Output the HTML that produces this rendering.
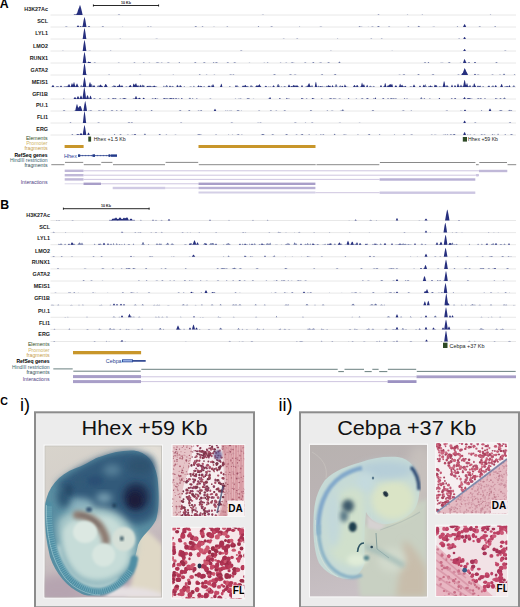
<!DOCTYPE html>
<html><head><meta charset="utf-8"><style>
html,body{margin:0;padding:0;background:#fff;}
body{width:520px;height:607px;overflow:hidden;position:relative;font-family:"Liberation Sans", sans-serif;}
svg{position:absolute;left:0;top:0;}
svg text{font-family:"Liberation Sans", sans-serif;}
</style></head><body>
<svg width="520" height="607" viewBox="0 0 520 607">
<text x="-0.3" y="8.3" font-size="12.3" fill="#000" text-anchor="start" font-weight="bold" >A</text>
<line x1="93" y1="5.5" x2="159" y2="5.5" stroke="#111" stroke-width="0.9" />
<line x1="93.4" y1="4.3" x2="93.4" y2="6.7" stroke="#111" stroke-width="0.7" />
<line x1="158.6" y1="4.3" x2="158.6" y2="6.7" stroke="#111" stroke-width="0.7" />
<text x="126" y="3.8" font-size="3.6" fill="#222" text-anchor="middle" font-weight="bold" >10 Kb</text>
<text x="48" y="10.6" font-size="5.4" fill="#1a1a1a" text-anchor="end" font-weight="bold" >H3K27Ac</text>
<line x1="50.5" y1="15" x2="516" y2="15" stroke="#e2e2e2" stroke-width="0.8" />
<polygon points="50.50,15 117.50,15 117.75,14.95 118,14.83 118.25,14.72 118.50,14.62 118.75,14.54 119,14.47 119.25,14.53 119.50,14.61 119.75,14.71 120,14.81 120.25,14.93 120.50,15 261.25,15 261.50,14.95 261.75,14.88 262,14.82 262.25,14.77 262.50,14.72 262.75,14.68 263,14.69 263.25,14.74 263.50,14.79 263.75,14.84 264,14.90 264.25,14.97 264.50,15 377.25,15 377.50,14.98 377.75,14.78 378,14.60 378.25,14.44 378.50,14.33 378.75,14.44 379,14.59 379.25,14.77 379.50,14.97 379.75,15 406.50,15 406.75,14.97 407,14.81 407.25,14.68 407.50,14.60 407.75,14.70 408,14.84 408.25,15 408.50,15 421.50,15 421.75,14.87 422,14.64 422.25,14.46 422.50,14.54 422.75,14.76 423,15 489.50,15 489.75,14.88 490,14.73 490.25,14.61 490.50,14.54 490.75,14.63 491,14.76 491.25,14.91 491.50,15 516,15" fill="#6a74a4"/>
<polygon points="50.50,15 73.50,15 73.75,14.83 74,14.67 74.25,14.52 74.50,14.39 74.75,14.28 75,14.20 75.25,14.28 75.50,14.39 75.75,14.52 76,14.67 76.25,14.30 76.50,13.98 76.75,13.52 77,13.10 77.25,12.74 77.50,12 77.75,11.03 78,10.21 78.25,9.49 78.50,8.87 78.75,8.33 79,7.89 79.25,6.99 79.50,6.17 79.75,5.48 80,5 80.25,5.48 80.50,6.17 80.75,6.99 81,7.89 81.25,8.86 81.50,9.89 81.75,10.98 82,12.11 82.25,13.29 82.50,14.50 82.75,15 516,15" fill="#262f7e"/>
<text x="48" y="23" font-size="5.4" fill="#1a1a1a" text-anchor="end" font-weight="bold" >SCL</text>
<line x1="50.5" y1="27" x2="516" y2="27" stroke="#e2e2e2" stroke-width="0.8" />
<polygon points="50.50,27 64.75,27 65,26.90 65.25,26.80 65.50,26.70 65.75,26.61 66,26.53 66.25,26.47 66.50,26.49 66.75,26.56 67,26.64 67.25,26.73 67.50,26.84 67.75,26.94 68,27 80.50,27 80.75,26.97 81,26.88 81.25,26.79 81.50,26.70 81.75,26.48 82,26.29 82.25,26.20 82.50,26.15 82.75,26.14 83,26.27 83.25,26.48 83.50,26.56 83.75,26.52 84,26.54 84.25,26.62 84.50,26.77 84.75,26.96 85,27 101.50,27 101.75,26.85 102,26.64 102.25,26.45 102.50,26.29 102.75,26.16 103,26.18 103.25,26.31 103.50,26.48 103.75,26.67 104,26.88 104.25,27 121.75,27 122,26.90 122.25,26.78 122.50,26.69 122.75,26.72 123,26.82 123.25,26.94 123.50,27 147,27 147.25,26.90 147.50,26.70 147.75,26.53 148,26.41 148.25,26.49 148.50,26.65 148.75,26.84 149,27 150,27 150.25,26.87 150.50,26.72 150.75,26.60 151,26.56 151.25,26.66 151.50,26.80 151.75,26.95 152,27 194.25,27 194.50,26.99 194.75,26.77 195,26.57 195.25,26.38 195.50,26.22 195.75,26.10 196,26.18 196.25,26.33 196.50,26.51 196.75,26.71 197,26.93 197.25,27 201.50,27 201.75,26.87 202,26.65 202.25,26.45 202.50,26.30 202.75,26.31 203,26.47 203.25,26.67 203.50,26.89 203.75,27 213,27 213.25,26.89 213.50,26.78 213.75,26.69 214,26.68 214.25,26.76 214.50,26.87 214.75,26.99 215,27 226.25,27 226.50,26.84 226.75,26.67 227,26.53 227.25,26.41 227.50,26.48 227.75,26.62 228,26.78 228.25,26.96 228.50,27 257.50,27 257.75,26.92 258,26.55 258.25,26.24 258.50,26.11 258.75,26.37 259,26.72 259.25,27 270,27 270.25,27 270.50,26.86 270.75,26.73 271,26.61 271.25,26.50 271.50,26.41 271.75,26.35 272,26.42 272.25,26.52 272.50,26.63 272.75,26.76 273,26.89 273.25,27 298.75,27 299,26.88 299.25,26.63 299.50,26.46 299.75,26.61 300,26.85 300.25,27 319.25,27 319.50,26.93 319.75,26.84 320,26.77 320.25,26.69 320.50,26.63 320.75,26.58 321,26.58 321.25,26.63 321.50,26.70 321.75,26.77 322,26.85 322.25,26.94 322.50,27 358.50,27 358.75,26.87 359,26.59 359.25,26.35 359.50,26.15 359.75,26.14 360,26.34 360.25,26.58 360.50,26.85 360.75,26.91 361,26.83 361.25,26.75 361.50,26.70 361.75,26.73 362,26.79 362.25,26.87 362.50,26.96 362.75,27 367.50,27 367.75,26.92 368,26.79 368.25,26.70 368.50,26.76 368.75,26.88 369,27 370.75,27 371,26.95 371.25,26.86 371.50,26.78 371.75,26.70 372,26.64 372.25,26.58 372.50,26.56 372.75,26.61 373,26.67 373.25,26.74 373.50,26.82 373.75,26.91 374,27 374.25,27 376.75,27 377,26.97 377.25,26.85 377.50,26.59 377.75,26.35 378,26.14 378.25,26.02 378.50,25.96 378.75,26.05 379,26.24 379.25,26.46 379.50,26.63 379.75,26.80 380,26.99 380.25,27 387.75,27 388,26.89 388.25,26.76 388.50,26.64 388.75,26.53 389,26.46 389.25,26.50 389.50,26.59 389.75,26.70 390,26.83 390.25,26.97 390.50,27 407.25,27 407.50,26.85 407.75,26.70 408,26.57 408.25,26.47 408.50,26.49 408.75,26.60 409,26.74 409.25,26.89 409.50,27 417.25,27 417.50,26.90 417.75,26.73 418,26.53 418.25,26.23 418.50,25.98 418.75,25.82 419,25.94 419.25,26.18 419.50,26.46 419.75,26.61 420,26.76 420.25,26.93 420.50,27 432,27 432.25,26.96 432.50,26.89 432.75,26.82 433,26.76 433.25,26.70 433.50,26.66 433.75,26.65 434,26.69 434.25,26.74 434.50,26.80 434.75,26.87 435,26.94 435.25,27 456.50,27 456.75,26.88 457,26.51 457.25,26.22 457.50,26.19 457.75,26.47 458,26.83 458.25,27 478.25,27 478.50,27 478.75,26.84 479,26.70 479.25,26.57 479.50,26.45 479.75,26.37 480,26.44 480.25,26.55 480.50,26.68 480.75,26.83 481,26.98 481.25,27 494,27 494.25,26.92 494.50,26.63 494.75,26.36 495,26.15 495.25,26.15 495.50,26.36 495.75,26.62 496,26.92 496.25,27 516,27" fill="#6a74a4"/>
<polygon points="50.50,27 76.75,27 77,26.62 77.25,26.18 77.50,25.78 77.75,25.43 78,25.20 78.25,25.43 78.50,25.78 78.75,26.18 79,26.62 79.25,27 79.50,27 79.75,26.69 80,26.41 80.25,26.16 80.50,26 80.75,26.16 81,26.41 81.25,26.69 81.50,27 82.50,27 82.75,25.41 83,23.88 83.25,22.43 83.50,21.06 83.75,19.79 84,18.65 84.25,17.67 84.50,17 84.75,17.67 85,18.65 85.25,19.79 85.50,21.06 85.75,22.43 86,23.88 86.25,25.41 86.50,27 87.75,27 88,26.79 88.25,26.54 88.50,26.32 88.75,26.13 89,26 89.25,26.13 89.50,26.32 89.75,26.54 90,26.79 90.25,27 463,27 463.25,26.62 463.50,26 463.75,25.43 464,24.91 464.25,24.45 464.50,24.09 464.75,24.15 465,24.54 465.25,25.01 465.50,25.54 465.75,26.12 466,26.74 466.25,27 516,27" fill="#262f7e"/>
<text x="48" y="34.9" font-size="5.4" fill="#1a1a1a" text-anchor="end" font-weight="bold" >LYL1</text>
<line x1="50.5" y1="39" x2="516" y2="39" stroke="#e2e2e2" stroke-width="0.8" />
<polygon points="50.50,39 119.25,39 119.50,38.92 119.75,38.71 120,38.53 120.25,38.48 120.50,38.63 120.75,38.83 121,39 155,39 155.25,38.99 155.50,38.92 155.75,38.84 156,38.77 156.25,38.71 156.50,38.67 156.75,38.66 157,38.71 157.25,38.77 157.50,38.83 157.75,38.91 158,38.98 158.25,39 282.50,39 282.75,38.94 283,38.83 283.25,38.74 283.50,38.66 283.75,38.61 284,38.67 284.25,38.75 284.50,38.85 284.75,38.95 285,39 296,39 296.25,38.90 296.50,38.76 296.75,38.62 297,38.51 297.25,38.46 297.50,38.55 297.75,38.66 298,38.80 298.25,38.95 298.50,39 337,39 337.25,38.81 337.50,38.60 337.75,38.49 338,38.66 338.25,38.89 338.50,39 370,39 370.25,38.95 370.50,38.79 370.75,38.65 371,38.53 371.25,38.46 371.50,38.56 371.75,38.68 372,38.83 372.25,38.99 372.50,39 380.75,39 381,38.84 381.25,38.68 381.50,38.55 381.75,38.46 382,38.55 382.25,38.68 382.50,38.84 382.75,39 458,39 458.25,38.92 458.50,38.74 458.75,38.58 459,38.45 459.25,38.44 459.50,38.57 459.75,38.73 460,38.92 460.25,39 516,39" fill="#6a74a4"/>
<polygon points="50.50,39 82.50,39 82.75,38.60 83,36.68 83.25,34.85 83.50,33.12 83.75,31.52 84,30.08 84.25,28.85 84.50,28 84.75,28.85 85,30.08 85.25,31.52 85.50,33.12 85.75,34.85 86,36.68 86.25,38.60 86.50,39 463.25,39 463.50,38.57 463.75,38.07 464,37.61 464.25,37.20 464.50,36.88 464.75,36.93 465,37.28 465.25,37.69 465.50,38.16 465.75,38.68 466,39 516,39" fill="#262f7e"/>
<text x="48" y="48.2" font-size="5.4" fill="#1a1a1a" text-anchor="end" font-weight="bold" >LMO2</text>
<line x1="50.5" y1="51" x2="516" y2="51" stroke="#e2e2e2" stroke-width="0.8" />
<polygon points="50.50,51 62.25,51 62.50,50.83 62.75,50.69 63,50.62 63.25,50.73 63.50,50.88 63.75,51 88,51 88.25,50.98 88.50,50.89 88.75,50.81 89,50.74 89.25,50.68 89.50,50.63 89.75,50.63 90,50.68 90.25,50.75 90.50,50.82 90.75,50.90 91,50.98 91.25,51 109.75,51 110,50.90 110.25,50.71 110.50,50.56 110.75,50.52 111,50.66 111.25,50.84 111.50,51 239.75,51 240,50.97 240.25,50.83 240.50,50.70 240.75,50.59 241,50.48 241.25,50.41 241.50,50.47 241.75,50.56 242,50.68 242.25,50.80 242.50,50.94 242.75,51 329.75,51 330,50.95 330.25,50.84 330.50,50.75 330.75,50.67 331,50.68 331.25,50.75 331.50,50.85 331.75,50.95 332,51 391.25,51 391.50,50.96 391.75,50.79 392,50.65 392.25,50.66 392.50,50.80 392.75,50.97 393,51 463,51 463.25,50.89 463.50,50.63 463.75,50.42 464,50.42 464.25,50.63 464.50,50.89 464.75,51 503.75,51 504,50.99 504.25,50.87 504.50,50.77 504.75,50.67 505,50.58 505.25,50.52 505.50,50.56 505.75,50.64 506,50.73 506.25,50.84 506.50,50.95 506.75,51 516,51" fill="#6a74a4"/>
<polygon points="50.50,51 82.50,51 82.75,50.60 83,48.68 83.25,46.85 83.50,45.12 83.75,43.52 84,42.08 84.25,40.85 84.50,40 84.75,40.85 85,42.08 85.25,43.52 85.50,45.12 85.75,46.85 86,48.68 86.25,50.60 86.50,51 463.25,51 463.50,50.61 463.75,50.15 464,49.73 464.25,49.36 464.50,49.07 464.75,49.12 465,49.43 465.25,49.81 465.50,50.24 465.75,50.71 466,51 516,51" fill="#262f7e"/>
<text x="48" y="60.4" font-size="5.4" fill="#1a1a1a" text-anchor="end" font-weight="bold" >RUNX1</text>
<line x1="50.5" y1="63" x2="516" y2="63" stroke="#e2e2e2" stroke-width="0.8" />
<polygon points="50.50,63 83.50,63 83.75,62.79 84,62.56 84.25,62.35 84.50,62.18 84.75,62.09 85,62.23 85.25,62.42 85.50,62.64 85.75,62.88 86,63 89.25,63 89.50,62.92 89.75,62.73 90,62.58 90.25,62.48 90.50,62.49 90.75,62.63 91,62.78 91.25,62.98 91.50,63 93.50,63 93.75,62.85 94,62.68 94.25,62.52 94.50,62.38 94.75,62.30 95,62.39 95.25,62.53 95.50,62.69 95.75,62.86 96,63 117.50,63 117.75,62.90 118,62.81 118.25,62.72 118.50,62.64 118.75,62.59 119,62.64 119.25,62.72 119.50,62.81 119.75,62.90 120,63 133,63 133.25,62.93 133.50,62.80 133.75,62.69 134,62.65 134.25,62.55 134.50,62.40 134.75,62.32 135,62.44 135.25,62.70 135.50,63 142.50,63 142.75,62.98 143,62.79 143.25,62.62 143.50,62.47 143.75,62.37 144,62.45 144.25,62.59 144.50,62.75 144.75,62.94 145,63 148.25,63 148.50,62.98 148.75,62.85 149,62.72 149.25,62.63 149.50,62.61 149.75,62.70 150,62.82 150.25,62.95 150.50,63 155.50,63 155.75,62.97 156,62.84 156.25,62.73 156.50,62.62 156.75,62.53 157,62.42 157.25,62.38 157.50,62.37 157.75,62.39 158,62.43 158.25,62.50 158.50,62.56 158.75,62.64 159,62.72 159.25,62.81 159.50,62.92 159.75,63 160.50,63 160.75,62.93 161,62.81 161.25,62.70 161.50,62.61 161.75,62.57 162,62.65 162.25,62.74 162.50,62.86 162.75,62.98 163,63 166.75,63 167,62.95 167.25,62.83 167.50,62.72 167.75,62.62 168,62.52 168.25,62.45 168.50,62.42 168.75,62.49 169,62.57 169.25,62.67 169.50,62.78 169.75,62.90 170,63 178.50,63 178.75,62.71 179,62.36 179.25,62.10 179.50,62.24 179.75,62.56 180,62.95 180.25,63 194,63 194.25,62.79 194.50,62.59 194.75,62.41 195,62.25 195.25,62.13 195.50,62.19 195.75,62.33 196,62.51 196.25,62.70 196.50,62.91 196.75,63 202.75,63 203,62.91 203.25,62.75 203.50,62.60 203.75,62.47 204,62.35 204.25,62.26 204.50,62.30 204.75,62.40 205,62.53 205.25,62.67 205.50,62.82 205.75,62.98 206,63 212.75,63 213,62.80 213.25,62.44 213.50,62.14 213.75,62.05 214,62.31 214.25,62.65 214.50,63 214.75,63 215,62.94 215.25,62.76 215.50,62.60 215.75,62.45 216,62.32 216.25,62.21 216.50,62.17 216.75,62.27 217,62.40 217.25,62.54 217.50,62.70 217.75,62.86 218,63 226.50,63 226.75,62.87 227,62.66 227.25,62.47 227.50,62.30 227.75,62.18 228,62.23 228.25,62.38 228.50,62.56 228.75,62.76 229,62.98 229.25,63 233,63 233.25,62.96 233.50,62.82 233.75,62.69 234,62.57 234.25,62.46 234.50,62.37 234.75,62.32 235,62.39 235.25,62.48 235.50,62.60 235.75,62.72 236,62.85 236.25,62.99 236.50,63 248.25,63 248.50,63 248.75,62.89 249,62.80 249.25,62.72 249.50,62.69 249.75,62.75 250,62.84 250.25,62.94 250.50,63 263,63 263.25,62.97 263.50,62.89 263.75,62.82 264,62.75 264.25,62.70 264.50,62.72 264.75,62.77 265,62.84 265.25,62.92 265.50,63 266.75,63 267,62.80 267.25,62.58 267.50,62.40 267.75,62.36 268,62.53 268.25,62.75 268.50,62.99 268.75,63 279.75,63 280,62.83 280.25,62.64 280.50,62.48 280.75,62.47 281,62.63 281.25,62.83 281.50,63 285,63 285.25,62.88 285.50,62.76 285.75,62.66 286,62.57 286.25,62.56 286.50,62.64 286.75,62.75 287,62.86 287.25,62.99 287.50,63 290.75,63 291,62.87 291.25,62.72 291.50,62.59 291.75,62.47 292,62.37 292.25,62.36 292.50,62.46 292.75,62.58 293,62.62 293.25,62.68 293.50,62.73 293.75,62.67 294,62.72 294.25,62.80 294.50,62.90 294.75,63 303.75,63 304,62.94 304.25,62.78 304.50,62.64 304.75,62.51 305,62.39 305.25,62.33 305.50,62.41 305.75,62.53 306,62.66 306.25,62.81 306.50,62.97 306.75,63 312,63 312.25,62.85 312.50,62.62 312.75,62.40 313,62.21 313.25,62.06 313.50,62.10 313.75,62.26 314,62.46 314.25,62.68 314.50,62.92 314.75,63 318.25,63 318.50,62.97 318.75,62.90 319,62.84 319.25,62.79 319.50,62.74 319.75,62.70 320,62.69 320.25,62.62 320.50,62.48 320.75,62.38 321,62.33 321.25,62.47 321.50,62.66 321.75,62.84 322,63 327,63 327.25,62.91 327.50,62.73 327.75,62.56 328,62.40 328.25,62.26 328.50,62.16 328.75,62.20 329,62.32 329.25,62.47 329.50,62.63 329.75,62.81 330,63 338,63 338.25,62.89 338.50,62.69 338.75,62.30 339,61.93 339.25,61.63 339.50,61.52 339.75,61.75 340,62.09 340.25,62.47 340.50,62.90 340.75,63 423.50,63 423.75,62.92 424,62.75 424.25,62.60 424.50,62.46 424.75,62.29 425,62.18 425.25,62.19 425.50,62.31 425.75,62.55 426,62.84 426.25,63 427.25,63 427.50,62.96 427.75,62.72 428,62.41 428.25,62.04 428.50,61.89 428.75,62.12 429,62.51 429.25,62.97 429.50,63 439.75,63 440,62.97 440.25,62.89 440.50,62.82 440.75,62.75 441,62.70 441.25,62.68 441.50,62.67 441.75,62.66 442,62.66 442.25,62.68 442.50,62.70 442.75,62.71 443,62.76 443.25,62.82 443.50,62.88 443.75,62.96 444,63 447.75,63 448,62.86 448.25,62.67 448.50,62.49 448.75,62.32 449,62.18 449.25,62.08 449.50,62.16 449.75,62.30 450,62.46 450.25,62.64 450.50,62.83 450.75,63 459.50,63 459.75,62.90 460,62.79 460.25,62.69 460.50,62.72 460.75,62.82 461,62.94 461.25,63 465.25,63 465.50,62.91 465.75,62.82 466,62.74 466.25,62.67 466.50,62.62 466.75,62.66 467,62.73 467.25,62.81 467.50,62.89 467.75,62.99 468,63 474.25,63 474.50,62.62 474.75,62.27 475,62.02 475.25,62.19 475.50,62.51 475.75,62.89 476,63 495,63 495.25,62.88 495.50,62.67 495.75,62.48 496,62.31 496.25,62.16 496.50,62.11 496.75,62.23 497,62.38 497.25,62.57 497.50,62.76 497.75,62.98 498,63 516,63" fill="#6a74a4"/>
<polygon points="50.50,63 82.50,63 82.75,62.60 83,60.68 83.25,58.85 83.50,57.12 83.75,55.52 84,54.08 84.25,52.85 84.50,52 84.75,52.85 85,54.08 85.25,55.52 85.50,57.12 85.75,58.85 86,60.68 86.25,62.60 86.50,63 87.25,63 87.50,62.68 87.75,62.31 88,61.98 88.25,61.70 88.50,61.50 88.75,61.70 89,61.98 89.25,61.94 89.50,61.97 89.75,62 90,61.80 90.25,62 90.50,62.29 90.75,62.63 91,63 463,63 463.25,62.21 463.50,61.46 463.75,60.76 464,60.12 464.25,59.55 464.50,59.11 464.75,59.18 465,59.66 465.25,60.24 465.50,60.89 465.75,61.60 466,62.36 466.25,63 468,63 468.25,62.69 468.50,62.41 468.75,62.16 469,62 469.25,62.16 469.50,62.41 469.75,62.69 470,63 474,63 474.25,62.69 474.50,62.41 474.75,62.16 475,62 475.25,62.16 475.50,62.41 475.75,62.69 476,63 516,63" fill="#262f7e"/>
<text x="48" y="72.4" font-size="5.4" fill="#1a1a1a" text-anchor="end" font-weight="bold" >GATA2</text>
<line x1="50.5" y1="75" x2="516" y2="75" stroke="#e2e2e2" stroke-width="0.8" />
<polygon points="50.50,75 85,75 85.25,74.97 85.50,74.73 85.75,74.52 86,74.34 86.25,74.28 86.50,74.44 86.75,74.64 87,74.87 87.25,75 108,75 108.25,74.95 108.50,74.75 108.75,74.57 109,74.43 109.25,74.47 109.50,74.63 109.75,74.82 110,75 138.50,75 138.75,74.98 139,74.91 139.25,74.84 139.50,74.78 139.75,74.73 140,74.68 140.25,74.67 140.50,74.71 140.75,74.76 141,74.82 141.25,74.89 141.50,74.96 141.75,75 172.50,75 172.75,74.84 173,74.70 173.25,74.62 173.50,74.72 173.75,74.87 174,75 198.50,75 198.75,74.96 199,74.72 199.25,74.51 199.50,74.32 199.75,74.19 200,74.31 200.25,74.49 200.50,74.71 200.75,74.94 201,75 205.50,75 205.75,74.96 206,74.83 206.25,74.71 206.50,74.62 206.75,74.61 207,74.71 207.25,74.82 207.50,74.95 207.75,75 213.25,75 213.50,74.89 213.75,74.77 214,74.67 214.25,74.59 214.50,74.63 214.75,74.72 215,74.83 215.25,74.95 215.50,75 229,75 229.25,74.94 229.50,74.81 229.75,74.69 230,74.58 230.25,74.48 230.50,74.40 230.75,74.40 231,74.48 231.25,74.58 231.50,74.69 231.75,74.81 232,74.94 232.25,75 232.50,74.84 232.75,74.67 233,74.51 233.25,74.38 233.50,74.36 233.75,74.48 234,74.63 234.25,74.81 234.50,75 234.75,75 273,75 273.25,74.83 273.50,74.66 273.75,74.50 274,74.35 274.25,74.23 274.50,74.15 274.75,74.24 275,74.37 275.25,74.52 275.50,74.68 275.75,74.85 276,75 288.75,75 289,74.93 289.25,74.78 289.50,74.65 289.75,74.53 290,74.42 290.25,74.33 290.50,74.30 290.75,74.38 291,74.48 291.25,74.59 291.50,74.72 291.75,74.86 292,75 293.50,75 293.75,74.97 294,74.87 294.25,74.78 294.50,74.69 294.75,74.62 295,74.56 295.25,74.53 295.50,74.58 295.75,74.65 296,74.73 296.25,74.82 296.50,74.91 296.75,75 320.75,75 321,74.86 321.25,74.64 321.50,74.45 321.75,74.27 322,74.14 322.25,74.16 322.50,74.31 322.75,74.48 323,74.68 323.25,74.90 323.50,75 333.75,75 334,74.79 334.25,74.58 334.50,74.40 334.75,74.23 335,74.09 335.25,74.05 335.50,74.17 335.75,74.33 336,74.51 336.25,74.71 336.50,74.92 336.75,75 398.25,75 398.50,74.97 398.75,74.87 399,74.78 399.25,74.70 399.50,74.63 399.75,74.60 400,74.66 400.25,74.74 400.50,74.82 400.75,74.92 401,75 402.50,75 402.75,74.85 403,74.70 403.25,74.55 403.50,74.43 403.75,74.32 404,74.27 404.25,74.36 404.50,74.48 404.75,74.61 405,74.76 405.25,74.92 405.50,75 417,75 417.25,74.97 417.50,74.74 417.75,74.53 418,74.34 418.25,74.17 418.50,74.05 418.75,74.15 419,74.31 419.25,74.50 419.50,74.71 419.75,74.94 420,75 431.50,75 431.75,74.86 432,74.69 432.25,74.53 432.50,74.39 432.75,74.26 433,74.17 433.25,74.23 433.50,74.35 433.75,74.49 434,74.64 434.25,74.81 434.50,74.99 434.75,75 457,75 457.25,74.93 457.50,74.81 457.75,74.70 458,74.60 458.25,74.51 458.50,74.46 458.75,74.51 459,74.60 459.25,74.70 459.50,74.81 459.75,74.93 460,75 476.50,75 476.75,74.91 477,74.82 477.25,74.74 477.50,74.67 477.75,74.60 478,74.55 478.25,74.56 478.50,74.62 478.75,74.69 479,74.76 479.25,74.85 479.50,74.93 479.75,75 491,75 491.25,74.97 491.50,74.85 491.75,74.74 492,74.64 492.25,74.56 492.50,74.49 492.75,74.52 493,74.60 493.25,74.69 493.50,74.80 493.75,74.91 494,75 499.25,75 499.50,74.80 499.75,74.48 500,74.30 500.25,74.54 500.50,74.87 500.75,75 502.50,75 502.75,74.94 503,74.71 503.25,74.50 503.50,74.17 503.75,73.84 504,73.59 504.25,73.65 504.50,73.94 504.75,74.28 505,74.67 505.25,74.90 505.50,75 513.75,75 514,74.85 514.25,74.56 514.50,74.32 514.75,74.36 515,74.61 515.25,74.91 515.50,75 516,75" fill="#6a74a4"/>
<polygon points="50.50,75 82.50,75 82.75,74.57 83,72.47 83.25,70.47 83.50,68.59 83.75,66.85 84,65.27 84.25,63.92 84.50,63 84.75,63.92 85,65.27 85.25,66.85 85.50,68.59 85.75,70.47 86,72.47 86.25,74.57 86.50,75 461,75 461.25,74.90 461.50,74.42 461.75,73.98 462,73.58 462.25,73.23 462.50,73 462.75,73.23 463,72.58 463.25,71.79 463.50,71.11 463.75,70.54 464,69.68 464.25,68.83 464.50,68.16 464.75,68.28 465,68.99 465.25,69.23 465.50,69.61 465.75,70.13 466,70.77 466.25,71.54 466.50,72 466.75,72.29 467,72.72 467.25,73.22 467.50,73.77 467.75,74.37 468,75 474,75 474.25,74.63 474.50,74.29 474.75,74 475,73.80 475.25,74 475.50,74.29 475.75,74.63 476,75 516,75" fill="#262f7e"/>
<text x="48" y="84" font-size="5.4" fill="#1a1a1a" text-anchor="end" font-weight="bold" >MEIS1</text>
<line x1="50.5" y1="87" x2="516" y2="87" stroke="#e2e2e2" stroke-width="0.8" />
<polygon points="50.50,87 51.25,87 51.50,86.98 51.75,86.54 52,86.15 52.25,85.80 52.50,85.53 52.75,85.65 53,85.96 53.25,86.33 53.50,86.75 53.75,87 57,87 57.25,86.96 57.50,86.68 57.75,86.43 58,86.21 58.25,86.07 58.50,86.22 58.75,86.43 59,86.68 59.25,86.96 59.50,87 63.50,87 63.75,86.81 64,86.36 64.25,86 64.50,86.08 64.75,86.47 65,86.94 65.25,87 66,87 66.25,86.99 66.50,86.78 66.75,86.58 67,85.96 67.25,85.45 67.50,85.49 67.75,86 68,86.54 68.25,86.77 68.50,86.70 68.75,86.63 69,86.64 69.25,86.71 69.50,86.80 69.75,86.90 70,87 74.50,87 74.75,86.88 75,86.56 75.25,86.27 75.50,85.99 75.75,85.75 76,85.54 76.25,85.42 76.50,85.58 76.75,85.79 77,86.04 77.25,85.84 77.50,85.70 77.75,85.65 78,85.67 78.25,86.01 78.50,86.44 78.75,86.93 79,87 79.75,87 80,86.99 80.25,86.57 80.50,86.12 80.75,85.38 81,84.92 81.25,84.78 81.50,85.03 81.75,85.64 82,85.81 82.25,86.08 82.50,86.12 82.75,86.29 83,86.57 83.25,86.87 83.50,87 84,87 84.25,86.84 84.50,86.65 84.75,86.47 85,86.32 85.25,86.21 85.50,86.29 85.75,86.44 86,86.52 86.25,86.58 86.50,86.66 86.75,86.55 87,86.45 87.25,86.37 87.50,86.37 87.75,86.45 88,86.54 88.25,86.66 88.50,86.78 88.75,86.91 89,87 89.25,86.82 89.50,86.52 89.75,86.24 90,85.74 90.25,85.22 90.50,84.92 90.75,84.89 91,84.74 91.25,84.42 91.50,84 91.75,83.65 92,84.16 92.25,84.95 92.50,85.84 92.75,86.17 93,86.18 93.25,86.24 93.50,86.35 93.75,86.48 94,86.63 94.25,86.79 94.50,86.96 94.75,87 96.50,87 96.75,86.92 97,86.78 97.25,86.22 97.50,85.75 97.75,85.62 98,85.75 98.25,85.82 98.50,85.53 98.75,85.34 99,85.40 99.25,85.53 99.50,85.69 99.75,86.04 100,86.24 100.25,86.44 100.50,86.66 100.75,86.89 101,87 103.75,87 104,86.78 104.25,86.36 104.50,86 104.75,85.76 105,86 105.25,86.36 105.50,86.77 105.75,87 111.50,87 111.75,86.77 112,86.53 112.25,86.36 112.50,86.29 112.75,86.18 113,86.09 113.25,85.76 113.50,85.47 113.75,85.24 114,85.23 114.25,85.46 114.50,85.75 114.75,86.08 115,86.44 115.25,86.83 115.50,87 116.50,87 116.75,86.84 117,86.65 117.25,86.50 117.50,86.47 117.75,86.61 118,86.79 118.25,87 125,87 125.25,86.84 125.50,86.70 125.75,86.56 126,86.44 126.25,86.34 126.50,86.29 126.75,86.37 127,86.48 127.25,86.61 127.50,86.75 127.75,86.90 128,87 133,87 133.25,86.90 133.50,86.51 133.75,86.16 134,85.86 134.25,85.64 134.50,85.83 134.75,86.13 135,86.48 135.25,86.87 135.50,87 137.50,87 137.75,86.97 138,86.88 138.25,86.80 138.50,86.73 138.75,86.67 139,86.62 139.25,86.65 139.50,86.71 139.75,86.78 140,86.72 140.25,86.66 140.50,86.58 140.75,86.45 141,86.34 141.25,86.17 141.50,85.86 141.75,85.50 142,85.08 142.25,84.74 142.50,84.67 142.75,84.84 143,85.02 143.25,85.27 143.50,85.33 143.75,85.22 144,85.13 144.25,85.43 144.50,86.01 144.75,86.67 145,87 145.50,87 145.75,86.98 146,86.90 146.25,86.82 146.50,86.75 146.75,86.49 147,86.30 147.25,86.21 147.50,86.21 147.75,86.11 148,86.04 148.25,85.75 148.50,85.66 148.75,85.92 149,86.24 149.25,86.62 149.50,87 149.75,86.88 150,86.75 150.25,86.64 150.50,86.53 150.75,86.44 151,86.36 151.25,86.35 151.50,86.27 151.75,86.22 152,86.20 152.25,86.24 152.50,86.37 152.75,86.29 153,86.19 153.25,86.11 153.50,85.91 153.75,85.72 154,85.59 154.25,85.71 154.50,85.90 154.75,86.09 155,86.18 155.25,86.30 155.50,86.45 155.75,86.43 156,86.34 156.25,86.36 156.50,86.46 156.75,86.58 157,86.71 157.25,86.86 157.50,87 163,87 163.25,86.59 163.50,86.08 163.75,85.66 164,85.60 164.25,86 164.50,86.49 164.75,87 165,87 165.25,86.76 165.50,86.36 165.75,85.99 166,85.64 166.25,85.33 166.50,85.08 166.75,85.05 167,85.28 167.25,85.58 167.50,85.92 167.75,86.29 168,86.69 168.25,87 171,87 171.25,86.80 171.50,86.57 171.75,86.36 172,86.17 172.25,86 172.50,85.87 172.75,85.94 173,86.10 173.25,86.29 173.50,86.49 173.75,86.72 174,86.96 174.25,87 176.50,87 176.75,86.97 177,86.90 177.25,86.83 177.50,86.77 177.75,86.72 178,86.67 178.25,86.56 178.50,86.18 178.75,85.69 179,85.49 179.25,85.65 179.50,85.91 179.75,85.75 180,85.24 180.25,84.95 180.50,85.03 180.75,85.51 181,86.08 181.25,86.56 181.50,86.82 181.75,87 183.50,87 183.75,86.79 184,86.36 184.25,86.04 184.50,86.18 184.75,86.55 185,87 189,87 189.25,86.92 189.50,86.80 189.75,86.69 190,86.59 190.25,86.50 190.50,86.42 190.75,86.42 191,86.49 191.25,86.58 191.50,86.68 191.75,86.79 192,86.91 192.25,87 192.75,87 193,86.97 193.25,86.47 193.50,86.03 193.75,85.68 194,85.70 194.25,86.07 194.50,86.51 194.75,87 199.50,87 199.75,86.75 200,86.23 200.25,85.78 200.50,85.57 200.75,85.93 201,86.41 201.25,86.96 201.50,87 203,87 203.25,86.95 203.50,86.55 203.75,86.20 204,85.92 204.25,85.98 204.50,86.28 204.75,86.65 205,87 207,87 207.25,86.92 207.50,86.66 207.75,86.42 208,86.20 208.25,86 208.50,85.84 208.75,85.79 209,85.93 209.25,86.11 209.50,86.32 209.75,86.56 210,86.71 210.25,86.78 210.50,86.66 210.75,86.15 211,85.39 211.25,84.93 211.50,85.25 211.75,85.99 212,86.82 212.25,87 212.50,86.79 212.75,86.19 213,85.60 213.25,85.30 213.50,85.55 213.75,86.02 214,86.60 214.25,86.75 214.50,86.91 214.75,87 228.75,87 229,86.92 229.25,86.50 229.50,86.14 229.75,85.88 230,86.04 230.25,86.37 230.50,86.77 230.75,87 236.50,87 236.75,86.87 237,86.63 237.25,85.91 237.50,85.32 237.75,85.14 238,85.66 238.25,86.33 238.50,86.65 238.75,86.88 239,87 242.75,87 243,86.96 243.25,86.84 243.50,86.74 243.75,86.65 244,86.67 244.25,86.76 244.50,86.87 244.75,86.99 245,87 246,87 246.25,86.90 246.50,86.65 246.75,86.42 247,86.21 247.25,86.02 247.50,85.87 247.75,85.89 248,86.04 248.25,86.23 248.50,86.45 248.75,86.68 249,86.93 249.25,87 249.75,87 250,86.58 250.25,85.92 250.50,85.38 250.75,85.36 251,85.46 251.25,85.47 251.50,85.30 251.75,85.43 252,85.63 252.25,85.87 252.50,86.19 252.75,86.59 253,86.77 253.25,86.84 253.50,86.92 253.75,87 255.25,87 255.50,86.77 255.75,86.52 256,86.30 256.25,86.11 256.50,85.76 256.75,85.49 257,85.39 257.25,85.87 257.50,86.51 257.75,87 259.25,87 259.50,86.85 259.75,86.65 260,86.48 260.25,86.33 260.50,86.24 260.75,86.36 261,86.52 261.25,86.70 261.50,86.90 261.75,87 267.50,87 267.75,86.94 268,86.80 268.25,86.66 268.50,86.55 268.75,86.47 269,86.54 269.25,86.65 269.50,86.78 269.75,86.80 270,86.71 270.25,86.56 270.50,86.45 270.75,86.49 271,86.61 271.25,86.76 271.50,86.93 271.75,87 276.50,87 276.75,86.67 277,85.70 277.25,84.80 277.50,84.51 277.75,84.45 278,84.46 278.25,84.21 278.50,84 278.75,84.22 279,84.63 279.25,85.28 279.50,86.03 279.75,86.44 280,86.60 280.25,86.78 280.50,86.96 280.75,87 281,86.92 281.25,86.58 281.50,86.30 281.75,86.17 282,86.41 282.25,86.71 282.50,87 283.25,87 283.50,86.78 283.75,86.38 284,86.05 284.25,86.02 284.50,86.08 284.75,86.18 285,86.17 285.25,86.27 285.50,86.42 285.75,86.59 286,86.74 286.25,86.85 286.50,86.96 286.75,87 289.75,87 290,86.91 290.25,86.78 290.50,86.66 290.75,86.56 291,86.50 291.25,86.57 291.50,86.67 291.75,86.79 292,86.66 292.25,86.41 292.50,86.12 292.75,85.86 293,85.57 293.25,85.43 293.50,85.48 293.75,85.59 294,85.76 294.25,86.06 294.50,86.34 294.75,86.49 295,86.66 295.25,86.81 295.50,86.74 295.75,86.54 296,86.38 296.25,86.34 296.50,86.49 296.75,86.67 297,86.77 297.25,86.47 297.50,86.12 297.75,86.07 298,86.40 298.25,86.81 298.50,87 305.25,87 305.50,86.76 305.75,86.26 306,85.85 306.25,85.66 306.50,85.95 306.75,86.25 307,86.63 307.25,86.55 307.50,86.44 307.75,86.22 308,86.11 308.25,86.06 308.50,85.84 308.75,85.39 309,85.08 309.25,84.92 309.50,85.29 309.75,85.83 310,86.30 310.25,86.55 310.50,86.45 310.75,86.28 311,86.13 311.25,85.92 311.50,85.58 311.75,85.34 312,85.18 312.25,85.16 312.50,85.59 312.75,86.12 313,86.51 313.25,86.93 313.50,87 314.25,87 314.50,86.91 314.75,86.77 315,86.69 315.25,86.80 315.50,86.95 315.75,87 316.75,87 317,86.99 317.25,86.82 317.50,86.66 317.75,86.34 318,85.98 318.25,85.76 318.50,85.68 318.75,85.68 319,85.93 319.25,86.27 319.50,86.49 319.75,86.73 320,87 320.25,86.78 320.50,86.49 320.75,86.24 321,86.15 321.25,86.29 321.50,86.49 321.75,86.44 322,85.97 322.25,85.69 322.50,86 322.75,86.48 323,86.79 323.25,86.77 323.50,86.72 323.75,86.64 324,86.56 324.25,86.56 324.50,86.63 324.75,86.72 325,86.82 325.25,86.92 325.50,86.91 325.75,86.57 326,86.26 326.25,85.99 326.50,85.78 326.75,85.78 327,85.95 327.25,86.11 327.50,86.02 327.75,85.70 328,85.20 328.25,85.18 328.50,85.33 328.75,85.84 329,86.20 329.25,86.53 329.50,86.89 329.75,87 330.75,87 331,86.99 331.25,86.86 331.50,86.76 331.75,86.70 332,86.77 332.25,86.88 332.50,87 334.25,87 334.50,86.80 334.75,86.43 335,86.10 335.25,85.76 335.50,84.85 335.75,84.27 336,83.90 336.25,84.07 336.50,84.63 336.75,84.82 337,85.30 337.25,86.06 337.50,86.65 337.75,87 338.25,87 338.50,86.89 338.75,86.64 339,86.41 339.25,86.20 339.50,86.01 339.75,85.85 340,85.85 340.25,85.73 340.50,85.46 340.75,85.29 341,85.39 341.25,85.97 341.50,86.50 341.75,86.99 342,87 346,87 346.25,86.92 346.50,86.83 346.75,86.75 347,86.68 347.25,86.63 347.50,86.63 347.75,86.69 348,86.76 348.25,86.84 348.50,86.93 348.75,87 353,87 353.25,86.91 353.50,86.63 353.75,86.38 354,86.15 354.25,85.95 354.50,85.81 354.75,85.92 355,86.12 355.25,86.35 355.50,86.60 355.75,86.87 356,87 356.25,87 356.50,86.40 356.75,85.82 357,85.46 357.25,85.79 357.50,86.28 357.75,86.61 358,86.71 358.25,86.82 358.50,86.95 358.75,87 359.75,87 360,86.83 360.25,86.60 360.50,86.39 360.75,86.21 361,86.06 361.25,86.06 361.50,86.21 361.75,86.39 362,86.60 362.25,86.82 362.50,87 368.75,87 369,86.86 369.25,86.51 369.50,86.19 369.75,85.90 370,85.66 370.25,85.53 370.50,85.73 370.75,85.98 371,86.21 371.25,86.37 371.50,86.59 371.75,86.54 372,86.64 372.25,86.79 372.50,86.96 372.75,86.79 373,86.51 373.25,86.26 373.50,86.04 373.75,85.87 374,85.94 374.25,86.14 374.50,86.38 374.75,86.64 375,86.93 375.25,87 380.25,87 380.50,86.37 380.75,85.77 381,85.66 381.25,86.23 381.50,86.94 381.75,87 382.50,87 382.75,86.98 383,86.75 383.25,86.55 383.50,86.36 383.75,86.19 384,86.07 384.25,86.14 384.50,86.29 384.75,86.47 385,86.66 385.25,86.88 385.50,87 394.75,87 395,86.85 395.25,86.66 395.50,86.50 395.75,86.42 396,86.54 396.25,86.71 396.50,86.90 396.75,87 398,87 398.25,86.95 398.50,86.84 398.75,86.74 399,86.64 399.25,86.49 399.50,86.32 399.75,86.27 400,86.26 400.25,86.29 400.50,86.43 400.75,86.34 401,86.08 401.25,85.82 401.50,85.62 401.75,85.41 402,85.63 402.25,85.94 402.50,86.31 402.75,86.67 403,86.65 403.25,86.37 403.50,86.13 403.75,86.02 404,86.21 404.25,86.46 404.50,86.75 404.75,86.92 405,86.79 405.25,86.69 405.50,86.68 405.75,86.78 406,86.90 406.25,87 409,87 409.25,87 409.50,86.82 409.75,86.65 410,86.50 410.25,86.35 410.50,86.23 410.75,86.13 411,86.17 411.25,86.29 411.50,86.42 411.75,86.57 412,86.73 412.25,86.91 412.50,87 413.25,87 413.50,86.96 413.75,86.84 414,86.75 414.25,86.66 414.50,86.63 414.75,86.69 415,86.79 415.25,86.89 415.50,87 423.50,87 423.75,86.74 424,86.38 424.25,86.06 424.50,85.67 424.75,85 425,84.45 425.25,84.12 425.50,84.46 425.75,85.02 426,85.70 426.25,86 426.50,86.31 426.75,86.66 427,87 427.75,87 428,86.82 428.25,86.42 428.50,86.08 428.75,85.86 429,86.10 429.25,86.45 429.50,86.85 429.75,87 431,87 431.25,86.62 431.50,86.27 431.75,85.97 432,85.81 432.25,86.04 432.50,86.36 432.75,86.73 433,87 434.25,87 434.50,86.89 434.75,86.54 435,86.21 435.25,85.92 435.50,85.66 435.75,85.47 436,85.60 436.25,85.72 436.50,85.48 436.75,85.35 437,85.59 437.25,86.20 437.50,86.71 437.75,87 438,87 438.25,86.94 438.50,86.79 438.75,86.66 439,86.53 439.25,86.41 439.50,86.32 439.75,86.27 440,86.34 440.25,86.44 440.50,86.55 440.75,86.58 441,86.63 441.25,86.69 441.50,86.64 441.75,86.58 442,86.56 442.25,86.61 442.50,86.68 442.75,86.73 443,86.75 443.25,86.70 443.50,86.54 443.75,86.34 444,86.16 444.25,86.04 444.50,85.90 444.75,85.50 445,85.26 445.25,85.54 445.50,86.22 445.75,86.92 446,87 446.25,86.94 446.50,86.80 446.75,86.66 447,86.53 447.25,86.41 447.50,86.31 447.75,86.24 448,86.31 448.25,86.41 448.50,86.53 448.75,86.66 449,86.80 449.25,86.95 449.50,87 454.50,87 454.75,86.88 455,86.41 455.25,86.02 455.50,85.90 455.75,86.24 456,86.67 456.25,87 457.50,87 457.75,86.96 458,86.53 458.25,86.14 458.50,85.80 458.75,85.53 459,85.59 459.25,85.88 459.50,86.24 459.75,86.64 460,87 461.50,87 461.75,86.97 462,86.70 462.25,86.44 462.50,86.20 462.75,85.99 463,85.82 463.25,85.78 463.50,85.93 463.75,86.13 464,86.23 464.25,86.21 464.50,86.23 464.75,86.15 465,86.03 465.25,85.92 465.50,85.89 465.75,85.91 466,85.88 466.25,85.82 466.50,86 466.75,86.23 467,86.49 467.25,86.71 467.50,86.66 467.75,86.41 468,86.19 468.25,86.03 468.50,86.12 468.75,86.32 469,86.56 469.25,86.82 469.50,87 471.50,87 471.75,86.91 472,86.28 472.25,85.75 472.50,85.51 472.75,85.94 473,86.51 473.25,87 479,87 479.25,86.58 479.50,86.17 479.75,85.81 480,85.52 480.25,85.49 480.50,85.77 480.75,86.13 481,86.53 481.25,86.97 481.50,87 481.75,87 482,86.89 482.25,86.65 482.50,86.43 482.75,86.23 483,86.08 483.25,86.09 483.50,86.25 483.75,86.45 484,86.67 484.25,86.92 484.50,87 487.25,87 487.50,86.97 487.75,86.34 488,85.83 488.25,85.76 488.50,86.24 488.75,86.86 489,87 491,87 491.25,86.76 491.50,86.48 491.75,86.22 492,86 492.25,85.81 492.50,85.68 492.75,85.57 493,85.54 493.25,85.58 493.50,85.76 493.75,86.18 494,86.42 494.25,86.69 494.50,86.99 494.75,87 500.50,87 500.75,86.92 501,86.69 501.25,86.49 501.50,86.32 501.75,86.24 502,86.37 502.25,86.55 502.50,86.76 502.75,86.99 503,87 504,87 504.25,86.90 504.50,86.62 504.75,86.37 505,86.16 505.25,86.09 505.50,86.26 505.75,86.49 506,86.76 506.25,86.94 506.50,86.83 506.75,86.73 507,86.64 507.25,86.56 507.50,86.49 507.75,86.51 508,86.58 508.25,86.67 508.50,86.76 508.75,86.86 509,86.97 509.25,87 512,87 512.25,86.99 512.50,86.74 512.75,86.50 513,86.11 513.25,85.72 513.50,85.38 513.75,85.29 514,85.33 514.25,85.58 514.50,85.96 514.75,86.38 515,86.71 515.25,86.92 515.50,87 516,87" fill="#6a74a4"/>
<polygon points="50.50,87 51.50,87 51.75,86.90 52,86.42 52.25,85.98 52.50,85.58 52.75,85.23 53,85 53.25,85.23 53.50,85.58 53.75,85.98 54,86.42 54.25,86.90 54.50,87 56,87 56.25,86.69 56.50,86.41 56.75,86.16 57,86 57.25,86.16 57.50,86.41 57.75,86.69 58,87 59.75,87 60,86.83 60.25,86.41 60.50,86.04 60.75,85.72 61,85.50 61.25,85.72 61.50,86.04 61.75,86.41 62,86.83 62.25,87 65,87 65.25,86.69 65.50,86.41 65.75,86.16 66,86 66.25,86.16 66.50,86.41 66.75,86.69 67,87 67.50,87 67.75,86.37 68,85.77 68.25,85.22 68.50,84.72 68.75,84.29 69,84 69.25,84.29 69.50,84.72 69.75,85.22 70,85.77 70.25,86.37 70.50,87 70.75,86.80 71,85.84 71.25,84.96 71.50,84.16 71.75,83.47 72,83 72.25,83.47 72.50,84.16 72.75,84.71 73,84.40 73.25,84.25 73.50,83.44 73.75,82.59 74,82 74.25,82.59 74.50,83.44 74.75,84.45 75,85.56 75.25,86.75 75.50,87 75.75,86.26 76,85.57 76.25,84.92 76.50,84.34 76.75,83.84 77,83.50 77.25,83.84 77.50,84.34 77.75,84.92 78,85.57 78.25,86.26 78.50,87 82.50,87 82.75,86.64 83,84.89 83.25,83.22 83.50,81.66 83.75,80.20 84,78.89 84.25,77.77 84.50,77 84.75,77.77 85,78.89 85.25,80.20 85.50,81.66 85.75,83.22 86,84.89 86.25,86.64 86.50,87 88.50,87 88.75,85.94 89,84.95 89.25,84.03 89.50,83.20 89.75,82.49 90,82 90.25,82.49 90.50,83.20 90.75,84.03 91,84.95 91.25,85.94 91.50,87 92.75,87 93,86.58 93.25,86.09 93.50,85.64 93.75,85.26 94,85 94.25,85.26 94.50,85.64 94.75,86.09 95,86.58 95.25,87 99,87 99.25,86.58 99.50,85.90 99.75,85.29 100,84.77 100.25,84.43 100.50,84.67 100.75,84.85 101,85.14 101.25,85.53 101.50,85.64 101.75,85.47 102,85.63 102.25,85.88 102.50,86.17 102.75,86.49 103,86.84 103.25,87 104,87 104.25,86.85 104.50,86.15 104.75,85.51 105,84.95 105.25,84.29 105.50,83.95 105.75,83.97 106,84.14 106.25,84.47 106.50,84.94 106.75,85.29 107,85.72 107.25,86.21 107.50,86.74 107.75,87 114,87 114.25,86.53 114.50,86.11 114.75,85.75 115,85.50 115.25,85.75 115.50,86.11 115.75,86.53 116,87 116.50,87 116.75,86.83 117,86.50 117.25,86.20 117.50,85.94 117.75,85.79 118,85.98 118.25,86.16 118.50,85.84 118.75,85.61 119,85.23 119.25,84.40 119.50,84.24 119.75,84.34 120,84.65 120.25,85.51 120.50,86.11 120.75,86.38 121,86.42 121.25,86.02 121.50,85.67 121.75,85.37 122,85.24 122.25,85.49 122.50,85.81 122.75,86.18 123,86.59 123.25,87 128.25,87 128.50,86.96 128.75,86.59 129,86.25 129.25,85.94 129.50,85.68 129.75,85.44 130,85.22 130.25,85.11 130.50,85.10 130.75,85.24 131,85.70 131.25,86.05 131.50,86.45 131.75,86.89 132,87 132.50,87 132.75,86.16 133,85.38 133.25,84.26 133.50,83.58 133.75,83.66 134,83.96 134.25,84.46 134.50,84.74 134.75,84.95 135,84.48 135.25,84.14 135.50,83.93 135.75,83.47 136,83 136.25,83.47 136.50,84.16 136.75,84.96 137,85.84 137.25,86.18 137.50,85.81 137.75,85.33 138,85 138.25,85.33 138.50,85.81 138.75,86.38 139,87 139.25,87 139.50,86.57 139.75,85.82 140,85.17 140.25,84.65 140.50,84.73 140.75,85.28 141,85.96 141.25,86.72 141.50,87 142,87 142.25,86.83 142.50,86.60 142.75,86.38 143,86.20 143.25,86.09 143.50,86.23 143.75,86.42 144,86.64 144.25,86.88 144.50,87 146.50,87 146.75,86.70 147,86.40 147.25,86.12 147.50,85.89 147.75,85.84 148,86.04 148.25,86.31 148.50,86.60 148.75,86.93 149,87 149.25,86.53 149.50,86.11 149.75,85.75 150,85.50 150.25,85.75 150.50,86.11 150.75,86.53 151,87 153,87 153.25,86.80 153.50,86.46 153.75,86.15 154,85.87 154.25,85.65 154.50,85.68 154.75,85.91 155,86.20 155.25,86.52 155.50,86.86 155.75,87 169,87 169.25,86.53 169.50,86.11 169.75,85.75 170,85.50 170.25,85.75 170.50,86.11 170.75,86.53 171,87 176.25,87 176.50,86.63 176.75,85.87 177,85.20 177.25,84.70 177.50,84.93 177.75,85.53 178,86.25 178.25,87 179.75,87 180,86.57 180.25,86.13 180.50,85.74 180.75,85.46 181,85.63 181.25,85.99 181.50,86.41 181.75,86.88 182,87 197.25,87 197.50,86.72 197.75,86.28 198,85.88 198.25,85.53 198.50,85.26 198.75,85.39 199,85.71 199.25,86.08 199.50,86.51 199.75,86.97 200,87 200.25,86.80 200.50,86.57 200.75,86.36 201,86.18 201.25,86.06 201.50,86.18 201.75,86.35 202,86.56 202.25,86.79 202.50,87 208,87 208.25,86.54 208.50,86.12 208.75,85.75 209,85.47 209.25,85.60 209.50,85.94 209.75,86.34 210,86.78 210.25,87 211.75,87 212,86.37 212.25,85.63 212.50,84.96 212.75,84.39 213,84 213.25,84.39 213.50,84.96 213.75,85.63 214,86.37 214.25,87 219.75,87 220,86.66 220.25,86.32 220.50,85.99 220.75,85 221,84.17 221.25,83.80 221.50,83.76 221.75,84.50 222,85.42 222.25,86.44 222.50,87 235,87 235.25,86.38 235.50,85.81 235.75,85.33 236,85 236.25,85.33 236.50,85.81 236.75,86.38 237,87 241.75,87 242,86.78 242.25,86.40 242.50,86.05 242.75,85.74 243,85.50 243.25,85.56 243.50,85.82 243.75,86.15 244,86.51 244.25,86.28 244.50,85.81 244.75,85.33 245,84.87 245.25,84.88 245.50,85.06 245.75,85.37 246,85.84 246.25,86.02 246.50,86.27 246.75,86.57 247,86.90 247.25,87 255.25,87 255.50,86.78 255.75,86.40 256,86.06 256.25,85.76 256.50,85.52 256.75,85.58 257,85.83 257.25,85.68 257.50,85.61 257.75,85.63 258,85.50 258.25,85.75 258.50,85.37 258.75,85.13 259,85.02 259.25,84.34 259.50,84.35 259.75,84.58 260,84.97 260.25,85.69 260.50,85.97 260.75,86.31 261,86.70 261.25,87 264.50,87 264.75,86.81 265,86.50 265.25,86.21 265.50,85.95 265.75,85.74 266,85.69 266.25,85.89 266.50,86.14 266.75,86.42 267,86.73 267.25,87 272.25,87 272.50,86.77 272.75,86.32 273,85.91 273.25,85.55 273.50,85.28 273.75,85.40 274,85.73 274.25,86.12 274.50,86.55 274.75,87 277.25,87 277.50,86.76 277.75,86.31 278,85.92 278.25,85.66 278.50,85.92 278.75,86.30 279,86.75 279.25,87 287.50,87 287.75,86.88 288,86.28 288.25,85.72 288.50,85.22 288.75,84.79 289,84.50 289.25,84.79 289.50,85.22 289.75,85.72 290,86.28 290.25,86.88 290.50,87 290.75,86.79 291,86.45 291.25,86.15 291.50,85.92 291.75,86.01 292,86.27 292.25,86.59 292.50,86.94 292.75,86.51 293,86.05 293.25,85.62 293.50,85.24 293.75,84.93 294,84.90 294.25,85.19 294.50,85.57 294.75,85.99 295,86.45 295.25,86.32 295.50,85.81 295.75,85.33 296,85 296.25,85.33 296.50,85.66 296.75,85.77 297,85.99 297.25,85.63 297.50,85.36 297.75,85.51 298,85.84 298.25,86.23 298.50,86.66 298.75,87 301,87 301.25,86.38 301.50,85.81 301.75,85.33 302,85 302.25,85.33 302.50,85.81 302.75,86.38 303,87 307,87 307.25,86.38 307.50,85.81 307.75,85.33 308,84.89 308.25,84.54 308.50,84.04 308.75,83.45 309,83.42 309.25,83.37 309.50,83.57 309.75,84.44 310,85.13 310.25,85.70 310.50,86.33 310.75,87 314.50,87 314.75,86.90 315,85.52 315.25,84.11 315.50,82.86 315.75,81.89 316,81.86 316.25,82.82 316.50,84.06 316.75,85.46 317,86.37 317.25,87 319.25,87 319.50,86.96 319.75,86.70 320,86.46 320.25,86.26 320.50,86.10 320.75,86.19 321,86.38 321.25,86.60 321.50,86.86 321.75,87 327.75,87 328,86.30 328.25,85.65 328.50,85.15 328.75,85.29 329,85.85 329.25,86.07 329.50,86.11 329.75,85.75 330,85.50 330.25,85.75 330.50,86.11 330.75,86.53 331,87 331.50,87 331.75,86.65 332,86.07 332.25,85.56 332.50,85.17 332.75,85.29 333,85.73 333.25,86.26 333.50,86.86 333.75,87 341.25,87 341.50,86.69 341.75,86.35 342,86.06 342.25,85.82 342.50,85.82 342.75,86.06 343,86.35 343.25,86.69 343.50,87 343.75,87 344,86.94 344.25,86.15 344.50,85.26 344.75,84.54 345,84.59 345.25,85.01 345.50,85.61 345.75,86.12 346,86.29 346.25,86.49 346.50,86.71 346.75,86.95 347,87 353,87 353.25,86.79 353.50,86.30 353.75,85.84 354,85.43 354.25,85.09 354.50,84.91 354.75,85.18 355,85.55 355.25,85.97 355.50,86.44 355.75,86.94 356,87 356.25,86.38 356.50,85.81 356.75,85.33 357,84.91 357.25,84.96 357.50,85.19 357.75,85.56 358,86.20 358.25,86.40 358.50,86.65 358.75,86.94 359,87 360.75,87 361,86.37 361.25,85.34 361.50,84.16 361.75,83.14 362,82.46 362.25,83.03 362.50,83.78 362.75,84.72 363,85.51 363.25,85.33 363.50,84.64 363.75,84.29 364,84.15 364.25,84.70 364.50,85.43 364.75,86.26 365,87 366,87 366.25,86.83 366.50,86.11 366.75,85.46 367,84.94 367.25,84.84 367.50,85.32 367.75,85.94 368,86.65 368.25,87 380,87 380.25,86.38 380.50,85.81 380.75,85.33 381,85 381.25,85.33 381.50,85.81 381.75,86.38 382,87 383.75,87 384,86.71 384.25,86.26 384.50,85.21 384.75,84.10 385,83.30 385.25,83.01 385.50,83.39 385.75,84.37 386,85.53 386.25,86.35 386.50,86.81 386.75,87 387,86.79 387.25,86.36 387.50,85.96 387.75,85.61 388,85.32 388.25,85.21 388.50,85.46 388.75,85.64 389,85.30 389.25,85.05 389.50,84.87 389.75,84.35 390,84 390.25,84 390.50,84.19 390.75,84.51 391,84.97 391.25,85.08 391.50,84.52 391.75,83.99 392,83.75 392.25,84.26 392.50,85.09 392.75,86.07 393,87 394.50,87 394.75,86.76 395,86.30 395.25,85.88 395.50,85.51 395.75,85.22 396,85.25 396.25,85.56 396.50,85.93 396.75,86.36 397,86.82 397.25,87 399,87 399.25,86.26 399.50,85.26 399.75,84.39 400,83.70 400.25,83.66 400.50,84.33 400.75,85.20 401,85.84 401.25,85.86 401.50,85.58 401.75,85.13 402,84.77 402.25,84.83 402.50,85.21 402.75,85.68 403,86.20 403.25,86.77 403.50,87 403.75,87 404,87 404.25,86.71 404.50,86.44 404.75,86.20 405,85.99 405.25,85.85 405.50,85.99 405.75,86.19 406,86.43 406.25,86.70 406.50,86.98 406.75,87 412.50,87 412.75,86.87 413,86.28 413.25,85.73 413.50,85.24 413.75,84.81 414,84.51 414.25,84.78 414.50,85.19 414.75,85.68 415,86.23 415.25,86.81 415.50,87 419,87 419.25,86.53 419.50,86.11 419.75,85.75 420,85.50 420.25,85.75 420.50,86.11 420.75,86.53 421,87 422.50,87 422.75,86.72 423,86.12 423.25,85.58 423.50,85.11 423.75,84.74 424,84.85 424.25,85.26 424.50,85.76 424.75,86.32 425,86.93 425.25,87 429,87 429.25,86.68 429.50,86.32 429.75,85.99 430,85.69 430.25,85.45 430.50,85.39 430.75,85.61 431,85.90 431.25,86.22 431.50,86.57 431.75,86.95 432,87 434,87 434.25,86.16 434.50,85.33 434.75,84.65 435,84.60 435.25,85.17 435.50,85.24 435.75,85.52 436,85.02 436.25,85.23 436.50,85.81 436.75,86.51 437,87 442.50,87 442.75,86.64 443,85.34 443.25,84.14 443.50,83.06 443.75,81.90 444,81.01 444.25,81.39 444.50,82.10 444.75,83.09 445,84.49 445.25,86.05 445.50,86.56 445.75,86.89 446,87 446.25,86.38 446.50,85.81 446.75,85.33 447,85 447.25,85.33 447.50,85.81 447.75,86.38 448,87 451,87 451.25,86.22 451.50,85.52 451.75,84.91 452,84.50 452.25,84.91 452.50,85.52 452.75,86.22 453,87 454,87 454.25,86.38 454.50,85.81 454.75,85.33 455,85 455.25,85.33 455.50,85.81 455.75,86.38 456,87 456.75,87 457,86.26 457.25,85.40 457.50,84.62 457.75,83.96 458,83.50 458.25,83.96 458.50,84.62 458.75,85.40 459,86.26 459.25,87 460,87 460.25,86.22 460.50,85.52 460.75,84.91 461,84.50 461.25,84.91 461.50,85.52 461.75,86.22 462,87 463,87 463.25,85.81 463.50,84.69 463.75,83.34 464,82.10 464.25,80.99 464.50,80.10 464.75,80.04 465,80.84 465.25,81.92 465.50,83.15 465.75,84.49 466,85.08 466.25,85.17 466.50,84.28 466.75,83.52 467,83 467.25,83.52 467.50,84.28 467.75,85.17 468,86.16 468.25,87 469,87 469.25,86.38 469.50,85.81 469.75,85.33 470,85 470.25,85.33 470.50,85.81 470.75,86.38 471,87 473,87 473.25,86.38 473.50,85.35 473.75,84.36 474,83.57 474.25,83.48 474.50,83.62 474.75,84.07 475,84.99 475.25,85.38 475.50,85.82 475.75,86.31 476,86.84 476.25,87 477,87 477.25,86.53 477.50,86.11 477.75,85.75 478,85.50 478.25,85.75 478.50,86.11 478.75,86.53 479,86.91 479.25,86.55 479.50,86.25 479.75,86.03 480,86.21 480.25,86.51 480.50,86.86 480.75,87 488,87 488.25,86.53 488.50,86.11 488.75,85.75 489,85.50 489.25,85.75 489.50,86.11 489.75,86.53 490,87 494.50,87 494.75,86.78 495,86.24 495.25,85.75 495.50,85.33 495.75,85.02 496,85.25 496.25,85.65 496.50,86.13 496.75,86.66 497,87 500,87 500.25,86.69 500.50,86.14 500.75,85.64 501,85.20 501.25,84.38 501.50,84.01 501.75,84.02 502,84.23 502.25,84.99 502.50,85.91 502.75,86.53 503,87 506,87 506.25,86.63 506.50,86.29 506.75,86 507,85.80 507.25,86 507.50,86.29 507.75,86.63 508,87 508.25,87 508.50,86.68 508.75,86.17 509,85.72 509.25,85.35 509.50,85.28 509.75,85.62 510,86.06 510.25,86.55 510.50,87 516,87" fill="#262f7e"/>
<text x="48" y="95.7" font-size="5.4" fill="#1a1a1a" text-anchor="end" font-weight="bold" >GFI1B</text>
<line x1="50.5" y1="99" x2="516" y2="99" stroke="#e2e2e2" stroke-width="0.8" />
<polygon points="50.50,99 63,99 63.25,98.81 63.50,98.57 63.75,98.40 64,98.49 64.25,98.71 64.50,98.96 64.75,99 82.75,99 83,98.92 83.25,98.79 83.50,98.68 83.75,98.58 84,98.49 84.25,98.42 84.50,98.45 84.75,98.53 85,98.63 85.25,98.74 85.50,98.85 85.75,98.98 86,98.94 86.25,98.82 86.50,98.72 86.75,98.64 87,98.59 87.25,98.66 87.50,98.75 87.75,98.86 88,98.97 88.25,99 88.50,99 88.75,98.98 89,98.81 89.25,98.66 89.50,98.64 89.75,98.78 90,98.95 90.25,99 92.75,99 93,98.93 93.25,98.74 93.50,98.56 93.75,98.40 94,98.25 94.25,98.13 94.50,98.09 94.75,98.19 95,98.33 95.25,98.48 95.50,98.66 95.75,98.84 96,99 113,99 113.25,98.94 113.50,98.86 113.75,98.79 114,98.73 114.25,98.47 114.50,98.24 114.75,98.09 115,97.97 115.25,97.89 115.50,97.96 115.75,98.19 116,98.36 116.25,98.56 116.50,98.78 116.75,99 119.25,99 119.50,98.96 119.75,98.62 120,98.28 120.25,98.18 120.50,98.37 120.75,98.64 121,98.73 121.25,98.80 121.50,98.88 121.75,98.97 122,98.81 122.25,98.66 122.50,98.53 122.75,98.57 123,98.71 123.25,98.87 123.50,99 123.75,98.96 124,98.76 124.25,98.57 124.50,98.39 124.75,98.23 125,98.09 125.25,98.02 125.50,98.13 125.75,98.27 126,98.43 126.25,98.61 126.50,98.81 126.75,99 132.25,99 132.50,98.91 132.75,98.72 133,98.55 133.25,98.39 133.50,98.24 133.75,98.13 134,98.14 134.25,98.25 134.50,98.40 134.75,98.56 135,98.74 135.25,98.93 135.50,99 136.75,99 137,98.87 137.25,98.73 137.50,98.60 137.75,98.48 138,98.38 138.25,98.30 138.50,98.34 138.75,98.43 139,98.54 139.25,98.67 139.50,98.81 139.75,98.95 140,99 151.25,99 151.50,98.89 151.75,98.70 152,98.51 152.25,98.35 152.50,98.21 152.75,98.13 153,98.24 153.25,98.39 153.50,98.56 153.75,98.75 154,98.95 154.25,99 156,99 156.25,98.95 156.50,98.81 156.75,98.68 157,98.56 157.25,98.47 157.50,98.46 157.75,98.55 158,98.67 158.25,98.80 158.50,98.94 158.75,99 164,99 164.25,98.95 164.50,98.81 164.75,98.68 165,98.56 165.25,98.45 165.50,98.36 165.75,98.29 166,98.36 166.25,98.36 166.50,98.31 166.75,98.28 167,98.27 167.25,98.30 167.50,98.30 167.75,98.40 168,98.53 168.25,98.67 168.50,98.79 168.75,98.70 169,98.47 169.25,98.24 169.50,98.13 169.75,98.21 170,98.33 170.25,98.50 170.50,98.45 170.75,98.44 171,98.28 171.25,98.16 171.50,98.07 171.75,98.05 172,98.25 172.25,98.47 172.50,98.67 172.75,98.90 173,99 173.25,98.98 173.50,98.90 173.75,98.83 174,98.76 174.25,98.70 174.50,98.65 174.75,98.63 175,98.67 175.25,98.73 175.50,98.80 175.75,98.87 176,98.94 176.25,99 177.25,99 177.50,98.91 177.75,98.74 178,98.59 178.25,98.45 178.50,98.35 178.75,98.41 179,98.53 179.25,98.68 179.50,98.85 179.75,99 188.25,99 188.50,98.92 188.75,98.74 189,98.44 189.25,98.18 189.50,97.94 189.75,97.75 190,97.76 190.25,97.95 190.50,98.19 190.75,98.46 191,98.75 191.25,98.98 191.50,99 191.75,99 192,98.96 192.25,98.58 192.50,98.24 192.75,98.04 193,98.29 193.25,98.63 193.50,99 209,99 209.25,98.99 209.50,98.84 209.75,98.71 210,98.59 210.25,98.49 210.50,98.44 210.75,98.53 211,98.64 211.25,98.77 211.50,98.91 211.75,99 234.75,99 235,98.80 235.25,98.61 235.50,98.51 235.75,98.66 236,98.85 236.25,99 237.50,99 237.75,98.91 238,98.81 238.25,98.72 238.50,98.66 238.75,98.71 239,98.80 239.25,98.84 239.50,98.80 239.75,98.67 240,98.56 240.25,98.46 240.50,98.39 240.75,98.45 241,98.55 241.25,98.66 241.50,98.79 241.75,98.93 242,99 246.25,99 246.50,98.96 246.75,98.63 247,98.34 247.25,98.13 247.50,98.07 247.75,98.13 248,98.25 248.25,98.27 248.50,98.13 248.75,98.07 249,98.19 249.25,98.35 249.50,98.53 249.75,98.72 250,98.94 250.25,99 252.75,99 253,98.86 253.25,98.73 253.50,98.63 253.75,98.65 254,98.76 254.25,98.90 254.50,99 267.50,99 267.75,98.96 268,98.79 268.25,98.64 268.50,98.52 268.75,98.53 269,98.65 269.25,98.80 269.50,98.97 269.75,99 287.75,99 288,98.97 288.25,98.75 288.50,98.55 288.75,98.39 289,98.36 289.25,98.51 289.50,98.70 289.75,98.92 290,99 312.75,99 313,98.90 313.25,98.71 313.50,98.54 313.75,98.40 314,98.40 314.25,98.54 314.50,98.71 314.75,98.91 315,99 320.75,99 321,98.75 321.25,98.49 321.50,98.27 321.75,98.14 322,98.30 322.25,98.52 322.50,98.78 322.75,99 328.50,99 328.75,98.95 329,98.78 329.25,98.61 329.50,98.46 329.75,98.32 330,98.20 330.25,98.12 330.50,98.20 330.75,98.32 331,98.45 331.25,98.61 331.50,98.77 331.75,98.95 332,99 332.25,99 332.50,98.88 332.75,98.70 333,98.54 333.25,98.40 333.50,98.27 333.75,98.17 334,98.20 334.25,98.31 334.50,98.44 334.75,98.59 335,98.55 335.25,98.55 335.50,98.47 335.75,98.46 336,98.60 336.25,98.78 336.50,98.98 336.75,99 338,99 338.25,99 338.50,98.87 338.75,98.74 339,98.63 339.25,98.53 339.50,98.44 339.75,98.39 340,98.46 340.25,98.55 340.50,98.66 340.75,98.77 341,98.90 341.25,99 355.25,99 355.50,98.98 355.75,98.76 356,98.57 356.25,98.42 356.50,98.40 356.75,98.56 357,98.74 357.25,98.96 357.50,99 360.50,99 360.75,98.93 361,98.74 361.25,98.57 361.50,98.40 361.75,98.26 362,98.14 362.25,98.10 362.50,98.21 362.75,98.34 363,98.50 363.25,98.67 363.50,98.85 363.75,99 366.50,99 366.75,98.99 367,98.75 367.25,98.52 367.50,98.33 367.75,98.17 368,98.21 368.25,98.38 368.50,98.58 368.75,98.81 369,99 381.75,99 382,98.91 382.25,98.83 382.50,98.75 382.75,98.69 383,98.65 383.25,98.70 383.50,98.77 383.75,98.85 384,98.93 384.25,99 389.50,99 389.75,98.91 390,98.69 390.25,98.50 390.50,98.32 390.75,98.17 391,98.07 391.25,98.06 391.50,98.11 391.75,98.19 392,98.35 392.25,98.56 392.50,98.56 392.75,98.53 393,98.48 393.25,98.36 393.50,98.26 393.75,98.24 394,98.33 394.25,98.44 394.50,98.57 394.75,98.65 395,98.63 395.25,98.61 395.50,98.47 395.75,98.36 396,98.36 396.25,98.47 396.50,98.61 396.75,98.76 397,98.93 397.25,99 420,99 420.25,98.76 420.50,98.30 420.75,97.86 421,97.47 421.25,97.17 421.50,97.25 421.75,97.59 422,97.99 422.25,98.45 422.50,98.94 422.75,99 428.75,99 429,98.95 429.25,98.66 429.50,98.42 429.75,98.23 430,98.33 430.25,98.56 430.50,98.83 430.75,99 462.50,99 462.75,98.94 463,98.81 463.25,98.70 463.50,98.60 463.75,98.59 464,98.68 464.25,98.79 464.50,98.92 464.75,99 466.25,99 466.50,98.96 466.75,98.67 467,98.41 467.25,98.19 467.50,98.05 467.75,98.22 468,98.44 468.25,98.71 468.50,99 470.75,99 471,98.92 471.25,98.76 471.50,98.62 471.75,98.51 472,98.58 472.25,98.71 472.50,98.86 472.75,99 476.75,99 477,98.84 477.25,98.66 477.50,98.49 477.75,98.34 478,98.20 478.25,98.10 478.50,98.16 478.75,98.28 479,98.43 479.25,98.59 479.50,98.76 479.75,98.95 480,99 483.50,99 483.75,98.97 484,98.89 484.25,98.81 484.50,98.74 484.75,98.69 485,98.69 485.25,98.75 485.50,98.82 485.75,98.90 486,98.99 486.25,99 496.25,99 496.50,98.97 496.75,98.88 497,98.79 497.25,98.72 497.50,98.70 497.75,98.76 498,98.84 498.25,98.93 498.50,99 499,99 499.25,98.96 499.50,98.71 499.75,98.49 500,98.29 500.25,98.12 500.50,98.04 500.75,98.17 501,98.36 501.25,98.57 501.50,98.80 501.75,99 502.50,99 502.75,98.95 503,98.75 503.25,98.57 503.50,98.41 503.75,98.26 504,97.92 504.25,97.69 504.50,97.62 504.75,97.62 505,97.87 505.25,98.22 505.50,98.61 505.75,98.93 506,99 516,99" fill="#6a74a4"/>
<polygon points="50.50,99 73.50,99 73.75,98.58 74,98.18 74.25,97.81 74.50,97.48 74.75,97.19 75,97 75.25,97.19 75.50,97.48 75.75,97.81 76,98.18 76.25,98.58 76.50,99 76.75,98.37 77,97.77 77.25,97.22 77.50,96.72 77.75,96.29 78,96 78.25,96.29 78.50,96.72 78.75,97.22 79,97.77 79.25,98.37 79.50,99 79.75,98.26 80,97.57 80.25,96.92 80.50,96.34 80.75,95.84 81,95.50 81.25,95.84 81.50,96.34 81.75,96.92 82,97.57 82.25,98.26 82.50,99 82.75,96.88 83,94.86 83.25,92.95 83.50,91.18 83.75,89.57 84,88.17 84.25,87.11 84.50,87.69 84.75,88.98 85,90.52 85.25,92.23 85.50,94.08 85.75,96.06 86,98.14 86.25,98.16 86.50,97.36 86.75,96.62 87,95.96 87.25,95.39 87.50,95 87.75,95.39 88,95.96 88.25,96.62 88.50,97.36 88.75,98.16 89,99 89.25,98.83 89.50,97.99 89.75,97.21 90,96.51 90.25,95.91 90.50,95.50 90.75,95.91 91,96.51 91.25,97.21 91.50,97.99 91.75,98.83 92,99 98.75,99 99,99 99.25,98.77 99.50,98.56 99.75,98.38 100,98.26 100.25,98.39 100.50,98.57 100.75,98.78 101,99 107.25,99 107.50,98.94 107.75,98.77 108,98.62 108.25,98.49 108.50,98.39 108.75,98.43 109,98.55 109.25,98.69 109.50,98.85 109.75,99 112,99 112.25,98.83 112.50,98.50 112.75,98.22 113,97.99 113.25,98.07 113.50,98.33 113.75,98.63 114,98.97 114.25,99 122.75,99 123,98.82 123.25,98.56 123.50,98.33 123.75,98.14 124,97.99 124.25,98.10 124.50,98.29 124.75,98.51 125,98.76 125.25,99 134.50,99 134.75,98.85 135,98.13 135.25,97.47 135.50,96.87 135.75,96.35 136,96 136.25,96.35 136.50,96.87 136.75,97.47 137,98.13 137.25,98.85 137.50,99 138,99 138.25,98.94 138.50,98.56 138.75,98.21 139,97.92 139.25,97.73 139.50,97.86 139.75,97.94 140,98.11 140.25,98.38 140.50,98.53 140.75,98.72 141,98.94 141.25,99 142.50,99 142.75,98.67 143,98.36 143.25,98.08 143.50,97.85 143.75,97.76 144,97.96 144.25,98.22 144.50,98.52 144.75,98.85 145,99 154.25,99 154.50,98.86 154.75,98.56 155,98.30 155.25,98.08 155.50,98.03 155.75,98.22 156,98.47 156.25,98.75 156.50,99 163,99 163.25,98.72 163.50,98.46 163.75,98.23 164,98.05 164.25,98.08 164.50,98.27 164.75,98.51 165,98.77 165.25,99 169.75,99 170,98.80 170.25,98.44 170.50,98.13 170.75,97.89 171,98.02 171.25,98.30 171.50,98.64 171.75,99 172.25,99 172.50,98.69 172.75,98.41 173,98.16 173.25,98.01 173.50,98.19 173.75,98.44 174,98.73 174.25,99 174.75,99 175,98.97 175.25,98.79 175.50,98.62 175.75,98.47 176,98.35 176.25,98.35 176.50,98.47 176.75,98.61 177,98.78 177.25,98.96 177.50,99 180.75,99 181,98.97 181.25,98.55 181.50,98.18 181.75,97.91 182,98.09 182.25,98.43 182.50,98.84 182.75,99 195.75,99 196,98.90 196.25,98.73 196.50,98.58 196.75,98.47 197,98.53 197.25,98.66 197.50,98.82 197.75,99 268.75,99 269,98.93 269.25,98.54 269.50,97.97 269.75,97.48 270,97.11 270.25,97.31 270.50,97.76 270.75,98.30 271,98.90 271.25,99 279,99 279.25,98.75 279.50,98.35 279.75,98.03 280,98.04 280.25,98.36 280.50,98.76 280.75,99 286,99 286.25,98.85 286.50,98.34 286.75,97.93 287,97.87 287.25,98.26 287.50,98.76 287.75,99 300.75,99 301,98.98 301.25,98.54 301.50,98.17 301.75,97.90 302,98.07 302.25,98.35 302.50,98.51 302.75,98.48 303,98.57 303.25,98.68 303.50,98.81 303.75,98.95 304,99 305.50,99 305.75,98.94 306,98.78 306.25,98.63 306.50,98.51 306.75,98.48 307,98.60 307.25,98.74 307.50,98.90 307.75,99 311.25,99 311.50,98.93 311.75,98.64 312,98.38 312.25,98.14 312.50,97.95 312.75,97.94 313,98.12 313.25,98.35 313.50,98.62 313.75,98.90 314,99 330,99 330.25,98.93 330.50,98.78 330.75,98.64 331,98.53 331.25,98.54 331.50,98.65 331.75,98.78 332,98.94 332.25,99 347.50,99 347.75,98.93 348,98.65 348.25,98.41 348.50,98.22 348.75,98.29 349,98.51 349.25,98.77 349.50,99 366.25,99 366.50,98.66 366.75,98.29 367,98.01 367.25,98.13 367.50,98.46 367.75,98.86 368,99 372.75,99 373,98.89 373.25,98.69 373.50,98.53 373.75,98.47 374,98.62 374.25,98.80 374.50,99 374.75,98.73 375,98.08 375.25,97.57 375.50,97.58 375.75,98.07 376,98.71 376.25,98.97 376.50,99 382.25,99 382.50,98.80 382.75,98.61 383,98.44 383.25,98.30 383.50,98.32 383.75,98.46 384,98.64 384.25,98.83 384.50,99 387,99 387.25,98.84 387.50,98.66 387.75,98.50 388,98.39 388.25,98.47 388.50,98.61 388.75,98.79 389,98.98 389.25,99 403.50,99 403.75,98.97 404,98.69 404.25,98.45 404.50,98.27 404.75,98.39 405,98.62 405.25,98.89 405.50,99 406.25,99 406.50,98.84 406.75,98.61 407,98.44 407.25,98.46 407.50,98.65 407.75,98.88 408,99 423.25,99 423.50,98.91 423.75,98.70 424,98.51 424.25,98.37 424.50,98.42 424.75,98.58 425,98.77 425.25,98.99 425.50,99 438.50,99 438.75,98.64 439,98.22 439.25,97.89 439.50,97.96 439.75,98.32 440,98.76 440.25,99 450.75,99 451,98.81 451.25,98.61 451.50,98.44 451.75,98.32 452,98.41 452.25,98.57 452.50,98.77 452.75,98.98 453,99 454,99 454.25,98.87 454.50,98.60 454.75,98.35 455,98.15 455.25,98.07 455.50,98.24 455.75,98.47 456,98.73 456.25,99 463.25,99 463.50,98.79 463.75,98.28 464,97.81 464.25,97.40 464.50,97.08 464.75,97.13 465,97.48 465.25,97.90 465.50,98.38 465.75,98.89 466,99 467.25,99 467.50,98.79 467.75,98.55 468,98.33 468.25,98.15 468.50,98.07 468.75,98.21 469,98.41 469.25,98.32 469.50,98.29 469.75,98.16 470,98 470.25,98.16 470.50,98.41 470.75,98.69 471,99 479.75,99 480,98.98 480.25,98.65 480.50,98.36 480.75,98.13 481,98.13 481.25,98.36 481.50,98.65 481.75,98.97 482,99 484,99 484.25,98.95 484.50,98.67 484.75,98.45 485,98.38 485.25,98.58 485.50,98.83 485.75,99 494.75,99 495,98.94 495.25,98.63 495.50,98.36 495.75,98.13 496,98.11 496.25,98.33 496.50,98.59 496.75,98.90 497,99 516,99" fill="#262f7e"/>
<text x="48" y="107.4" font-size="5.4" fill="#1a1a1a" text-anchor="end" font-weight="bold" >PU.1</text>
<line x1="50.5" y1="111" x2="516" y2="111" stroke="#e2e2e2" stroke-width="0.8" />
<polygon points="50.50,111 62.50,111 62.75,110.93 63,110.74 63.25,110.56 63.50,110.40 63.75,110.26 64,110.16 64.25,110.21 64.50,110.34 64.75,110.49 65,110.66 65.25,110.85 65.50,111 73.50,111 73.75,110.94 74,110.83 74.25,110.72 74.50,110.63 74.75,110.54 75,110.48 75.25,110.53 75.50,110.61 75.75,110.69 76,110.62 76.25,110.54 76.50,110.25 76.75,109.94 77,109.84 77.25,110 77.50,110.33 77.75,110.46 78,110.61 78.25,110.78 78.50,110.96 78.75,111 83.50,111 83.75,110.82 84,110.59 84.25,110.39 84.50,110.21 84.75,110.07 85,110.13 85.25,110.30 85.50,110.49 85.75,110.71 86,110.95 86.25,111 88,111 88.25,110.96 88.50,110.80 88.75,110.65 89,110.55 89.25,110.65 89.50,110.79 89.75,110.79 90,110.63 90.25,110.43 90.50,110.27 90.75,110.13 91,110.13 91.25,110.27 91.50,110.43 91.75,110.63 92,110.83 92.25,111 97.75,111 98,110.90 98.25,110.69 98.50,110.50 98.75,110.34 99,110.25 99.25,110.36 99.50,110.52 99.75,110.60 100,110.71 100.25,110.70 100.50,110.66 100.75,110.73 101,110.82 101.25,110.92 101.50,111 102,111 102.25,110.98 102.50,110.78 102.75,110.55 103,110.34 103.25,110.16 103.50,110.03 103.75,110.11 104,110.28 104.25,110.48 104.50,110.71 104.75,110.95 105,111 110.50,111 110.75,110.83 111,110.65 111.25,110.49 111.50,110.34 111.75,110.21 112,110.13 112.25,110.22 112.50,110.34 112.75,110.49 113,110.65 113.25,110.83 113.50,111 115.50,111 115.75,111 116,110.75 116.25,110.53 116.50,110.34 116.75,110.20 117,110.28 117.25,110.46 117.50,110.68 117.75,110.91 118,111 120,111 120.25,110.91 120.50,110.70 120.75,110.52 121,110.35 121.25,110.22 121.50,110.24 121.75,110.38 122,110.54 122.25,110.73 122.50,110.94 122.75,111 134.75,111 135,110.92 135.25,110.73 135.50,110.56 135.75,110.41 136,110.29 136.25,110.36 136.50,110.49 136.75,110.66 137,110.84 137.25,111 139.25,111 139.50,110.96 139.75,110.85 140,110.76 140.25,110.68 140.50,110.66 140.75,110.73 141,110.82 141.25,110.93 141.50,111 150.50,111 150.75,110.77 151,110.51 151.25,110.27 151.50,110.08 151.75,110.04 152,110.22 152.25,110.44 152.50,110.69 152.75,110.97 153,111 178.75,111 179,110.85 179.25,110.65 179.50,110.46 179.75,110.30 180,110.16 180.25,110.12 180.50,110.25 180.75,110.40 181,110.58 181.25,110.78 181.50,110.99 181.75,111 188,111 188.25,110.78 188.50,110.56 188.75,110.36 189,110.19 189.25,110.06 189.50,110.12 189.75,110.28 190,110.47 190.25,110.68 190.50,110.90 190.75,111 197.25,111 197.50,110.89 197.75,110.78 198,110.67 198.25,110.58 198.50,110.51 198.75,110.52 199,110.60 199.25,110.70 199.50,110.80 199.75,110.92 200,111 200.25,110.84 200.50,110.54 200.75,110.28 201,110.07 201.25,110.08 201.50,110.30 201.75,110.56 202,110.86 202.25,111 224.75,111 225,110.93 225.25,110.71 225.50,110.53 225.75,110.53 226,110.70 226.25,110.92 226.50,110.90 226.75,110.80 227,110.71 227.25,110.64 227.50,110.59 227.75,110.64 228,110.71 228.25,110.79 228.50,110.89 228.75,110.99 229,111 229.25,110.96 229.50,110.77 229.75,110.61 230,110.51 230.25,110.62 230.50,110.78 230.75,110.95 231,110.81 231.25,110.67 231.50,110.57 231.75,110.67 232,110.82 232.25,110.99 232.50,111 236.25,111 236.50,110.97 236.75,110.77 237,110.59 237.25,110.42 237.50,110.21 237.75,110.03 238,110.04 238.25,110.12 238.50,110.23 238.75,110.38 239,110.60 239.25,110.75 239.50,110.80 239.75,110.86 240,110.92 240.25,110.99 240.50,111 240.75,111 241,110.85 241.25,110.65 241.50,110.52 241.75,110.67 242,110.88 242.25,111 257.75,111 258,110.90 258.25,110.77 258.50,110.66 258.75,110.56 259,110.48 259.25,110.48 259.50,110.56 259.75,110.66 260,110.78 260.25,110.90 260.50,111 269.50,111 269.75,110.90 270,110.71 270.25,110.53 270.50,110.38 270.75,110.26 271,110.30 271.25,110.43 271.50,110.59 271.75,110.77 272,110.97 272.25,111 275,111 275.25,111 275.50,110.84 275.75,110.69 276,110.57 276.25,110.50 276.50,110.59 276.75,110.71 277,110.86 277.25,111 283.25,111 283.50,110.94 283.75,110.77 284,110.61 284.25,110.46 284.50,110.34 284.75,110.26 285,110.34 285.25,110.47 285.50,110.61 285.75,110.77 286,110.95 286.25,111 309.75,111 310,110.75 310.25,110.51 310.50,110.29 310.75,110.11 311,110.04 311.25,110.19 311.50,110.39 311.75,110.61 312,110.86 312.25,111 326.50,111 326.75,110.87 327,110.61 327.25,110.40 327.50,110.36 327.75,110.55 328,110.80 328.25,111 330.50,111 330.75,110.93 331,110.85 331.25,110.77 331.50,110.70 331.75,110.64 332,110.60 332.25,110.61 332.50,110.66 332.75,110.72 333,110.80 333.25,110.87 333.50,110.95 333.75,111 339.25,111 339.50,110.99 339.75,110.91 340,110.83 340.25,110.77 340.50,110.71 340.75,110.69 341,110.74 341.25,110.73 341.50,110.61 341.75,110.47 342,110.24 342.25,109.94 342.50,109.50 342.75,109.27 343,109.27 343.25,109.70 343.50,110.26 343.75,110.68 344,110.79 344.25,110.91 344.50,111 371.50,111 371.75,110.87 372,110.64 372.25,110.43 372.50,110.25 372.75,110.09 373,110.05 373.25,110.19 373.50,110.36 373.75,110.56 374,110.78 374.25,111 401.75,111 402,110.87 402.25,110.75 402.50,110.64 402.75,110.53 403,110.44 403.25,110.37 403.50,110.39 403.75,110.47 404,110.56 404.25,110.67 404.50,110.78 404.75,110.91 405,111 410.50,111 410.75,110.73 411,110.47 411.25,110.29 411.50,110.44 411.75,110.69 412,110.99 412.25,111 445.25,111 445.50,110.94 445.75,110.82 446,110.72 446.25,110.63 446.50,110.54 446.75,110.43 447,110.38 447.25,110.38 447.50,110.59 447.75,110.80 448,110.97 448.25,111 459.75,111 460,110.88 460.25,110.73 460.50,110.62 460.75,110.63 461,110.67 461.25,110.70 461.50,110.63 461.75,110.67 462,110.75 462.25,110.86 462.50,110.97 462.75,111 463.50,111 463.75,110.93 464,110.71 464.25,110.50 464.50,110.31 464.75,110.24 465,110.30 465.25,110.48 465.50,110.68 465.75,110.76 466,110.85 466.25,110.94 466.50,111 480.75,111 481,110.80 481.25,110.42 481.50,110.12 481.75,110.20 482,110.53 482.25,110.94 482.50,111 489.25,111 489.50,110.86 489.75,110.74 490,110.63 490.25,110.54 490.50,110.59 490.75,110.69 491,110.82 491.25,110.95 491.50,111 498.50,111 498.75,110.94 499,110.83 499.25,110.72 499.50,110.62 499.75,110.53 500,110.37 500.25,110.19 500.50,110.13 500.75,110.10 501,110.09 501.25,110.12 501.50,110.24 501.75,110.44 502,110.58 502.25,110.69 502.50,110.81 502.75,110.94 503,111 507.50,111 507.75,110.91 508,110.76 508.25,110.63 508.50,110.51 508.75,110.41 509,110.32 509.25,110.29 509.50,110.02 509.75,109.82 510,109.72 510.25,110.05 510.50,110.50 510.75,110.80 511,110.58 511.25,110.31 511.50,110.13 511.75,110.31 512,110.59 512.25,110.90 512.50,111 516,111" fill="#6a74a4"/>
<polygon points="50.50,111 75,111 75.25,110.75 75.50,109.52 75.75,108.36 76,107.26 76.25,106.24 76.50,105.32 76.75,104.54 77,104 77.25,104.54 77.50,105.32 77.75,106.24 78,107.26 78.25,107.30 78.50,107.47 78.75,107.78 79,107.20 79.25,106.49 79.50,106 79.75,106.29 80,106.04 80.25,105.99 80.50,106.11 80.75,106.41 81,107 81.25,107.47 81.50,108.16 81.75,108.96 82,109.84 82.25,110.80 82.50,111 83.25,111 83.50,110.28 83.75,108.55 84,106.90 84.25,105.36 84.50,103.93 84.75,102.65 85,101.57 85.25,101.09 85.50,101.97 85.75,103.14 86,104.48 86.25,105.96 86.50,107.55 86.75,109.23 87,111 87.25,111 213.75,111 214,110.54 214.25,109.99 214.50,109.50 214.75,109.09 215,108.80 215.25,109.09 215.50,109.50 215.75,109.99 216,110.54 216.25,111 464,111 464.25,110.53 464.50,110.11 464.75,109.75 465,109.50 465.25,109.75 465.50,110.11 465.75,110.53 466,111 488.50,111 488.75,110.88 489,110.28 489.25,109.72 489.50,109.22 489.75,108.79 490,108.50 490.25,108.79 490.50,109.22 490.75,109.72 491,110.28 491.25,110.88 491.50,111 516,111" fill="#262f7e"/>
<text x="48" y="118.8" font-size="5.4" fill="#1a1a1a" text-anchor="end" font-weight="bold" >FLI1</text>
<line x1="50.5" y1="123" x2="516" y2="123" stroke="#e2e2e2" stroke-width="0.8" />
<polygon points="50.50,123 69.25,123 69.50,122.95 69.75,122.71 70,122.49 70.25,122.31 70.50,122.23 70.75,122.38 71,122.58 71.25,122.81 71.50,123 96.75,123 97,123 97.25,122.88 97.50,122.78 97.75,122.68 98,122.59 98.25,122.51 98.50,122.45 98.75,122.49 99,122.56 99.25,122.65 99.50,122.74 99.75,122.84 100,122.95 100.25,123 127.25,123 127.50,122.98 127.75,122.82 128,122.67 128.25,122.53 128.50,122.41 128.75,122.31 129,122.27 129.25,122.35 129.50,122.46 129.75,122.59 130,122.73 130.25,122.89 130.50,122.99 130.75,122.83 131,122.68 131.25,122.54 131.50,122.42 131.75,122.33 132,122.37 132.25,122.47 132.50,122.60 132.75,122.75 133,122.90 133.25,123 179.75,123 180,122.96 180.25,122.82 180.50,122.69 180.75,122.58 181,122.49 181.25,122.51 181.50,122.61 181.75,122.73 182,122.86 182.25,123 230,123 230.25,123 230.50,122.89 230.75,122.78 231,122.69 231.25,122.60 231.50,122.53 231.75,122.47 232,122.49 232.25,122.56 232.50,122.64 232.75,122.73 233,122.83 233.25,122.93 233.50,123 257.25,123 257.50,122.81 257.75,122.63 258,122.50 258.25,122.59 258.50,122.77 258.75,122.97 259,123 259.25,122.94 259.50,122.85 259.75,122.76 260,122.68 260.25,122.61 260.50,122.57 260.75,122.60 261,122.66 261.25,122.74 261.50,122.82 261.75,122.92 262,123 293.75,123 294,122.97 294.25,122.83 294.50,122.70 294.75,122.58 295,122.48 295.25,122.40 295.50,122.41 295.75,122.50 296,122.61 296.25,122.73 296.50,122.86 296.75,123 304.75,123 305,122.87 305.25,122.63 305.50,122.46 305.75,122.57 306,122.79 306.25,123 310.75,123 311,122.95 311.25,122.83 311.50,122.71 311.75,122.61 312,122.52 312.25,122.45 312.50,122.48 312.75,122.57 313,122.67 313.25,122.78 313.50,122.90 313.75,123 338.50,123 338.75,122.96 339,122.87 339.25,122.80 339.50,122.72 339.75,122.66 340,122.64 340.25,122.68 340.50,122.75 340.75,122.82 341,122.90 341.25,122.99 341.50,123 358.25,123 358.50,123 358.75,122.90 359,122.82 359.25,122.74 359.50,122.68 359.75,122.71 360,122.78 360.25,122.86 360.50,122.95 360.75,123 473.75,123 474,122.90 474.25,122.76 474.50,122.63 474.75,122.51 475,122.41 475.25,122.36 475.50,122.44 475.75,122.54 476,122.66 476.25,122.80 476.50,122.94 476.75,123 508.75,123 509,122.83 509.25,122.66 509.50,122.50 509.75,122.37 510,122.27 510.25,122.34 510.50,122.47 510.75,122.62 511,122.78 511.25,122.97 511.50,123 516,123" fill="#6a74a4"/>
<polygon points="50.50,123 82.75,123 83,122.03 83.25,119.71 83.50,117.51 83.75,115.48 84,113.65 84.25,112.07 84.50,111 84.75,112.07 85,113.65 85.25,115.48 85.50,117.51 85.75,119.71 86,122.03 86.25,123 463.25,123 463.50,122.51 463.75,121.94 464,121.41 464.25,120.95 464.50,120.59 464.75,120.65 465,121.04 465.25,121.52 465.50,122.05 465.75,122.63 466,123 516,123" fill="#262f7e"/>
<text x="48" y="130.5" font-size="5.4" fill="#1a1a1a" text-anchor="end" font-weight="bold" >ERG</text>
<line x1="50.5" y1="135" x2="516" y2="135" stroke="#e2e2e2" stroke-width="0.8" />
<polygon points="50.50,135 71.25,135 71.50,134.74 71.75,134.47 72,134.24 72.25,134.06 72.50,134.15 72.75,134.36 73,134.62 73.25,134.90 73.50,135 75.50,135 75.75,134.95 76,134.82 76.25,134.70 76.50,134.60 76.75,134.50 77,134.42 77.25,134.40 77.50,134.47 77.75,134.56 78,134.67 78.25,134.78 78.50,134.91 78.75,135 79,134.98 79.25,134.85 79.50,134.74 79.75,134.65 80,134.70 80.25,134.80 80.50,134.93 80.75,135 83,135 83.25,134.95 83.50,134.80 83.75,134.66 84,134.44 84.25,134.21 84.50,134.19 84.75,134.42 85,134.73 85.25,134.97 85.50,135 102.50,135 102.75,134.80 103,134.63 103.25,134.63 103.50,134.80 103.75,135 113.75,135 114,134.73 114.25,134.26 114.50,133.90 114.75,134.01 115,134.40 115.25,134.77 115.50,134.88 115.75,135 119.25,135 119.50,134.81 119.75,134.59 120,134.38 120.25,134.21 120.50,134.09 120.75,134.20 121,134.37 121.25,134.57 121.50,134.80 121.75,135 126.25,135 126.50,134.97 126.75,134.89 127,134.80 127.25,134.73 127.50,134.67 127.75,134.61 128,134.62 128.25,134.68 128.50,134.75 128.75,134.82 129,134.90 129.25,134.99 129.50,135 131,135 131.25,134.92 131.50,134.84 131.75,134.76 132,134.69 132.25,134.63 132.50,134.61 132.75,134.66 133,134.72 133.25,134.79 133.50,134.87 133.75,134.96 134,135 143.50,135 143.75,134.96 144,134.73 144.25,134.33 144.50,133.90 144.75,133.54 145,133.49 145.25,133.82 145.50,134.22 145.75,134.54 146,134.89 146.25,135 158.25,135 158.50,134.90 158.75,134.76 159,134.51 159.25,134.26 159.50,134.03 159.75,133.90 160,133.98 160.25,134.18 160.50,134.43 160.75,134.71 161,134.98 161.25,135 165.25,135 165.50,134.97 165.75,134.74 166,134.55 166.25,134.39 166.50,134.43 166.75,134.60 167,134.81 167.25,135 174.25,135 174.50,134.96 174.75,134.85 175,134.74 175.25,134.66 175.50,134.60 175.75,134.67 176,134.76 176.25,134.86 176.50,134.98 176.75,135 196.50,135 196.75,134.95 197,134.88 197.25,134.81 197.50,134.75 197.75,134.60 198,134.43 198.25,134.34 198.50,134.27 198.75,134.23 199,134.23 199.25,134.30 199.50,134.34 199.75,134.36 200,134.40 200.25,134.46 200.50,134.54 200.75,134.54 201,134.60 201.25,134.67 201.50,134.75 201.75,134.85 202,134.94 202.25,135 215.25,135 215.50,134.85 215.75,134.44 216,134.12 216.25,134.28 216.50,134.65 216.75,135 227.75,135 228,134.91 228.25,134.66 228.50,134.45 228.75,134.47 229,134.68 229.25,134.95 229.50,135 231.75,135 232,134.85 232.25,134.70 232.50,134.59 232.75,134.63 233,134.77 233.25,134.93 233.50,135 236.25,135 236.50,134.91 236.75,134.80 237,134.70 237.25,134.61 237.50,134.53 237.75,134.39 238,134.27 238.25,134.21 238.50,134.18 238.75,134.21 239,134.40 239.25,134.63 239.50,134.80 239.75,134.95 240,135 240.75,135 241,134.90 241.25,134.77 241.50,134.66 241.75,134.57 242,134.57 242.25,134.66 242.50,134.78 242.75,134.90 243,135 260.50,135 260.75,135 261,134.83 261.25,134.68 261.50,134.55 261.75,134.43 262,134.16 262.25,134 262.50,133.93 262.75,133.89 263,133.89 263.25,133.94 263.50,134.11 263.75,134.25 264,134.42 264.25,134.60 264.50,134.79 264.75,135 271,135 271.25,134.95 271.50,134.80 271.75,134.66 272,134.54 272.25,134.42 272.50,134.33 272.75,134.29 273,134.36 273.25,134.47 273.50,134.59 273.75,134.72 274,134.86 274.25,135 285,135 285.25,134.86 285.50,134.66 285.75,134.47 286,134.30 286.25,134.16 286.50,134.04 286.75,134.05 287,134.17 287.25,134.33 287.50,134.50 287.75,134.68 288,134.88 288.25,135 295.25,135 295.50,134.90 295.75,134.75 296,134.61 296.25,134.49 296.50,134.41 296.75,134.47 297,134.58 297.25,134.71 297.50,134.86 297.75,135 300.50,135 300.75,134.81 301,134.62 301.25,134.45 301.50,134.30 301.75,134.15 302,133.99 302.25,134.01 302.50,134.07 302.75,134.18 303,134.42 303.25,134.70 303.50,134.89 303.75,135 308,135 308.25,134.90 308.50,134.64 308.75,134.41 309,134.23 309.25,134.32 309.50,134.53 309.75,134.78 310,135 315,135 315.25,134.99 315.50,134.88 315.75,134.77 316,134.68 316.25,134.64 316.50,134.71 316.75,134.80 317,134.91 317.25,135 320,135 320.25,134.76 320.50,134.53 320.75,134.34 321,134.32 321.25,134.50 321.50,134.74 321.75,135 322,135 322.25,135 322.50,134.73 322.75,134.42 323,134.18 323.25,134.17 323.50,134.31 323.75,134.52 324,134.66 324.25,134.82 324.50,134.99 324.75,135 333.50,135 333.75,134.99 334,134.50 334.25,134.06 334.50,133.77 334.75,133.84 335,134.23 335.25,134.56 335.50,134.87 335.75,135 343,135 343.25,134.86 343.50,134.68 343.75,134.53 344,134.40 344.25,134.36 344.50,134.48 344.75,134.63 345,134.77 345.25,134.79 345.50,134.66 345.75,134.55 346,134.58 346.25,134.71 346.50,134.86 346.75,135 356.75,135 357,134.98 357.25,134.83 357.50,134.68 357.75,134.57 358,134.52 358.25,134.62 358.50,134.75 358.75,134.90 359,135 367.50,135 367.75,134.97 368,134.76 368.25,134.56 368.50,134.38 368.75,134.22 369,134.09 369.25,134.06 369.50,134.18 369.75,134.33 370,134.51 370.25,134.70 370.50,134.90 370.75,135 378.75,135 379,134.81 379.25,134.52 379.50,134.28 379.75,134.28 380,134.52 380.25,134.81 380.50,135 393.50,135 393.75,134.97 394,134.78 394.25,134.61 394.50,134.50 394.75,134.60 395,134.76 395.25,134.94 395.50,135 402.75,135 403,134.95 403.25,134.83 403.50,134.71 403.75,134.61 404,134.53 404.25,134.53 404.50,134.61 404.75,134.71 405,134.82 405.25,134.94 405.50,135 410,135 410.25,134.97 410.50,134.85 410.75,134.72 411,134.61 411.25,134.51 411.50,134.43 411.75,134.38 412,134.45 412.25,134.54 412.50,134.65 412.75,134.76 413,134.88 413.25,135 430.50,135 430.75,134.96 431,134.85 431.25,134.75 431.50,134.67 431.75,134.60 432,134.62 432.25,134.70 432.50,134.79 432.75,134.89 433,135 433.25,135 433.75,135 434,134.95 434.25,134.87 434.50,134.80 434.75,134.73 435,134.68 435.25,134.63 435.50,134.66 435.75,134.72 436,134.78 436.25,134.85 436.50,134.93 436.75,135 442.25,135 442.50,134.97 442.75,134.88 443,134.80 443.25,134.73 443.50,134.67 443.75,134.63 444,134.66 444.25,134.72 444.50,134.79 444.75,134.86 445,134.68 445.25,134.40 445.50,134.27 445.75,134.56 446,134.93 446.25,135 446.50,135 446.75,134.81 447,134.62 447.25,134.45 447.50,134.36 447.75,134.49 448,134.67 448.25,134.87 448.50,135 449.50,135 449.75,134.87 450,134.65 450.25,134.46 450.50,134.28 450.75,134.15 451,134.21 451.25,134.36 451.50,134.55 451.75,134.75 452,134.98 452.25,135 452.50,135 452.75,134.79 453,134.60 453.25,134.42 453.50,134.26 453.75,134.12 454,134.03 454.25,133.97 454.50,133.90 454.75,133.90 455,134.19 455.25,134.59 455.50,135 455.75,135 467,135 467.25,134.83 467.50,134.54 467.75,134.35 468,134.55 468.25,134.84 468.50,135 469,135 469.25,134.97 469.50,134.84 469.75,134.73 470,134.63 470.25,134.55 470.50,134.60 470.75,134.69 471,134.80 471.25,134.92 471.50,135 473,135 473.25,134.96 473.50,134.86 473.75,134.77 474,134.69 474.25,134.62 474.50,134.61 474.75,134.67 475,134.75 475.25,134.85 475.50,134.94 475.75,135 480.25,135 480.50,134.99 480.75,134.77 481,134.57 481.25,134.38 481.50,134.22 481.75,134.14 482,134.26 482.25,134.42 482.50,134.62 482.75,134.83 483,135 483.25,134.93 483.50,134.80 483.75,134.69 484,134.59 484.25,134.50 484.50,134.43 484.75,134.48 485,134.56 485.25,134.66 485.50,134.78 485.75,134.90 486,135 491.25,135 491.50,134.96 491.75,134.80 492,134.67 492.25,134.38 492.50,134.08 492.75,133.99 493,134.41 493.25,134.85 493.50,135 493.75,134.95 494,134.80 494.25,134.68 494.50,134.62 494.75,134.72 495,134.85 495.25,135 497.25,135 497.50,134.68 497.75,133.99 498,133.45 498.25,133.67 498.50,134.31 498.75,135 504.25,135 504.50,134.88 504.75,134.54 505,134.25 505.25,134.10 505.50,134.32 505.75,134.63 506,134.99 506.25,135 510,135 510.25,134.91 510.50,134.54 510.75,134.20 511,134.01 511.25,134.07 511.50,134.21 511.75,134.34 512,134.38 512.25,134.47 512.50,134.58 512.75,134.69 513,134.82 513.25,134.96 513.50,135 516,135" fill="#6a74a4"/>
<polygon points="50.50,135 76.75,135 77,134.79 77.25,134.54 77.50,134.32 77.75,134.13 78,134 78.25,134.13 78.50,134.32 78.75,134.54 79,134.79 79.25,135 79.50,135 79.75,134.58 80,134.18 80.25,133.81 80.50,133.48 80.75,133.19 81,133 81.25,133.19 81.50,133.48 81.75,133.81 82,134.18 82.25,134.58 82.50,135 82.75,134.64 83,132.89 83.25,131.22 83.50,129.66 83.75,128.20 84,126.89 84.25,125.77 84.50,125 84.75,125.77 85,126.89 85.25,128.20 85.50,129.66 85.75,131.22 86,132.89 86.25,134.64 86.50,135 87,135 87.25,134.88 87.50,134.28 87.75,133.72 88,133.22 88.25,132.79 88.50,132.50 88.75,132.79 89,133.22 89.25,133.72 89.50,134.28 89.75,134.88 90,135 133.75,135 134,134.79 134.25,134.54 134.50,134.32 134.75,134.13 135,134 135.25,134.13 135.50,134.32 135.75,134.54 136,134.79 136.25,135 463,135 463.25,134.86 463.50,134.19 463.75,133.57 464,133 464.25,132.49 464.50,132.10 464.75,132.16 465,132.59 465.25,133.11 465.50,133.69 465.75,134.32 466,135 466.25,135 516,135" fill="#262f7e"/>
<text x="47.5" y="139.9" font-size="5.2" fill="#34502a" text-anchor="end" font-weight="normal" >Elements</text>
<text x="47.5" y="145.4" font-size="5.2" fill="#d0b468" text-anchor="end" font-weight="normal" >Promoter</text>
<text x="47.5" y="150.4" font-size="5.2" fill="#c69c48" text-anchor="end" font-weight="normal" >fragments</text>
<text x="47.5" y="156.6" font-size="5.0" fill="#000" text-anchor="end" font-weight="bold" >RefSeq genes</text>
<text x="47.5" y="162.3" font-size="5.0" fill="#3a6470" text-anchor="end" font-weight="normal" >HindIII restriction</text>
<text x="47.5" y="167.3" font-size="5.2" fill="#2e4e54" text-anchor="end" font-weight="normal" >fragments</text>
<text x="47.5" y="183.5" font-size="5.2" fill="#4e3e86" text-anchor="end" font-weight="normal" >Interactions</text>
<rect x="88.3" y="136.6" width="2.8" height="5" fill="#2e4a26" />
<text x="93.8" y="141.4" font-size="5" fill="#1a1a1a" text-anchor="start" font-weight="normal" textLength="32" lengthAdjust="spacingAndGlyphs">Hhex +1.5 Kb</text>
<rect x="462.8" y="137" width="4.2" height="4.6" fill="#2e4a26" />
<text x="468" y="141.4" font-size="5" fill="#1a1a1a" text-anchor="start" font-weight="normal" textLength="30" lengthAdjust="spacingAndGlyphs">Hhex +59 Kb</text>
<rect x="64.6" y="145" width="19" height="3" fill="#c8962a" />
<rect x="198.5" y="145" width="117" height="3" fill="#c8962a" />
<text x="64" y="157.6" font-size="5.6" fill="#2c4498" text-anchor="start" font-weight="normal" textLength="13" lengthAdjust="spacingAndGlyphs">Hhex</text>
<line x1="79" y1="155.6" x2="117" y2="155.6" stroke="#223a8a" stroke-width="0.8" />
<rect x="78" y="154.3" width="2.2" height="2.6" fill="#223a8a" />
<rect x="92.5" y="154.3" width="2.5" height="2.6" fill="#223a8a" />
<rect x="108.5" y="154.3" width="1.5" height="2.6" fill="#223a8a" />
<rect x="110.5" y="154.4" width="6.5" height="2.4" fill="#223a8a" />
<path d="M82,155 l0.8,0.6 l-0.8,0.6" stroke="#223a8a" stroke-width="0.4" fill="none"/>
<path d="M85,155 l0.8,0.6 l-0.8,0.6" stroke="#223a8a" stroke-width="0.4" fill="none"/>
<path d="M88,155 l0.8,0.6 l-0.8,0.6" stroke="#223a8a" stroke-width="0.4" fill="none"/>
<path d="M91,155 l0.8,0.6 l-0.8,0.6" stroke="#223a8a" stroke-width="0.4" fill="none"/>
<path d="M94,155 l0.8,0.6 l-0.8,0.6" stroke="#223a8a" stroke-width="0.4" fill="none"/>
<path d="M97,155 l0.8,0.6 l-0.8,0.6" stroke="#223a8a" stroke-width="0.4" fill="none"/>
<path d="M100,155 l0.8,0.6 l-0.8,0.6" stroke="#223a8a" stroke-width="0.4" fill="none"/>
<path d="M103,155 l0.8,0.6 l-0.8,0.6" stroke="#223a8a" stroke-width="0.4" fill="none"/>
<path d="M106,155 l0.8,0.6 l-0.8,0.6" stroke="#223a8a" stroke-width="0.4" fill="none"/>
<path d="M51.3,164.7L64.4,164.7M65.0,162.4L83.2,162.4M83.8,164.7L100.7,164.7M101.3,162.4L112.4,162.4M113.0,164.7L165.0,164.7M165.60000000000002,162.4L198.2,162.4M198.8,164.7L315.7,164.7M316.5,164.7L379.3,164.7M379.90000000000003,162.5L475.4,162.5M476.0,164.7L478.7,164.7M479.3,162.5L507.0,162.5M507.6,164.7L516.2,164.7" stroke="#7c7c7c" stroke-width="0.9" fill="none"/>
<rect x="64.7" y="169.60000000000002" width="18.799999999999997" height="2.4" fill="#c0b8d8" />
<line x1="83.5" y1="170.8" x2="479" y2="170.8" stroke="#c8c0dc" stroke-width="0.9" />
<rect x="479" y="169.8" width="28.30000000000001" height="2.4" fill="#c0b8d8" />
<rect x="64.7" y="174.0" width="18.799999999999997" height="2.4" fill="#c0b8d8" />
<line x1="83.5" y1="175.2" x2="475.7" y2="175.2" stroke="#c8c0dc" stroke-width="0.9" />
<rect x="475.7" y="174" width="3.3" height="2.4" fill="#ccc4e0" rx="0.8"/>
<rect x="64.7" y="178.20000000000002" width="18.799999999999997" height="2.4" fill="#c0b8d8" />
<line x1="83.5" y1="179.4" x2="379.6" y2="179.4" stroke="#c8c0dc" stroke-width="0.9" />
<rect x="379.6" y="178.3" width="95.69999999999999" height="2.4" fill="#b8b0d4" />
<line x1="64.7" y1="183.8" x2="83.5" y2="183.8" stroke="#d8d4e8" stroke-width="0.9" />
<rect x="83.5" y="182.60000000000002" width="17.5" height="2.4" fill="#a89ec8" />
<line x1="101" y1="183.8" x2="198.5" y2="183.8" stroke="#c8c0dc" stroke-width="0.9" />
<rect x="198.5" y="182.60000000000002" width="116.89999999999998" height="2.4" fill="#a89ec8" />
<rect x="112.7" y="186.8" width="52.60000000000001" height="2.4" fill="#d0cae4" />
<line x1="165.3" y1="188" x2="198.5" y2="188" stroke="#c8c0dc" stroke-width="0.9" />
<rect x="198.5" y="186.8" width="116.89999999999998" height="2.4" fill="#b8b0d4" />
<rect x="198.5" y="191.5" width="116.89999999999998" height="2.0" fill="#d4cfe6" />
<line x1="315.4" y1="192.7" x2="379.6" y2="192.7" stroke="#c8c0dc" stroke-width="0.9" />
<rect x="379.6" y="191.5" width="95.69999999999999" height="2.4" fill="#ccc6e2" />
<text x="0.2" y="208.8" font-size="12.3" fill="#000" text-anchor="start" font-weight="bold" >B</text>
<line x1="63" y1="208.7" x2="149.5" y2="208.7" stroke="#111" stroke-width="0.9" />
<line x1="63.4" y1="207.5" x2="63.4" y2="209.9" stroke="#111" stroke-width="0.7" />
<line x1="149.1" y1="207.5" x2="149.1" y2="209.9" stroke="#111" stroke-width="0.7" />
<text x="106" y="206.9" font-size="3.6" fill="#222" text-anchor="middle" font-weight="bold" >10 Kb</text>
<text x="50" y="216.7" font-size="5.4" fill="#1a1a1a" text-anchor="end" font-weight="bold" >H3K27Ac</text>
<line x1="50.5" y1="220.5" x2="516" y2="220.5" stroke="#e2e2e2" stroke-width="0.8" />
<polygon points="50.50,220.50 56,220.50 56.25,220.33 56.50,220.15 56.75,220 57,220.06 57.25,220.23 57.50,220.43 57.75,220.50 58,220.48 58.25,220.35 58.50,220.24 58.75,220.14 59,220.06 59.25,220.12 59.50,220.22 59.75,220.33 60,220.46 60.25,220.50 71.25,220.50 71.50,220.43 71.75,220.34 72,220.26 72.25,220.18 72.50,220.12 72.75,220.11 73,220.17 73.25,220.25 73.50,220.33 73.75,220.42 74,220.50 110.25,220.50 110.50,220.43 110.75,220.32 111,220.21 111.25,220.11 111.50,220.03 111.75,219.96 112,219.99 112.25,220.07 112.50,220.16 112.75,220.26 113,220.37 113.25,220.49 113.50,220.50 116.75,220.50 117,220.33 117.25,220.09 117.50,219.89 117.75,219.78 118,219.95 118.25,220.16 118.50,220.42 118.75,220.50 139.75,220.50 140,220.49 140.25,220.24 140.50,220.02 140.75,219.84 141,219.82 141.25,220 141.50,220.21 141.75,220.46 142,220.50 154.50,220.50 154.75,220.40 155,220.26 155.25,220.13 155.50,220.02 155.75,219.92 156,219.87 156.25,219.94 156.50,220.05 156.75,220.17 157,220.30 157.25,220.44 157.50,220.50 160.25,220.50 160.50,220.43 160.75,220.25 161,220.09 161.25,219.95 161.50,219.85 161.75,219.88 162,220 162.25,220.15 162.50,220.31 162.75,220.49 163,220.50 228.25,220.50 228.50,220.35 228.75,220.06 229,219.84 229.25,219.89 229.50,220.13 229.75,220.43 230,220.50 251.75,220.50 252,220.38 252.25,220.21 252.50,220.05 252.75,219.92 253,219.87 253.25,219.99 253.50,220.13 253.75,220.30 254,220.49 254.25,220.50 266.50,220.50 266.75,220.46 267,220.18 267.25,219.94 267.50,219.75 267.75,219.78 268,219.98 268.25,220.23 268.50,220.50 348.25,220.50 348.50,220.45 348.75,220.31 349,220.19 349.25,220.16 349.50,220.27 349.75,220.41 350,220.50 369,220.50 369.25,220.39 369.50,220.25 369.75,220.13 370,220.02 370.25,219.92 370.50,219.84 370.75,219.83 371,219.91 371.25,220.01 371.50,220.12 371.75,220.25 372,220.38 372.25,220.50 375.50,220.50 375.75,220.40 376,220.21 376.25,220.05 376.50,220.10 376.75,220.27 377,220.47 377.25,220.50 418,220.50 418.25,220.49 418.50,220.38 418.75,220.29 419,220.21 419.25,220.14 419.50,220.15 419.75,220.22 420,220.30 420.25,220.40 420.50,220.50 516,220.50" fill="#6a74a4"/>
<polygon points="50.50,220.50 109,220.50 109.25,220.25 109.50,220.02 109.75,219.83 110,219.70 110.25,219.83 110.50,220.02 110.75,220.25 111,220.50 111.25,220.18 111.50,219.88 111.75,219.59 112,219.31 112.25,219.06 112.50,218.83 112.75,218.63 113,218.50 113.25,218.63 113.50,218.83 113.75,218.67 114,218.56 114.25,218.47 114.50,218.42 114.75,218.40 115,218.41 115.25,218.13 115.50,217.87 115.75,217.65 116,217.50 116.25,217.65 116.50,217.87 116.75,218.13 117,218.41 117.25,218.72 117.50,219.04 117.75,218.98 118,218.94 118.25,218.93 118.50,218.95 118.75,218.60 119,218.27 119.25,217.97 119.50,217.69 119.75,217.46 120,217.30 120.25,217.46 120.50,217.69 120.75,217.97 121,218.27 121.25,218.60 121.50,218.95 121.75,218.95 122,218.99 122.25,219.05 122.50,219.14 122.75,218.84 123,218.55 123.25,218.29 123.50,218.05 123.75,217.84 124,217.70 124.25,217.84 124.50,218.05 124.75,218.29 125,218.55 125.25,218.31 125.50,218.11 125.75,217.95 126,217.84 126.25,217.76 126.50,217.74 126.75,217.42 127,217.20 127.25,217.42 127.50,217.74 127.75,218.12 128,218.54 128.25,218.99 128.50,219.47 128.75,219.97 129,220.50 129.25,220.18 129.50,219.88 129.75,219.59 130,219.31 130.25,219.06 130.50,218.83 130.75,218.63 131,218.50 131.25,218.63 131.50,218.83 131.75,219.06 132,219.31 132.25,219.59 132.50,219.88 132.75,220.18 133,220.50 133.25,220.25 133.50,220.02 133.75,219.83 134,219.70 134.25,219.83 134.50,220.02 134.75,220.25 135,220.50 152,220.50 152.25,220.19 152.50,219.91 152.75,219.66 153,219.50 153.25,219.66 153.50,219.91 153.75,220.19 154,220.50 167.50,220.50 167.75,220.43 168,220.07 168.25,219.73 168.50,219.43 168.75,219.18 169,219 169.25,219.18 169.50,219.43 169.75,219.73 170,220.07 170.25,220.43 170.50,220.50 209,220.50 209.25,220.19 209.50,219.91 209.75,219.66 210,219.50 210.25,219.66 210.50,219.91 210.75,220.19 211,220.50 354.50,220.50 354.75,220.31 355,220.01 355.25,219.76 355.50,219.55 355.75,219.58 356,219.80 356.25,220.07 356.50,220.37 356.75,220.50 395.75,220.50 396,219.93 396.25,219.27 396.50,218.67 396.75,218.15 397,217.80 397.25,218.15 397.50,218.67 397.75,219.27 398,219.93 398.25,220.50 424.50,220.50 424.75,220.08 425,219.68 425.25,219.31 425.50,218.98 425.75,218.69 426,218.50 426.25,218.69 426.50,218.98 426.75,219.31 427,219.68 427.25,220.08 427.50,220.50 445,220.50 445.25,219.54 445.50,217.97 445.75,216.48 446,215.05 446.25,213.71 446.50,212.45 446.75,211.31 447,210.33 447.25,209.58 447.50,209.99 447.75,210.90 448,211.98 448.25,213.19 448.50,214.50 448.75,215.90 449,217.37 449.25,218.90 449.50,220.50 449.75,220.50 458,220.50 458.25,220.31 458.50,220.14 458.75,220 459,219.90 459.25,220 459.50,220.14 459.75,220.31 460,220.50 516,220.50" fill="#262f7e"/>
<text x="50" y="228.6" font-size="5.4" fill="#1a1a1a" text-anchor="end" font-weight="bold" >SCL</text>
<line x1="50.5" y1="232.6" x2="516" y2="232.6" stroke="#e2e2e2" stroke-width="0.8" />
<polygon points="50.50,232.60 52,232.60 52.25,232.60 52.50,232.43 52.75,232.27 53,232.12 53.25,231.98 53.50,231.87 53.75,231.81 54,231.90 54.25,232.03 54.50,232.17 54.75,232.32 55,232.48 55.25,232.60 64.75,232.60 65,232.51 65.25,232.26 65.50,232.06 65.75,232.09 66,232.31 66.25,232.57 66.50,232.60 81.75,232.60 82,232.60 82.25,232.37 82.50,232.18 82.75,232.21 83,232.41 83.25,232.60 121.25,232.60 121.50,232.56 121.75,232.47 122,232.39 122.25,232.32 122.50,232.25 122.75,232.21 123,232.25 123.25,232.31 123.50,232.39 123.75,232.47 124,232.56 124.25,232.60 134,232.60 134.25,232.44 134.50,232.28 134.75,232.14 135,232.02 135.25,231.93 135.50,231.99 135.75,232.11 136,232.25 136.25,232.40 136.50,232.57 136.75,232.60 137,232.60 137.25,232.53 137.50,232.42 137.75,232.31 138,232.21 138.25,232.13 138.50,232.11 138.75,232.18 139,232.27 139.25,232.27 139.50,232.26 139.75,232.25 140,232.14 140.25,232.05 140.50,232.02 140.75,232.09 141,232.19 141.25,232.30 141.50,232.43 141.75,232.56 142,232.60 150.25,232.60 150.50,232.49 150.75,232.25 151,232.05 151.25,231.98 151.50,232.15 151.75,232.37 152,232.60 160.25,232.60 160.50,232.57 160.75,232.38 161,232.19 161.25,232.03 161.50,231.89 161.75,231.81 162,231.91 162.25,232.05 162.50,232.22 162.75,232.40 163,232.60 163.25,232.60 181.25,232.60 181.50,232.46 181.75,232.30 182,232.16 182.25,232.04 182.50,231.94 182.75,231.97 183,232.08 183.25,232.21 183.50,232.36 183.75,232.52 184,232.60 186.25,232.60 186.50,232.54 186.75,232.45 187,232.37 187.25,232.30 187.50,232.25 187.75,232.30 188,232.36 188.25,232.44 188.50,232.53 188.75,232.60 189.25,232.60 189.50,232.57 189.75,232.43 190,232.30 190.25,232.20 190.50,232.23 190.75,232.35 191,232.48 191.25,232.60 198.25,232.60 198.50,232.45 198.75,232.25 199,232.08 199.25,231.96 199.50,232.06 199.75,232.22 200,232.42 200.25,232.60 215,232.60 215.25,232.48 215.50,232.28 215.75,232.10 216,231.95 216.25,231.95 216.50,232.10 216.75,232.28 217,232.48 217.25,232.60 241.50,232.60 241.75,232.57 242,232.42 242.25,232.29 242.50,232.16 242.75,232.04 243,231.95 243.25,231.88 243.50,231.95 243.75,232.04 244,232.16 244.25,232.29 244.50,232.43 244.75,232.57 245,232.56 245.25,232.18 245.50,231.88 245.75,231.95 246,232.28 246.25,232.60 268,232.60 268.25,232.59 268.50,232.39 268.75,232.20 269,232.05 269.25,231.93 269.50,232.01 269.75,232.16 270,232.33 270.25,232.53 270.50,232.60 277.25,232.60 277.50,232.48 277.75,232.22 278,231.99 278.25,231.83 278.50,231.81 278.75,231.92 279,232.03 279.25,232.06 279.50,232.11 279.75,232.18 280,232.11 280.25,232.08 280.50,232.14 280.75,232.22 281,232.31 281.25,232.41 281.50,232.52 281.75,232.60 284.75,232.60 285,232.49 285.25,232.39 285.50,232.30 285.75,232.22 286,232.18 286.25,232.24 286.50,232.33 286.75,232.42 287,232.53 287.25,232.60 293.50,232.60 293.75,232.52 294,232.43 294.25,232.35 294.50,232.30 294.75,232.34 295,232.42 295.25,232.51 295.50,232.60 297.75,232.60 298,232.47 298.25,232.32 298.50,232.18 298.75,232.05 299,231.94 299.25,231.86 299.50,231.92 299.75,232.02 300,232.15 300.25,232.28 300.50,232.43 300.75,232.59 301,232.60 313,232.60 313.25,232.47 313.50,232.34 313.75,232.21 314,232.11 314.25,232.08 314.50,232.17 314.75,232.28 315,232.42 315.25,232.56 315.50,232.60 328.75,232.60 329,232.38 329.25,232.18 329.50,232.02 329.75,232.04 330,232.22 330.25,232.42 330.50,232.60 348.50,232.60 348.75,232.54 349,232.40 349.25,232.28 349.50,232.18 349.75,232.10 350,232.16 350.25,232.26 350.50,232.38 350.75,232.51 351,232.60 368,232.60 368.25,232.56 368.50,232.48 368.75,232.40 369,232.34 369.25,232.28 369.50,232.30 369.75,232.36 370,232.43 370.25,232.51 370.50,232.59 370.75,232.60 403,232.60 403.25,232.59 403.50,232.42 403.75,232.26 404,232.12 404.25,232 404.50,231.91 404.75,231.99 405,232.10 405.25,232.24 405.50,232.40 405.75,232.57 406,232.60 429.25,232.60 429.50,232.60 429.75,232.48 430,232.37 430.25,232.28 430.50,232.26 430.75,232.33 431,232.43 431.25,232.54 431.50,232.60 451.50,232.60 451.75,232.38 452,232.16 452.25,232 452.50,232.13 452.75,232.34 453,232.59 453.25,232.60 454.75,232.60 455,232.59 455.25,232.47 455.50,232.35 455.75,232.24 456,232.14 456.25,232.07 456.50,232.07 456.75,232.15 457,232.24 457.25,232.35 457.50,232.47 457.75,232.60 458,232.60 461.25,232.60 461.50,232.47 461.75,232.24 462,232.08 462.25,232.25 462.50,232.48 462.75,232.60 487.75,232.60 488,232.42 488.25,232.13 488.50,231.89 488.75,231.89 489,232.12 489.25,232.42 489.50,232.60 492.50,232.60 492.75,232.57 493,232.50 493.25,232.43 493.50,232.37 493.75,232.31 494,232.28 494.25,232.32 494.50,232.38 494.75,232.44 495,232.51 495.25,232.58 495.50,232.60 497.25,232.60 497.50,232.56 497.75,232.40 498,232.26 498.25,232.15 498.50,232.18 498.75,232.30 499,232.44 499.25,232.60 516,232.60" fill="#6a74a4"/>
<polygon points="50.50,232.60 120.75,232.60 121,232.39 121.25,232.14 121.50,231.92 121.75,231.73 122,231.60 122.25,231.73 122.50,231.92 122.75,232.14 123,232.39 123.25,232.60 155,232.60 155.25,232.38 155.50,232.18 155.75,232.02 156,231.90 156.25,232.02 156.50,232.18 156.75,232.38 157,232.60 424.50,232.60 424.75,232.50 425,232.02 425.25,231.58 425.50,231.18 425.75,230.83 426,230.60 426.25,230.83 426.50,231.18 426.75,231.58 427,232.02 427.25,232.50 427.50,232.60 443.50,232.60 443.75,230.83 444,229.15 444.25,227.56 444.50,226.08 444.75,224.74 445,223.57 445.25,222.69 445.50,223.17 445.75,224.25 446,225.53 446.25,226.96 446.50,228.50 446.75,230.15 447,231.88 447.25,232.60 516,232.60" fill="#262f7e"/>
<text x="50" y="240.3" font-size="5.4" fill="#1a1a1a" text-anchor="end" font-weight="bold" >LYL1</text>
<line x1="50.5" y1="244.7" x2="516" y2="244.7" stroke="#e2e2e2" stroke-width="0.8" />
<polygon points="50.50,244.70 58,244.70 58.25,244.38 58.50,244 58.75,243.70 59,243.76 59.25,243.97 59.50,244.21 59.75,244.30 60,244.17 60.25,243.95 60.50,243.72 60.75,243.60 61,243.58 61.25,243.60 61.50,243.69 61.75,243.91 62,244.17 62.25,244.39 62.50,244.52 62.75,244.67 63,244.70 64,244.70 64.25,244.47 64.50,244.19 64.75,243.94 65,243.75 65.25,243.85 65.50,244.07 65.75,244.34 66,244.64 66.25,244.70 67.50,244.70 67.75,244.64 68,244.44 68.25,244.26 68.50,244.13 68.75,244.22 69,244.39 69.25,244.58 69.50,244.70 70.50,244.70 70.75,244.56 71,244.42 71.25,244.22 71.50,243.77 71.75,243.36 72,243.12 72.25,243.02 72.50,243.04 72.75,243.15 73,243.47 73.25,243.71 73.50,243.84 73.75,243.79 74,243.80 74.25,243.85 74.50,243.82 74.75,244.03 75,244.28 75.25,244.57 75.50,244.70 77.25,244.70 77.50,244.61 77.75,244.33 78,244.07 78.25,243.83 78.50,243.62 78.75,243.15 79,242.84 79.25,242.66 79.50,242.55 79.75,242.53 80,242.76 80.25,243.12 80.50,243.44 80.75,243.80 81,244.21 81.25,243.83 81.50,243.24 81.75,242.69 82,242.63 82.25,242.84 82.50,243.47 82.75,243.87 83,244.17 83.25,244.50 83.50,244.70 93.75,244.70 94,244.38 94.25,244.07 94.50,243.82 94.75,243.85 95,244.11 95.25,244.43 95.50,244.70 99.25,244.70 99.50,244.52 99.75,244.01 100,243.59 100.25,243.42 100.50,243.62 100.75,243.94 101,244.26 101.25,244.26 101.50,244.38 101.75,244.52 102,244.68 102.25,244.70 109,244.70 109.25,244.68 109.50,244.55 109.75,244.44 110,244.34 110.25,244.14 110.50,243.94 110.75,243.84 111,243.82 111.25,243.86 111.50,244.04 111.75,244.26 112,244.50 112.25,244.63 112.50,244.70 112.75,244.70 113,244.33 113.25,243.60 113.50,243.06 113.75,243.30 114,243.96 114.25,244.62 114.50,244.70 115.50,244.70 115.75,244.67 116,244.23 116.25,243.84 116.50,243.51 116.75,243.31 117,243.56 117.25,243.90 117.50,244.30 117.75,244.70 118.50,244.70 118.75,244.47 119,244.21 119.25,244 119.50,243.89 119.75,244.07 120,244.30 120.25,244.57 120.50,244.70 120.75,244.62 121,244.52 121.25,244.42 121.50,244.34 121.75,244.28 122,244.31 122.25,244.39 122.50,244.48 122.75,244.58 123,244.69 123.25,244.70 123.50,244.70 123.75,244.65 124,244.19 124.25,243.81 124.50,243.62 124.75,243.93 125,244.34 125.25,244.70 127.50,244.70 127.75,244.53 128,244.36 128.25,244.20 128.50,244.06 128.75,243.95 129,243.94 129.25,244.04 129.50,244.18 129.75,244.33 130,244.50 130.25,244.68 130.50,244.70 132.50,244.70 132.75,244.63 133,244.08 133.25,243.63 133.50,243.44 133.75,243.82 134,244.32 134.25,244.70 141.25,244.70 141.50,244.59 141.75,244.20 142,243.65 142.25,243.15 142.50,242.56 142.75,242.16 143,241.93 143.25,241.89 143.50,242.52 143.75,243.05 144,243.65 144.25,244.19 144.50,244.38 144.75,244.59 145,244.70 147.75,244.70 148,244.58 148.25,244.21 148.50,243.92 148.75,244 149,244.32 149.25,244.70 155.50,244.70 155.75,244.65 156,244.33 156.25,244.03 156.50,243.76 156.75,243.53 157,243.37 157.25,243.53 157.50,243.77 157.75,244.04 158,244.34 158.25,244.66 158.50,244.52 158.75,244.07 159,243.71 159.25,243.43 159.50,243.52 159.75,243.73 160,243.70 160.25,243.77 160.50,243.92 160.75,243.71 161,243.60 161.25,243.57 161.50,243.88 161.75,244.29 162,244.70 165.25,244.70 165.50,244.70 165.75,244.51 166,244.33 166.25,244.16 166.50,244.01 166.75,243.86 167,243.41 167.25,243.11 167.50,242.94 167.75,242.84 168,242.86 168.25,243.21 168.50,243.65 168.75,244.09 169,244.41 169.25,244.70 170.25,244.70 170.50,244.62 170.75,244.51 171,244.41 171.25,244.12 171.50,243.80 171.75,243.61 172,243.48 172.25,243.41 172.50,243.48 172.75,243.65 173,243.80 173.25,243.99 173.50,244.32 173.75,244.51 174,244.61 174.25,244.70 183.75,244.70 184,244.63 184.25,244.52 184.50,244.43 184.75,244.34 185,244.26 185.25,244.20 185.50,244.20 185.75,244.26 186,244.33 186.25,244.42 186.50,244.51 186.75,244.61 187,244.70 189,244.70 189.25,244.56 189.50,244.19 189.75,243.74 190,243.55 190.25,243.50 190.50,243.49 190.75,243.36 191,243.17 191.25,243.13 191.50,243.15 191.75,243.31 192,243.61 192.25,243.95 192.50,244.18 192.75,244.37 193,244.57 193.25,244.70 203,244.70 203.25,244.66 203.50,244.36 203.75,244.07 204,243.68 204.25,243.34 204.50,243.08 204.75,243 205,243.01 205.25,243.09 205.50,243.35 205.75,243.65 206,243.84 206.25,244.07 206.50,244.32 206.75,244.59 207,244.70 209,244.70 209.25,244.56 209.50,244.36 209.75,244.08 210,243.69 210.25,243.40 210.50,243.33 210.75,243.32 211,243.37 211.25,243.53 211.50,243.44 211.75,243.28 212,243.09 212.25,242.99 212.50,243.07 212.75,243.21 213,243.13 213.25,243.16 213.50,243.26 213.75,243.51 214,243.83 214.25,244.20 214.50,244.47 214.75,244.67 215,244.70 222.75,244.70 223,244.59 223.25,244.42 223.50,244.28 223.75,244.27 224,244.40 224.25,244.56 224.50,244.70 225.50,244.70 225.75,244.69 226,244.36 226.25,244.07 226.50,243.85 226.75,243.82 227,243.93 227.25,243.96 227.50,243.61 227.75,243.19 228,242.88 228.25,243.06 228.50,243.25 228.75,243.50 229,243.71 229.25,243.69 229.50,243.75 229.75,243.96 230,244.14 230.25,244.34 230.50,244.57 230.75,244.70 238.50,244.70 238.75,244.66 239,244.46 239.25,244.30 239.50,244.30 239.75,244.45 240,244.65 240.25,244.70 241.75,244.70 242,244.35 242.25,244.03 242.50,243.77 242.75,243.65 243,243.87 243.25,244.16 243.50,244.49 243.75,244.70 245,244.70 245.25,244.20 245.50,243.80 245.75,243.83 246,244.11 246.25,244.43 246.50,244.31 246.75,244.22 247,244.19 247.25,244.27 247.50,244.38 247.75,244.50 248,244.63 248.25,244.70 249,244.70 249.25,244.39 249.50,243.85 249.75,243.47 250,243.81 250.25,244.34 250.50,244.70 253.25,244.70 253.50,244.42 253.75,244.12 254,243.85 254.25,243.61 254.50,243.42 254.75,243.43 255,243.63 255.25,243.87 255.50,244.14 255.75,244.44 256,244.70 258.50,244.70 258.75,244.51 259,244.33 259.25,244.17 259.50,244.03 259.75,244 260,244.12 260.25,244.28 260.50,244.45 260.75,244.65 261,244.70 262,244.70 262.25,244.60 262.50,244.47 262.75,244.35 263,244.24 263.25,244.15 263.50,244.07 263.75,244.08 264,244.16 264.25,244.26 264.50,244.37 264.75,244.49 265,244.62 265.25,244.70 265.50,244.70 265.75,244.64 266,244.34 266.25,244.01 266.50,243.71 266.75,243.45 267,243.27 267.25,243.33 267.50,243.41 267.75,243.47 268,243.59 268.25,243.78 268.50,243.79 268.75,243.77 269,243.84 269.25,243.95 269.50,243.65 269.75,243.34 270,242.78 270.25,242.69 270.50,243.01 270.75,243.71 271,244.45 271.25,244.70 274.50,244.70 274.75,244.70 275,244.63 275.25,244.57 275.50,244.52 275.75,244.47 276,244.43 276.25,244.40 276.50,244.42 276.75,244.46 277,244.51 277.25,244.56 277.50,244.62 277.75,244.68 278,244.70 280.50,244.70 280.75,244.70 281,244.58 281.25,244.47 281.50,244.40 281.75,244.45 282,244.55 282.25,244.66 282.50,244.70 284.75,244.70 285,244.70 285.25,244.47 285.50,244.26 285.75,244.06 286,243.89 286.25,243.76 286.50,243.82 286.75,243.98 287,244.16 287.25,244.14 287.50,243.62 287.75,243.09 288,242.76 288.25,243.22 288.50,243.56 288.75,244.03 289,243.79 289.25,243.66 289.50,243.85 289.75,244.12 290,244.43 290.25,244.70 293.25,244.70 293.50,244.59 293.75,244.05 294,243.42 294.25,242.86 294.50,242.43 294.75,242.46 295,242.81 295.25,243.23 295.50,243.71 295.75,243.76 296,243.66 296.25,243.46 296.50,243.53 296.75,243.88 297,244.30 297.25,244.70 304.25,244.70 304.50,244.51 304.75,244.28 305,244.07 305.25,243.88 305.50,243.74 305.75,243.80 306,243.96 306.25,244.16 306.50,244.38 306.75,244.29 307,243.86 307.25,243.41 307.50,243.09 307.75,243.20 308,243.42 308.25,243.84 308.50,244.21 308.75,244.34 309,244.49 309.25,244.65 309.50,244.58 309.75,244.10 310,243.69 310.25,243.38 310.50,243.59 310.75,243.99 311,244.45 311.25,244.70 312.75,244.70 313,244.65 313.25,244.29 313.50,243.99 313.75,243.94 314,244.04 314.25,244.15 314.50,244.22 314.75,244.31 315,244.42 315.25,244.55 315.50,244.68 315.75,244.70 316.25,244.70 316.50,244.54 316.75,244.38 317,244.24 317.25,244.11 317.50,244 317.75,243.93 318,244.01 318.25,244.13 318.50,244.26 318.75,244.41 319,244.57 319.25,244.70 322,244.70 322.25,244.67 322.50,244.61 322.75,244.55 323,244.49 323.25,244.45 323.50,244.40 323.75,244.39 324,244.42 324.25,244.47 324.50,244.35 324.75,244.08 325,243.86 325.25,243.85 325.50,244.09 325.75,244.40 326,244.70 329.25,244.70 329.50,244.49 329.75,244.13 330,243.80 330.25,243.55 330.50,243.41 330.75,243.36 331,243.42 331.25,243.42 331.50,243.55 331.75,243.89 332,244.31 332.25,244.67 332.50,244.70 333.50,244.70 333.75,244.62 334,244.28 334.25,243.97 334.50,243.70 334.75,243.49 335,243.58 335.25,243.82 335.50,244.11 335.75,244.44 336,244.70 337.50,244.70 337.75,244.68 338,244.53 338.25,244.40 338.50,244.27 338.75,244.17 339,244.17 339.25,244.27 339.50,244.39 339.75,244.53 340,244.68 340.25,244.70 340.75,244.70 341,244.45 341.25,243.95 341.50,243.55 341.75,243.58 342,243.99 342.25,244.49 342.50,244.70 344.50,244.70 344.75,244.53 345,244.35 345.25,244.21 345.50,244.25 345.75,244.41 346,244.59 346.25,244.70 347.50,244.70 347.75,244.67 348,244.18 348.25,243.79 348.50,243.85 348.75,244.26 349,244.70 349.75,244.70 350,244.65 350.25,244.47 350.50,244.12 350.75,243.77 351,243.46 351.25,243.22 351.50,243.27 351.75,243.53 352,243.80 352.25,243.99 352.50,244.04 352.75,244.11 353,244.26 353.25,244.39 353.50,244.55 353.75,244.70 354,244.70 354.25,244.57 354.50,244.30 354.75,244.05 355,243.82 355.25,243.65 355.50,243.70 355.75,243.89 356,244.12 356.25,244.38 356.50,244.67 356.75,244.70 358.75,244.70 359,244.42 359.25,244.14 359.50,243.87 359.75,243.63 360,243.43 360.25,243.31 360.50,243.46 360.75,243.68 361,243.92 361.25,244.20 361.50,244.49 361.75,244.70 364.75,244.70 365,244.58 365.25,244.44 365.50,244.32 365.75,244.27 366,244.37 366.25,244.50 366.50,244.60 366.75,244.21 367,243.82 367.25,243.54 367.50,243.75 367.75,244.11 368,244.54 368.25,244.70 372,244.70 372.25,244.43 372.50,244.18 372.75,243.97 373,243.85 373.25,244 373.50,244.22 373.75,244.47 374,244.70 375,244.70 375.25,244.55 375.50,244.32 375.75,244.11 376,243.92 376.25,243.75 376.50,243.64 376.75,243.75 377,243.91 377.25,244.10 377.50,244.31 377.75,244.54 378,244.70 379.25,244.70 379.50,244.65 379.75,244.30 380,243.97 380.25,243.69 380.50,243.46 380.75,243.48 381,243.72 381.25,244.01 381.50,244.34 381.75,244.69 382,244.70 383.50,244.70 383.75,244.67 384,244.55 384.25,244.45 384.50,244.36 384.75,244.29 385,244.30 385.25,244.38 385.50,244.48 385.75,244.58 386,244.69 386.25,244.70 394.75,244.70 395,244.63 395.25,244.55 395.50,244.48 395.75,244.42 396,244.37 396.25,244.35 396.50,244.40 396.75,244.45 397,244.52 397.25,244.58 397.50,244.49 397.75,244.37 398,244.22 398.25,244.10 398.50,244.01 398.75,244.05 399,244.17 399.25,244.30 399.50,244.45 399.75,244.62 400,244.70 400.50,244.70 400.75,244.55 401,244.36 401.25,244.20 401.50,244.04 401.75,243.92 402,243.86 402.25,243.94 402.50,243.83 402.75,243.76 403,243.72 403.25,243.72 403.50,243.62 403.75,243.56 404,243.70 404.25,243.88 404.50,244.09 404.75,244.06 405,244.02 405.25,243.91 405.50,243.72 405.75,243.81 406,244.03 406.25,244.31 406.50,244.61 406.75,244.70 407,244.60 407.25,244.51 407.50,244.43 407.75,244.36 408,244.22 408.25,244.07 408.50,244.02 408.75,244.03 409,244.18 409.25,244.36 409.50,244.48 409.75,244.52 410,244.45 410.25,244.39 410.50,244.35 410.75,244.39 411,244.45 411.25,244.53 411.50,244.61 411.75,244.69 412,244.70 420.50,244.70 420.75,244.50 421,244.22 421.25,243.97 421.50,243.75 421.75,243.57 422,243.57 422.25,243.75 422.50,243.97 422.75,244.23 423,244.50 423.25,244.70 424.25,244.70 424.50,244.58 424.75,244.38 425,244.19 425.25,244.05 425.50,244.04 425.75,244.18 426,244.36 426.25,244.57 426.50,244.70 438.25,244.70 438.50,244.63 438.75,244.50 439,244.39 439.25,244.32 439.50,244.37 439.75,244.11 440,243.90 440.25,243.65 440.50,243.45 440.75,243.66 441,243.95 441.25,244.30 441.50,244.68 441.75,244.70 443.25,244.70 443.50,244.64 443.75,244.49 444,244.34 444.25,244.15 444.50,243.83 444.75,243.54 445,243.36 445.25,243.30 445.50,243.28 445.75,243.40 446,243.67 446.25,243.98 446.50,244.20 446.75,244.40 447,244.60 447.25,244.70 447.75,244.70 448,244.70 448.25,244.42 448.50,244.16 448.75,243.91 449,243.70 449.25,243.52 449.50,243.21 449.75,243.08 450,243.03 450.25,243.04 450.50,243.08 450.75,243.22 451,243.37 451.25,243.44 451.50,243.55 451.75,243.58 452,243.14 452.25,242.84 452.50,242.62 452.75,242.81 453,243.37 453.25,244.03 453.50,244.64 453.75,244.40 454,244.17 454.25,244.06 454.50,244.24 454.75,244.49 455,244.70 455.25,244.70 455.50,244.59 455.75,244.33 456,244.10 456.25,243.90 456.50,243.78 456.75,243.93 457,244.13 457.25,244.36 457.50,244.62 457.75,244.70 468.50,244.70 468.75,244.67 469,244.17 469.25,243.77 469.50,243.70 469.75,244.09 470,244.57 470.25,244.70 477.25,244.70 477.50,244.31 477.75,243.96 478,243.68 478.25,243.66 478.50,243.94 478.75,244.28 479,244.66 479.25,244.70 481,244.70 481.25,244.49 481.50,244.10 481.75,243.79 482,243.74 482.25,244.04 482.50,244.41 482.75,244.70 485.25,244.70 485.50,244.57 485.75,244.39 486,244.23 486.25,244.11 486.50,244.18 486.75,244.32 487,244.50 487.25,244.69 487.50,244.70 490.75,244.70 491,244.48 491.25,244.27 491.50,244.07 491.75,243.88 492,243.73 492.25,243.63 492.50,243.74 492.75,243.79 493,243.52 493.25,243.34 493.50,243.29 493.75,243.73 494,244.10 494.25,244.54 494.50,244.70 499.25,244.70 499.50,244.63 499.75,244.48 500,244.35 500.25,244.23 500.50,244.12 500.75,244.02 501,243.98 501.25,244.05 501.50,244.15 501.75,244.27 502,244.40 502.25,244.53 502.50,244.68 502.75,244.70 503.25,244.70 503.50,244.41 503.75,244.14 504,243.89 504.25,243.69 504.50,243.61 504.75,243.78 505,244.01 505.25,244.27 505.50,244.56 505.75,244.70 516,244.70" fill="#6a74a4"/>
<polygon points="50.50,244.70 68,244.70 68.25,244.39 68.50,244.11 68.75,243.86 69,243.70 69.25,243.86 69.50,244.11 69.75,244.39 70,244.70 70.50,244.70 70.75,244.17 71,243.68 71.25,243.22 71.50,242.80 71.75,242.44 72,242.20 72.25,242.44 72.50,242.80 72.75,243.22 73,243.68 73.25,244.17 73.50,244.70 98,244.70 98.25,244.39 98.50,244.11 98.75,243.86 99,243.70 99.25,243.86 99.50,244.11 99.75,244.39 100,244.70 102.75,244.70 103,244.28 103.25,243.79 103.50,243.34 103.75,242.96 104,242.70 104.25,242.96 104.50,243.34 104.75,243.79 105,244.28 105.25,244.70 107,244.70 107.25,244.26 107.50,243.87 107.75,243.53 108,243.30 108.25,243.53 108.50,243.87 108.75,244.26 109,244.70 188.75,244.70 189,244.38 189.25,244.01 189.50,243.68 189.75,243.40 190,243.20 190.25,243.40 190.50,243.68 190.75,244.01 191,244.38 191.25,244.70 192.50,244.70 192.75,244.54 193,243.75 193.25,243 193.50,242.30 193.75,241.64 194,241.05 194.25,240.55 194.50,240.20 194.75,240.55 195,241.05 195.25,241.64 195.50,242.30 195.75,243 196,243.75 196.25,244.41 196.50,243.98 196.75,243.42 197,242.92 197.25,242.49 197.50,242.20 197.75,242.49 198,242.92 198.25,243.42 198.50,243.98 198.75,244.58 199,244.70 204.75,244.70 205,244.38 205.25,244.01 205.50,243.68 205.75,243.40 206,243.20 206.25,243.40 206.50,243.68 206.75,244.01 207,244.38 207.25,244.70 215,244.70 215.25,244.33 215.50,243.99 215.75,243.70 216,243.50 216.25,243.70 216.50,243.99 216.75,244.33 217,244.70 239,244.70 239.25,244.39 239.50,244.11 239.75,243.86 240,243.70 240.25,243.86 240.50,244.11 240.75,244.39 241,244.70 244,244.70 244.25,244.33 244.50,243.99 244.75,243.70 245,243.50 245.25,243.70 245.50,243.99 245.75,244.33 246,244.70 251,244.70 251.25,244.33 251.50,243.99 251.75,243.70 252,243.50 252.25,243.70 252.50,243.99 252.75,244.33 253,244.70 260.75,244.70 261,244.38 261.25,244.01 261.50,243.68 261.75,243.40 262,243.20 262.25,243.40 262.50,243.68 262.75,244.01 263,244.38 263.25,244.70 300,244.70 300.25,244.33 300.50,243.99 300.75,243.70 301,243.50 301.25,243.70 301.50,243.99 301.75,244.33 302,244.70 311.50,244.70 311.75,244.63 312,244.27 312.25,243.93 312.50,243.63 312.75,243.38 313,243.20 313.25,243.38 313.50,243.63 313.75,243.93 314,244.27 314.25,244.63 314.50,244.70 327,244.70 327.25,244.39 327.50,244.11 327.75,243.86 328,243.70 328.25,243.86 328.50,244.11 328.75,244.39 329,244.38 329.25,244.01 329.50,243.68 329.75,243.40 330,243.20 330.25,243.40 330.50,243.68 330.75,244.01 331,244.38 331.25,244.70 337.75,244.70 338,244.36 338.25,243.97 338.50,243.61 338.75,243.31 339,242.78 339.25,242.62 339.50,242.59 339.75,242.66 340,242.86 340.25,243.40 340.50,243.68 340.75,244.01 341,244.38 341.25,244.70 346.50,244.70 346.75,243.86 347,243.06 347.25,242.32 347.50,241.66 347.75,241.09 348,240.70 348.25,241.09 348.50,241.66 348.75,242.32 349,243.06 349.25,243.86 349.50,244.70 350.50,244.70 350.75,244.55 351,243.83 351.25,243.17 351.50,242.57 351.75,242.05 352,241.70 352.25,241.65 352.50,241.79 352.75,242.08 353,242.53 353.25,243.47 353.50,243.93 353.75,244.29 354,244.70 355.75,244.70 356,244.17 356.25,243.56 356.50,243 356.75,242.53 357,242.20 357.25,242.53 357.50,243 357.75,243.56 358,244.17 358.25,244.70 359,244.70 359.25,244.14 359.50,243.63 359.75,243.20 360,242.90 360.25,243.20 360.50,243.63 360.75,244.14 361,244.70 365,244.70 365.25,244.33 365.50,243.99 365.75,243.70 366,243.50 366.25,243.70 366.50,243.99 366.75,244.33 367,244.70 374,244.70 374.25,244.23 374.50,243.81 374.75,243.45 375,243.20 375.25,243.45 375.50,243.81 375.75,244.23 376,244.70 383.75,244.70 384,244.32 384.25,243.88 384.50,243.48 384.75,243.13 385,242.90 385.25,243.13 385.50,243.48 385.75,243.88 386,244.32 386.25,244.70 391,244.70 391.25,244.23 391.50,243.81 391.75,243.45 392,243.20 392.25,243.45 392.50,243.81 392.75,244.23 393,244.70 399,244.70 399.25,244.23 399.50,243.81 399.75,243.45 400,243.20 400.25,243.45 400.50,243.81 400.75,244.23 401,244.70 414,244.70 414.25,244.23 414.50,243.81 414.75,243.45 415,243.20 415.25,243.45 415.50,243.81 415.75,244.23 416,244.70 435.50,244.70 435.75,244.58 436,243.98 436.25,243.42 436.50,242.92 436.75,242.49 437,242.20 437.25,242.49 437.50,242.92 437.75,243.42 438,243.98 438.25,244.58 438.50,244.70 439.50,244.70 439.75,244.07 440,243.47 440.25,242.92 440.50,242.42 440.75,241.99 441,241.70 441.25,241.99 441.50,242.42 441.75,242.92 442,243.47 442.25,244.07 442.50,244.70 443.75,244.70 444,243.28 444.25,241.58 444.50,239.97 444.75,238.47 445,237.10 445.25,235.89 445.50,234.93 445.75,235.10 446,236.12 446.25,237.36 446.50,238.76 446.75,240.29 447,241.91 447.25,243.63 447.50,244.70 448.50,244.70 448.75,244.60 449,244.12 449.25,243.68 449.50,243.28 449.75,242.93 450,242.70 450.25,242.93 450.50,243.28 450.75,243.68 451,244.12 451.25,244.60 451.50,244.70 486,244.70 486.25,244.23 486.50,243.81 486.75,243.45 487,243.20 487.25,243.45 487.50,243.81 487.75,244.23 488,244.70 494.75,244.70 495,244.32 495.25,243.88 495.50,243.48 495.75,243.13 496,242.90 496.25,243.13 496.50,243.48 496.75,243.88 497,244.32 497.25,244.70 508,244.70 508.25,244.26 508.50,243.87 508.75,243.53 509,243.30 509.25,243.53 509.50,243.87 509.75,244.26 510,244.70 516,244.70" fill="#262f7e"/>
<text x="50" y="252.5" font-size="5.4" fill="#1a1a1a" text-anchor="end" font-weight="bold" >LMO2</text>
<line x1="50.5" y1="256.8" x2="516" y2="256.8" stroke="#e2e2e2" stroke-width="0.8" />
<polygon points="50.50,256.80 52,256.80 52.25,256.79 52.50,256.61 52.75,256.44 53,256.29 53.25,256.15 53.50,256.04 53.75,256.04 54,256.15 54.25,256.29 54.50,256.44 54.75,256.60 55,256.78 55.25,256.80 60.50,256.80 60.75,256.73 61,256.50 61.25,256.30 61.50,256.12 61.75,255.99 62,256.10 62.25,256.28 62.50,256.48 62.75,256.71 63,256.80 71.25,256.80 71.50,256.55 71.75,256.24 72,256.03 72.25,256.24 72.50,256.55 72.75,256.80 92.25,256.80 92.50,256.69 92.75,256.48 93,256.30 93.25,256.14 93.50,256.01 93.75,256.06 94,256.21 94.25,256.38 94.50,256.58 94.75,256.79 95,256.80 100.25,256.80 100.50,256.74 100.75,256.52 101,256.33 101.25,256.16 101.50,256.01 101.75,255.98 102,256.10 102.25,256.27 102.50,256.46 102.75,256.66 103,256.80 133,256.80 133.25,256.79 133.50,256.58 133.75,256.40 134,256.34 134.25,256.50 134.50,256.69 134.75,256.80 148.75,256.80 149,256.68 149.25,256.49 149.50,256.32 149.75,256.16 150,256.05 150.25,256.11 150.50,256.25 150.75,256.41 151,256.50 151.25,256.55 151.50,256.42 151.75,256.30 152,256.20 152.25,256.21 152.50,256.31 152.75,256.43 153,256.57 153.25,256.72 153.50,256.80 171,256.80 171.25,256.61 171.50,256.45 171.75,256.44 172,256.60 172.25,256.80 172.50,256.75 172.75,256.65 173,256.55 173.25,256.46 173.50,256.39 173.75,256.33 174,256.38 174.25,256.45 174.50,256.54 174.75,256.63 175,256.74 175.25,256.80 188.25,256.80 188.50,256.79 188.75,256.70 189,256.62 189.25,256.54 189.50,256.48 189.75,256.47 190,256.52 190.25,256.59 190.50,256.67 190.75,256.76 191,256.80 222.75,256.80 223,256.73 223.25,256.51 223.50,256.33 223.75,256.31 224,256.48 224.25,256.70 224.50,256.80 227.25,256.80 227.50,256.74 227.75,256.40 228,256.08 228.25,255.80 228.50,255.59 228.75,255.65 229,255.89 229.25,256.18 229.50,256.51 229.75,256.66 230,256.75 230.25,256.80 244.25,256.80 244.50,256.77 244.75,256.58 245,256.42 245.25,256.27 245.50,256.14 245.75,256.09 246,256.19 246.25,256.33 246.50,256.49 246.75,256.66 247,256.80 249.50,256.80 249.75,256.77 250,256.53 250.25,256.32 250.50,256.15 250.75,256.04 251,256.18 251.25,256.36 251.50,256.58 251.75,256.69 252,256.53 252.25,256.40 252.50,256.30 252.75,256.38 253,256.51 253.25,256.67 253.50,256.80 272.25,256.80 272.50,256.77 272.75,256.61 273,256.46 273.25,256.32 273.50,256.19 273.75,255.90 274,255.48 274.25,255.30 274.50,255.55 274.75,256 275,256.46 275.25,256.61 275.50,256.77 275.75,256.80 284.50,256.80 284.75,256.71 285,256.60 285.25,256.50 285.50,256.50 285.75,256.60 286,256.72 286.25,256.80 291.50,256.80 291.75,256.73 292,256.61 292.25,256.50 292.50,256.46 292.75,256.55 293,256.66 293.25,256.79 293.50,256.80 300.75,256.80 301,256.73 301.25,256.60 301.50,256.50 301.75,256.54 302,256.66 302.25,256.80 306.25,256.80 306.50,256.78 306.75,256.58 307,256.40 307.25,256.23 307.50,256.09 307.75,255.98 308,256.06 308.25,256.20 308.50,256.37 308.75,256.55 309,256.75 309.25,256.63 309.50,256.47 309.75,256.36 310,256.45 310.25,256.60 310.50,256.79 310.75,256.80 320.25,256.80 320.50,256.78 320.75,256.67 321,256.56 321.25,256.46 321.50,256.37 321.75,256.29 322,256.28 322.25,256.35 322.50,256.44 322.75,256.53 323,256.64 323.25,256.76 323.50,256.80 344.25,256.80 344.50,256.74 344.75,256.47 345,256.23 345.25,256.04 345.50,256.09 345.75,256.30 346,256.56 346.25,256.80 372.50,256.80 372.75,256.78 373,256.56 373.25,256.36 373.50,256.18 373.75,256.03 374,255.96 374.25,256.09 374.50,256.25 374.75,256.44 375,256.64 375.25,256.80 410,256.80 410.25,256.61 410.50,256.42 410.75,256.30 411,256.44 411.25,256.64 411.50,256.80 416.50,256.80 416.75,256.70 417,256.58 417.25,256.49 417.50,256.49 417.75,256.59 418,256.70 418.25,256.80 433.75,256.80 434,256.78 434.25,256.63 434.50,256.48 434.75,256.34 435,256.23 435.25,256.14 435.50,256.19 435.75,256.30 436,256.43 436.25,256.57 436.50,256.72 436.75,256.80 439,256.80 439.25,256.72 439.50,256.59 439.75,256.47 440,256.36 440.25,256.28 440.50,256.32 440.75,256.42 441,256.53 441.25,256.66 441.50,256.80 441.75,256.80 456.75,256.80 457,256.73 457.25,256.50 457.50,256.32 457.75,256.24 458,256.40 458.25,256.60 458.50,256.80 465.50,256.80 465.75,256.70 466,256.60 466.25,256.51 466.50,256.42 466.75,256.26 467,256.17 467.25,256.15 467.50,256.17 467.75,256.25 468,256.42 468.25,256.59 468.50,256.68 468.75,256.78 469,256.80 481,256.80 481.25,256.77 481.50,256.64 481.75,256.53 482,256.42 482.25,256.33 482.50,256.26 482.75,256.28 483,256.37 483.25,256.46 483.50,256.57 483.75,256.69 484,256.80 488.25,256.80 488.50,256.74 488.75,256.64 489,256.55 489.25,256.46 489.50,256.40 489.75,256.37 490,256.43 490.25,256.37 490.50,256.27 490.75,256.20 491,256.15 491.25,256.03 491.50,255.93 491.75,255.96 492,256.07 492.25,256.21 492.50,256.37 492.75,256.54 493,256.72 493.25,256.80 501,256.80 501.25,256.72 501.50,256.54 501.75,256.37 502,256.22 502.25,256.08 502.50,255.96 502.75,255.91 503,256.01 503.25,256.14 503.50,256.29 503.75,256.45 504,256.63 504.25,256.80 507.25,256.80 507.50,256.65 507.75,256.48 508,256.33 508.25,256.19 508.50,256.09 508.75,256.12 509,256.24 509.25,256.38 509.50,256.54 509.75,256.71 510,256.80 510.25,256.69 510.50,256.52 510.75,256.38 511,256.30 511.25,256.41 511.50,256.56 511.75,256.74 512,256.80 516,256.80" fill="#6a74a4"/>
<polygon points="50.50,256.80 130,256.80 130.25,256.49 130.50,256.21 130.75,255.96 131,255.80 131.25,255.96 131.50,256.21 131.75,256.49 132,256.80 191.75,256.80 192,256.48 192.25,256.11 192.50,255.78 192.75,255.50 193,254.98 193.25,254.81 193.50,254.76 193.75,254.81 194,254.98 194.25,255.50 194.50,255.78 194.75,256.11 195,256.48 195.25,256.80 244,256.80 244.25,256.43 244.50,256.09 244.75,255.80 245,255.60 245.25,255.80 245.50,256.09 245.75,256.43 246,256.80 264,256.80 264.25,256.43 264.50,256.09 264.75,255.80 265,255.60 265.25,255.80 265.50,256.09 265.75,256.43 266,256.80 369,256.80 369.25,256.49 369.50,256.21 369.75,255.96 370,255.80 370.25,255.96 370.50,256.21 370.75,256.49 371,256.80 424.50,256.80 424.75,256.17 425,255.57 425.25,255.02 425.50,254.52 425.75,254.09 426,253.80 426.25,254.09 426.50,254.52 426.75,255.02 427,255.57 427.25,256.17 427.50,256.80 443.75,256.80 444,255.52 444.25,253.99 444.50,252.54 444.75,251.19 445,249.96 445.25,248.87 445.50,248.01 445.75,248.16 446,249.07 446.25,250.19 446.50,251.46 446.75,252.83 447,254.29 447.25,255.84 447.50,256.80 516,256.80" fill="#262f7e"/>
<text x="50" y="264.2" font-size="5.4" fill="#1a1a1a" text-anchor="end" font-weight="bold" >RUNX1</text>
<line x1="50.5" y1="268.9" x2="516" y2="268.9" stroke="#e2e2e2" stroke-width="0.8" />
<polygon points="50.50,268.90 57,268.90 57.25,268.79 57.50,268.51 57.75,268.26 58,268.07 58.25,268.16 58.50,268.39 58.75,268.66 59,268.90 83.75,268.90 84,268.83 84.25,268.75 84.50,268.68 84.75,268.62 85,268.57 85.25,268.58 85.50,268.64 85.75,268.71 86,268.78 86.25,268.86 86.50,268.90 101.25,268.90 101.50,268.79 101.75,268.68 102,268.57 102.25,268.48 102.50,268.40 102.75,268.33 103,268.34 103.25,268.41 103.50,268.50 103.75,268.59 104,268.70 104.25,268.81 104.50,268.90 112,268.90 112.25,268.76 112.50,268.58 112.75,268.42 113,268.31 113.25,268.42 113.50,268.57 113.75,268.75 114,268.90 120.50,268.90 120.75,268.89 121,268.74 121.25,268.62 121.50,268.51 121.75,268.51 122,268.62 122.25,268.74 122.50,268.89 122.75,268.90 125.50,268.90 125.75,268.71 126,268.53 126.25,268.36 126.50,268.22 126.75,268.17 127,268.27 127.25,268.32 127.50,268.40 127.75,268.50 128,268.46 128.25,268.27 128.50,268.13 128.75,268.08 129,268.07 129.25,268.09 129.50,268.18 129.75,268.36 130,268.54 130.25,268.64 130.50,268.74 130.75,268.86 131,268.90 132.25,268.90 132.50,268.79 132.75,268.59 133,268.40 133.25,268.14 133.50,267.97 133.75,267.99 134,268.07 134.25,268.19 134.50,268.39 134.75,268.47 135,268.56 135.25,268.66 135.50,268.78 135.75,268.90 136,268.90 145,268.90 145.25,268.81 145.50,268.54 145.75,268.29 146,268.10 146.25,268.11 146.50,268.31 146.75,268.55 147,268.83 147.25,268.90 160.25,268.90 160.50,268.89 160.75,268.76 161,268.63 161.25,268.53 161.50,268.52 161.75,268.62 162,268.74 162.25,268.87 162.50,268.90 164.25,268.90 164.50,268.86 164.75,268.64 165,268.44 165.25,268.27 165.50,268.15 165.75,268.26 166,268.43 166.25,268.62 166.50,268.84 166.75,268.90 184.75,268.90 185,268.67 185.25,268.45 185.50,268.27 185.75,268.13 186,268.24 186.25,268.42 186.50,268.64 186.75,268.88 187,268.90 216.50,268.90 216.75,268.75 217,268.56 217.25,268.39 217.50,268.24 217.75,268.18 218,268.30 218.25,268.46 218.50,268.63 218.75,268.83 219,268.90 220.25,268.90 220.50,268.88 220.75,268.71 221,268.56 221.25,268.41 221.50,268.28 221.75,268.16 222,268.08 222.25,268.11 222.50,268.21 222.75,268.32 223,268.28 223.25,268.26 223.50,268.27 223.75,268.25 224,268.14 224.25,268.17 224.50,268.28 224.75,268.42 225,268.58 225.25,268.64 225.50,268.68 225.75,268.59 226,268.50 226.25,268.43 226.50,268.42 226.75,268.49 227,268.57 227.25,268.66 227.50,268.76 227.75,268.87 228,268.90 231.75,268.90 232,268.86 232.25,268.71 232.50,268.57 232.75,268.44 233,268.32 233.25,268.21 233.50,268.14 233.75,268.08 234,267.94 234.25,267.85 234.50,267.73 234.75,267.81 235,268.06 235.25,268.28 235.50,268.49 235.75,268.60 236,268.67 236.25,268.75 236.50,268.84 236.75,268.90 238.75,268.90 239,268.80 239.25,268.65 239.50,268.51 239.75,268.38 240,268.27 240.25,268.18 240.50,268.21 240.75,268.31 241,268.43 241.25,268.56 241.50,268.71 241.75,268.86 242,268.90 255.50,268.90 255.75,268.84 256,268.67 256.25,268.52 256.50,268.39 256.75,268.27 257,268.17 257.25,268.17 257.50,268.27 257.75,268.40 258,268.54 258.25,268.69 258.50,268.85 258.75,268.90 284,268.90 284.25,268.90 284.50,268.72 284.75,268.55 285,268.39 285.25,268.24 285.50,268.11 285.75,268.02 286,268.05 286.25,268.17 286.50,268.30 286.75,268.45 287,268.62 287.25,268.79 287.50,268.90 313,268.90 313.25,268.87 313.50,268.69 313.75,268.54 314,268.40 314.25,268.34 314.50,268.44 314.75,268.59 315,268.75 315.25,268.90 335.75,268.90 336,268.83 336.25,268.69 336.50,268.57 336.75,268.46 337,268.37 337.25,268.34 337.50,268.43 337.75,268.53 338,268.65 338.25,268.79 338.50,268.90 360,268.90 360.25,268.87 360.50,268.72 360.75,268.58 361,268.46 361.25,268.36 361.50,268.29 361.75,268.37 362,268.48 362.25,268.61 362.50,268.75 362.75,268.89 363,268.90 372.50,268.90 372.75,268.88 373,268.80 373.25,268.72 373.50,268.66 373.75,268.59 374,268.54 374.25,268.51 374.50,268.54 374.75,268.60 375,268.66 375.25,268.73 375.50,268.80 375.75,268.82 376,268.64 376.25,268.45 376.50,268.28 376.75,268.14 377,268.04 377.25,268.13 377.50,268.27 377.75,268.44 378,268.63 378.25,268.83 378.50,268.90 388,268.90 388.25,268.90 388.50,268.83 388.75,268.77 389,268.71 389.25,268.66 389.50,268.61 389.75,268.58 390,268.59 390.25,268.50 390.50,268.43 390.75,268.38 391,268.34 391.25,268.31 391.50,268.27 391.75,268.31 392,268.39 392.25,268.49 392.50,268.48 392.75,268.46 393,268.46 393.25,268.41 393.50,268.37 393.75,268.46 394,268.58 394.25,268.71 394.50,268.86 394.75,268.90 395.50,268.90 395.75,268.81 396,268.65 396.25,268.51 396.50,268.38 396.75,268.27 397,268.28 397.25,268.39 397.50,268.52 397.75,268.67 398,268.84 398.25,268.90 413.25,268.90 413.50,268.84 413.75,268.66 414,268.52 414.25,268.55 414.50,268.70 414.75,268.89 415,268.90 422.75,268.90 423,268.73 423.25,268.56 423.50,268.41 423.75,268.28 424,268.20 424.25,268.30 424.50,268.43 424.75,268.58 425,268.75 425.25,268.90 437,268.90 437.25,268.79 437.50,268.70 437.75,268.61 438,268.54 438.25,268.54 438.50,268.61 438.75,268.70 439,268.80 439.25,268.90 445.25,268.90 445.50,268.81 445.75,268.72 446,268.64 446.25,268.57 446.50,268.52 446.75,268.55 447,268.61 447.25,268.69 447.50,268.78 447.75,268.87 448,268.90 453.50,268.90 453.75,268.81 454,268.53 454.25,268.29 454.50,268.11 454.75,268.24 455,268.47 455.25,268.74 455.50,268.90 464,268.90 464.25,268.81 464.50,268.69 464.75,268.58 465,268.48 465.25,268.39 465.50,268.32 465.75,268.32 466,268.39 466.25,268.48 466.50,268.58 466.75,268.69 467,268.81 467.25,268.90 468.50,268.90 468.75,268.83 469,268.65 469.25,268.49 469.50,268.35 469.75,268.29 470,268.41 470.25,268.55 470.50,268.72 470.75,268.90 479.50,268.90 479.75,268.75 480,268.58 480.25,268.42 480.50,268.27 480.75,268.15 481,268.11 481.25,268.22 481.50,268.35 481.75,268.50 482,268.50 482.25,268.49 482.50,268.36 482.75,268.20 483,268.08 483.25,268.07 483.50,268.20 483.75,268.35 484,268.53 484.25,268.72 484.50,268.90 487.50,268.90 487.75,268.86 488,268.69 488.25,268.54 488.50,268.41 488.75,268.31 489,268.32 489.25,268.42 489.50,268.56 489.75,268.71 490,268.87 490.25,268.90 492,268.90 492.25,268.88 492.50,268.76 492.75,268.66 493,268.56 493.25,268.49 493.50,268.54 493.75,268.63 494,268.74 494.25,268.85 494.50,268.90 506,268.90 506.25,268.84 506.50,268.66 506.75,268.50 507,268.35 507.25,268.21 507.50,268.11 507.75,268.13 508,268.24 508.25,268.38 508.50,268.54 508.75,268.70 509,268.88 509.25,268.90 516,268.90" fill="#6a74a4"/>
<polygon points="50.50,268.90 420,268.90 420.25,268.59 420.50,268.31 420.75,268.06 421,267.90 421.25,268.06 421.50,268.31 421.75,268.59 422,268.90 424,268.90 424.25,268.06 424.50,267.26 424.75,266.52 425,265.86 425.25,265.29 425.50,264.90 425.75,265.29 426,265.86 426.25,266.52 426.50,267.26 426.75,268.06 427,268.90 444,268.90 444.25,268.56 444.50,266.90 444.75,265.31 445,263.82 445.25,262.44 445.50,261.20 445.75,260.13 446,259.40 446.25,260.13 446.50,261.20 446.75,262.44 447,263.82 447.25,265.31 447.50,266.90 447.75,268.56 448,268.90 494,268.90 494.25,268.59 494.50,268.31 494.75,268.06 495,267.90 495.25,268.06 495.50,268.31 495.75,268.59 496,268.90 516,268.90" fill="#262f7e"/>
<text x="50" y="276.4" font-size="5.4" fill="#1a1a1a" text-anchor="end" font-weight="bold" >GATA2</text>
<line x1="50.5" y1="281.0" x2="516" y2="281.0" stroke="#e2e2e2" stroke-width="0.8" />
<polygon points="50.50,281 82.50,281 82.75,280.77 83,280.53 83.25,280.31 83.50,280.15 83.75,280.19 84,280.37 84.25,280.59 84.50,280.83 84.75,281 90,281 90.25,280.95 90.50,280.82 90.75,280.69 91,280.58 91.25,280.48 91.50,280.41 91.75,280.45 92,280.54 92.25,280.65 92.50,280.78 92.75,280.91 93,281 101.75,281 102,280.86 102.25,280.74 102.50,280.66 102.75,280.74 103,280.86 103.25,281 138,281 138.25,280.86 138.50,280.62 138.75,280.43 139,280.34 139.25,280.50 139.50,280.71 139.75,280.96 140,281 145.75,281 146,280.87 146.25,280.60 146.50,280.37 146.75,280.35 147,280.57 147.25,280.84 147.50,281 155.25,281 155.50,280.93 155.75,280.85 156,280.78 156.25,280.72 156.50,280.66 156.75,280.61 157,280.61 157.25,280.66 157.50,280.72 157.75,280.79 158,280.86 158.25,280.94 158.50,281 161,281 161.25,280.92 161.50,280.73 161.75,280.56 162,280.41 162.25,280.29 162.50,280.28 162.75,280.40 163,280.54 163.25,280.71 163.50,280.89 163.75,281 169,281 169.25,280.91 169.50,280.76 169.75,280.63 170,280.54 170.25,280.57 170.50,280.68 170.75,280.82 171,280.97 171.25,281 173,281 173.25,280.88 173.50,280.70 173.75,280.54 174,280.42 174.25,280.45 174.50,280.58 174.75,280.75 175,280.93 175.25,281 183.75,281 184,280.78 184.25,280.56 184.50,280.37 184.75,280.21 185,280.20 185.25,280.35 185.50,280.54 185.75,280.75 186,280.99 186.25,281 188.50,281 188.75,281 189,280.76 189.25,280.55 189.50,280.38 189.75,280.38 190,280.55 190.25,280.76 190.50,280.99 190.75,280.92 191,280.85 191.25,280.79 191.50,280.73 191.75,280.68 192,280.64 192.25,280.67 192.50,280.72 192.75,280.78 193,280.84 193.25,280.91 193.50,280.98 193.75,281 200,281 200.25,280.76 200.50,280.37 200.75,280.14 201,280.44 201.25,280.85 201.50,281 205.50,281 205.75,280.94 206,280.85 206.25,280.77 206.50,280.70 206.75,280.64 207,280.67 207.25,280.74 207.50,280.82 207.75,280.91 208,281 208.25,281 216.50,281 216.75,280.88 217,280.77 217.25,280.66 217.50,280.56 217.75,280.48 218,280.46 218.25,280.53 218.50,280.62 218.75,280.72 219,280.84 219.25,280.96 219.50,281 226,281 226.25,280.69 226.50,280.35 226.75,280.15 227,280.40 227.25,280.76 227.50,281 232.25,281 232.50,280.81 232.75,280.56 233,280.36 233.25,280.32 233.50,280.51 233.75,280.76 234,281 238,281 238.25,280.91 238.50,280.77 238.75,280.65 239,280.52 239.25,280.28 239.50,280.10 239.75,280.06 240,280.11 240.25,280.31 240.50,280.56 240.75,280.83 241,281 243.25,281 243.50,280.97 243.75,280.84 244,280.72 244.25,280.62 244.50,280.53 244.75,280.52 245,280.61 245.25,280.71 245.50,280.83 245.75,280.95 246,281 251.50,281 251.75,280.97 252,280.77 252.25,280.59 252.50,280.43 252.75,280.30 253,280.32 253.25,280.45 253.50,280.62 253.75,280.81 254,281 265.50,281 265.75,280.83 266,280.65 266.25,280.49 266.50,280.43 266.75,280.56 267,280.73 267.25,280.93 267.50,281 273.25,281 273.50,280.94 273.75,280.80 274,280.68 274.25,280.70 274.50,280.82 274.75,280.96 275,281 275.50,281 275.75,280.79 276,280.55 276.25,280.34 276.50,280.18 276.75,280.19 277,280.36 277.25,280.58 277.50,280.82 277.75,281 280.75,281 281,280.98 281.25,280.68 281.50,280.43 281.75,280.23 282,280.32 282.25,280.55 282.50,280.83 282.75,280.86 283,280.72 283.25,280.58 283.50,280.46 283.75,280.36 284,280.28 284.25,280.31 284.50,280.40 284.75,280.52 285,280.64 285.25,280.78 285.50,280.93 285.75,281 287.50,281 287.75,280.72 288,280.48 288.25,280.35 288.50,280.54 288.75,280.79 289,281 290.50,281 290.75,280.96 291,280.84 291.25,280.74 291.50,280.66 291.75,280.67 292,280.75 292.25,280.86 292.50,280.98 292.75,281 296.75,281 297,280.86 297.25,280.72 297.50,280.60 297.75,280.48 298,280.38 298.25,280.30 298.50,280.31 298.75,280.40 299,280.51 299.25,280.62 299.50,280.75 299.75,280.87 300,280.83 300.25,280.69 300.50,280.57 300.75,280.49 301,280.54 301.25,280.65 301.50,280.78 301.75,280.93 302,281 304,281 304.25,280.95 304.50,280.85 304.75,280.75 305,280.66 305.25,280.57 305.50,280.51 305.75,280.49 306,280.55 306.25,280.63 306.50,280.72 306.75,280.82 307,280.92 307.25,281 362,281 362.25,280.84 362.50,280.57 362.75,280.35 363,280.30 363.25,280.50 363.50,280.76 363.75,281 366.75,281 367,280.92 367.25,280.84 367.50,280.77 367.75,280.70 368,280.64 368.25,280.59 368.50,280.60 368.75,280.65 369,280.72 369.25,280.79 369.50,280.86 369.75,280.95 370,281 380,281 380.25,280.94 380.50,280.77 380.75,280.60 381,280.45 381.25,280.31 381.50,280.19 381.75,280.10 382,280.18 382.25,280.30 382.50,280.44 382.75,280.59 383,280.76 383.25,280.93 383.50,281 391.75,281 392,280.99 392.25,280.90 392.50,280.82 392.75,280.74 393,280.67 393.25,280.61 393.50,280.57 393.75,280.59 394,280.65 394.25,280.72 394.50,280.79 394.75,280.87 395,280.96 395.25,281 404.75,281 405,280.78 405.25,280.52 405.50,280.31 405.75,280.33 406,280.54 406.25,280.80 406.50,281 406.75,280.94 407,280.76 407.25,280.59 407.50,280.44 407.75,280.30 408,280.20 408.25,280.23 408.50,280.34 408.75,280.49 409,280.64 409.25,280.82 409.50,281 436.75,281 437,280.94 437.25,280.47 437.50,280.08 437.75,280.07 438,280.35 438.25,280.69 438.50,280.74 438.75,280.80 439,280.86 439.25,280.74 439.50,280.62 439.75,280.46 440,280.33 440.25,280.29 440.50,280.40 440.75,280.55 441,280.72 441.25,280.91 441.50,281 442.50,281 442.75,281 443,280.88 443.25,280.77 443.50,280.67 443.75,280.58 444,280.52 444.25,280.57 444.50,280.66 444.75,280.75 445,280.86 445.25,280.98 445.50,281 449.50,281 449.75,280.87 450,280.72 450.25,280.61 450.50,280.69 450.75,280.83 451,280.99 451.25,281 466.50,281 466.75,280.88 467,280.73 467.25,280.58 467.50,280.46 467.75,280.36 468,280.35 468.25,280.45 468.50,280.58 468.75,280.72 469,280.87 469.25,281 493.50,281 493.75,280.81 494,280.61 494.25,280.45 494.50,280.44 494.75,280.61 495,280.81 495.25,281 503,281 503.25,280.79 503.50,280.56 503.75,280.39 504,280.54 504.25,280.77 504.50,281 516,281" fill="#6a74a4"/>
<polygon points="50.50,281 395.75,281 396,280.58 396.25,280.09 396.50,279.64 396.75,279.26 397,279 397.25,279.26 397.50,279.64 397.75,280.09 398,280.58 398.25,281 422.75,281 423,280.60 423.25,279.63 423.50,278.71 423.75,277.87 424,277.10 424.25,276.45 424.50,276 424.75,276.45 425,277.10 425.25,277.87 425.50,278.71 425.75,279.63 426,280.60 426.25,281 431,281 431.25,280.69 431.50,280.41 431.75,280.16 432,280 432.25,280.16 432.50,280.41 432.75,280.69 433,281 444,281 444.25,280.64 444.50,278.89 444.75,277.22 445,275.66 445.25,274.20 445.50,272.89 445.75,271.77 446,271 446.25,271.77 446.50,272.89 446.75,274.20 447,275.66 447.25,277.22 447.50,278.89 447.75,280.64 448,281 516,281" fill="#262f7e"/>
<text x="50" y="288.4" font-size="5.4" fill="#1a1a1a" text-anchor="end" font-weight="bold" >MEIS1</text>
<line x1="50.5" y1="293.1" x2="516" y2="293.1" stroke="#e2e2e2" stroke-width="0.8" />
<polygon points="50.50,293.10 54,293.10 54.25,293.06 54.50,292.94 54.75,292.83 55,292.73 55.25,292.65 55.50,292.59 55.75,292.64 56,292.73 56.25,292.83 56.50,292.94 56.75,293.05 57,293.10 67.75,293.10 68,292.92 68.25,292.74 68.50,292.57 68.75,292.45 69,292.48 69.25,292.60 69.50,292.60 69.75,292.63 70,292.61 70.25,292.51 70.50,292.58 70.75,292.71 71,292.86 71.25,293.04 71.50,293.10 73,293.10 73.25,292.94 73.50,292.70 73.75,292.49 74,292.31 74.25,292.18 74.50,292.29 74.75,292.47 75,292.68 75.25,292.91 75.50,293.10 77.25,293.10 77.50,293.02 77.75,292.90 78,292.80 78.25,292.73 78.50,292.78 78.75,292.88 79,293 79.25,293.10 91.50,293.10 91.75,293.02 92,292.88 92.25,292.75 92.50,292.63 92.75,292.53 93,292.44 93.25,292.45 93.50,292.54 93.75,292.64 94,292.76 94.25,292.90 94.50,293.03 94.75,292.94 95,292.81 95.25,292.78 95.50,292.90 95.75,293.05 96,293.10 106.75,293.10 107,293.04 107.25,292.90 107.50,292.78 107.75,292.75 108,292.85 108.25,292.98 108.50,293.10 121.50,293.10 121.75,292.95 122,292.76 122.25,292.58 122.50,292.42 122.75,292.30 123,292.33 123.25,292.46 123.50,292.62 123.75,292.80 124,293 124.25,293.10 129.50,293.10 129.75,293.05 130,292.92 130.25,292.79 130.50,292.68 130.75,292.57 131,292.48 131.25,292.37 131.50,292.36 131.75,292.39 132,292.43 132.25,292.50 132.50,292.57 132.75,292.65 133,292.67 133.25,292.67 133.50,292.68 133.75,292.71 134,292.81 134.25,292.87 134.50,292.93 134.75,293 135,293.07 135.25,293.10 136,293.10 136.25,293.01 136.50,292.88 136.75,292.77 137,292.67 137.25,292.63 137.50,292.70 137.75,292.81 138,292.92 138.25,293.06 138.50,293.10 147.50,293.10 147.75,292.94 148,292.79 148.25,292.64 148.50,292.51 148.75,292.40 149,292.33 149.25,292.42 149.50,292.53 149.75,292.67 150,292.81 150.25,292.97 150.50,293.10 177.25,293.10 177.50,293.06 177.75,292.86 178,292.69 178.25,292.53 178.50,292.39 178.75,292.34 179,292.45 179.25,292.60 179.50,292.77 179.75,292.95 180,293.10 182.75,293.10 183,293.09 183.25,292.81 183.50,292.56 183.75,292.37 184,292.42 184.25,292.64 184.50,292.89 184.75,293.10 191.50,293.10 191.75,293 192,292.86 192.25,292.74 192.50,292.62 192.75,292.53 193,292.53 193.25,292.62 193.50,292.74 193.75,292.87 194,293.01 194.25,293.10 200.50,293.10 200.75,292.77 201,292.41 201.25,292.14 201.50,292.30 201.75,292.63 202,293.03 202.25,293.10 210.75,293.10 211,293.09 211.25,292.86 211.50,292.67 211.75,292.60 212,292.76 212.25,292.97 212.50,293.10 212.75,293.09 213,292.85 213.25,292.63 213.50,292.43 213.75,292.21 214,292.02 214.25,292.06 214.50,292.15 214.75,292.31 215,292.60 215.25,292.83 215.50,292.94 215.75,293.06 216,293.10 234.25,293.10 234.50,292.98 234.75,292.78 235,292.60 235.25,292.45 235.50,292.32 235.75,292.34 236,292.47 236.25,292.64 236.50,292.82 236.75,293.02 237,293.10 238.75,293.10 239,293.07 239.25,292.91 239.50,292.76 239.75,292.65 240,292.69 240.25,292.81 240.50,292.96 240.75,293.10 270.75,293.10 271,292.93 271.25,292.76 271.50,292.70 271.75,292.84 272,293.04 272.25,293.10 274,293.10 274.25,292.98 274.50,292.84 274.75,292.72 275,292.60 275.25,292.50 275.50,292.42 275.75,292.45 276,292.53 276.25,292.64 276.50,292.76 276.75,292.89 277,293.02 277.25,293.10 283.50,293.10 283.75,293.04 284,292.79 284.25,292.57 284.50,292.38 284.75,292.23 285,292.26 285.25,292.43 285.50,292.64 285.75,292.86 286,293.10 286.25,293.10 286.50,292.98 286.75,292.79 287,292.67 287.25,292.82 287.50,293.02 287.75,293.10 291,293.10 291.25,292.86 291.50,292.62 291.75,292.41 292,292.23 292.25,292.10 292.50,292.21 292.75,292.39 293,292.60 293.25,292.83 293.50,293.08 293.75,293.10 306.25,293.10 306.50,293.01 306.75,292.91 307,292.82 307.25,292.73 307.50,292.66 307.75,292.60 308,292.62 308.25,292.68 308.50,292.76 308.75,292.85 309,292.95 309.25,292.92 309.50,292.81 309.75,292.65 310,292.51 310.25,292.38 310.50,292.27 310.75,292.25 311,292.34 311.25,292.47 311.50,292.61 311.75,292.76 312,292.92 312.25,293.10 312.50,293.10 328,293.10 328.25,293.08 328.50,293.01 328.75,292.94 329,292.88 329.25,292.83 329.50,292.80 329.75,292.83 330,292.88 330.25,292.93 330.50,293 330.75,293.07 331,293.10 341,293.10 341.25,293.02 341.50,292.88 341.75,292.78 342,292.86 342.25,293 342.50,293.10 350.50,293.10 350.75,293.02 351,292.94 351.25,292.87 351.50,292.81 351.75,292.73 352,292.69 352.25,292.67 352.50,292.67 352.75,292.69 353,292.68 353.25,292.74 353.50,292.82 353.75,292.91 354,292.94 354.25,292.83 354.50,292.64 354.75,292.47 355,292.33 355.25,292.35 355.50,292.49 355.75,292.40 356,292.33 356.25,292.33 356.50,292.40 356.75,292.63 357,292.90 357.25,293.10 358.75,293.10 359,293.04 359.25,292.94 359.50,292.85 359.75,292.77 360,292.70 360.25,292.65 360.50,292.69 360.75,292.76 361,292.84 361.25,292.93 361.50,293.03 361.75,293.10 371.75,293.10 372,292.95 372.25,292.76 372.50,292.58 372.75,292.43 373,292.29 373.25,292.18 373.50,292.22 373.75,292.34 374,292.49 374.25,292.65 374.50,292.83 374.75,293.02 375,293.10 385.25,293.10 385.50,292.94 385.75,292.71 386,292.56 386.25,292.72 386.50,292.95 386.75,293.10 388.25,293.10 388.50,293.08 388.75,292.81 389,292.58 389.25,292.41 389.50,292.47 389.75,292.47 390,292.52 390.25,292.43 390.50,292.27 390.75,292.15 391,292.20 391.25,292.35 391.50,292.52 391.75,292.72 392,292.93 392.25,293.10 392.75,293.10 393,293.01 393.25,292.90 393.50,292.80 393.75,292.70 394,292.62 394.25,292.57 394.50,292.62 394.75,292.70 395,292.79 395.25,292.89 395.50,293 395.75,293.10 407.25,293.10 407.50,293.08 407.75,292.82 408,292.50 408.25,292.25 408.50,292.31 408.75,292.44 409,292.62 409.25,292.60 409.50,292.64 409.75,292.71 410,292.79 410.25,292.88 410.50,292.97 410.75,293.08 411,293.10 427.50,293.10 427.75,292.91 428,292.71 428.25,292.55 428.50,292.62 428.75,292.80 429,293.02 429.25,293.10 430.75,293.10 431,293 431.25,292.81 431.50,292.62 431.75,292.32 432,292.07 432.25,291.97 432.50,291.99 432.75,292.06 433,292.22 433.25,292.50 433.50,292.65 433.75,292.77 434,292.90 434.25,293.04 434.50,293.10 437.25,293.10 437.50,293.05 437.75,292.96 438,292.87 438.25,292.79 438.50,292.72 438.75,292.66 439,292.64 439.25,292.69 439.50,292.76 439.75,292.83 440,292.92 440.25,292.97 440.50,292.88 440.75,292.70 441,292.54 441.25,292.39 441.50,292.27 441.75,292.18 442,292.25 442.25,292.37 442.50,292.51 442.75,292.67 443,292.85 443.25,293.03 443.50,293.10 452.50,293.10 452.75,292.88 453,292.49 453.25,292.17 453.50,292.24 453.75,292.58 454,292.99 454.25,293.10 483.25,293.10 483.50,292.92 483.75,292.65 484,292.43 484.25,292.41 484.50,292.62 484.75,292.88 485,293.10 489.75,293.10 490,292.91 490.25,292.73 490.50,292.56 490.75,292.42 491,292.32 491.25,292.40 491.50,292.53 491.75,292.69 492,292.87 492.25,293.07 492.50,293.10 497,293.10 497.25,293.03 497.50,292.88 497.75,292.75 498,292.65 498.25,292.66 498.50,292.77 498.75,292.90 499,293.05 499.25,293.10 504.25,293.10 504.50,293.06 504.75,292.81 505,292.58 505.25,292.38 505.50,292.21 505.75,292.14 506,292.28 506.25,292.47 506.50,292.69 506.75,292.92 507,293.10 508.75,293.10 509,292.98 509.25,292.85 509.50,292.76 509.75,292.84 510,292.97 510.25,293.10 516,293.10" fill="#6a74a4"/>
<polygon points="50.50,293.10 190,293.10 190.25,293.02 190.50,292.63 190.75,292.28 191,291.96 191.25,291.70 191.50,291.66 191.75,291.90 192,292.21 192.25,292.56 192.50,292.94 192.75,293.10 204.50,293.10 204.75,292.47 205,291.87 205.25,291.32 205.50,290.82 205.75,290.39 206,290.10 206.25,290.39 206.50,290.82 206.75,291.32 207,291.87 207.25,292.47 207.50,293.10 211.50,293.10 211.75,293.02 212,292.65 212.25,292.32 212.50,292.05 212.75,291.92 213,292.15 213.25,292.45 213.50,292.80 213.75,293.10 302.75,293.10 303,292.78 303.25,292.41 303.50,292.08 303.75,291.80 304,291.60 304.25,291.80 304.50,292.08 304.75,292.41 305,292.78 305.25,293.10 395.75,293.10 396,292.78 396.25,292.41 396.50,292.08 396.75,291.80 397,291.60 397.25,291.80 397.50,292.08 397.75,292.41 398,292.78 398.25,293.10 423.75,293.10 424,292.68 424.25,292.19 424.50,291.74 424.75,291.36 425,291.10 425.25,291.36 425.50,291.74 425.75,291.34 426,291.04 426.25,290.72 426.50,290.06 426.75,289.49 427,289.10 427.25,289.49 427.50,290.06 427.75,290.72 428,291.46 428.25,292.26 428.50,293.10 443.50,293.10 443.75,292.74 444,290.99 444.25,289.32 444.50,287.76 444.75,286.30 445,284.99 445.25,283.87 445.50,283.10 445.75,283.87 446,284.99 446.25,286.30 446.50,287.76 446.75,289.32 447,290.99 447.25,292.74 447.50,293.10 516,293.10" fill="#262f7e"/>
<text x="50" y="300.3" font-size="5.4" fill="#1a1a1a" text-anchor="end" font-weight="bold" >GFI1B</text>
<line x1="50.5" y1="305.2" x2="516" y2="305.2" stroke="#e2e2e2" stroke-width="0.8" />
<polygon points="50.50,305.20 50.75,305.20 51,305.20 51.25,305.01 51.50,304.83 51.75,304.71 52,304.77 52.25,304.88 52.50,304.86 52.75,304.80 53,304.79 53.25,304.85 53.50,304.91 53.75,304.99 54,305.08 54.25,305.17 54.50,305.20 57.25,305.20 57.50,305.10 57.75,304.87 58,304.68 58.25,304.53 58.50,304.58 58.75,304.75 59,304.96 59.25,305.19 59.50,305.20 69.75,305.20 70,305.16 70.25,305.08 70.50,305.01 70.75,304.94 71,304.88 71.25,304.84 71.50,304.85 71.75,304.89 72,304.95 72.25,305.02 72.50,305.10 72.75,305.18 73,305.20 78,305.20 78.25,305.18 78.50,304.96 78.75,304.78 79,304.64 79.25,304.76 79.50,304.95 79.75,305.16 80,305.20 82,305.20 82.25,305.13 82.50,304.87 82.75,304.59 83,304.57 83.25,304.82 83.50,305.09 83.75,305.20 98.75,305.20 99,305.18 99.25,305.10 99.50,305.03 99.75,304.97 100,304.92 100.25,304.88 100.50,304.89 100.75,304.94 101,304.87 101.25,304.81 101.50,304.78 101.75,304.84 102,304.94 102.25,305.06 102.50,305.20 109.25,305.20 109.50,305.15 109.75,304.99 110,304.85 110.25,304.74 110.50,304.72 110.75,304.83 111,304.97 111.25,305.13 111.50,305.20 133.75,305.20 134,305.07 134.25,304.91 134.50,304.76 134.75,304.63 135,304.51 135.25,304.43 135.50,304.49 135.75,304.60 136,304.73 136.25,304.88 136.50,305.04 136.75,305.20 141.50,305.20 141.75,305.04 142,304.64 142.25,304.28 142.50,304.21 142.75,304.29 143,304.56 143.25,304.70 143.50,304.87 143.75,305.06 144,305.20 153,305.20 153.25,305.11 153.50,305.01 153.75,304.93 154,304.85 154.25,304.79 154.50,304.82 154.75,304.89 155,304.98 155.25,305.07 155.50,305.17 155.75,305.20 156,305.18 156.25,305.07 156.50,304.97 156.75,304.88 157,304.80 157.25,304.74 157.50,304.76 157.75,304.83 158,304.92 158.25,305.02 158.50,304.97 158.75,304.90 159,304.78 159.25,304.69 159.50,304.78 159.75,304.90 160,305.05 160.25,305.20 167,305.20 167.25,305.14 167.50,305.07 167.75,305.01 168,304.95 168.25,304.90 168.50,304.91 168.75,304.95 169,305.01 169.25,305.08 169.50,305.15 169.75,305.20 181.75,305.20 182,305.08 182.25,304.87 182.50,304.69 182.75,304.56 183,304.65 183.25,304.49 183.50,304.37 183.75,304.29 184,304.37 184.25,304.65 184.50,304.99 184.75,305.20 185.25,305.20 185.50,305.19 185.75,305.10 186,305.01 186.25,304.93 186.50,304.87 186.75,304.81 187,304.72 187.25,304.64 187.50,304.60 187.75,304.74 188,304.95 188.25,305.19 188.50,305.20 194.75,305.20 195,305.12 195.25,304.99 195.50,304.88 195.75,304.83 196,304.93 196.25,305.05 196.50,305.19 196.75,305.20 201,305.20 201.25,304.99 201.50,304.65 201.75,304.37 202,304.30 202.25,304.56 202.50,304.88 202.75,305.20 210.50,305.20 210.75,305.17 211,305 211.25,304.84 211.50,304.69 211.75,304.56 212,304.46 212.25,304.44 212.50,304.54 212.75,304.66 213,304.80 213.25,304.96 213.50,305.13 213.75,305.20 219.50,305.20 219.75,305.04 220,304.61 220.25,304.27 220.50,304.22 220.75,304.28 221,304.50 221.25,304.71 221.50,304.96 221.75,305.20 232,305.20 232.25,305.03 232.50,304.87 232.75,304.72 233,304.60 233.25,304.51 233.50,304.57 233.75,304.52 234,304.52 234.25,304.61 234.50,304.89 234.75,304.95 235,304.92 235.25,304.77 235.50,304.62 235.75,304.50 236,304.41 236.25,304.48 236.50,304.60 236.75,304.74 237,304.90 237.25,305.06 237.50,305.20 238.25,305.20 238.50,305.09 238.75,304.92 239,304.76 239.25,304.62 239.50,304.49 239.75,304.38 240,304.37 240.25,304.48 240.50,304.60 240.75,304.75 241,304.91 241.25,305.08 241.50,305.20 254.50,305.20 254.75,305.12 255,304.83 255.25,304.56 255.50,304.34 255.75,304.21 256,304.38 256.25,304.62 256.50,304.89 256.75,305.18 257,305.20 263.75,305.20 264,304.99 264.25,304.77 264.50,304.58 264.75,304.46 265,304.59 265.25,304.78 265.50,305 265.75,305.20 284.50,305.20 284.75,305.08 285,304.92 285.25,304.77 285.50,304.63 285.75,304.52 286,304.43 286.25,304.50 286.50,304.61 286.75,304.75 287,304.89 287.25,305.05 287.50,304.96 287.75,304.62 288,304.35 288.25,304.31 288.50,304.57 288.75,304.90 289,305.20 305.25,305.20 305.50,305.13 305.75,304.90 306,304.67 306.25,304.45 306.50,304.26 306.75,304.11 307,304.07 307.25,304.20 307.50,304.37 307.75,304.58 308,304.81 308.25,305.05 308.50,305.18 308.75,305.20 314,305.20 314.25,305.14 314.50,304.89 314.75,304.68 315,304.59 315.25,304.76 315.50,304.99 315.75,305.20 321.50,305.20 321.75,305.13 322,304.97 322.25,304.82 322.50,304.69 322.75,304.57 323,304.48 323.25,304.50 323.50,304.61 323.75,304.73 324,304.87 324.25,305.03 324.50,305.19 324.75,305.20 351,305.20 351.25,305.15 351.50,305.06 351.75,304.87 352,304.65 352.25,304.42 352.50,304.12 352.75,303.89 353,303.81 353.25,303.87 353.50,303.97 353.75,304.20 354,304.50 354.25,304.83 354.50,304.98 354.75,305.09 355,305.20 369.50,305.20 369.75,305.12 370,305 370.25,304.89 370.50,304.79 370.75,304.71 371,304.52 371.25,304.43 371.50,304.36 371.75,304.33 372,304.32 372.25,304.35 372.50,304.44 372.75,304.55 373,304.68 373.25,304.83 373.50,304.99 373.75,305.16 374,305.20 374.25,304.98 374.50,304.55 374.75,304.16 375,303.81 375.25,303.61 375.50,303.63 375.75,303.90 376,304.01 376.25,304.12 376.50,304.31 376.75,304.78 377,305.14 377.25,305.20 379.75,305.20 380,305.20 380.25,305.04 380.50,304.89 380.75,304.76 381,304.63 381.25,304.53 381.50,304.48 381.75,304.57 382,304.68 382.25,304.81 382.50,304.95 382.75,305.10 383,305.20 383.25,305.20 383.50,305.16 383.75,304.88 384,304.65 384.25,304.59 384.50,304.80 384.75,305.06 385,305.20 445.25,305.20 445.50,305.18 445.75,305.05 446,304.94 446.25,304.83 446.50,304.74 446.75,304.66 447,304.68 447.25,304.76 447.50,304.86 447.75,304.97 448,305.10 448.25,305.20 453,305.20 453.25,305.09 453.50,304.87 453.75,304.68 454,304.53 454.25,304.53 454.50,304.69 454.75,304.88 455,305.10 455.25,305.20 460.75,305.20 461,305.06 461.25,304.88 461.50,304.72 461.75,304.61 462,304.72 462.25,304.88 462.50,305.07 462.75,305.20 465,305.20 465.25,304.92 465.50,304.66 465.75,304.58 466,304.82 466.25,305.12 466.50,305.20 469.75,305.20 470,305.16 470.25,305.05 470.50,304.96 470.75,304.89 471,304.94 471.25,304.84 471.50,304.74 471.75,304.63 472,304.46 472.25,304.31 472.50,304.21 472.75,304.29 473,304.43 473.25,304.60 473.50,304.78 473.75,304.98 474,305.19 474.25,304.99 474.50,304.77 474.75,304.59 475,304.63 475.25,304.82 475.50,305.05 475.75,305.20 478.25,305.20 478.50,305.19 478.75,305.07 479,304.96 479.25,304.86 479.50,304.77 479.75,304.72 480,304.79 480.25,304.87 480.50,304.98 480.75,305.09 481,305.20 489.50,305.20 489.75,305.17 490,304.98 490.25,304.81 490.50,304.66 490.75,304.53 491,304.45 491.25,304.54 491.50,304.67 491.75,304.83 492,304.99 492.25,305.18 492.50,305.20 503,305.20 503.25,305.05 503.50,304.74 503.75,304.47 504,304.27 504.25,304.35 504.50,304.60 504.75,304.88 505,305.20 505.25,305.03 505.50,304.85 505.75,304.69 506,304.56 506.25,304.56 506.50,304.69 506.75,304.85 507,305.03 507.25,305.20 513,305.20 513.25,305.08 513.50,304.97 513.75,304.88 514,304.87 514.25,304.95 514.50,305.05 514.75,305.17 515,305.20 516,305.20" fill="#6a74a4"/>
<polygon points="50.50,305.20 112.75,305.20 113,304.86 113.25,304.47 113.50,304.11 113.75,303.81 114,303.60 114.25,303.81 114.50,304.11 114.75,304.47 115,304.86 115.25,305.20 116,305.20 116.25,304.79 116.50,304.43 116.75,304.11 117,303.90 117.25,304.11 117.50,304.43 117.75,304.79 118,305.20 119.75,305.20 120,304.88 120.25,304.51 120.50,304.18 120.75,303.90 121,303.70 121.25,303.90 121.50,304.18 121.75,304.51 122,304.88 122.25,305.20 123,305.20 123.25,304.83 123.50,304.49 123.75,304.20 124,304 124.25,304.20 124.50,304.49 124.75,304.83 125,305.20 423.25,305.20 423.50,304.83 423.75,303.95 424,303.13 424.25,302.39 424.50,301.74 424.75,301.25 425,301.52 425.25,302.11 425.50,302.82 425.75,303.62 426,304.47 426.25,305.20 426.75,305.20 427,304.79 427.25,303.80 427.50,302.87 427.75,302.04 428,301.31 428.25,300.76 428.50,301.06 428.75,301.73 429,302.53 429.25,303.42 429.50,304.38 429.75,305.20 444.50,305.20 444.75,303.08 445,301.06 445.25,299.15 445.50,297.38 445.75,295.77 446,294.37 446.25,293.31 446.50,293.89 446.75,295.18 447,296.72 447.25,298.43 447.50,300.28 447.75,301.64 448,303.15 448.25,303.53 448.50,303.20 448.75,303.53 449,304.01 449.25,304.58 449.50,305.20 516,305.20" fill="#262f7e"/>
<text x="50" y="313.2" font-size="5.4" fill="#1a1a1a" text-anchor="end" font-weight="bold" >PU.1</text>
<line x1="50.5" y1="317.3" x2="516" y2="317.3" stroke="#e2e2e2" stroke-width="0.8" />
<polygon points="50.50,317.30 64,317.30 64.25,317.22 64.50,317.13 64.75,317.06 65,317 65.25,316.99 65.50,317.05 65.75,317.12 66,317.20 66.25,317.29 66.50,317.30 67,317.30 67.25,317.15 67.50,316.94 67.75,316.77 68,316.79 68.25,316.96 68.50,317.17 68.75,317.30 86.25,317.30 86.50,317.01 86.75,316.72 87,316.52 87.25,316.71 87.50,317 87.75,317.30 112.25,317.30 112.50,317.21 112.75,317.06 113,316.93 113.25,316.73 113.50,316.57 113.75,316.56 114,316.59 114.25,316.64 114.50,316.74 114.75,316.80 115,316.88 115.25,316.97 115.50,317.08 115.75,317.19 116,317.30 118.25,317.30 118.50,317.19 118.75,317 119,316.84 119.25,316.71 119.50,316.76 119.75,316.90 120,317.08 120.25,317.28 120.50,317.30 130.25,317.30 130.50,317.27 130.75,317.03 131,316.81 131.25,316.62 131.50,316.46 131.75,316.48 132,316.64 132.25,316.84 132.50,317.07 132.75,317.30 133,317.22 133.25,316.92 133.50,316.65 133.75,316.45 134,316.50 134.25,316.73 134.50,317.01 134.75,317.30 137.75,317.30 138,317.20 138.25,317.05 138.50,316.91 138.75,316.79 139,316.68 139.25,316.60 139.50,316.67 139.75,316.78 140,316.91 140.25,317.04 140.50,317.19 140.75,317.30 154.75,317.30 155,317.17 155.25,317.01 155.50,316.86 155.75,316.74 156,316.69 156.25,316.78 156.50,316.91 156.75,317.06 157,317.23 157.25,317.30 157.50,317.29 157.75,317.12 158,316.96 158.25,316.82 158.50,316.69 158.75,316.60 159,316.64 159.25,316.75 159.50,316.88 159.75,317.03 160,317.20 160.25,317.30 161,317.30 161.25,317.18 161.50,317.06 161.75,316.94 162,316.84 162.25,316.75 162.50,316.74 162.75,316.82 163,316.92 163.25,317.03 163.50,317.15 163.75,317.28 164,317.30 165.75,317.30 166,317.20 166.25,316.97 166.50,316.77 166.75,316.60 167,316.50 167.25,316.63 167.50,316.81 167.75,317.01 168,317.24 168.25,317.30 180,317.30 180.25,317.21 180.50,316.87 180.75,316.59 181,316.65 181.25,316.94 181.50,317.30 181.75,317.30 199.50,317.30 199.75,317.20 200,317.09 200.25,317.01 200.50,316.97 200.75,317.05 201,317.14 201.25,317.25 201.50,317.30 201.75,317.30 202,317.23 202.25,317.12 202.50,317.02 202.75,316.93 203,316.90 203.25,316.97 203.50,317.06 203.75,317.17 204,317.29 204.25,317.30 217.25,317.30 217.50,317.22 217.75,316.91 218,316.64 218.25,316.45 218.50,316.58 218.75,316.77 219,317 219.25,317.10 219.50,317.04 219.75,316.99 220,316.95 220.25,316.96 220.50,317.01 220.75,317.06 221,317.12 221.25,317.18 221.50,317.25 221.75,317.30 232.25,317.30 232.50,317.27 232.75,317.13 233,317.01 233.25,316.90 233.50,316.81 233.75,316.79 234,316.87 234.25,316.98 234.50,317.10 234.75,317.23 235,317.30 254.75,317.30 255,317.28 255.25,317.10 255.50,316.93 255.75,316.79 256,316.67 256.25,316.65 256.50,316.76 256.75,316.90 257,317.07 257.25,317.24 257.50,317.30 275.50,317.30 275.75,317.13 276,316.70 276.25,316.13 276.50,315.76 276.75,316.14 277,316.72 277.25,317.21 277.50,317.30 301.75,317.30 302,317.26 302.25,317.06 302.50,316.87 302.75,316.71 303,316.62 303.25,316.73 303.50,316.89 303.75,317.08 304,317.29 304.25,317.30 351.25,317.30 351.50,317.15 351.75,316.88 352,316.66 352.25,316.65 352.50,316.87 352.75,317.14 353,317.30 358.25,317.30 358.50,317.15 358.75,316.95 359,316.77 359.25,316.62 359.50,316.51 359.75,316.61 360,316.76 360.25,316.94 360.50,317.14 360.75,317.30 386.75,317.30 387,317.12 387.25,316.91 387.50,316.72 387.75,316.51 388,316.32 388.25,316.28 388.50,316.30 388.75,316.38 389,316.45 389.25,316.57 389.50,316.73 389.75,316.91 390,317.11 390.25,317.30 395.50,317.30 395.75,317.23 396,317.08 396.25,316.94 396.50,316.82 396.75,316.72 397,316.71 397.25,316.81 397.50,316.93 397.75,317.07 398,317.22 398.25,317.30 399.75,317.30 400,317.14 400.25,316.96 400.50,316.79 400.75,316.65 401,316.53 401.25,316.53 401.50,316.65 401.75,316.79 402,316.96 402.25,317.14 402.50,317.30 409.50,317.30 409.75,317.26 410,316.95 410.25,316.59 410.50,316.31 410.75,316.40 411,316.64 411.25,316.98 411.50,317.04 411.75,317.12 412,317.20 412.25,317.29 412.50,317.30 419.75,317.30 420,317.29 420.25,317.17 420.50,317.06 420.75,316.96 421,316.88 421.25,316.87 421.50,316.95 421.75,317.04 422,317.15 422.25,317.27 422.50,317.30 433.75,317.30 434,317.05 434.25,316.74 434.50,316.37 434.75,316 435,315.70 435.25,315.57 435.50,315.64 435.75,315.89 436,316.23 436.25,316.62 436.50,316.96 436.75,317.20 437,317.30 449.25,317.30 449.50,317.30 449.75,317.04 450,316.82 450.25,316.67 450.50,316.82 450.75,317.04 451,317.30 480.25,317.30 480.50,317.23 480.75,317.07 481,316.93 481.25,316.81 481.50,316.74 481.75,316.84 482,316.96 482.25,317.11 482.50,317.27 482.75,317.30 487.50,317.30 487.75,317.17 488,317.03 488.25,316.92 488.50,316.94 488.75,317.06 489,317.20 489.25,317.30 491,317.30 491.25,317.15 491.50,316.78 491.75,316.51 492,316.68 492.25,317.03 492.50,317.30 499,317.30 499.25,317.22 499.50,317 499.75,316.81 500,316.66 500.25,316.68 500.50,316.84 500.75,317.03 501,317.25 501.25,317.30 516,317.30" fill="#6a74a4"/>
<polygon points="50.50,317.30 120.50,317.30 120.75,317.20 121,316.72 121.25,316.28 121.50,315.88 121.75,315.53 122,315.30 122.25,315.53 122.50,315.88 122.75,316.28 123,316.72 123.25,317.20 123.50,317.30 128,317.30 128.25,316.56 128.50,315.87 128.75,315.22 129,314.64 129.25,314.14 129.50,313.80 129.75,314.14 130,314.64 130.25,315.22 130.50,315.87 130.75,316.56 131,317.30 193,317.30 193.25,316.93 193.50,316.59 193.75,316.30 194,316.10 194.25,316.30 194.50,316.59 194.75,316.93 195,317.30 395.50,317.30 395.75,316.89 396,316.24 396.25,315.63 396.50,315.09 396.75,314.62 397,314.30 397.25,314.62 397.50,315.09 397.75,315.63 398,316.24 398.25,316.89 398.50,317.30 424.50,317.30 424.75,317.20 425,316.72 425.25,316.28 425.50,315.88 425.75,315.53 426,315.30 426.25,315.53 426.50,315.88 426.75,316.28 427,316.72 427.25,317.20 427.50,317.30 444,317.30 444.25,316.94 444.50,315.19 444.75,313.52 445,311.96 445.25,310.50 445.50,309.19 445.75,308.07 446,307.30 446.25,308.07 446.50,309.19 446.75,310.50 447,311.96 447.25,313.52 447.50,315.19 447.75,316.94 448,317.30 448.75,317.30 449,316.88 449.25,316.39 449.50,315.94 449.75,315.56 450,315.30 450.25,315.56 450.50,315.94 450.75,316.39 451,316.88 451.25,317.30 451.50,316.88 451.75,316.39 452,315.94 452.25,315.56 452.50,315.30 452.75,315.56 453,315.94 453.25,316.39 453.50,316.88 453.75,317.30 516,317.30" fill="#262f7e"/>
<text x="50" y="325.1" font-size="5.4" fill="#1a1a1a" text-anchor="end" font-weight="bold" >FLI1</text>
<line x1="50.5" y1="329.4" x2="516" y2="329.4" stroke="#e2e2e2" stroke-width="0.8" />
<polygon points="50.50,329.40 53.50,329.40 53.75,329.19 54,328.98 54.25,328.80 54.50,328.76 54.75,328.92 55,329.13 55.25,329.36 55.50,329.40 68.50,329.40 68.75,329.11 69,328.81 69.25,328.57 69.50,328.54 69.75,328.76 70,329.05 70.25,329.38 70.50,329.40 86.25,329.40 86.50,329.27 86.75,329.15 87,329.04 87.25,328.94 87.50,328.88 87.75,328.95 88,329.05 88.25,329.16 88.50,329.29 88.75,329.40 98.25,329.40 98.50,329.18 98.75,328.89 99,328.65 99.25,328.61 99.50,328.75 99.75,328.94 100,329.09 100.25,329.13 100.50,329.18 100.75,329.24 101,329.30 101.25,329.37 101.50,329.40 108.75,329.40 109,329.28 109.25,329.08 109.50,328.89 109.75,328.33 110,327.88 110.25,327.90 110.50,328.37 110.75,328.94 111,329.17 111.25,329.26 111.50,329.16 111.75,329.07 112,329.01 112.25,329.08 112.50,329.17 112.75,329.20 113,329.15 113.25,328.99 113.50,328.86 113.75,328.74 114,328.73 114.25,328.84 114.50,328.98 114.75,329.13 115,329.30 115.25,329.40 119.25,329.40 119.50,329.28 119.75,329.10 120,328.94 120.25,328.83 120.50,328.92 120.75,329.07 121,329.25 121.25,329.40 125.50,329.40 125.75,329.24 126,329.09 126.25,328.95 126.50,328.85 126.75,328.90 127,329.02 127.25,329.17 127.50,329.33 127.75,329.40 128,329.31 128.25,329.14 128.50,329 128.75,328.90 129,328.99 129.25,329.13 129.50,329.29 129.75,329.40 136.75,329.40 137,329.36 137.25,329.28 137.50,329.21 137.75,329.14 138,329.08 138.25,329.03 138.50,329.02 138.75,329.06 139,329.12 139.25,329.18 139.50,329.25 139.75,329.32 140,329.40 141,329.40 141.25,329.34 141.50,329.05 141.75,328.80 142,328.58 142.25,328.47 142.50,328.64 142.75,328.87 143,329.14 143.25,329.40 158.50,329.40 158.75,329.34 159,329.18 159.25,328.99 159.50,328.63 159.75,328.30 160,328.06 160.25,328 160.50,328.08 160.75,328.36 161,328.70 161.25,329.06 161.50,329.29 161.75,329.40 162.50,329.40 162.75,329.39 163,329.12 163.25,328.89 163.50,328.82 163.75,329.01 164,329.27 164.25,329.40 176,329.40 176.25,329.28 176.50,329.07 176.75,328.87 177,328.71 177.25,328.58 177.50,328.67 177.75,328.84 178,329.03 178.25,329.18 178.50,329.21 178.75,329.08 179,328.97 179.25,328.86 179.50,328.77 179.75,328.72 180,328.78 180.25,328.88 180.50,328.98 180.75,329.10 181,329.23 181.25,329.36 181.50,329.40 183.25,329.40 183.50,329.13 183.75,328.87 184,328.68 184.25,328.77 184.50,329.01 184.75,329.29 185,329.40 199,329.40 199.25,329.25 199.50,329.08 199.75,328.96 200,329.09 200.25,329.27 200.50,329.40 207.75,329.40 208,329.33 208.25,329.22 208.50,329.11 208.75,329.02 209,328.95 209.25,329.01 209.50,329.09 209.75,329.20 210,329.31 210.25,329.40 219,329.40 219.25,329.29 219.50,328.97 219.75,328.61 220,328.28 220.25,328 220.50,327.80 220.75,327.82 221,327.98 221.25,328.26 221.50,328.58 221.75,328.94 222,329.14 222.25,329.30 222.50,329.40 237,329.40 237.25,329.30 237.50,329.19 237.75,329.08 238,328.77 238.25,328.37 238.50,328.07 238.75,328.17 239,328.53 239.25,328.96 239.50,329.21 239.75,329.32 240,329.40 241.50,329.40 241.75,329.40 242,329.12 242.25,328.89 242.50,328.83 242.75,329.04 243,329.31 243.25,329.40 246,329.40 246.25,329.35 246.50,329.20 246.75,329.08 247,329.02 247.25,329.11 247.50,329.24 247.75,329.39 248,329.40 256.25,329.40 256.50,329.30 256.75,329.05 257,328.83 257.25,328.64 257.50,328.49 257.75,328.54 258,328.71 258.25,328.91 258.50,329.14 258.75,329.38 259,329.30 259.25,329.14 259.50,329.02 259.75,329.08 260,329.22 260.25,329.39 260.50,329.40 262.50,329.40 262.75,329.30 263,329.03 263.25,328.80 263.50,328.72 263.75,328.93 264,329.19 264.25,329.40 278.50,329.40 278.75,329.25 279,329.02 279.25,328.88 279.50,329.05 279.75,328.97 280,328.81 280.25,328.60 280.50,328.69 280.75,328.94 281,329.23 281.25,329.40 283.25,329.40 283.50,329.40 283.75,329.26 284,329.13 284.25,329.02 284.50,328.92 284.75,328.84 285,328.87 285.25,328.96 285.50,329.07 285.75,329.19 286,329.32 286.25,329.40 288,329.40 288.25,329.32 288.50,329.22 288.75,329.13 289,329.05 289.25,329.07 289.50,329.15 289.75,329.25 290,329.35 290.25,329.40 307.25,329.40 307.50,329.27 307.75,328.82 308,328.48 308.25,328.60 308.50,328.95 308.75,329.24 309,328.94 309.25,328.68 309.50,328.45 309.75,328.31 310,328.46 310.25,328.69 310.50,328.95 310.75,329.25 311,329.34 311.25,329.33 311.50,329.24 311.75,329.15 312,329.07 312.25,329 312.50,328.88 312.75,328.70 313,328.56 313.25,328.45 313.50,328.38 313.75,328.44 314,328.61 314.25,328.80 314.50,329.01 314.75,329.23 315,329.40 320.75,329.40 321,329.14 321.25,328.89 321.50,328.69 321.75,328.62 322,328.79 322.25,329.02 322.50,329.29 322.75,329.32 323,329.12 323.25,328.97 323.50,329 323.75,329.17 324,329.37 324.25,329.40 326.25,329.40 326.50,329.36 326.75,329.23 327,329.11 327.25,329.10 327.50,329.21 327.75,329.34 328,329.40 348.75,329.40 349,329.27 349.25,329.14 349.50,329.02 349.75,328.93 350,328.89 350.25,328.97 350.50,329.08 350.75,329.20 351,329.34 351.25,329.40 353.75,329.40 354,329.40 354.25,329.11 354.50,328.85 354.75,328.65 355,328.64 355.25,328.84 355.50,329.10 355.75,329.39 356,329.35 356.25,329.19 356.50,329.05 356.75,328.94 357,328.99 357.25,329.11 357.50,329.26 357.75,329.40 366,329.40 366.25,329.33 366.50,329.23 366.75,329.14 367,329.06 367.25,328.99 367.50,328.93 367.75,328.95 368,328.95 368.25,328.73 368.50,328.55 368.75,328.43 369,328.54 369.25,328.78 369.50,329.05 369.75,329.35 370,329.40 371.50,329.40 371.75,329.27 372,329.11 372.25,328.97 372.50,328.84 372.75,328.73 373,328.73 373.25,328.83 373.50,328.96 373.75,329.10 374,329.26 374.25,329.40 384.25,329.40 384.50,329.33 384.75,329.24 385,329.11 385.25,328.95 385.50,328.81 385.75,328.73 386,328.72 386.25,328.75 386.50,328.83 386.75,328.97 387,329.11 387.25,329.19 387.50,329.27 387.75,329.36 388,329.40 391.75,329.40 392,329.37 392.25,329.28 392.50,329.19 392.75,329.11 393,329.05 393.25,329 393.50,329.05 393.75,329.12 394,329.20 394.25,329.24 394.50,329.18 394.75,329.06 395,328.95 395.25,328.97 395.50,329.08 395.75,329.22 396,329.38 396.25,329.40 401.50,329.40 401.75,329.33 402,328.99 402.25,328.61 402.50,328.32 402.75,328.29 403,328.35 403.25,328.52 403.50,328.66 403.75,328.82 404,329.01 404.25,329.21 404.50,329.40 405,329.40 405.25,329.30 405.50,329.19 405.75,329.09 406,329.02 406.25,329.06 406.50,329.15 406.75,329.26 407,329.38 407.25,329.40 415,329.40 415.25,329.37 415.50,329.27 415.75,329.17 416,329.10 416.25,329.07 416.50,329.13 416.75,329.22 417,329.32 417.25,329.40 434.25,329.40 434.50,329.36 434.75,329.25 435,329.15 435.25,329.08 435.50,329.11 435.75,329.20 436,329.30 436.25,329.40 467.75,329.40 468,329.34 468.25,329.22 468.50,329.11 468.75,329.01 469,328.94 469.25,329 469.50,329.09 469.75,329.20 470,329.33 470.25,329.40 479,329.40 479.25,329.33 479.50,329.26 479.75,329.18 480,328.92 480.25,328.69 480.50,328.49 480.75,328.38 481,328.31 481.25,328.35 481.50,328.53 481.75,328.63 482,328.74 482.25,328.80 482.50,328.89 482.75,328.87 483,328.89 483.25,328.98 483.50,329.09 483.75,329.21 484,329.33 484.25,329.40 495.25,329.40 495.50,329.23 495.75,329.05 496,328.89 496.25,328.74 496.50,328.62 496.75,328.63 497,328.75 497.25,328.90 497.50,329.07 497.75,329.25 498,329.40 499.75,329.40 500,329.39 500.25,329.26 500.50,329.15 500.75,329.06 501,329.06 501.25,329.15 501.50,329.11 501.75,329.07 502,328.94 502.25,328.81 502.50,328.70 502.75,328.67 503,328.77 503.25,328.90 503.50,329.05 503.75,329.20 504,329.37 504.25,329.40 516,329.40" fill="#6a74a4"/>
<polygon points="50.50,329.40 176.25,329.40 176.50,329.08 176.75,328.30 177,327.57 177.25,326.89 177.50,326.28 177.75,325.76 178,325.40 178.25,325.76 178.50,326.28 178.75,326.89 179,327.57 179.25,328.30 179.50,329.08 179.75,329.40 188.75,329.40 189,328.98 189.25,328.49 189.50,328.04 189.75,327.66 190,327.40 190.25,327.66 190.50,328.04 190.75,328.49 191,328.98 191.25,329.40 192,329.40 192.25,328.34 192.50,327.35 192.75,326.43 193,325.60 193.25,324.89 193.50,324.40 193.75,324.89 194,325.60 194.25,326.43 194.50,327.35 194.75,328.34 195,329.40 195.25,329.40 195.50,328.98 195.75,328.49 196,328.04 196.25,327.66 196.50,327.40 196.75,327.66 197,328.04 197.25,328.49 197.50,328.98 197.75,329.40 395.50,329.40 395.75,329.28 396,328.68 396.25,328.12 396.50,327.62 396.75,327.19 397,326.90 397.25,327.19 397.50,327.62 397.75,328.12 398,328.68 398.25,329.28 398.50,329.40 418.50,329.40 418.75,329.21 419,328.91 419.25,328.66 419.50,328.45 419.75,328.48 420,328.70 420.25,328.97 420.50,329.27 420.75,329.40 424.50,329.40 424.75,329.28 425,328.68 425.25,328.12 425.50,327.62 425.75,327.19 426,326.90 426.25,327.19 426.50,327.62 426.75,328.12 427,328.68 427.25,329.28 427.50,329.40 432.25,329.40 432.50,328.98 432.75,328.49 433,328.04 433.25,327.66 433.50,327.40 433.75,327.66 434,328.04 434.25,328.49 434.50,328.98 434.75,329.40 441.75,329.40 442,328.98 442.25,328.49 442.50,328.04 442.75,327.66 443,327.40 443.25,327.66 443.50,328.04 443.75,328.49 444,328.98 444.25,329.04 444.50,327.29 444.75,325.62 445,324.06 445.25,322.60 445.50,321.29 445.75,320.17 446,319.40 446.25,320.17 446.50,321.29 446.75,322.60 447,324.06 447.25,325.62 447.50,327.29 447.75,328.89 448,328.53 448.25,327.87 448.50,327.27 448.75,326.75 449,326.40 449.25,326.75 449.50,327.27 449.75,327.87 450,328.53 450.25,329.25 450.50,329.40 516,329.40" fill="#262f7e"/>
<text x="50" y="336.3" font-size="5.4" fill="#1a1a1a" text-anchor="end" font-weight="bold" >ERG</text>
<line x1="50.5" y1="341.5" x2="516" y2="341.5" stroke="#e2e2e2" stroke-width="0.8" />
<polygon points="50.50,341.50 53,341.50 53.25,341.43 53.50,341.26 53.75,341.11 54,340.97 54.25,340.88 54.50,340.96 54.75,341.09 55,341.25 55.25,341.42 55.50,341.50 93.25,341.50 93.50,341.46 93.75,341.30 94,341.15 94.25,341.03 94.50,340.93 94.75,340.94 95,341.05 95.25,341.18 95.50,341.32 95.75,341.48 96,341.50 105.50,341.50 105.75,341.48 106,341.19 106.25,340.95 106.50,340.80 106.75,340.98 107,341.23 107.25,341.50 108.25,341.50 108.50,341.42 108.75,341.29 109,341.18 109.25,341.21 109.50,341.32 109.75,341.46 110,341.50 119.50,341.50 119.75,341.48 120,341.41 120.25,341.34 120.50,341.29 120.75,341.24 121,341.20 121.25,341.20 121.50,341.25 121.75,341.30 122,341.36 122.25,341.43 122.50,341.49 122.75,341.50 124.25,341.50 124.50,341.40 124.75,341.27 125,341.16 125.25,341.15 125.50,341.25 125.75,341.37 126,341.50 185,341.50 185.25,341.46 185.50,341.34 185.75,341.23 186,341.20 186.25,341.29 186.50,341.41 186.75,341.50 228.25,341.50 228.50,341.49 228.75,341.34 229,341.20 229.25,341.07 229.50,340.96 229.75,340.87 230,340.91 230.25,341.01 230.50,341.13 230.75,341.27 231,341.42 231.25,341.50 238.75,341.50 239,341.32 239.25,341.17 239.50,341.16 239.75,341.31 240,341.50 240.25,341.50 241,341.50 241.25,341.48 241.50,341.40 241.75,341.32 242,341.25 242.25,341.19 242.50,341.14 242.75,341.16 243,341.21 243.25,341.28 243.50,341.35 243.75,341.43 244,341.50 250.25,341.50 250.50,341.47 250.75,341.34 251,341.22 251.25,341.10 251.50,341 251.75,340.92 252,340.89 252.25,340.97 252.50,341.07 252.75,341.18 253,341.30 253.25,341.42 253.50,341.50 296,341.50 296.25,341.33 296.50,341.18 296.75,341.06 297,341.02 297.25,341.13 297.50,341.27 297.75,341.44 298,341.50 298.75,341.50 299,341.43 299.25,341.33 299.50,341.24 299.75,341.16 300,341.09 300.25,341.06 300.50,341.08 300.75,341.04 301,341.01 301.25,341.01 301.50,341.02 301.75,340.98 302,340.98 302.25,341.05 302.50,341.14 302.75,341.24 303,341.35 303.25,341.47 303.50,341.50 320.50,341.50 320.75,341.40 321,341.13 321.25,340.89 321.50,340.72 321.75,340.82 322,341.04 322.25,341.30 322.50,341.50 331,341.50 331.25,341.49 331.50,341.31 331.75,341.15 332,341.01 332.25,340.91 332.50,340.95 332.75,341.07 333,341.22 333.25,341.39 333.50,341.50 348,341.50 348.25,341.41 348.50,341.27 348.75,341.20 349,341.30 349.25,341.45 349.50,341.50 351.25,341.50 351.50,341.48 351.75,341.35 352,341.23 352.25,341.12 352.50,341.03 352.75,341 353,341.07 353.25,341.18 353.50,341.29 353.75,341.42 354,341.50 362.75,341.50 363,341.44 363.25,341.35 363.50,341.28 363.75,341.21 364,341.15 364.25,341.12 364.50,341.16 364.75,341.22 365,341.29 365.25,341.37 365.50,341.46 365.75,341.50 376,341.50 376.25,341.33 376.50,341.16 376.75,341.02 377,340.93 377.25,341.04 377.50,341.19 377.75,341.36 378,341.50 378.50,341.50 378.75,341.38 379,341.10 379.25,340.87 379.50,340.83 379.75,341.05 380,341.32 380.25,341.50 383.25,341.50 383.50,341.49 383.75,341.35 384,341.22 384.25,341.10 384.50,341 384.75,340.90 385,340.84 385.25,340.89 385.50,340.99 385.75,341.09 386,341.21 386.25,341.34 386.50,341.48 386.75,341.50 392.25,341.50 392.50,341.45 392.75,341.36 393,341.28 393.25,341.21 393.50,341.14 393.75,341.09 394,341.06 394.25,341.11 394.50,341.17 394.75,341.24 395,341.32 395.25,341.40 395.50,341.49 395.75,341.50 409.25,341.50 409.50,341.43 409.75,341.31 410,341.21 410.25,341.11 410.50,341.03 410.75,340.96 411,340.94 411.25,341.01 411.50,341.09 411.75,341.19 412,341.29 412.25,341.40 412.50,341.50 440.25,341.50 440.50,341.42 440.75,341.15 441,340.92 441.25,340.91 441.50,341.01 441.75,341.16 442,341.29 442.25,341.43 442.50,341.50 467.75,341.50 468,341.45 468.25,341.30 468.50,341.16 468.75,341.04 469,340.92 469.25,340.83 469.50,340.84 469.75,340.94 470,341.05 470.25,341.18 470.50,341.33 470.75,341.48 471,341.50 474,341.50 474.25,341.40 474.50,341.08 474.75,340.84 475,340.98 475.25,341.27 475.50,341.50 493,341.50 493.25,341.48 493.50,341.38 493.75,341.28 494,341.19 494.25,341.11 494.50,341.05 494.75,341.06 495,341.13 495.25,341.21 495.50,341.31 495.75,341.41 496,341.50 507.75,341.50 508,341.45 508.25,341.33 508.50,341.20 508.75,341.09 509,340.99 509.25,340.90 509.50,340.84 509.75,340.90 510,340.98 510.25,341.08 510.50,341.20 510.75,341.32 511,341.44 511.25,341.50 516,341.50" fill="#6a74a4"/>
<polygon points="50.50,341.50 120.50,341.50 120.75,341.43 121,341.07 121.25,340.73 121.50,340.43 121.75,340.18 122,340 122.25,340.18 122.50,340.43 122.75,340.73 123,341.07 123.25,341.43 123.50,341.50 396,341.50 396.25,341.19 396.50,340.91 396.75,340.66 397,340.50 397.25,340.66 397.50,340.91 397.75,341.19 398,341.50 425,341.50 425.25,341.40 425.50,340.92 425.75,340.48 426,340.08 426.25,339.73 426.50,339.50 426.75,339.73 427,340.08 427.25,340.48 427.50,340.92 427.75,341.40 428,341.50 444,341.50 444.25,341.10 444.50,339.18 444.75,337.35 445,335.62 445.25,334.02 445.50,332.58 445.75,331.35 446,330.50 446.25,331.35 446.50,332.58 446.75,334.02 447,335.62 447.25,337.35 447.50,339.18 447.75,341.10 448,341.50 516,341.50" fill="#262f7e"/>
<text x="49.5" y="346.2" font-size="5.2" fill="#34502a" text-anchor="end" font-weight="normal" >Elements</text>
<text x="49.5" y="351.5" font-size="5.2" fill="#d0b468" text-anchor="end" font-weight="normal" >Promoter</text>
<text x="49.5" y="356.8" font-size="5.2" fill="#c69c48" text-anchor="end" font-weight="normal" >fragments</text>
<text x="49.5" y="362.5" font-size="5.0" fill="#000" text-anchor="end" font-weight="bold" >RefSeq genes</text>
<text x="49.5" y="368.5" font-size="5.0" fill="#3a6470" text-anchor="end" font-weight="normal" >HindIII restriction</text>
<text x="49.5" y="373.8" font-size="5.2" fill="#2e4e54" text-anchor="end" font-weight="normal" >fragments</text>
<text x="49.5" y="380.5" font-size="5.2" fill="#4e3e86" text-anchor="end" font-weight="normal" >Interactions</text>
<rect x="443" y="342.7" width="4.5" height="5.3" fill="#2e4a26" />
<text x="449.5" y="347.5" font-size="5" fill="#1a1a1a" text-anchor="start" font-weight="normal" textLength="35" lengthAdjust="spacingAndGlyphs">Cebpa +37 Kb</text>
<rect x="73" y="351" width="68.1" height="3.3" fill="#c8962a" />
<text x="105.8" y="362.6" font-size="5.8" fill="#283c90" text-anchor="start" font-weight="normal" textLength="15.8" lengthAdjust="spacingAndGlyphs">Cebpa</text>
<rect x="122" y="359.3" width="11" height="3" fill="#3050a0" />
<rect x="123" y="360.1" width="9" height="1.4" fill="#9fb6e8" />
<rect x="133" y="360.1" width="12.7" height="1.6" fill="#223a8a" />
<path d="M53.3,368.9L72.7,368.9M73.3,371.2L140.7,371.2M141.3,369.3L337.7,369.3M338.3,371.6L343.9,371.6M344.5,369.3L364.0,369.3M364.6,371.6L371.7,371.6M372.3,369.3L378.59999999999997,369.3M379.2,371.6L387.3,371.6M387.90000000000003,369.3L416.2,369.3M416.8,371.4L515.7,371.4" stroke="#5a7272" stroke-width="0.9" fill="none"/>
<rect x="73" y="375.1" width="68" height="3.0" fill="#a89ec8" />
<line x1="141" y1="376.8" x2="416.5" y2="376.8" stroke="#c8c0dc" stroke-width="0.9" />
<rect x="416.5" y="375.40000000000003" width="99.5" height="2.8" fill="#a89ec8" />
<rect x="73" y="380.1" width="68" height="3.0" fill="#a89ec8" />
<line x1="141" y1="381.6" x2="387.6" y2="381.6" stroke="#c8c0dc" stroke-width="0.9" />
<rect x="387.6" y="380.20000000000005" width="28.899999999999977" height="2.8" fill="#9c92c2" />
<text x="0.2" y="405" font-size="10.6" fill="#000" text-anchor="start" font-weight="bold" >C</text>
<text x="20" y="411.2" font-size="18" fill="#000" text-anchor="start" font-weight="normal" >i)</text>
<text x="278.4" y="411.2" font-size="18" fill="#000" text-anchor="start" font-weight="normal" >ii)</text>
<defs>
<filter id="b1" x="-20%" y="-20%" width="140%" height="140%"><feGaussianBlur stdDeviation="1"/></filter>
<filter id="b2" x="-30%" y="-30%" width="160%" height="160%"><feGaussianBlur stdDeviation="2"/></filter>
<filter id="b3" x="-40%" y="-40%" width="180%" height="180%"><feGaussianBlur stdDeviation="3.5"/></filter>
<filter id="b5" x="-50%" y="-50%" width="200%" height="200%"><feGaussianBlur stdDeviation="5"/></filter>
<filter id="bh" x="-10%" y="-10%" width="120%" height="120%"><feGaussianBlur stdDeviation="0.35"/></filter>
<clipPath id="cp1"><rect x="44.5" y="445.5" width="117.5" height="152"/></clipPath>
<clipPath id="cp2"><rect x="310" y="444.7" width="117" height="151.8"/></clipPath>
<clipPath id="cda1"><rect x="172.4" y="445" width="71.8" height="71"/></clipPath>
<clipPath id="cfl1"><rect x="172.4" y="527.8" width="71.8" height="70.5"/></clipPath>
<clipPath id="cda2"><rect x="436.2" y="443.2" width="71" height="70.3"/></clipPath>
<clipPath id="cfl2"><rect x="436.2" y="525.7" width="71" height="70.3"/></clipPath>
<linearGradient id="bg1" x1="0" y1="0" x2="0.3" y2="1"><stop offset="0" stop-color="#d8d4cc"/><stop offset="0.55" stop-color="#d2ccc8"/><stop offset="1" stop-color="#b9a9b3"/></linearGradient>
<linearGradient id="bg2" x1="0" y1="0" x2="0.2" y2="1"><stop offset="0" stop-color="#b8b2b0"/><stop offset="0.5" stop-color="#bcb4b6"/><stop offset="1" stop-color="#c8c0c4"/></linearGradient>
</defs>
<rect x="35" y="412.3" width="219" height="195" fill="#ececec" stroke="#8c8c8c" stroke-width="2"/>
<rect x="300" y="412.3" width="219" height="195" fill="#ececec" stroke="#8c8c8c" stroke-width="2"/>
<text x="81.6" y="434.8" font-size="20.5" fill="#111" textLength="126" lengthAdjust="spacingAndGlyphs">Hhex +59 Kb</text>
<text x="337.2" y="434.8" font-size="20.5" fill="#111" textLength="139" lengthAdjust="spacingAndGlyphs">Cebpa +37 Kb</text>
<rect x="43.5" y="444.5" width="119.5" height="154" fill="#f8f8f8"/>
<rect x="309" y="443.7" width="119" height="153.8" fill="#f8f8f8"/>
<rect x="171.4" y="444" width="73.8" height="73" fill="#f8f8f8"/>
<rect x="171.4" y="526.8" width="73.8" height="72.5" fill="#f8f8f8"/>
<rect x="435.2" y="442.2" width="73" height="72.3" fill="#f8f8f8"/>
<rect x="435.2" y="524.7" width="73" height="72.3" fill="#f8f8f8"/>
<g clip-path="url(#cp1)">
<rect x="44.5" y="445.5" width="117.5" height="152" fill="url(#bg1)"/>
<ellipse cx="150" cy="470" rx="20" ry="30" fill="#e4e0d8" filter="url(#b5)"/>
<ellipse cx="58" cy="590" rx="22" ry="14" fill="#b6a4b0" filter="url(#b5)"/>
<path d="M134,526 C146,528 156,538 163,546 L163,598 L126,598 C132,585 136,565 134,545 Z" fill="#dfd8c6" filter="url(#b2)"/>
<path d="M112,586 C128,586 150,588 163,594 L163,598 L104,598 Z" fill="#e6e0e2" filter="url(#b2)"/>
<path d="M45,505 C48,487 58,475 76,468 C88,464 94,458 101,456.5 C112,452 124,450 134,450.5 C147,452 155,462 157.5,478 C159.5,495 159,510 156,520 C151,530 142,535 138,545 C135,560 130,575 117,585 C104,594 92,598 82,594 C67,587 56,574 50,557 C46,540 44,522 45,505 Z" fill="#5a8ea2" filter="url(#bh)"/>
<path d="M56,484 C72,470 92,460 108,455 C124,450 140,450 151,457 C158,466 158,490 157,512 C150,524 136,528 118,521 C98,512 76,505 56,484 Z" fill="#315a7a" filter="url(#b3)"/>
<ellipse cx="136" cy="497" rx="13" ry="14" fill="#1f2a4c" filter="url(#b3)"/>
<ellipse cx="135" cy="500" rx="7" ry="7.5" fill="#1a1c3a" filter="url(#b2)"/>
<ellipse cx="140" cy="466" rx="12" ry="8" fill="#2e5270" filter="url(#b3)"/>
<ellipse cx="112" cy="470" rx="9" ry="6" fill="#557f98" filter="url(#b3)"/>
<ellipse cx="80" cy="505" rx="14" ry="7" fill="#86aebc" filter="url(#b3)"/>
<ellipse cx="104" cy="498" rx="8" ry="5" fill="#7aa2b4" filter="url(#b3)"/>
<ellipse cx="64" cy="497" rx="7" ry="11" fill="#2e5674" filter="url(#b3)"/>
<ellipse cx="69" cy="490" rx="4" ry="6" fill="#284c6a" filter="url(#b2)"/>
<ellipse cx="95" cy="481" rx="8" ry="5" fill="#2a5074" filter="url(#b2)"/>
<ellipse cx="80" cy="482" rx="5" ry="4" fill="#305a78" filter="url(#b2)"/>
<path d="M58,520 C66,510 84,505 104,508 C118,510 130,520 136,538 C138,556 130,572 114,582 C98,590 80,584 70,572 C60,558 55,535 58,520 Z" fill="#a6c6c8" filter="url(#b3)"/>
<path d="M66,526 C78,515 100,514 115,520 C128,530 132,550 124,566 C114,578 96,580 82,572 C70,562 64,540 66,526 Z" fill="#bcd6d4" filter="url(#b3)"/>
<path d="M64,530 C72,518 92,514 110,518 C124,526 130,545 126,562 C118,576 100,582 84,576 C70,568 62,548 64,530 Z" fill="#c6dcd8" filter="url(#b2)"/>
<path d="M58,545 C60,565 70,580 88,586 C100,589 112,586 120,580" stroke="#b6d2d2" stroke-width="6" fill="none" filter="url(#b2)"/>
<path d="M48.5,505 C47.5,532 53,558 67,576 C76,586 88,592 100,592 C110,591 123,583 131,571 C133,567 134,563 134.5,559" stroke="#4f8ea4" stroke-width="7" fill="none" stroke-linecap="round" filter="url(#b1)"/>
<path d="M45.9,507.0L51.9,507.1M45.9,509.0L51.9,509.1M45.9,511.1L51.9,511.1M45.9,513.1L51.9,513.0M45.9,515.1L51.9,515.0M46.0,517.6L52.0,517.3M46.1,520.0L52.1,519.6M46.3,522.4L52.3,522.0M46.5,524.8L52.5,524.3M46.7,527.2L52.7,526.5M47.0,529.5L52.9,528.8M47.3,531.9L53.2,531.0M47.6,534.2L53.6,533.3M48.0,536.5L53.9,535.5M48.4,538.8L54.3,537.7M48.9,541.1L54.8,539.8M49.4,543.4L55.3,542.0M50.0,545.6L55.8,544.1M50.6,547.8L56.4,546.2M51.2,550.0L57.0,548.2M51.9,552.1L57.6,550.3M52.6,554.3L58.3,552.3M53.4,556.4L59.0,554.2M54.2,558.4L59.7,556.2M55.0,560.5L60.5,558.1M55.9,562.5L61.4,560.0M56.9,564.5L62.3,561.8M57.9,566.4L63.2,563.6M58.9,568.3L64.1,565.4M60.0,570.2L65.1,567.1M61.1,572.0L66.2,568.8M62.3,573.8L67.3,570.4M63.5,575.5L68.4,572.0M64.8,577.3L69.6,573.6M66.4,579.1L70.8,574.9M68.1,580.7L72.2,576.4M69.7,582.2L73.7,577.7M71.5,583.7L75.2,579.0M73.2,585.1L76.8,580.3M75.1,586.4L78.4,581.4M76.9,587.6L80.1,582.5M78.8,588.7L81.7,583.5M80.7,589.7L83.4,584.4M82.7,590.7L85.2,585.2M84.7,591.5L86.9,585.9M86.7,592.2L88.7,586.6M88.8,592.9L90.4,587.1M90.8,593.4L92.2,587.6M93.1,593.9L94.1,588.0M95.4,594.2L96.1,588.3M97.7,594.4L98.0,588.4M100.1,594.5L99.8,588.5M102.4,594.2L101.4,588.3M104.7,593.7L103.2,587.9M106.7,593.1L104.9,587.4M108.8,592.3L106.7,586.7M111.0,591.4L108.5,586.0M112.9,590.5L110.2,585.1M114.8,589.4L111.9,584.2M116.8,588.3L113.6,583.2M118.7,587.0L115.2,582.1M120.4,585.8L116.8,581.0M122.0,584.5L118.3,579.8M123.7,583.1L119.7,578.6M125.3,581.6L121.2,577.2M126.9,580.0L122.6,575.9M128.4,578.4L123.9,574.4M129.8,576.7L125.2,572.9M131.2,575.0L126.5,571.3M132.6,573.1L127.6,569.7" stroke="#94c8d0" stroke-width="0.8" fill="none" opacity="0.55" filter="url(#bh)"/>
<path d="M46.5,505 C45.5,532 51,560 65,578 C74,589 88,595 100,595" stroke="#b8dce0" stroke-width="1" fill="none" opacity="0.5"/>
<path d="M77,515 C86,515 96,520 101,528 C104,533 106,538 106,541" stroke="#8c786e" stroke-width="8" fill="none" stroke-linecap="round" filter="url(#b2)"/>
<path d="M80,515 C88,515 96,520 100,527" stroke="#6e6a6a" stroke-width="2" fill="none" filter="url(#b1)" opacity="0.5"/>
<ellipse cx="114.4" cy="505.4" rx="2" ry="2" fill="#24405a" filter="url(#b1)"/>
<ellipse cx="89" cy="509.5" rx="3" ry="2.5" fill="#3a5a78" filter="url(#b1)"/>
<ellipse cx="85" cy="532" rx="12" ry="11" fill="#dce8e2" filter="url(#b1)"/>
<ellipse cx="103.6" cy="555" rx="11.5" ry="11.5" fill="#d8e6e0" filter="url(#b1)"/>
<ellipse cx="123.8" cy="539" rx="11.5" ry="12" fill="#d6e0d8" filter="url(#b1)"/>
<ellipse cx="121.8" cy="538.4" rx="2" ry="2.5" fill="#4a6670" filter="url(#b1)"/>
<rect x="44.9" y="445.9" width="116.7" height="151.2" fill="none" stroke="#b4b2ac" stroke-width="0.8" opacity="0.7"/>
</g>
<g clip-path="url(#cp2)">
<rect x="310" y="444.7" width="117" height="152" fill="url(#bg2)"/>
<ellipse cx="420" cy="475" rx="14" ry="30" fill="#c6c0bc" filter="url(#b5)"/>
<path d="M312,452 C322,458 328,466 326,478" stroke="#c6c2be" stroke-width="0.8" fill="none"/>
<path d="M356,530 C378,520 405,510 427,498 L427,597 L360,597 C358,580 356,560 356,530 Z" fill="#c8d0c2" filter="url(#b2)"/>
<path d="M404,540 C414,546 422,560 427,570 L427,597 L396,597 Z" fill="#c8bdab" filter="url(#b3)"/>
<ellipse cx="392" cy="560" rx="14" ry="12" fill="#d2dacc" filter="url(#b3)"/>
<path d="M380,530 C392,526 404,522 420,512" stroke="#aab6b0" stroke-width="1.2" fill="none" opacity="0.7" filter="url(#bh)"/>
<path d="M376,533 L377,549 L389,558" stroke="#6a8a8c" stroke-width="1" fill="none" opacity="0.7" filter="url(#bh)"/>
<path d="M360,545 C372,548 388,556 404,566" stroke="#9cb8b6" stroke-width="5" fill="none" filter="url(#b2)" opacity="0.8"/>
<path d="M313.5,520 C314,500 318,490 325,480 C335,470 348,466 360,462.5 C372,458 385,456 398,457 C410,459 418,468 419.5,485 C420,500 416,510 410,514 C400,522 390,525 382,524 C374,523 369,518 366,512 C364,530 364,550 365,562 C362,572 356,578 347,579 C335,578 325,572 319,563 C314,552 313,535 313.5,520 Z" fill="#c6dad6" filter="url(#bh)"/>
<ellipse cx="393" cy="500" rx="22" ry="20" fill="#dae4c6" filter="url(#b3)"/>
<ellipse cx="386" cy="470" rx="28" ry="9" fill="#b6ced8" filter="url(#b3)"/>
<ellipse cx="365" cy="482" rx="9" ry="10" fill="#c4dade" filter="url(#b3)"/>
<path d="M411,467 C416,472 419,480 419,490" stroke="#2e4a72" stroke-width="3.2" fill="none" filter="url(#b1)"/>
<ellipse cx="385.7" cy="494.1" rx="2.2" ry="3" fill="#203040" filter="url(#bh)" transform="rotate(-35 385.7 494.1)"/>
<ellipse cx="373" cy="478" rx="1.2" ry="1.5" fill="#5a7a90" filter="url(#bh)"/>
<path d="M326,535 C326,515 333,498 345,490 C352,486 360,488 364,495 C366,512 365,540 362,560 C352,570 338,565 331,555 Z" fill="#d0e0cc" filter="url(#b3)"/>
<ellipse cx="333" cy="520" rx="8" ry="28" fill="#c2d8da" filter="url(#b3)"/>
<path d="M318.5,535 C317,510 324,488 342,476 C350,471 356,469 362,468" stroke="#82a8ca" stroke-width="4.5" fill="none" filter="url(#b1)"/>
<path d="M318.5,525 C318,548 325,566 340,574 C348,578 356,578 362,575" stroke="#8ab2c6" stroke-width="3.5" fill="none" filter="url(#b1)"/>
<path d="M315.5,520 C315,550 322,568 338,577" stroke="#d8e4dc" stroke-width="1" fill="none" opacity="0.6"/>
<path d="M367,515 C372,521 379,524 386,525 L379,530 L368,528 Z" fill="#d6d2d2" filter="url(#b1)"/>
<ellipse cx="348" cy="506" rx="6" ry="6.5" fill="#3e5a6a" filter="url(#b2)"/>
<ellipse cx="344" cy="516" rx="4" ry="6" fill="#5a7886" filter="url(#b2)"/>
<ellipse cx="352.7" cy="527" rx="4" ry="5" fill="#1e3c4e" filter="url(#b1)"/>
<ellipse cx="357" cy="560" rx="10" ry="6" fill="#e0ecd8" filter="url(#b2)"/>
<path d="M357.5,552 C358,547 360,543 364,543" stroke="#2e5464" stroke-width="1.6" fill="none" filter="url(#bh)"/>
<ellipse cx="366.5" cy="558" rx="2.8" ry="2.4" fill="#5a8890" filter="url(#b1)"/>
<ellipse cx="371.7" cy="547" rx="1.3" ry="1.3" fill="#2e4a58" filter="url(#bh)"/>
</g>
<g clip-path="url(#cda1)">
<rect x="172.4" y="445" width="71.8" height="71" fill="#e6c4c8"/>
<path d="M192,445 L221,445 C223,458 224,470 224,482 C224,495 222,505 217,516 L181,516 C180,500 183,485 187,475 C190,466 193,455 192,445 Z" fill="#f6eef0"/>
<path d="M222,445 L245,445 L245,516 L219,516 C224,505 226,492 226,480 C226,465 224,455 222,445 Z" fill="#d89ca4"/>
<path d="M227.0,445 L227.3,516" stroke="#ecc4c8" stroke-width="0.7" opacity="0.8"/>
<path d="M230.0,445 L229.8,516" stroke="#ecc4c8" stroke-width="0.7" opacity="0.8"/>
<path d="M232.2,445 L232.7,516" stroke="#ecc4c8" stroke-width="0.7" opacity="0.8"/>
<path d="M234.5,445 L234.6,516" stroke="#ecc4c8" stroke-width="0.7" opacity="0.8"/>
<path d="M237.5,445 L239.3,516" stroke="#ecc4c8" stroke-width="0.7" opacity="0.8"/>
<path d="M239.6,445 L238.4,516" stroke="#ecc4c8" stroke-width="0.7" opacity="0.8"/>
<path d="M242.2,445 L244.0,516" stroke="#ecc4c8" stroke-width="0.7" opacity="0.8"/>
<g opacity="1.0"><ellipse cx="222.6" cy="448.0" rx="1.0" ry="1.0" fill="#c8909a"/><ellipse cx="183.5" cy="446.1" rx="0.6" ry="0.8" fill="#b06474"/><ellipse cx="186.3" cy="461.6" rx="0.6" ry="0.6" fill="#b06474"/><ellipse cx="244.7" cy="504.7" rx="0.9" ry="0.8" fill="#a05468"/><ellipse cx="174.2" cy="485.0" rx="0.6" ry="0.5" fill="#b06474"/><ellipse cx="241.9" cy="505.2" rx="0.5" ry="0.4" fill="#c07e8a"/><ellipse cx="173.1" cy="474.1" rx="0.8" ry="0.7" fill="#c07e8a"/><ellipse cx="176.4" cy="501.6" rx="0.5" ry="0.5" fill="#c07e8a"/><ellipse cx="225.4" cy="454.3" rx="0.7" ry="0.9" fill="#b06474"/><ellipse cx="172.0" cy="506.4" rx="1.1" ry="0.7" fill="#a05468"/><ellipse cx="175.1" cy="455.4" rx="0.7" ry="0.6" fill="#b06474"/><ellipse cx="193.6" cy="450.2" rx="0.4" ry="0.5" fill="#c07e8a"/><ellipse cx="181.9" cy="472.4" rx="0.9" ry="0.9" fill="#a05468"/><ellipse cx="190.2" cy="458.5" rx="0.9" ry="0.8" fill="#c07e8a"/><ellipse cx="175.5" cy="452.7" rx="0.6" ry="0.8" fill="#a05468"/><ellipse cx="177.0" cy="461.2" rx="0.6" ry="0.9" fill="#b06474"/><ellipse cx="186.9" cy="446.2" rx="0.5" ry="0.5" fill="#c8909a"/><ellipse cx="243.0" cy="451.5" rx="0.6" ry="0.6" fill="#c8909a"/><ellipse cx="182.2" cy="447.5" rx="0.5" ry="0.6" fill="#a05468"/><ellipse cx="173.6" cy="490.2" rx="0.6" ry="0.8" fill="#a05468"/><ellipse cx="177.5" cy="483.8" rx="0.9" ry="0.9" fill="#c07e8a"/><ellipse cx="237.8" cy="506.8" rx="0.8" ry="0.7" fill="#b06474"/><ellipse cx="177.9" cy="490.4" rx="1.0" ry="0.9" fill="#c8909a"/><ellipse cx="225.7" cy="486.2" rx="0.7" ry="0.7" fill="#b06474"/><ellipse cx="173.6" cy="513.0" rx="0.5" ry="0.4" fill="#c8909a"/><ellipse cx="186.8" cy="457.0" rx="0.9" ry="0.8" fill="#c8909a"/><ellipse cx="227.1" cy="459.2" rx="0.6" ry="0.5" fill="#c07e8a"/><ellipse cx="181.9" cy="480.2" rx="0.9" ry="1.0" fill="#b06474"/><ellipse cx="192.2" cy="457.0" rx="0.8" ry="0.8" fill="#a05468"/><ellipse cx="233.5" cy="489.4" rx="0.5" ry="0.6" fill="#b06474"/><ellipse cx="228.2" cy="463.9" rx="1.0" ry="0.7" fill="#b06474"/><ellipse cx="180.0" cy="483.0" rx="0.9" ry="0.8" fill="#a05468"/><ellipse cx="186.6" cy="478.7" rx="0.6" ry="0.6" fill="#b06474"/><ellipse cx="174.6" cy="461.1" rx="0.8" ry="0.9" fill="#c07e8a"/><ellipse cx="238.2" cy="451.2" rx="0.7" ry="0.9" fill="#c8909a"/><ellipse cx="236.2" cy="501.6" rx="0.8" ry="1.1" fill="#c8909a"/><ellipse cx="179.2" cy="506.5" rx="0.7" ry="1.0" fill="#b06474"/><ellipse cx="243.6" cy="514.4" rx="0.6" ry="0.8" fill="#a05468"/><ellipse cx="173.1" cy="480.8" rx="0.5" ry="0.5" fill="#a05468"/><ellipse cx="231.1" cy="449.5" rx="0.8" ry="0.9" fill="#c07e8a"/><ellipse cx="238.9" cy="478.4" rx="1.1" ry="0.9" fill="#c8909a"/><ellipse cx="241.3" cy="451.1" rx="0.6" ry="0.6" fill="#a05468"/><ellipse cx="184.0" cy="481.5" rx="0.8" ry="0.8" fill="#a05468"/><ellipse cx="233.7" cy="508.9" rx="0.7" ry="0.6" fill="#c07e8a"/><ellipse cx="242.8" cy="481.6" rx="0.6" ry="0.7" fill="#b06474"/><ellipse cx="176.8" cy="483.2" rx="0.6" ry="0.6" fill="#c8909a"/><ellipse cx="181.3" cy="475.8" rx="0.8" ry="0.7" fill="#c8909a"/><ellipse cx="243.3" cy="447.5" rx="0.6" ry="0.5" fill="#b06474"/><ellipse cx="179.7" cy="496.9" rx="0.6" ry="0.6" fill="#a05468"/><ellipse cx="236.1" cy="446.7" rx="0.8" ry="0.9" fill="#c07e8a"/><ellipse cx="238.8" cy="489.6" rx="0.6" ry="0.6" fill="#c07e8a"/><ellipse cx="239.4" cy="460.5" rx="0.8" ry="0.8" fill="#b06474"/><ellipse cx="225.0" cy="463.4" rx="0.5" ry="0.6" fill="#c8909a"/><ellipse cx="230.3" cy="451.8" rx="0.9" ry="0.9" fill="#a05468"/><ellipse cx="180.4" cy="480.9" rx="0.9" ry="0.8" fill="#c07e8a"/><ellipse cx="173.8" cy="499.1" rx="0.6" ry="0.6" fill="#c8909a"/><ellipse cx="244.3" cy="510.8" rx="0.4" ry="0.5" fill="#b06474"/><ellipse cx="177.7" cy="451.9" rx="0.6" ry="0.6" fill="#c8909a"/><ellipse cx="223.2" cy="504.9" rx="0.5" ry="0.5" fill="#c8909a"/><ellipse cx="239.3" cy="487.9" rx="0.5" ry="0.4" fill="#b06474"/><ellipse cx="233.5" cy="507.2" rx="0.9" ry="0.8" fill="#c8909a"/><ellipse cx="227.7" cy="464.8" rx="0.6" ry="0.5" fill="#c07e8a"/><ellipse cx="237.4" cy="507.5" rx="0.9" ry="0.7" fill="#c8909a"/><ellipse cx="224.8" cy="450.0" rx="0.5" ry="0.7" fill="#c8909a"/><ellipse cx="244.3" cy="509.1" rx="0.6" ry="0.5" fill="#a05468"/><ellipse cx="227.6" cy="514.6" rx="0.5" ry="0.4" fill="#b06474"/><ellipse cx="186.3" cy="471.7" rx="0.5" ry="0.5" fill="#a05468"/><ellipse cx="179.3" cy="476.5" rx="0.7" ry="0.9" fill="#b06474"/><ellipse cx="234.5" cy="483.5" rx="0.9" ry="0.7" fill="#c8909a"/><ellipse cx="193.6" cy="446.0" rx="0.6" ry="0.6" fill="#b06474"/><ellipse cx="222.0" cy="448.7" rx="0.5" ry="0.7" fill="#c8909a"/><ellipse cx="240.9" cy="450.2" rx="1.0" ry="0.8" fill="#c8909a"/><ellipse cx="227.2" cy="448.2" rx="0.4" ry="0.6" fill="#c8909a"/><ellipse cx="175.7" cy="474.6" rx="0.5" ry="0.4" fill="#b06474"/><ellipse cx="231.5" cy="454.7" rx="0.5" ry="0.5" fill="#c07e8a"/><ellipse cx="237.2" cy="500.7" rx="0.7" ry="0.8" fill="#a05468"/><ellipse cx="224.9" cy="494.6" rx="0.6" ry="0.5" fill="#a05468"/><ellipse cx="238.8" cy="507.4" rx="0.4" ry="0.4" fill="#b06474"/><ellipse cx="174.0" cy="447.7" rx="0.5" ry="0.5" fill="#a05468"/><ellipse cx="233.2" cy="450.3" rx="0.5" ry="0.6" fill="#c07e8a"/><ellipse cx="227.4" cy="503.7" rx="0.6" ry="0.5" fill="#a05468"/><ellipse cx="231.5" cy="477.9" rx="0.7" ry="0.7" fill="#b06474"/><ellipse cx="182.4" cy="470.4" rx="0.9" ry="0.7" fill="#a05468"/><ellipse cx="237.9" cy="493.8" rx="0.6" ry="0.5" fill="#a05468"/><ellipse cx="242.6" cy="496.8" rx="0.7" ry="0.7" fill="#b06474"/><ellipse cx="227.4" cy="507.5" rx="0.5" ry="0.5" fill="#b06474"/><ellipse cx="183.6" cy="466.0" rx="0.4" ry="0.5" fill="#c8909a"/><ellipse cx="229.5" cy="451.0" rx="0.6" ry="0.4" fill="#b06474"/><ellipse cx="226.4" cy="491.1" rx="0.6" ry="0.7" fill="#c07e8a"/><ellipse cx="177.3" cy="488.9" rx="0.6" ry="0.5" fill="#a05468"/><ellipse cx="232.9" cy="508.1" rx="0.9" ry="1.0" fill="#b06474"/><ellipse cx="230.6" cy="474.9" rx="0.6" ry="0.6" fill="#c07e8a"/><ellipse cx="236.7" cy="478.5" rx="0.9" ry="0.9" fill="#a05468"/><ellipse cx="185.1" cy="449.4" rx="0.8" ry="0.5" fill="#c8909a"/><ellipse cx="179.9" cy="458.1" rx="0.6" ry="0.6" fill="#c07e8a"/><ellipse cx="237.3" cy="473.6" rx="0.9" ry="1.1" fill="#a05468"/><ellipse cx="241.8" cy="491.9" rx="0.8" ry="0.7" fill="#b06474"/><ellipse cx="175.6" cy="512.3" rx="1.0" ry="0.9" fill="#c8909a"/><ellipse cx="228.5" cy="500.9" rx="0.6" ry="0.6" fill="#c07e8a"/><ellipse cx="238.1" cy="477.0" rx="0.6" ry="0.5" fill="#c8909a"/><ellipse cx="183.5" cy="467.8" rx="0.6" ry="0.7" fill="#c07e8a"/><ellipse cx="172.1" cy="503.3" rx="0.7" ry="0.8" fill="#c07e8a"/><ellipse cx="224.3" cy="451.9" rx="0.6" ry="0.8" fill="#c8909a"/><ellipse cx="173.4" cy="458.3" rx="0.6" ry="0.5" fill="#b06474"/><ellipse cx="174.7" cy="474.3" rx="0.6" ry="0.7" fill="#a05468"/><ellipse cx="177.4" cy="455.0" rx="0.9" ry="0.9" fill="#c8909a"/><ellipse cx="180.9" cy="476.6" rx="0.8" ry="0.9" fill="#c8909a"/><ellipse cx="244.4" cy="501.8" rx="0.5" ry="0.5" fill="#c07e8a"/><ellipse cx="178.7" cy="455.0" rx="0.4" ry="0.5" fill="#c07e8a"/><ellipse cx="233.1" cy="487.1" rx="0.4" ry="0.6" fill="#c07e8a"/><ellipse cx="239.7" cy="454.9" rx="0.6" ry="0.5" fill="#c07e8a"/><ellipse cx="173.1" cy="473.5" rx="0.8" ry="0.8" fill="#c07e8a"/><ellipse cx="173.4" cy="468.5" rx="0.5" ry="0.6" fill="#c8909a"/><ellipse cx="232.2" cy="488.4" rx="0.5" ry="0.5" fill="#a05468"/><ellipse cx="224.1" cy="515.1" rx="0.7" ry="0.6" fill="#c07e8a"/><ellipse cx="181.9" cy="478.9" rx="0.6" ry="0.8" fill="#a05468"/><ellipse cx="238.4" cy="515.4" rx="0.7" ry="1.0" fill="#c07e8a"/><ellipse cx="232.6" cy="458.2" rx="0.7" ry="0.7" fill="#b06474"/><ellipse cx="229.1" cy="511.0" rx="0.8" ry="1.0" fill="#c07e8a"/><ellipse cx="225.9" cy="472.1" rx="0.6" ry="0.7" fill="#b06474"/><ellipse cx="174.4" cy="482.5" rx="0.4" ry="0.5" fill="#c8909a"/><ellipse cx="174.8" cy="492.6" rx="0.6" ry="0.5" fill="#c8909a"/><ellipse cx="226.9" cy="479.5" rx="1.1" ry="0.8" fill="#c8909a"/><ellipse cx="180.4" cy="511.7" rx="0.6" ry="0.5" fill="#c8909a"/><ellipse cx="238.2" cy="466.0" rx="0.8" ry="0.8" fill="#c8909a"/><ellipse cx="226.9" cy="466.6" rx="0.7" ry="0.8" fill="#b06474"/><ellipse cx="243.0" cy="478.8" rx="0.5" ry="0.5" fill="#c07e8a"/><ellipse cx="240.6" cy="507.5" rx="1.1" ry="0.9" fill="#a05468"/><ellipse cx="230.8" cy="460.7" rx="0.9" ry="0.7" fill="#b06474"/><ellipse cx="229.8" cy="453.8" rx="0.6" ry="0.6" fill="#c8909a"/><ellipse cx="176.6" cy="508.6" rx="0.7" ry="0.9" fill="#c8909a"/><ellipse cx="188.8" cy="466.7" rx="0.6" ry="0.7" fill="#a05468"/><ellipse cx="240.2" cy="514.4" rx="0.6" ry="0.8" fill="#c07e8a"/><ellipse cx="222.6" cy="449.2" rx="0.7" ry="0.5" fill="#a05468"/><ellipse cx="243.3" cy="491.2" rx="0.7" ry="0.5" fill="#a05468"/><ellipse cx="228.9" cy="474.5" rx="0.4" ry="0.6" fill="#a05468"/><ellipse cx="237.4" cy="457.8" rx="0.6" ry="0.5" fill="#c07e8a"/><ellipse cx="243.8" cy="476.3" rx="0.6" ry="0.7" fill="#b06474"/><ellipse cx="244.1" cy="458.5" rx="0.5" ry="0.6" fill="#b06474"/><ellipse cx="244.1" cy="447.4" rx="0.5" ry="0.8" fill="#c8909a"/><ellipse cx="176.4" cy="449.5" rx="0.8" ry="0.8" fill="#a05468"/><ellipse cx="174.3" cy="465.7" rx="0.9" ry="0.9" fill="#c07e8a"/><ellipse cx="180.2" cy="475.9" rx="0.9" ry="0.9" fill="#a05468"/><ellipse cx="185.1" cy="455.8" rx="0.5" ry="0.5" fill="#c8909a"/><ellipse cx="224.8" cy="505.8" rx="0.6" ry="0.5" fill="#b06474"/><ellipse cx="189.4" cy="455.4" rx="0.7" ry="0.7" fill="#b06474"/><ellipse cx="225.9" cy="500.4" rx="0.7" ry="0.9" fill="#c8909a"/><ellipse cx="184.5" cy="463.1" rx="0.4" ry="0.5" fill="#c8909a"/><ellipse cx="242.8" cy="448.0" rx="0.6" ry="0.7" fill="#c07e8a"/><ellipse cx="226.4" cy="447.8" rx="0.5" ry="0.6" fill="#c07e8a"/><ellipse cx="242.9" cy="493.3" rx="0.7" ry="0.7" fill="#c07e8a"/><ellipse cx="234.4" cy="474.7" rx="0.5" ry="0.5" fill="#c07e8a"/><ellipse cx="243.6" cy="488.4" rx="0.5" ry="0.6" fill="#c8909a"/><ellipse cx="225.8" cy="485.3" rx="0.9" ry="0.8" fill="#c07e8a"/><ellipse cx="233.5" cy="472.1" rx="0.8" ry="0.7" fill="#c07e8a"/><ellipse cx="229.9" cy="502.1" rx="0.6" ry="0.7" fill="#c8909a"/><ellipse cx="244.5" cy="493.2" rx="0.9" ry="0.8" fill="#c07e8a"/><ellipse cx="175.4" cy="464.6" rx="0.9" ry="1.0" fill="#b06474"/><ellipse cx="179.5" cy="449.1" rx="0.7" ry="0.7" fill="#a05468"/><ellipse cx="233.3" cy="453.5" rx="0.9" ry="1.1" fill="#c8909a"/><ellipse cx="236.1" cy="492.5" rx="0.6" ry="0.5" fill="#c07e8a"/><ellipse cx="187.2" cy="474.2" rx="0.7" ry="0.7" fill="#c07e8a"/><ellipse cx="232.9" cy="483.0" rx="0.6" ry="0.8" fill="#c07e8a"/><ellipse cx="188.5" cy="465.7" rx="0.5" ry="0.7" fill="#c07e8a"/><ellipse cx="226.5" cy="479.3" rx="0.5" ry="0.4" fill="#a05468"/><ellipse cx="234.3" cy="484.6" rx="0.7" ry="0.7" fill="#b06474"/><ellipse cx="178.6" cy="475.4" rx="0.6" ry="0.8" fill="#b06474"/><ellipse cx="238.2" cy="502.1" rx="0.7" ry="0.7" fill="#a05468"/><ellipse cx="223.1" cy="446.6" rx="0.8" ry="0.8" fill="#a05468"/><ellipse cx="233.8" cy="466.3" rx="0.6" ry="0.6" fill="#a05468"/><ellipse cx="236.8" cy="490.6" rx="0.8" ry="0.6" fill="#a05468"/><ellipse cx="228.3" cy="489.5" rx="0.8" ry="0.6" fill="#c8909a"/><ellipse cx="177.0" cy="477.9" rx="0.5" ry="0.6" fill="#c8909a"/><ellipse cx="182.9" cy="458.7" rx="0.5" ry="0.4" fill="#c07e8a"/><ellipse cx="232.7" cy="513.8" rx="0.5" ry="0.5" fill="#a05468"/><ellipse cx="230.8" cy="459.8" rx="0.8" ry="0.7" fill="#c07e8a"/><ellipse cx="226.7" cy="482.9" rx="0.5" ry="0.6" fill="#c07e8a"/><ellipse cx="239.0" cy="497.4" rx="1.0" ry="1.0" fill="#b06474"/><ellipse cx="174.9" cy="489.1" rx="0.5" ry="0.6" fill="#c8909a"/><ellipse cx="227.4" cy="504.8" rx="0.9" ry="0.7" fill="#c8909a"/><ellipse cx="226.0" cy="464.1" rx="0.5" ry="0.6" fill="#c07e8a"/><ellipse cx="188.9" cy="458.1" rx="0.4" ry="0.4" fill="#c07e8a"/><ellipse cx="182.1" cy="456.2" rx="0.8" ry="0.9" fill="#b06474"/><ellipse cx="232.8" cy="505.7" rx="0.5" ry="0.6" fill="#b06474"/><ellipse cx="233.2" cy="465.1" rx="0.7" ry="0.8" fill="#c8909a"/><ellipse cx="182.7" cy="457.4" rx="0.6" ry="0.5" fill="#a05468"/><ellipse cx="172.5" cy="499.0" rx="0.7" ry="0.8" fill="#b06474"/><ellipse cx="244.8" cy="459.4" rx="0.7" ry="0.8" fill="#c8909a"/><ellipse cx="232.4" cy="462.9" rx="0.6" ry="0.7" fill="#a05468"/><ellipse cx="224.9" cy="457.5" rx="0.5" ry="0.5" fill="#c07e8a"/><ellipse cx="191.8" cy="446.7" rx="0.7" ry="0.6" fill="#b06474"/><ellipse cx="172.8" cy="482.4" rx="0.8" ry="0.9" fill="#c8909a"/><ellipse cx="232.4" cy="499.5" rx="1.1" ry="0.9" fill="#b06474"/><ellipse cx="233.3" cy="474.0" rx="0.7" ry="0.7" fill="#b06474"/><ellipse cx="244.4" cy="489.5" rx="0.6" ry="0.8" fill="#a05468"/><ellipse cx="184.9" cy="452.5" rx="0.5" ry="0.4" fill="#a05468"/><ellipse cx="178.9" cy="512.5" rx="0.7" ry="0.7" fill="#c07e8a"/><ellipse cx="176.9" cy="486.8" rx="0.7" ry="0.9" fill="#a05468"/><ellipse cx="188.0" cy="474.0" rx="0.9" ry="0.6" fill="#c07e8a"/><ellipse cx="236.3" cy="500.2" rx="0.6" ry="0.7" fill="#b06474"/><ellipse cx="236.8" cy="505.8" rx="0.6" ry="0.8" fill="#b06474"/><ellipse cx="226.3" cy="476.0" rx="0.7" ry="0.6" fill="#c8909a"/><ellipse cx="239.2" cy="482.5" rx="0.7" ry="0.7" fill="#a05468"/><ellipse cx="240.0" cy="455.8" rx="0.7" ry="0.6" fill="#a05468"/><ellipse cx="225.8" cy="515.2" rx="0.7" ry="0.8" fill="#c07e8a"/><ellipse cx="180.1" cy="458.3" rx="1.0" ry="1.0" fill="#c07e8a"/><ellipse cx="176.7" cy="506.8" rx="0.8" ry="0.7" fill="#a05468"/><ellipse cx="187.1" cy="446.0" rx="0.6" ry="0.7" fill="#c8909a"/><ellipse cx="177.4" cy="484.4" rx="1.0" ry="0.7" fill="#c8909a"/><ellipse cx="235.5" cy="514.1" rx="0.6" ry="0.4" fill="#c07e8a"/><ellipse cx="241.7" cy="460.6" rx="0.5" ry="0.6" fill="#c8909a"/><ellipse cx="234.0" cy="488.8" rx="0.7" ry="0.9" fill="#b06474"/><ellipse cx="241.9" cy="513.9" rx="0.7" ry="0.8" fill="#c8909a"/><ellipse cx="223.1" cy="505.0" rx="1.0" ry="0.8" fill="#c07e8a"/><ellipse cx="180.5" cy="511.8" rx="0.7" ry="0.6" fill="#a05468"/><ellipse cx="177.0" cy="459.6" rx="0.9" ry="0.7" fill="#a05468"/><ellipse cx="177.2" cy="463.9" rx="0.6" ry="0.5" fill="#c8909a"/><ellipse cx="181.0" cy="451.7" rx="0.6" ry="0.7" fill="#c8909a"/><ellipse cx="240.2" cy="472.5" rx="0.8" ry="0.7" fill="#c07e8a"/><ellipse cx="237.4" cy="462.9" rx="0.5" ry="0.8" fill="#a05468"/><ellipse cx="228.1" cy="452.4" rx="0.9" ry="0.6" fill="#c8909a"/><ellipse cx="224.8" cy="492.5" rx="0.7" ry="0.5" fill="#b06474"/><ellipse cx="177.3" cy="457.1" rx="0.7" ry="0.7" fill="#c8909a"/><ellipse cx="242.8" cy="514.3" rx="0.9" ry="0.8" fill="#c8909a"/><ellipse cx="176.2" cy="516.0" rx="0.8" ry="0.8" fill="#c07e8a"/><ellipse cx="230.0" cy="445.3" rx="1.0" ry="1.1" fill="#a05468"/><ellipse cx="232.8" cy="507.6" rx="0.5" ry="0.5" fill="#c8909a"/><ellipse cx="180.1" cy="501.0" rx="0.5" ry="0.5" fill="#b06474"/><ellipse cx="179.6" cy="454.8" rx="0.7" ry="0.9" fill="#c07e8a"/><ellipse cx="242.3" cy="495.6" rx="0.5" ry="0.6" fill="#b06474"/><ellipse cx="180.0" cy="497.3" rx="0.6" ry="0.5" fill="#a05468"/><ellipse cx="180.0" cy="466.4" rx="0.9" ry="0.8" fill="#b06474"/><ellipse cx="237.4" cy="459.5" rx="0.9" ry="0.9" fill="#c07e8a"/><ellipse cx="238.0" cy="473.0" rx="0.5" ry="0.5" fill="#a05468"/><ellipse cx="229.8" cy="472.3" rx="0.7" ry="0.6" fill="#a05468"/><ellipse cx="233.0" cy="449.4" rx="0.7" ry="0.6" fill="#a05468"/><ellipse cx="179.2" cy="471.4" rx="0.7" ry="0.6" fill="#c8909a"/><ellipse cx="179.7" cy="493.8" rx="0.6" ry="0.7" fill="#c07e8a"/><ellipse cx="175.9" cy="451.6" rx="0.7" ry="0.7" fill="#a05468"/><ellipse cx="178.6" cy="485.6" rx="0.6" ry="0.6" fill="#c8909a"/><ellipse cx="231.8" cy="501.0" rx="0.9" ry="0.8" fill="#b06474"/><ellipse cx="182.1" cy="469.1" rx="0.8" ry="0.6" fill="#c07e8a"/><ellipse cx="225.8" cy="474.7" rx="0.7" ry="0.6" fill="#b06474"/><ellipse cx="227.3" cy="493.1" rx="0.8" ry="0.9" fill="#c8909a"/><ellipse cx="177.2" cy="453.2" rx="0.9" ry="0.8" fill="#b06474"/><ellipse cx="180.3" cy="506.6" rx="0.5" ry="0.6" fill="#a05468"/><ellipse cx="221.2" cy="510.9" rx="0.7" ry="0.7" fill="#c8909a"/><ellipse cx="228.4" cy="468.0" rx="0.5" ry="0.4" fill="#c07e8a"/><ellipse cx="230.6" cy="493.5" rx="0.6" ry="0.7" fill="#c8909a"/><ellipse cx="189.1" cy="463.5" rx="0.7" ry="0.6" fill="#b06474"/><ellipse cx="232.2" cy="471.8" rx="0.9" ry="0.6" fill="#c8909a"/><ellipse cx="185.1" cy="474.4" rx="0.7" ry="0.6" fill="#c8909a"/><ellipse cx="227.0" cy="452.3" rx="0.5" ry="0.7" fill="#c07e8a"/><ellipse cx="241.4" cy="499.3" rx="0.7" ry="0.7" fill="#b06474"/><ellipse cx="244.0" cy="506.1" rx="0.7" ry="0.9" fill="#a05468"/><ellipse cx="239.4" cy="493.9" rx="0.7" ry="0.7" fill="#a05468"/><ellipse cx="243.7" cy="452.8" rx="0.6" ry="0.6" fill="#c07e8a"/><ellipse cx="181.6" cy="479.4" rx="0.7" ry="0.7" fill="#a05468"/><ellipse cx="183.1" cy="472.7" rx="0.9" ry="0.9" fill="#c07e8a"/><ellipse cx="225.6" cy="483.0" rx="0.7" ry="0.7" fill="#a05468"/><ellipse cx="228.9" cy="491.3" rx="0.7" ry="0.7" fill="#c8909a"/><ellipse cx="225.2" cy="512.0" rx="0.8" ry="0.6" fill="#a05468"/><ellipse cx="239.6" cy="497.7" rx="0.5" ry="0.6" fill="#b06474"/><ellipse cx="180.7" cy="515.2" rx="0.5" ry="0.6" fill="#c07e8a"/><ellipse cx="177.0" cy="447.1" rx="0.7" ry="0.8" fill="#b06474"/><ellipse cx="178.3" cy="494.3" rx="0.9" ry="0.6" fill="#c07e8a"/><ellipse cx="182.2" cy="458.7" rx="0.8" ry="0.9" fill="#b06474"/><ellipse cx="223.3" cy="511.7" rx="1.1" ry="1.1" fill="#c07e8a"/><ellipse cx="173.5" cy="479.8" rx="0.9" ry="0.6" fill="#a05468"/><ellipse cx="174.3" cy="452.9" rx="0.8" ry="0.7" fill="#b06474"/><ellipse cx="233.8" cy="499.4" rx="0.6" ry="0.6" fill="#b06474"/><ellipse cx="230.0" cy="514.3" rx="0.8" ry="0.7" fill="#c8909a"/><ellipse cx="189.7" cy="448.4" rx="0.6" ry="0.6" fill="#a05468"/><ellipse cx="219.6" cy="511.1" rx="0.6" ry="0.6" fill="#c07e8a"/><ellipse cx="236.0" cy="458.1" rx="0.6" ry="0.6" fill="#a05468"/><ellipse cx="186.9" cy="447.4" rx="0.5" ry="0.6" fill="#b06474"/><ellipse cx="189.8" cy="460.5" rx="0.6" ry="0.6" fill="#c07e8a"/><ellipse cx="238.5" cy="515.3" rx="0.6" ry="0.7" fill="#c07e8a"/><ellipse cx="177.0" cy="514.2" rx="0.9" ry="0.8" fill="#b06474"/><ellipse cx="176.8" cy="509.9" rx="0.4" ry="0.5" fill="#c07e8a"/><ellipse cx="188.5" cy="467.6" rx="0.4" ry="0.6" fill="#c07e8a"/><ellipse cx="241.0" cy="458.7" rx="0.6" ry="0.6" fill="#c07e8a"/><ellipse cx="241.3" cy="477.2" rx="0.8" ry="0.5" fill="#b06474"/><ellipse cx="235.6" cy="514.8" rx="0.7" ry="0.7" fill="#b06474"/><ellipse cx="191.1" cy="451.5" rx="0.6" ry="0.7" fill="#b06474"/><ellipse cx="227.5" cy="510.6" rx="0.8" ry="0.7" fill="#c07e8a"/><ellipse cx="179.7" cy="479.3" rx="0.8" ry="1.1" fill="#c8909a"/><ellipse cx="182.8" cy="478.3" rx="0.9" ry="0.7" fill="#c8909a"/><ellipse cx="175.8" cy="456.6" rx="0.7" ry="0.4" fill="#c07e8a"/><ellipse cx="173.8" cy="469.3" rx="0.5" ry="0.6" fill="#b06474"/><ellipse cx="184.1" cy="455.2" rx="0.7" ry="0.8" fill="#c8909a"/><ellipse cx="227.9" cy="511.3" rx="0.5" ry="0.7" fill="#c8909a"/><ellipse cx="192.7" cy="451.9" rx="0.8" ry="0.6" fill="#a05468"/><ellipse cx="226.4" cy="501.8" rx="0.8" ry="0.7" fill="#b06474"/><ellipse cx="176.5" cy="455.2" rx="0.4" ry="0.4" fill="#c8909a"/><ellipse cx="175.7" cy="486.4" rx="0.6" ry="0.8" fill="#b06474"/><ellipse cx="186.3" cy="460.3" rx="1.0" ry="1.0" fill="#a05468"/><ellipse cx="222.0" cy="501.6" rx="0.9" ry="0.7" fill="#a05468"/><ellipse cx="231.5" cy="466.5" rx="0.7" ry="0.6" fill="#b06474"/><ellipse cx="240.6" cy="506.4" rx="0.8" ry="1.1" fill="#c07e8a"/><ellipse cx="235.6" cy="467.1" rx="0.7" ry="0.6" fill="#a05468"/><ellipse cx="176.3" cy="506.6" rx="0.8" ry="1.0" fill="#b06474"/><ellipse cx="173.7" cy="456.4" rx="0.7" ry="0.9" fill="#c07e8a"/><ellipse cx="180.6" cy="455.9" rx="0.6" ry="0.6" fill="#c8909a"/><ellipse cx="240.8" cy="468.5" rx="0.8" ry="1.1" fill="#b06474"/><ellipse cx="228.5" cy="468.7" rx="0.5" ry="0.5" fill="#c8909a"/><ellipse cx="223.5" cy="448.6" rx="0.7" ry="1.0" fill="#c07e8a"/><ellipse cx="242.0" cy="466.0" rx="0.8" ry="1.0" fill="#c8909a"/><ellipse cx="229.6" cy="510.1" rx="0.5" ry="0.5" fill="#c8909a"/><ellipse cx="227.7" cy="484.4" rx="0.8" ry="0.7" fill="#a05468"/><ellipse cx="172.9" cy="451.2" rx="0.6" ry="0.5" fill="#b06474"/><ellipse cx="242.7" cy="500.9" rx="0.7" ry="0.8" fill="#a05468"/><ellipse cx="175.0" cy="449.1" rx="0.6" ry="0.4" fill="#b06474"/><ellipse cx="235.4" cy="515.7" rx="0.7" ry="0.7" fill="#c07e8a"/><ellipse cx="175.4" cy="495.4" rx="0.5" ry="0.5" fill="#b06474"/><ellipse cx="225.3" cy="489.0" rx="0.6" ry="0.6" fill="#c07e8a"/><ellipse cx="243.8" cy="453.5" rx="0.7" ry="0.7" fill="#c07e8a"/><ellipse cx="235.5" cy="458.6" rx="0.5" ry="0.5" fill="#b06474"/><ellipse cx="236.2" cy="477.3" rx="0.7" ry="0.5" fill="#c8909a"/><ellipse cx="188.6" cy="461.2" rx="0.7" ry="0.8" fill="#c8909a"/></g>
<g opacity="1.0"><ellipse cx="189.1" cy="499.7" rx="1.2" ry="1.1" fill="#7a3448"/><ellipse cx="219.2" cy="469.5" rx="1.1" ry="0.9" fill="#8a3a50"/><ellipse cx="197.5" cy="515.6" rx="0.8" ry="1.0" fill="#a85068"/><ellipse cx="218.2" cy="504.5" rx="1.3" ry="1.1" fill="#904060"/><ellipse cx="194.6" cy="470.9" rx="1.2" ry="1.1" fill="#7a3448"/><ellipse cx="204.7" cy="515.1" rx="0.8" ry="1.0" fill="#904060"/><ellipse cx="205.8" cy="482.5" rx="1.3" ry="1.2" fill="#9c4458"/><ellipse cx="202.2" cy="479.6" rx="1.4" ry="1.1" fill="#a85068"/><ellipse cx="205.3" cy="476.2" rx="0.8" ry="0.9" fill="#7a3448"/><ellipse cx="211.9" cy="494.0" rx="1.4" ry="1.1" fill="#a85068"/><ellipse cx="206.3" cy="481.5" rx="1.2" ry="1.0" fill="#a85068"/><ellipse cx="193.2" cy="507.0" rx="1.2" ry="1.1" fill="#9c4458"/><ellipse cx="222.6" cy="490.2" rx="0.7" ry="0.8" fill="#9c4458"/><ellipse cx="212.1" cy="447.0" rx="1.1" ry="1.4" fill="#7a3448"/><ellipse cx="212.3" cy="468.9" rx="1.5" ry="1.4" fill="#9c4458"/><ellipse cx="216.6" cy="465.0" rx="1.0" ry="1.0" fill="#7a3448"/><ellipse cx="208.4" cy="455.7" rx="1.5" ry="1.6" fill="#7a3448"/><ellipse cx="207.0" cy="499.2" rx="1.2" ry="1.0" fill="#904060"/><ellipse cx="189.2" cy="496.0" rx="0.9" ry="0.9" fill="#8a3a50"/><ellipse cx="193.9" cy="487.1" rx="1.3" ry="1.4" fill="#a85068"/><ellipse cx="210.7" cy="494.4" rx="1.1" ry="0.9" fill="#a85068"/><ellipse cx="195.8" cy="474.6" rx="0.8" ry="1.1" fill="#9c4458"/><ellipse cx="201.0" cy="481.3" rx="1.1" ry="1.0" fill="#904060"/><ellipse cx="213.2" cy="462.3" rx="1.3" ry="1.3" fill="#7a3448"/><ellipse cx="203.9" cy="482.8" rx="1.1" ry="1.2" fill="#9c4458"/><ellipse cx="197.2" cy="491.0" rx="0.8" ry="0.7" fill="#a85068"/><ellipse cx="220.6" cy="504.4" rx="1.3" ry="1.2" fill="#7a3448"/><ellipse cx="197.5" cy="484.3" rx="1.1" ry="1.2" fill="#9c4458"/><ellipse cx="203.2" cy="467.0" rx="1.2" ry="1.6" fill="#904060"/><ellipse cx="204.1" cy="453.0" rx="1.4" ry="1.5" fill="#a85068"/><ellipse cx="199.9" cy="515.3" rx="1.5" ry="1.4" fill="#904060"/><ellipse cx="206.5" cy="457.3" rx="1.2" ry="0.9" fill="#9c4458"/><ellipse cx="199.9" cy="483.6" rx="1.2" ry="1.1" fill="#904060"/><ellipse cx="223.3" cy="487.9" rx="0.9" ry="1.1" fill="#7a3448"/><ellipse cx="205.4" cy="452.2" rx="1.0" ry="1.3" fill="#7a3448"/><ellipse cx="194.8" cy="496.6" rx="1.3" ry="1.4" fill="#9c4458"/><ellipse cx="221.4" cy="490.8" rx="1.6" ry="1.5" fill="#7a3448"/><ellipse cx="220.4" cy="466.6" rx="1.3" ry="1.4" fill="#7a3448"/><ellipse cx="198.4" cy="491.5" rx="0.8" ry="1.0" fill="#904060"/><ellipse cx="211.0" cy="449.7" rx="0.9" ry="1.1" fill="#9c4458"/><ellipse cx="210.6" cy="453.5" rx="1.4" ry="1.1" fill="#a85068"/><ellipse cx="206.8" cy="453.7" rx="0.8" ry="1.2" fill="#8a3a50"/><ellipse cx="196.2" cy="468.4" rx="1.0" ry="0.9" fill="#904060"/><ellipse cx="210.3" cy="490.7" rx="1.0" ry="1.3" fill="#a85068"/><ellipse cx="181.8" cy="506.4" rx="0.8" ry="0.7" fill="#9c4458"/><ellipse cx="199.4" cy="471.7" rx="1.0" ry="0.7" fill="#7a3448"/><ellipse cx="218.4" cy="455.5" rx="1.1" ry="0.8" fill="#8a3a50"/><ellipse cx="209.7" cy="455.3" rx="1.4" ry="1.3" fill="#9c4458"/><ellipse cx="187.8" cy="490.5" rx="1.0" ry="1.0" fill="#9c4458"/><ellipse cx="198.1" cy="471.9" rx="1.2" ry="1.2" fill="#8a3a50"/><ellipse cx="206.8" cy="472.8" rx="1.0" ry="1.3" fill="#9c4458"/><ellipse cx="183.3" cy="491.4" rx="0.9" ry="1.1" fill="#7a3448"/><ellipse cx="216.4" cy="494.7" rx="1.4" ry="1.6" fill="#9c4458"/><ellipse cx="194.7" cy="462.9" rx="1.3" ry="1.3" fill="#8a3a50"/><ellipse cx="195.7" cy="488.0" rx="1.6" ry="1.2" fill="#904060"/><ellipse cx="189.5" cy="479.3" rx="0.8" ry="0.9" fill="#904060"/><ellipse cx="205.6" cy="454.3" rx="1.2" ry="1.3" fill="#8a3a50"/><ellipse cx="188.2" cy="512.8" rx="1.0" ry="1.2" fill="#7a3448"/><ellipse cx="195.9" cy="494.3" rx="0.8" ry="1.0" fill="#7a3448"/><ellipse cx="194.1" cy="464.5" rx="1.1" ry="1.5" fill="#8a3a50"/><ellipse cx="189.4" cy="479.2" rx="1.5" ry="1.2" fill="#a85068"/><ellipse cx="193.6" cy="473.2" rx="1.0" ry="1.0" fill="#a85068"/><ellipse cx="222.8" cy="491.5" rx="1.4" ry="1.2" fill="#9c4458"/><ellipse cx="187.0" cy="496.9" rx="1.4" ry="0.9" fill="#7a3448"/><ellipse cx="200.5" cy="503.5" rx="1.2" ry="1.4" fill="#904060"/><ellipse cx="209.8" cy="478.8" rx="0.7" ry="0.7" fill="#904060"/><ellipse cx="204.0" cy="454.1" rx="1.4" ry="1.1" fill="#7a3448"/><ellipse cx="209.8" cy="471.4" rx="0.9" ry="0.9" fill="#904060"/><ellipse cx="204.4" cy="468.2" rx="1.1" ry="1.1" fill="#7a3448"/><ellipse cx="190.9" cy="487.7" rx="1.0" ry="1.1" fill="#904060"/><ellipse cx="195.6" cy="470.9" rx="0.7" ry="0.9" fill="#7a3448"/><ellipse cx="198.6" cy="464.8" rx="1.6" ry="1.5" fill="#a85068"/><ellipse cx="219.9" cy="450.7" rx="0.9" ry="1.1" fill="#a85068"/><ellipse cx="205.9" cy="452.0" rx="0.9" ry="0.9" fill="#9c4458"/><ellipse cx="196.0" cy="508.1" rx="0.7" ry="0.8" fill="#8a3a50"/><ellipse cx="183.6" cy="507.3" rx="1.3" ry="1.1" fill="#904060"/><ellipse cx="199.8" cy="488.0" rx="0.8" ry="0.7" fill="#8a3a50"/><ellipse cx="216.2" cy="452.7" rx="0.8" ry="1.0" fill="#7a3448"/><ellipse cx="216.7" cy="459.7" rx="0.7" ry="0.8" fill="#904060"/><ellipse cx="193.0" cy="474.7" rx="1.2" ry="1.1" fill="#8a3a50"/><ellipse cx="200.4" cy="457.8" rx="1.0" ry="1.0" fill="#a85068"/><ellipse cx="190.2" cy="484.2" rx="1.0" ry="0.9" fill="#9c4458"/><ellipse cx="189.9" cy="492.9" rx="1.3" ry="1.1" fill="#9c4458"/><ellipse cx="218.5" cy="480.2" rx="1.0" ry="1.0" fill="#7a3448"/><ellipse cx="189.0" cy="488.1" rx="1.0" ry="1.0" fill="#8a3a50"/><ellipse cx="208.1" cy="499.7" rx="1.1" ry="1.2" fill="#a85068"/><ellipse cx="196.3" cy="474.2" rx="1.0" ry="1.0" fill="#7a3448"/><ellipse cx="219.5" cy="501.8" rx="1.1" ry="1.3" fill="#7a3448"/><ellipse cx="182.9" cy="501.7" rx="1.4" ry="1.4" fill="#7a3448"/><ellipse cx="212.3" cy="514.6" rx="1.1" ry="1.3" fill="#8a3a50"/><ellipse cx="202.0" cy="451.7" rx="1.0" ry="1.0" fill="#a85068"/><ellipse cx="193.0" cy="479.1" rx="1.1" ry="0.9" fill="#904060"/><ellipse cx="181.8" cy="501.2" rx="1.0" ry="1.1" fill="#8a3a50"/><ellipse cx="201.9" cy="467.6" rx="1.0" ry="1.3" fill="#a85068"/><ellipse cx="195.6" cy="510.5" rx="1.1" ry="1.2" fill="#904060"/><ellipse cx="208.8" cy="457.5" rx="1.0" ry="1.1" fill="#904060"/><ellipse cx="185.7" cy="515.4" rx="1.4" ry="1.3" fill="#7a3448"/><ellipse cx="209.6" cy="478.6" rx="1.1" ry="1.3" fill="#8a3a50"/><ellipse cx="198.3" cy="481.6" rx="1.3" ry="1.4" fill="#904060"/><ellipse cx="218.4" cy="451.6" rx="1.0" ry="1.1" fill="#8a3a50"/><ellipse cx="216.1" cy="453.1" rx="0.9" ry="0.8" fill="#9c4458"/><ellipse cx="216.2" cy="468.5" rx="1.0" ry="1.3" fill="#a85068"/><ellipse cx="182.6" cy="507.8" rx="0.9" ry="0.9" fill="#7a3448"/><ellipse cx="215.2" cy="457.9" rx="1.0" ry="0.8" fill="#9c4458"/><ellipse cx="204.8" cy="487.3" rx="1.2" ry="0.9" fill="#904060"/><ellipse cx="196.6" cy="456.3" rx="1.1" ry="1.4" fill="#a85068"/><ellipse cx="218.1" cy="511.5" rx="0.9" ry="0.9" fill="#8a3a50"/><ellipse cx="192.0" cy="505.1" rx="1.1" ry="1.1" fill="#7a3448"/><ellipse cx="200.9" cy="471.3" rx="1.3" ry="1.2" fill="#7a3448"/><ellipse cx="205.6" cy="510.9" rx="1.2" ry="1.0" fill="#a85068"/><ellipse cx="195.2" cy="450.8" rx="0.9" ry="0.8" fill="#8a3a50"/><ellipse cx="206.9" cy="504.6" rx="0.9" ry="1.0" fill="#9c4458"/><ellipse cx="199.8" cy="499.4" rx="0.8" ry="0.9" fill="#8a3a50"/><ellipse cx="201.0" cy="451.4" rx="1.3" ry="1.2" fill="#8a3a50"/><ellipse cx="201.1" cy="501.3" rx="1.1" ry="1.0" fill="#8a3a50"/><ellipse cx="186.4" cy="515.4" rx="0.8" ry="0.9" fill="#9c4458"/><ellipse cx="199.7" cy="504.6" rx="1.0" ry="1.2" fill="#9c4458"/><ellipse cx="217.7" cy="447.4" rx="1.1" ry="0.9" fill="#7a3448"/><ellipse cx="181.8" cy="505.8" rx="0.9" ry="1.2" fill="#a85068"/><ellipse cx="194.7" cy="461.1" rx="0.8" ry="0.8" fill="#8a3a50"/><ellipse cx="192.3" cy="510.7" rx="0.9" ry="1.2" fill="#7a3448"/><ellipse cx="194.4" cy="479.9" rx="1.1" ry="0.8" fill="#7a3448"/><ellipse cx="215.2" cy="456.2" rx="1.0" ry="1.1" fill="#a85068"/><ellipse cx="204.3" cy="456.5" rx="1.2" ry="1.1" fill="#a85068"/><ellipse cx="202.2" cy="469.4" rx="1.2" ry="1.5" fill="#904060"/><ellipse cx="212.2" cy="500.9" rx="0.9" ry="0.9" fill="#7a3448"/><ellipse cx="206.4" cy="482.3" rx="1.5" ry="1.5" fill="#8a3a50"/><ellipse cx="204.3" cy="484.7" rx="1.3" ry="1.2" fill="#904060"/><ellipse cx="205.6" cy="455.2" rx="1.0" ry="1.3" fill="#a85068"/><ellipse cx="218.2" cy="475.6" rx="1.2" ry="1.1" fill="#a85068"/><ellipse cx="212.8" cy="496.9" rx="0.7" ry="0.8" fill="#904060"/><ellipse cx="206.4" cy="472.1" rx="0.9" ry="1.1" fill="#a85068"/><ellipse cx="202.6" cy="457.9" rx="1.0" ry="1.0" fill="#904060"/><ellipse cx="207.2" cy="511.8" rx="1.2" ry="1.2" fill="#904060"/><ellipse cx="200.5" cy="490.7" rx="1.2" ry="1.1" fill="#7a3448"/><ellipse cx="210.0" cy="454.2" rx="1.4" ry="1.1" fill="#8a3a50"/><ellipse cx="220.8" cy="483.9" rx="1.3" ry="1.2" fill="#7a3448"/><ellipse cx="201.2" cy="498.0" rx="1.4" ry="1.5" fill="#904060"/><ellipse cx="207.5" cy="494.7" rx="1.0" ry="1.5" fill="#9c4458"/><ellipse cx="219.6" cy="503.3" rx="1.3" ry="1.4" fill="#8a3a50"/><ellipse cx="214.5" cy="449.2" rx="1.1" ry="1.0" fill="#904060"/><ellipse cx="199.9" cy="493.0" rx="1.1" ry="1.3" fill="#a85068"/><ellipse cx="181.3" cy="508.9" rx="1.2" ry="1.1" fill="#a85068"/><ellipse cx="200.1" cy="493.3" rx="1.0" ry="1.4" fill="#8a3a50"/><ellipse cx="184.7" cy="513.7" rx="1.5" ry="1.4" fill="#904060"/><ellipse cx="207.8" cy="497.0" rx="1.0" ry="1.2" fill="#7a3448"/><ellipse cx="195.1" cy="515.2" rx="1.5" ry="1.4" fill="#904060"/><ellipse cx="207.7" cy="502.4" rx="1.3" ry="1.1" fill="#a85068"/><ellipse cx="208.1" cy="490.3" rx="1.2" ry="1.1" fill="#904060"/><ellipse cx="209.6" cy="468.0" rx="1.1" ry="1.3" fill="#a85068"/><ellipse cx="215.8" cy="515.4" rx="1.2" ry="1.1" fill="#a85068"/><ellipse cx="205.9" cy="467.5" rx="0.9" ry="0.9" fill="#8a3a50"/><ellipse cx="214.5" cy="451.5" rx="1.3" ry="1.0" fill="#7a3448"/><ellipse cx="204.0" cy="461.1" rx="0.8" ry="0.9" fill="#7a3448"/><ellipse cx="194.6" cy="505.7" rx="1.1" ry="1.1" fill="#904060"/><ellipse cx="216.0" cy="502.0" rx="1.6" ry="1.5" fill="#9c4458"/><ellipse cx="214.6" cy="504.6" rx="1.2" ry="1.4" fill="#904060"/><ellipse cx="208.6" cy="487.9" rx="0.9" ry="0.8" fill="#7a3448"/><ellipse cx="192.8" cy="488.1" rx="1.2" ry="1.2" fill="#904060"/><ellipse cx="223.2" cy="463.0" rx="1.3" ry="1.5" fill="#8a3a50"/><ellipse cx="201.6" cy="481.4" rx="1.3" ry="1.2" fill="#9c4458"/><ellipse cx="218.1" cy="480.2" rx="1.0" ry="1.0" fill="#8a3a50"/><ellipse cx="209.8" cy="445.3" rx="1.0" ry="0.9" fill="#8a3a50"/><ellipse cx="198.3" cy="496.1" rx="1.2" ry="1.3" fill="#9c4458"/><ellipse cx="191.5" cy="465.4" rx="1.1" ry="1.3" fill="#7a3448"/><ellipse cx="188.0" cy="510.2" rx="1.0" ry="1.1" fill="#8a3a50"/><ellipse cx="206.9" cy="449.4" rx="1.0" ry="0.8" fill="#8a3a50"/><ellipse cx="197.1" cy="515.7" rx="0.9" ry="0.8" fill="#8a3a50"/><ellipse cx="198.6" cy="471.1" rx="1.2" ry="1.2" fill="#7a3448"/><ellipse cx="199.1" cy="477.9" rx="1.2" ry="0.8" fill="#904060"/><ellipse cx="212.4" cy="461.5" rx="1.1" ry="1.0" fill="#9c4458"/><ellipse cx="223.2" cy="483.4" rx="1.0" ry="0.7" fill="#7a3448"/><ellipse cx="186.4" cy="493.5" rx="1.0" ry="1.0" fill="#7a3448"/><ellipse cx="189.7" cy="505.6" rx="1.0" ry="0.8" fill="#7a3448"/><ellipse cx="199.6" cy="502.4" rx="0.9" ry="0.9" fill="#8a3a50"/><ellipse cx="216.8" cy="445.3" rx="1.0" ry="1.1" fill="#904060"/><ellipse cx="219.7" cy="460.9" rx="1.5" ry="1.3" fill="#904060"/><ellipse cx="221.2" cy="472.7" rx="1.1" ry="1.3" fill="#9c4458"/><ellipse cx="205.5" cy="515.7" rx="0.8" ry="1.1" fill="#a85068"/><ellipse cx="207.7" cy="478.8" rx="0.7" ry="0.7" fill="#8a3a50"/><ellipse cx="207.1" cy="490.7" rx="1.1" ry="1.2" fill="#904060"/><ellipse cx="211.4" cy="502.4" rx="1.3" ry="1.3" fill="#9c4458"/><ellipse cx="217.5" cy="460.3" rx="1.0" ry="1.0" fill="#8a3a50"/><ellipse cx="199.5" cy="454.6" rx="1.1" ry="1.1" fill="#7a3448"/><ellipse cx="223.3" cy="464.3" rx="1.4" ry="1.4" fill="#8a3a50"/><ellipse cx="205.9" cy="489.0" rx="0.9" ry="1.1" fill="#904060"/><ellipse cx="218.1" cy="497.5" rx="1.3" ry="1.5" fill="#a85068"/><ellipse cx="208.5" cy="503.5" rx="1.0" ry="1.2" fill="#8a3a50"/><ellipse cx="210.0" cy="452.7" rx="0.9" ry="1.0" fill="#8a3a50"/><ellipse cx="205.1" cy="456.3" rx="1.0" ry="1.0" fill="#904060"/><ellipse cx="209.0" cy="448.4" rx="0.8" ry="1.0" fill="#a85068"/><ellipse cx="194.9" cy="505.0" rx="1.0" ry="0.9" fill="#a85068"/><ellipse cx="220.7" cy="455.9" rx="0.8" ry="0.7" fill="#904060"/><ellipse cx="187.8" cy="514.4" rx="1.1" ry="1.0" fill="#904060"/><ellipse cx="187.7" cy="497.8" rx="1.5" ry="1.2" fill="#9c4458"/><ellipse cx="190.6" cy="490.9" rx="1.1" ry="1.0" fill="#8a3a50"/><ellipse cx="187.4" cy="492.7" rx="1.2" ry="1.2" fill="#a85068"/><ellipse cx="207.6" cy="511.4" rx="1.2" ry="1.0" fill="#904060"/><ellipse cx="207.6" cy="465.2" rx="1.6" ry="1.5" fill="#a85068"/><ellipse cx="196.0" cy="475.8" rx="1.2" ry="1.5" fill="#904060"/><ellipse cx="218.2" cy="447.5" rx="1.0" ry="0.8" fill="#904060"/><ellipse cx="206.2" cy="467.2" rx="0.7" ry="0.8" fill="#7a3448"/><ellipse cx="223.4" cy="478.5" rx="1.1" ry="1.2" fill="#904060"/><ellipse cx="203.7" cy="457.2" rx="1.3" ry="1.3" fill="#904060"/><ellipse cx="201.1" cy="455.0" rx="1.2" ry="1.0" fill="#904060"/><ellipse cx="213.9" cy="486.6" rx="1.2" ry="1.5" fill="#904060"/><ellipse cx="215.4" cy="480.0" rx="1.1" ry="1.6" fill="#904060"/><ellipse cx="196.8" cy="451.2" rx="0.9" ry="1.0" fill="#904060"/><ellipse cx="189.3" cy="499.4" rx="1.4" ry="1.5" fill="#a85068"/><ellipse cx="204.9" cy="492.4" rx="1.3" ry="1.2" fill="#8a3a50"/><ellipse cx="213.6" cy="497.8" rx="1.0" ry="0.9" fill="#904060"/><ellipse cx="221.5" cy="457.6" rx="1.3" ry="1.1" fill="#9c4458"/><ellipse cx="192.3" cy="491.2" rx="1.3" ry="1.3" fill="#904060"/><ellipse cx="200.0" cy="490.3" rx="1.2" ry="1.0" fill="#9c4458"/><ellipse cx="192.0" cy="500.8" rx="1.3" ry="0.9" fill="#a85068"/><ellipse cx="205.7" cy="475.2" rx="1.0" ry="0.9" fill="#904060"/><ellipse cx="203.2" cy="486.9" rx="1.3" ry="1.2" fill="#9c4458"/><ellipse cx="199.4" cy="475.0" rx="1.1" ry="1.2" fill="#7a3448"/><ellipse cx="209.1" cy="511.3" rx="1.1" ry="0.9" fill="#904060"/><ellipse cx="194.4" cy="463.1" rx="1.2" ry="1.5" fill="#a85068"/><ellipse cx="207.8" cy="489.2" rx="1.0" ry="1.0" fill="#a85068"/><ellipse cx="185.1" cy="509.9" rx="1.3" ry="1.2" fill="#9c4458"/><ellipse cx="182.5" cy="515.1" rx="1.0" ry="1.0" fill="#8a3a50"/><ellipse cx="200.6" cy="513.3" rx="1.0" ry="1.0" fill="#8a3a50"/><ellipse cx="218.2" cy="488.8" rx="1.3" ry="1.5" fill="#9c4458"/><ellipse cx="211.0" cy="462.0" rx="1.1" ry="1.0" fill="#a85068"/><ellipse cx="199.0" cy="460.9" rx="0.8" ry="0.9" fill="#a85068"/><ellipse cx="187.2" cy="480.9" rx="0.9" ry="1.4" fill="#9c4458"/><ellipse cx="190.9" cy="507.5" rx="1.0" ry="0.8" fill="#9c4458"/><ellipse cx="203.0" cy="457.6" rx="1.0" ry="0.7" fill="#8a3a50"/><ellipse cx="206.9" cy="468.3" rx="1.1" ry="1.1" fill="#904060"/><ellipse cx="204.4" cy="494.9" rx="1.1" ry="1.5" fill="#904060"/><ellipse cx="202.9" cy="458.1" rx="0.9" ry="1.1" fill="#7a3448"/><ellipse cx="223.1" cy="497.1" rx="1.3" ry="1.2" fill="#7a3448"/><ellipse cx="197.6" cy="453.8" rx="1.3" ry="1.1" fill="#7a3448"/><ellipse cx="203.7" cy="470.3" rx="0.8" ry="1.0" fill="#7a3448"/><ellipse cx="203.1" cy="455.4" rx="1.4" ry="1.0" fill="#7a3448"/><ellipse cx="193.7" cy="482.0" rx="1.2" ry="1.4" fill="#904060"/><ellipse cx="205.0" cy="452.5" rx="1.2" ry="1.1" fill="#7a3448"/><ellipse cx="207.2" cy="450.6" rx="1.1" ry="0.8" fill="#904060"/><ellipse cx="210.5" cy="448.2" rx="1.2" ry="1.0" fill="#8a3a50"/><ellipse cx="202.7" cy="502.4" rx="1.2" ry="1.1" fill="#8a3a50"/><ellipse cx="203.7" cy="458.1" rx="0.8" ry="1.0" fill="#9c4458"/><ellipse cx="202.2" cy="474.6" rx="1.3" ry="1.1" fill="#904060"/><ellipse cx="219.3" cy="482.7" rx="1.5" ry="1.5" fill="#8a3a50"/><ellipse cx="211.8" cy="484.2" rx="0.8" ry="0.9" fill="#8a3a50"/><ellipse cx="209.2" cy="455.7" rx="1.0" ry="0.9" fill="#7a3448"/><ellipse cx="192.9" cy="494.5" rx="1.3" ry="1.3" fill="#7a3448"/><ellipse cx="205.1" cy="508.2" rx="1.1" ry="1.1" fill="#a85068"/><ellipse cx="209.9" cy="467.3" rx="1.1" ry="1.5" fill="#a85068"/><ellipse cx="199.0" cy="465.0" rx="1.3" ry="1.4" fill="#a85068"/><ellipse cx="181.7" cy="515.8" rx="1.0" ry="0.9" fill="#7a3448"/><ellipse cx="185.6" cy="512.0" rx="1.2" ry="1.2" fill="#904060"/><ellipse cx="186.7" cy="480.8" rx="0.8" ry="0.8" fill="#a85068"/><ellipse cx="214.2" cy="492.1" rx="1.2" ry="1.1" fill="#a85068"/><ellipse cx="206.5" cy="486.6" rx="1.2" ry="1.2" fill="#a85068"/><ellipse cx="214.7" cy="449.5" rx="1.4" ry="1.0" fill="#7a3448"/><ellipse cx="188.1" cy="499.1" rx="1.2" ry="1.0" fill="#904060"/><ellipse cx="201.1" cy="478.1" rx="1.0" ry="1.1" fill="#904060"/><ellipse cx="209.4" cy="477.3" rx="1.3" ry="1.3" fill="#9c4458"/><ellipse cx="192.0" cy="508.8" rx="0.9" ry="1.0" fill="#9c4458"/><ellipse cx="197.7" cy="451.3" rx="0.8" ry="0.8" fill="#7a3448"/><ellipse cx="194.4" cy="470.7" rx="1.0" ry="0.8" fill="#a85068"/><ellipse cx="216.5" cy="463.7" rx="1.1" ry="1.0" fill="#9c4458"/><ellipse cx="223.6" cy="474.3" rx="0.9" ry="1.2" fill="#8a3a50"/><ellipse cx="197.6" cy="470.5" rx="1.1" ry="1.3" fill="#a85068"/><ellipse cx="201.8" cy="504.8" rx="1.4" ry="1.1" fill="#9c4458"/><ellipse cx="211.7" cy="456.0" rx="1.0" ry="1.2" fill="#a85068"/><ellipse cx="219.8" cy="468.6" rx="1.0" ry="1.1" fill="#8a3a50"/><ellipse cx="194.1" cy="496.3" rx="1.2" ry="1.2" fill="#8a3a50"/><ellipse cx="196.5" cy="461.6" rx="1.0" ry="1.1" fill="#8a3a50"/><ellipse cx="215.0" cy="510.2" rx="1.0" ry="1.0" fill="#a85068"/><ellipse cx="202.0" cy="466.1" rx="1.4" ry="1.2" fill="#904060"/><ellipse cx="191.8" cy="493.9" rx="1.0" ry="0.7" fill="#9c4458"/><ellipse cx="199.2" cy="483.3" rx="0.9" ry="1.0" fill="#8a3a50"/><ellipse cx="190.9" cy="475.9" rx="0.9" ry="0.9" fill="#7a3448"/><ellipse cx="186.4" cy="490.6" rx="0.9" ry="1.0" fill="#904060"/><ellipse cx="183.5" cy="499.2" rx="1.0" ry="1.0" fill="#7a3448"/><ellipse cx="214.8" cy="469.0" rx="0.9" ry="0.9" fill="#7a3448"/><ellipse cx="204.7" cy="511.8" rx="1.2" ry="1.3" fill="#8a3a50"/><ellipse cx="208.8" cy="451.9" rx="1.4" ry="1.2" fill="#a85068"/><ellipse cx="202.0" cy="475.4" rx="1.2" ry="1.2" fill="#8a3a50"/><ellipse cx="208.6" cy="514.2" rx="1.3" ry="1.4" fill="#904060"/><ellipse cx="203.1" cy="498.0" rx="0.8" ry="1.0" fill="#a85068"/><ellipse cx="191.3" cy="484.5" rx="1.2" ry="1.3" fill="#8a3a50"/><ellipse cx="223.6" cy="488.7" rx="0.9" ry="1.3" fill="#904060"/><ellipse cx="193.5" cy="509.8" rx="1.3" ry="1.2" fill="#8a3a50"/><ellipse cx="197.1" cy="511.8" rx="0.9" ry="1.1" fill="#8a3a50"/><ellipse cx="200.5" cy="456.8" rx="1.1" ry="0.9" fill="#9c4458"/><ellipse cx="188.4" cy="496.9" rx="1.0" ry="1.0" fill="#a85068"/><ellipse cx="204.6" cy="513.4" rx="1.5" ry="1.1" fill="#7a3448"/><ellipse cx="182.2" cy="493.7" rx="0.9" ry="0.7" fill="#9c4458"/><ellipse cx="217.1" cy="489.2" rx="1.4" ry="1.3" fill="#8a3a50"/><ellipse cx="205.7" cy="489.7" rx="1.2" ry="1.1" fill="#8a3a50"/><ellipse cx="219.0" cy="504.8" rx="1.2" ry="1.2" fill="#9c4458"/><ellipse cx="214.2" cy="471.6" rx="0.8" ry="0.8" fill="#a85068"/><ellipse cx="222.5" cy="485.2" rx="1.0" ry="1.0" fill="#904060"/><ellipse cx="202.6" cy="514.3" rx="0.9" ry="1.3" fill="#a85068"/><ellipse cx="194.4" cy="476.1" rx="1.1" ry="1.0" fill="#a85068"/><ellipse cx="207.5" cy="489.0" rx="1.6" ry="1.4" fill="#904060"/><ellipse cx="188.7" cy="515.4" rx="1.4" ry="1.5" fill="#9c4458"/><ellipse cx="222.9" cy="465.5" rx="1.0" ry="0.9" fill="#8a3a50"/><ellipse cx="219.2" cy="491.0" rx="1.2" ry="1.6" fill="#8a3a50"/><ellipse cx="200.1" cy="448.6" rx="0.9" ry="0.9" fill="#904060"/><ellipse cx="199.5" cy="451.2" rx="0.8" ry="0.9" fill="#904060"/><ellipse cx="196.0" cy="486.6" rx="1.0" ry="1.2" fill="#7a3448"/><ellipse cx="196.4" cy="514.7" rx="1.5" ry="1.5" fill="#904060"/><ellipse cx="204.0" cy="509.8" rx="1.3" ry="1.2" fill="#7a3448"/><ellipse cx="208.7" cy="454.1" rx="1.0" ry="1.1" fill="#8a3a50"/><ellipse cx="215.3" cy="482.7" rx="1.2" ry="1.2" fill="#a85068"/><ellipse cx="220.7" cy="466.2" rx="0.8" ry="0.9" fill="#7a3448"/><ellipse cx="200.2" cy="513.8" rx="0.7" ry="0.8" fill="#a85068"/><ellipse cx="208.8" cy="497.2" rx="1.3" ry="1.3" fill="#9c4458"/><ellipse cx="204.0" cy="451.5" rx="1.0" ry="1.1" fill="#904060"/><ellipse cx="201.4" cy="506.5" rx="0.9" ry="1.1" fill="#904060"/><ellipse cx="192.2" cy="512.7" rx="0.7" ry="0.7" fill="#8a3a50"/><ellipse cx="207.2" cy="486.5" rx="1.2" ry="1.1" fill="#7a3448"/><ellipse cx="201.5" cy="497.8" rx="0.7" ry="0.9" fill="#7a3448"/><ellipse cx="199.6" cy="472.4" rx="0.8" ry="0.8" fill="#904060"/><ellipse cx="197.5" cy="494.8" rx="1.2" ry="1.1" fill="#a85068"/><ellipse cx="212.4" cy="448.7" rx="1.1" ry="1.2" fill="#a85068"/><ellipse cx="209.6" cy="475.6" rx="1.3" ry="1.0" fill="#8a3a50"/><ellipse cx="208.0" cy="479.3" rx="1.4" ry="1.1" fill="#7a3448"/><ellipse cx="188.7" cy="487.9" rx="1.0" ry="0.8" fill="#8a3a50"/><ellipse cx="192.8" cy="494.8" rx="1.5" ry="1.4" fill="#7a3448"/><ellipse cx="202.8" cy="463.9" rx="1.2" ry="1.1" fill="#a85068"/><ellipse cx="182.2" cy="507.2" rx="1.3" ry="1.4" fill="#9c4458"/><ellipse cx="206.8" cy="475.1" rx="1.0" ry="0.9" fill="#9c4458"/><ellipse cx="200.0" cy="479.2" rx="1.1" ry="1.0" fill="#a85068"/><ellipse cx="217.3" cy="470.1" rx="1.2" ry="1.4" fill="#8a3a50"/><ellipse cx="195.2" cy="457.3" rx="1.0" ry="0.8" fill="#8a3a50"/><ellipse cx="201.4" cy="501.6" rx="1.0" ry="0.9" fill="#904060"/><ellipse cx="211.9" cy="497.6" rx="1.4" ry="1.4" fill="#904060"/><ellipse cx="200.4" cy="471.0" rx="1.0" ry="1.1" fill="#9c4458"/><ellipse cx="193.3" cy="495.7" rx="1.1" ry="1.0" fill="#8a3a50"/><ellipse cx="217.2" cy="480.4" rx="1.0" ry="1.3" fill="#7a3448"/><ellipse cx="208.2" cy="488.6" rx="1.2" ry="1.0" fill="#904060"/><ellipse cx="211.9" cy="510.7" rx="1.1" ry="1.2" fill="#a85068"/><ellipse cx="189.4" cy="503.1" rx="1.4" ry="1.6" fill="#9c4458"/><ellipse cx="220.9" cy="491.6" rx="1.4" ry="1.1" fill="#8a3a50"/><ellipse cx="208.1" cy="498.5" rx="0.9" ry="0.8" fill="#7a3448"/><ellipse cx="186.5" cy="482.0" rx="1.4" ry="1.6" fill="#7a3448"/><ellipse cx="213.5" cy="464.9" rx="0.8" ry="0.9" fill="#9c4458"/><ellipse cx="208.0" cy="471.3" rx="0.9" ry="1.0" fill="#a85068"/><ellipse cx="204.2" cy="502.6" rx="0.9" ry="0.9" fill="#904060"/><ellipse cx="194.8" cy="479.9" rx="1.4" ry="1.5" fill="#8a3a50"/><ellipse cx="204.7" cy="515.6" rx="0.9" ry="0.9" fill="#9c4458"/><ellipse cx="206.7" cy="496.4" rx="0.7" ry="0.7" fill="#8a3a50"/><ellipse cx="223.4" cy="485.8" rx="1.2" ry="1.4" fill="#8a3a50"/><ellipse cx="209.1" cy="510.3" rx="1.0" ry="0.8" fill="#904060"/><ellipse cx="214.9" cy="505.6" rx="1.6" ry="1.1" fill="#9c4458"/><ellipse cx="199.4" cy="451.1" rx="0.9" ry="1.3" fill="#9c4458"/><ellipse cx="209.7" cy="474.8" rx="1.0" ry="1.2" fill="#8a3a50"/><ellipse cx="213.1" cy="453.3" rx="1.0" ry="1.2" fill="#9c4458"/><ellipse cx="203.7" cy="476.7" rx="1.2" ry="1.2" fill="#a85068"/><ellipse cx="188.3" cy="497.4" rx="0.8" ry="1.0" fill="#9c4458"/><ellipse cx="201.6" cy="490.5" rx="1.2" ry="1.2" fill="#9c4458"/><ellipse cx="190.5" cy="474.1" rx="1.3" ry="1.1" fill="#8a3a50"/><ellipse cx="196.8" cy="460.5" rx="1.5" ry="1.1" fill="#9c4458"/><ellipse cx="205.8" cy="472.0" rx="0.7" ry="0.7" fill="#8a3a50"/><ellipse cx="194.5" cy="475.4" rx="0.9" ry="0.6" fill="#7a3448"/><ellipse cx="205.9" cy="474.2" rx="1.0" ry="0.7" fill="#904060"/><ellipse cx="199.5" cy="460.7" rx="1.0" ry="1.1" fill="#9c4458"/><ellipse cx="195.4" cy="514.4" rx="1.4" ry="1.3" fill="#9c4458"/><ellipse cx="186.8" cy="489.7" rx="1.4" ry="1.2" fill="#8a3a50"/><ellipse cx="214.3" cy="492.0" rx="0.8" ry="0.9" fill="#7a3448"/><ellipse cx="202.4" cy="451.3" rx="1.3" ry="1.5" fill="#8a3a50"/><ellipse cx="197.6" cy="445.2" rx="1.1" ry="1.7" fill="#a85068"/><ellipse cx="215.5" cy="506.7" rx="1.3" ry="1.4" fill="#a85068"/><ellipse cx="205.3" cy="497.9" rx="1.1" ry="1.1" fill="#7a3448"/><ellipse cx="217.0" cy="463.6" rx="1.6" ry="1.6" fill="#7a3448"/><ellipse cx="184.4" cy="507.7" rx="1.4" ry="1.3" fill="#7a3448"/><ellipse cx="223.8" cy="486.0" rx="1.4" ry="1.4" fill="#7a3448"/><ellipse cx="205.9" cy="495.1" rx="0.8" ry="0.9" fill="#8a3a50"/><ellipse cx="190.9" cy="499.8" rx="1.0" ry="1.1" fill="#8a3a50"/><ellipse cx="196.6" cy="498.7" rx="1.2" ry="0.9" fill="#8a3a50"/><ellipse cx="198.0" cy="465.7" rx="1.3" ry="1.3" fill="#904060"/><ellipse cx="213.9" cy="497.3" rx="0.7" ry="1.0" fill="#a85068"/><ellipse cx="182.7" cy="508.2" rx="0.8" ry="1.0" fill="#9c4458"/><ellipse cx="209.1" cy="475.5" rx="0.7" ry="0.8" fill="#8a3a50"/><ellipse cx="217.2" cy="457.7" rx="1.1" ry="0.8" fill="#7a3448"/><ellipse cx="189.3" cy="501.4" rx="0.8" ry="1.1" fill="#7a3448"/><ellipse cx="202.8" cy="506.8" rx="1.1" ry="0.9" fill="#8a3a50"/><ellipse cx="213.7" cy="470.2" rx="1.0" ry="1.0" fill="#8a3a50"/><ellipse cx="196.7" cy="498.1" rx="1.2" ry="1.4" fill="#a85068"/><ellipse cx="208.4" cy="461.5" rx="1.0" ry="1.0" fill="#8a3a50"/><ellipse cx="200.9" cy="465.8" rx="1.2" ry="1.0" fill="#7a3448"/><ellipse cx="197.2" cy="487.2" rx="1.2" ry="1.2" fill="#7a3448"/><ellipse cx="190.6" cy="491.6" rx="0.7" ry="0.8" fill="#904060"/><ellipse cx="222.8" cy="478.2" rx="1.5" ry="1.1" fill="#9c4458"/><ellipse cx="220.8" cy="461.9" rx="0.8" ry="1.0" fill="#8a3a50"/><ellipse cx="191.6" cy="516.0" rx="1.1" ry="1.2" fill="#8a3a50"/><ellipse cx="197.1" cy="464.5" rx="1.1" ry="0.9" fill="#9c4458"/><ellipse cx="202.1" cy="508.0" rx="1.2" ry="1.2" fill="#904060"/><ellipse cx="188.1" cy="481.2" rx="0.9" ry="0.9" fill="#904060"/><ellipse cx="200.4" cy="448.0" rx="1.1" ry="1.0" fill="#8a3a50"/><ellipse cx="184.0" cy="512.4" rx="1.4" ry="1.1" fill="#9c4458"/><ellipse cx="190.0" cy="497.8" rx="1.3" ry="1.3" fill="#a85068"/><ellipse cx="219.4" cy="467.5" rx="1.5" ry="1.5" fill="#7a3448"/><ellipse cx="215.3" cy="500.9" rx="1.4" ry="1.5" fill="#a85068"/></g>
<ellipse cx="218" cy="455" rx="4" ry="5" fill="#5a4e88" opacity="0.75" filter="url(#b1)"/>
<path d="M223,486 C221,497 219,505 217,513" stroke="#3e4870" stroke-width="1.6" fill="none" opacity="0.75"/>
<rect x="227.5" y="500.5" width="17" height="16" fill="#f8f2f2"/>
<text x="228.2" y="511.7" font-size="10" font-weight="bold" fill="#000">DA</text>
</g>
<g clip-path="url(#cfl1)">
<rect x="172.4" y="527.8" width="71.8" height="70.5" fill="#f6e8ea"/>
<g opacity="1.0"><ellipse cx="203.5" cy="528.8" rx="2.0" ry="1.8" fill="#b03454"/><ellipse cx="206.7" cy="595.1" rx="2.6" ry="2.7" fill="#c44866"/><ellipse cx="237.6" cy="558.7" rx="1.8" ry="1.2" fill="#b83a58"/><ellipse cx="194.3" cy="548.5" rx="1.4" ry="1.9" fill="#b03454"/><ellipse cx="173.2" cy="577.0" rx="2.4" ry="2.6" fill="#cc5870"/><ellipse cx="201.9" cy="531.7" rx="2.3" ry="2.3" fill="#cc5870"/><ellipse cx="209.5" cy="576.3" rx="2.0" ry="1.9" fill="#a83050"/><ellipse cx="223.7" cy="586.4" rx="1.4" ry="1.4" fill="#a83050"/><ellipse cx="220.0" cy="572.1" rx="1.6" ry="1.7" fill="#c44866"/><ellipse cx="171.5" cy="557.6" rx="2.4" ry="2.0" fill="#cc5870"/><ellipse cx="201.3" cy="543.3" rx="2.5" ry="2.5" fill="#a83050"/><ellipse cx="233.1" cy="530.3" rx="2.1" ry="1.6" fill="#b03454"/><ellipse cx="214.9" cy="556.6" rx="1.5" ry="1.7" fill="#cc5870"/><ellipse cx="172.7" cy="538.1" rx="1.3" ry="1.3" fill="#c44866"/><ellipse cx="198.7" cy="554.6" rx="2.1" ry="2.6" fill="#c44866"/><ellipse cx="197.2" cy="582.7" rx="1.8" ry="2.3" fill="#b83a58"/><ellipse cx="221.0" cy="545.2" rx="1.9" ry="2.0" fill="#a83050"/><ellipse cx="232.9" cy="576.4" rx="1.3" ry="1.4" fill="#c44866"/><ellipse cx="236.0" cy="570.7" rx="2.1" ry="1.9" fill="#cc5870"/><ellipse cx="226.6" cy="563.1" rx="3.0" ry="2.9" fill="#9c2c48"/><ellipse cx="235.0" cy="588.2" rx="2.3" ry="2.6" fill="#c44866"/><ellipse cx="228.8" cy="541.3" rx="1.9" ry="2.2" fill="#a83050"/><ellipse cx="189.8" cy="547.7" rx="2.8" ry="2.4" fill="#c44866"/><ellipse cx="179.6" cy="553.5" rx="1.2" ry="1.7" fill="#cc5870"/><ellipse cx="200.5" cy="550.9" rx="1.3" ry="1.7" fill="#a83050"/><ellipse cx="209.2" cy="556.3" rx="2.0" ry="1.8" fill="#cc5870"/><ellipse cx="170.0" cy="541.1" rx="1.7" ry="2.3" fill="#9c2c48"/><ellipse cx="210.7" cy="573.6" rx="2.2" ry="1.8" fill="#a83050"/><ellipse cx="225.5" cy="540.6" rx="1.5" ry="1.5" fill="#9c2c48"/><ellipse cx="210.5" cy="563.4" rx="2.0" ry="1.9" fill="#a83050"/><ellipse cx="213.7" cy="574.0" rx="1.7" ry="2.1" fill="#cc5870"/><ellipse cx="217.7" cy="573.4" rx="2.0" ry="2.1" fill="#c44866"/><ellipse cx="224.1" cy="527.9" rx="2.2" ry="2.1" fill="#cc5870"/><ellipse cx="192.1" cy="538.2" rx="2.0" ry="2.3" fill="#a83050"/><ellipse cx="230.8" cy="566.2" rx="2.0" ry="2.3" fill="#cc5870"/><ellipse cx="227.2" cy="583.2" rx="2.3" ry="2.7" fill="#cc5870"/><ellipse cx="202.0" cy="577.3" rx="1.9" ry="1.8" fill="#b03454"/><ellipse cx="189.5" cy="558.8" rx="1.2" ry="1.5" fill="#b03454"/><ellipse cx="225.2" cy="556.9" rx="1.4" ry="1.4" fill="#9c2c48"/><ellipse cx="191.3" cy="567.9" rx="1.9" ry="2.4" fill="#b03454"/><ellipse cx="183.2" cy="555.4" rx="2.0" ry="2.6" fill="#b83a58"/><ellipse cx="240.0" cy="591.2" rx="1.3" ry="1.3" fill="#9c2c48"/><ellipse cx="216.9" cy="551.6" rx="1.8" ry="1.5" fill="#9c2c48"/><ellipse cx="242.7" cy="539.2" rx="1.9" ry="2.0" fill="#b03454"/><ellipse cx="208.3" cy="548.3" rx="1.4" ry="1.7" fill="#cc5870"/><ellipse cx="221.7" cy="543.4" rx="2.6" ry="3.0" fill="#a83050"/><ellipse cx="208.2" cy="541.2" rx="1.9" ry="1.6" fill="#b03454"/><ellipse cx="205.6" cy="586.8" rx="2.3" ry="1.9" fill="#a83050"/><ellipse cx="241.1" cy="533.8" rx="1.8" ry="2.0" fill="#b83a58"/><ellipse cx="187.6" cy="587.7" rx="2.5" ry="2.1" fill="#b83a58"/><ellipse cx="199.6" cy="542.3" rx="1.7" ry="1.9" fill="#c44866"/><ellipse cx="199.0" cy="548.6" rx="1.6" ry="1.8" fill="#cc5870"/><ellipse cx="179.0" cy="594.3" rx="1.6" ry="1.4" fill="#b83a58"/><ellipse cx="241.7" cy="534.7" rx="2.1" ry="1.5" fill="#cc5870"/><ellipse cx="220.3" cy="569.3" rx="2.7" ry="2.1" fill="#b83a58"/><ellipse cx="202.8" cy="535.8" rx="2.0" ry="2.4" fill="#b03454"/><ellipse cx="233.1" cy="595.7" rx="1.4" ry="1.8" fill="#a83050"/><ellipse cx="207.6" cy="590.3" rx="1.8" ry="1.3" fill="#cc5870"/><ellipse cx="172.4" cy="582.6" rx="1.7" ry="1.9" fill="#c44866"/><ellipse cx="209.2" cy="534.3" rx="2.9" ry="2.2" fill="#b83a58"/><ellipse cx="229.0" cy="528.9" rx="2.4" ry="2.4" fill="#a83050"/><ellipse cx="202.2" cy="533.6" rx="2.4" ry="2.1" fill="#c44866"/><ellipse cx="185.1" cy="543.6" rx="1.6" ry="1.5" fill="#cc5870"/><ellipse cx="210.6" cy="581.2" rx="1.8" ry="1.4" fill="#cc5870"/><ellipse cx="218.3" cy="528.8" rx="1.8" ry="2.1" fill="#9c2c48"/><ellipse cx="180.6" cy="552.1" rx="1.9" ry="2.3" fill="#b83a58"/><ellipse cx="226.2" cy="552.2" rx="2.0" ry="2.8" fill="#c44866"/><ellipse cx="225.9" cy="548.1" rx="2.6" ry="2.3" fill="#9c2c48"/><ellipse cx="222.4" cy="568.5" rx="1.5" ry="1.9" fill="#9c2c48"/><ellipse cx="218.4" cy="546.3" rx="2.4" ry="1.9" fill="#b03454"/><ellipse cx="223.5" cy="591.0" rx="1.7" ry="1.8" fill="#b83a58"/><ellipse cx="186.5" cy="547.1" rx="2.3" ry="2.7" fill="#a83050"/><ellipse cx="215.4" cy="581.2" rx="2.2" ry="2.0" fill="#a83050"/><ellipse cx="192.9" cy="548.2" rx="2.7" ry="2.2" fill="#b03454"/><ellipse cx="243.1" cy="526.3" rx="2.3" ry="1.9" fill="#b83a58"/><ellipse cx="233.0" cy="545.2" rx="2.8" ry="2.3" fill="#9c2c48"/><ellipse cx="212.3" cy="529.7" rx="2.2" ry="1.7" fill="#a83050"/><ellipse cx="236.6" cy="592.3" rx="2.2" ry="1.8" fill="#a83050"/><ellipse cx="220.5" cy="533.0" rx="2.8" ry="2.6" fill="#a83050"/><ellipse cx="228.0" cy="547.3" rx="1.7" ry="1.2" fill="#cc5870"/><ellipse cx="174.3" cy="591.3" rx="2.5" ry="2.5" fill="#a83050"/><ellipse cx="209.0" cy="534.9" rx="2.2" ry="2.3" fill="#a83050"/><ellipse cx="189.5" cy="568.2" rx="2.1" ry="2.4" fill="#b83a58"/><ellipse cx="240.3" cy="556.2" rx="2.0" ry="1.9" fill="#9c2c48"/><ellipse cx="229.1" cy="570.7" rx="1.6" ry="1.6" fill="#b03454"/><ellipse cx="225.7" cy="600.0" rx="1.8" ry="1.8" fill="#b03454"/><ellipse cx="224.6" cy="582.1" rx="1.5" ry="1.9" fill="#b83a58"/><ellipse cx="242.7" cy="567.7" rx="2.2" ry="2.6" fill="#b03454"/><ellipse cx="186.3" cy="585.6" rx="1.4" ry="1.7" fill="#cc5870"/><ellipse cx="170.8" cy="593.0" rx="2.0" ry="2.5" fill="#b03454"/><ellipse cx="210.7" cy="540.6" rx="1.6" ry="1.3" fill="#c44866"/><ellipse cx="188.7" cy="580.1" rx="1.8" ry="1.5" fill="#cc5870"/><ellipse cx="237.3" cy="569.5" rx="2.4" ry="2.0" fill="#9c2c48"/><ellipse cx="233.0" cy="587.1" rx="1.3" ry="1.7" fill="#9c2c48"/><ellipse cx="182.6" cy="534.5" rx="1.7" ry="2.5" fill="#9c2c48"/><ellipse cx="244.5" cy="576.6" rx="1.4" ry="1.6" fill="#b03454"/><ellipse cx="205.1" cy="540.9" rx="1.5" ry="1.6" fill="#9c2c48"/><ellipse cx="227.0" cy="566.9" rx="2.3" ry="2.7" fill="#b03454"/><ellipse cx="232.0" cy="557.4" rx="1.8" ry="1.7" fill="#b83a58"/><ellipse cx="231.9" cy="598.9" rx="1.2" ry="1.8" fill="#b03454"/><ellipse cx="177.2" cy="587.4" rx="1.6" ry="1.7" fill="#c44866"/><ellipse cx="226.9" cy="576.0" rx="2.6" ry="2.9" fill="#9c2c48"/><ellipse cx="189.2" cy="582.9" rx="2.0" ry="2.2" fill="#9c2c48"/><ellipse cx="225.8" cy="589.4" rx="2.0" ry="1.6" fill="#a83050"/><ellipse cx="231.8" cy="565.5" rx="1.6" ry="2.1" fill="#b03454"/><ellipse cx="182.6" cy="562.6" rx="2.8" ry="2.7" fill="#9c2c48"/><ellipse cx="206.0" cy="581.4" rx="1.2" ry="1.4" fill="#b03454"/><ellipse cx="222.9" cy="563.5" rx="1.9" ry="1.7" fill="#b83a58"/><ellipse cx="179.1" cy="564.7" rx="2.7" ry="1.9" fill="#c44866"/><ellipse cx="226.0" cy="550.0" rx="2.2" ry="2.2" fill="#a83050"/><ellipse cx="220.0" cy="578.5" rx="2.7" ry="2.7" fill="#b83a58"/><ellipse cx="222.2" cy="593.6" rx="1.4" ry="1.9" fill="#c44866"/><ellipse cx="231.6" cy="594.9" rx="2.6" ry="2.2" fill="#b03454"/><ellipse cx="174.9" cy="561.0" rx="1.8" ry="1.8" fill="#cc5870"/><ellipse cx="171.8" cy="559.2" rx="2.1" ry="2.0" fill="#cc5870"/><ellipse cx="241.3" cy="590.3" rx="2.2" ry="1.5" fill="#a83050"/><ellipse cx="229.7" cy="591.2" rx="2.6" ry="2.0" fill="#b03454"/><ellipse cx="241.6" cy="538.4" rx="2.4" ry="2.6" fill="#a83050"/><ellipse cx="219.4" cy="534.8" rx="1.9" ry="1.7" fill="#cc5870"/><ellipse cx="173.6" cy="546.9" rx="2.1" ry="1.5" fill="#a83050"/><ellipse cx="186.1" cy="553.6" rx="2.1" ry="1.8" fill="#c44866"/><ellipse cx="186.2" cy="569.1" rx="2.2" ry="2.4" fill="#b03454"/><ellipse cx="241.4" cy="580.5" rx="1.8" ry="1.6" fill="#a83050"/><ellipse cx="218.7" cy="547.0" rx="2.2" ry="1.9" fill="#b03454"/><ellipse cx="242.1" cy="580.8" rx="2.5" ry="1.9" fill="#9c2c48"/><ellipse cx="212.8" cy="554.8" rx="2.2" ry="2.4" fill="#9c2c48"/><ellipse cx="212.6" cy="566.7" rx="2.7" ry="2.1" fill="#c44866"/><ellipse cx="210.8" cy="591.7" rx="2.9" ry="2.0" fill="#b03454"/><ellipse cx="195.3" cy="548.0" rx="1.8" ry="1.8" fill="#b83a58"/><ellipse cx="201.4" cy="531.1" rx="1.6" ry="1.4" fill="#b03454"/><ellipse cx="204.1" cy="552.9" rx="2.2" ry="1.7" fill="#c44866"/><ellipse cx="188.6" cy="566.7" rx="2.3" ry="2.3" fill="#c44866"/><ellipse cx="222.5" cy="553.2" rx="1.8" ry="1.2" fill="#cc5870"/><ellipse cx="182.4" cy="536.9" rx="2.2" ry="1.9" fill="#cc5870"/><ellipse cx="192.8" cy="543.1" rx="1.9" ry="1.9" fill="#b03454"/><ellipse cx="186.6" cy="598.0" rx="1.3" ry="1.3" fill="#c44866"/><ellipse cx="192.5" cy="537.1" rx="2.1" ry="1.9" fill="#a83050"/><ellipse cx="181.8" cy="571.9" rx="2.1" ry="2.5" fill="#b03454"/><ellipse cx="213.1" cy="548.4" rx="2.4" ry="2.5" fill="#9c2c48"/><ellipse cx="184.9" cy="571.9" rx="2.3" ry="2.1" fill="#b03454"/><ellipse cx="221.9" cy="585.2" rx="1.5" ry="1.4" fill="#c44866"/><ellipse cx="211.0" cy="590.8" rx="1.6" ry="2.1" fill="#c44866"/><ellipse cx="184.4" cy="587.2" rx="1.6" ry="1.8" fill="#a83050"/><ellipse cx="222.0" cy="579.1" rx="1.6" ry="1.4" fill="#b03454"/><ellipse cx="223.0" cy="561.2" rx="2.1" ry="2.5" fill="#b83a58"/><ellipse cx="240.6" cy="540.7" rx="2.2" ry="1.7" fill="#cc5870"/><ellipse cx="190.0" cy="533.8" rx="1.7" ry="1.7" fill="#c44866"/><ellipse cx="192.6" cy="592.1" rx="2.1" ry="2.1" fill="#9c2c48"/><ellipse cx="211.6" cy="568.2" rx="1.8" ry="1.5" fill="#c44866"/><ellipse cx="189.4" cy="595.1" rx="1.9" ry="2.8" fill="#a83050"/><ellipse cx="210.8" cy="527.4" rx="2.2" ry="1.5" fill="#b03454"/><ellipse cx="183.6" cy="589.7" rx="2.0" ry="2.8" fill="#b83a58"/><ellipse cx="211.5" cy="535.7" rx="2.7" ry="2.7" fill="#b83a58"/><ellipse cx="202.9" cy="583.7" rx="1.7" ry="1.7" fill="#cc5870"/><ellipse cx="190.5" cy="594.7" rx="1.9" ry="2.8" fill="#b83a58"/><ellipse cx="216.6" cy="547.9" rx="2.1" ry="2.4" fill="#cc5870"/><ellipse cx="173.5" cy="549.7" rx="2.4" ry="2.1" fill="#b03454"/><ellipse cx="207.7" cy="582.3" rx="2.2" ry="1.9" fill="#cc5870"/><ellipse cx="244.8" cy="581.5" rx="1.6" ry="1.8" fill="#9c2c48"/><ellipse cx="182.4" cy="552.6" rx="2.1" ry="2.2" fill="#a83050"/><ellipse cx="170.6" cy="595.2" rx="2.7" ry="2.8" fill="#cc5870"/><ellipse cx="204.9" cy="567.8" rx="1.8" ry="2.0" fill="#c44866"/><ellipse cx="234.3" cy="526.2" rx="2.5" ry="2.0" fill="#a83050"/><ellipse cx="199.0" cy="599.1" rx="2.4" ry="1.8" fill="#cc5870"/><ellipse cx="183.2" cy="560.9" rx="1.6" ry="2.0" fill="#c44866"/><ellipse cx="171.3" cy="577.7" rx="2.7" ry="2.9" fill="#b83a58"/><ellipse cx="235.5" cy="588.6" rx="2.7" ry="2.3" fill="#c44866"/><ellipse cx="187.5" cy="599.4" rx="2.5" ry="1.8" fill="#b03454"/><ellipse cx="189.5" cy="529.9" rx="1.5" ry="1.3" fill="#cc5870"/><ellipse cx="186.0" cy="583.8" rx="1.3" ry="1.9" fill="#c44866"/><ellipse cx="211.8" cy="599.2" rx="1.7" ry="2.0" fill="#b83a58"/><ellipse cx="202.6" cy="543.1" rx="2.2" ry="2.1" fill="#b83a58"/><ellipse cx="195.0" cy="548.2" rx="1.6" ry="1.6" fill="#a83050"/><ellipse cx="202.6" cy="583.0" rx="1.5" ry="1.5" fill="#9c2c48"/><ellipse cx="234.5" cy="597.7" rx="2.2" ry="2.1" fill="#b83a58"/><ellipse cx="170.4" cy="539.9" rx="2.0" ry="1.7" fill="#a83050"/><ellipse cx="244.9" cy="541.7" rx="1.5" ry="1.6" fill="#b03454"/><ellipse cx="223.4" cy="547.6" rx="2.1" ry="2.3" fill="#b03454"/><ellipse cx="178.8" cy="575.5" rx="2.5" ry="2.3" fill="#b83a58"/><ellipse cx="216.2" cy="566.9" rx="2.3" ry="1.8" fill="#b03454"/><ellipse cx="217.3" cy="537.0" rx="2.5" ry="2.5" fill="#cc5870"/><ellipse cx="244.2" cy="587.4" rx="2.4" ry="2.2" fill="#a83050"/><ellipse cx="178.3" cy="579.8" rx="2.9" ry="2.3" fill="#a83050"/><ellipse cx="185.9" cy="527.4" rx="1.4" ry="1.3" fill="#a83050"/><ellipse cx="232.0" cy="599.4" rx="2.8" ry="2.1" fill="#c44866"/><ellipse cx="178.5" cy="527.9" rx="1.7" ry="1.3" fill="#b83a58"/><ellipse cx="231.0" cy="582.7" rx="2.5" ry="1.7" fill="#b83a58"/><ellipse cx="209.1" cy="583.4" rx="2.0" ry="2.1" fill="#c44866"/><ellipse cx="180.3" cy="541.2" rx="1.8" ry="1.4" fill="#b03454"/><ellipse cx="185.4" cy="562.4" rx="2.1" ry="2.2" fill="#cc5870"/><ellipse cx="183.8" cy="557.6" rx="2.0" ry="2.6" fill="#b03454"/><ellipse cx="176.3" cy="588.2" rx="2.5" ry="2.5" fill="#c44866"/><ellipse cx="214.2" cy="580.5" rx="2.9" ry="2.2" fill="#c44866"/><ellipse cx="239.4" cy="552.8" rx="1.6" ry="2.0" fill="#c44866"/><ellipse cx="245.1" cy="555.6" rx="2.0" ry="2.4" fill="#b03454"/><ellipse cx="211.7" cy="573.6" rx="1.4" ry="1.7" fill="#c44866"/><ellipse cx="173.3" cy="582.2" rx="1.6" ry="1.4" fill="#a83050"/><ellipse cx="236.9" cy="555.0" rx="1.1" ry="1.1" fill="#cc5870"/><ellipse cx="212.5" cy="559.6" rx="1.7" ry="2.5" fill="#c44866"/><ellipse cx="204.9" cy="560.8" rx="1.6" ry="1.6" fill="#c44866"/><ellipse cx="173.2" cy="579.7" rx="2.0" ry="1.9" fill="#9c2c48"/><ellipse cx="239.2" cy="558.4" rx="1.9" ry="2.1" fill="#c44866"/><ellipse cx="199.6" cy="548.9" rx="1.7" ry="1.7" fill="#cc5870"/><ellipse cx="223.5" cy="568.2" rx="2.7" ry="1.9" fill="#b83a58"/><ellipse cx="231.5" cy="540.7" rx="2.0" ry="2.0" fill="#cc5870"/><ellipse cx="174.2" cy="573.9" rx="2.4" ry="2.8" fill="#9c2c48"/><ellipse cx="207.7" cy="547.4" rx="1.8" ry="1.8" fill="#cc5870"/><ellipse cx="173.5" cy="543.9" rx="2.1" ry="2.0" fill="#cc5870"/><ellipse cx="188.6" cy="535.7" rx="1.5" ry="1.7" fill="#a83050"/><ellipse cx="227.0" cy="531.1" rx="1.6" ry="1.8" fill="#a83050"/><ellipse cx="236.3" cy="592.1" rx="2.2" ry="1.9" fill="#a83050"/><ellipse cx="179.8" cy="539.8" rx="1.9" ry="1.9" fill="#b03454"/><ellipse cx="196.4" cy="538.8" rx="2.2" ry="2.6" fill="#b83a58"/><ellipse cx="205.9" cy="596.0" rx="2.1" ry="2.9" fill="#a83050"/><ellipse cx="183.0" cy="577.3" rx="2.1" ry="2.0" fill="#b83a58"/><ellipse cx="220.5" cy="575.2" rx="2.1" ry="2.5" fill="#9c2c48"/><ellipse cx="198.3" cy="583.3" rx="2.1" ry="1.6" fill="#a83050"/><ellipse cx="240.4" cy="597.7" rx="1.9" ry="2.0" fill="#c44866"/><ellipse cx="194.2" cy="546.1" rx="2.9" ry="2.8" fill="#a83050"/><ellipse cx="173.4" cy="528.2" rx="2.9" ry="2.3" fill="#cc5870"/><ellipse cx="201.9" cy="566.5" rx="2.0" ry="2.0" fill="#cc5870"/><ellipse cx="208.2" cy="572.9" rx="1.7" ry="1.4" fill="#b83a58"/><ellipse cx="183.6" cy="564.1" rx="2.0" ry="2.4" fill="#9c2c48"/><ellipse cx="209.5" cy="552.0" rx="1.8" ry="2.2" fill="#9c2c48"/><ellipse cx="190.6" cy="542.9" rx="2.0" ry="2.1" fill="#9c2c48"/><ellipse cx="201.5" cy="530.5" rx="1.2" ry="1.2" fill="#9c2c48"/><ellipse cx="209.9" cy="541.9" rx="1.6" ry="1.6" fill="#c44866"/><ellipse cx="240.0" cy="597.8" rx="1.8" ry="1.7" fill="#b03454"/><ellipse cx="229.1" cy="567.0" rx="1.6" ry="2.1" fill="#b83a58"/><ellipse cx="229.8" cy="563.1" rx="1.7" ry="2.1" fill="#b03454"/><ellipse cx="233.8" cy="550.2" rx="2.2" ry="1.6" fill="#cc5870"/><ellipse cx="194.5" cy="569.1" rx="2.1" ry="2.4" fill="#a83050"/><ellipse cx="206.5" cy="569.2" rx="2.4" ry="2.8" fill="#b03454"/><ellipse cx="199.7" cy="574.1" rx="1.3" ry="1.4" fill="#c44866"/><ellipse cx="180.3" cy="554.7" rx="2.0" ry="1.9" fill="#b83a58"/><ellipse cx="189.2" cy="599.0" rx="1.7" ry="2.3" fill="#b83a58"/><ellipse cx="193.3" cy="599.0" rx="2.3" ry="1.9" fill="#b83a58"/><ellipse cx="191.8" cy="566.5" rx="2.0" ry="2.6" fill="#cc5870"/><ellipse cx="235.7" cy="527.3" rx="1.7" ry="2.1" fill="#9c2c48"/><ellipse cx="244.4" cy="586.2" rx="1.3" ry="1.6" fill="#a83050"/><ellipse cx="201.5" cy="550.9" rx="2.4" ry="2.6" fill="#cc5870"/><ellipse cx="211.5" cy="585.1" rx="1.7" ry="1.4" fill="#cc5870"/><ellipse cx="204.1" cy="566.0" rx="2.6" ry="2.6" fill="#b03454"/><ellipse cx="224.6" cy="558.3" rx="2.5" ry="2.5" fill="#a83050"/><ellipse cx="215.7" cy="551.0" rx="2.0" ry="2.1" fill="#9c2c48"/><ellipse cx="196.1" cy="575.1" rx="1.6" ry="1.3" fill="#9c2c48"/><ellipse cx="170.0" cy="534.9" rx="1.4" ry="1.8" fill="#9c2c48"/><ellipse cx="202.2" cy="543.6" rx="1.5" ry="1.6" fill="#cc5870"/><ellipse cx="190.1" cy="535.7" rx="2.5" ry="1.9" fill="#b83a58"/><ellipse cx="242.6" cy="534.5" rx="1.6" ry="2.1" fill="#a83050"/><ellipse cx="214.1" cy="584.9" rx="2.4" ry="2.8" fill="#b03454"/><ellipse cx="182.7" cy="599.6" rx="1.5" ry="1.2" fill="#b03454"/><ellipse cx="198.9" cy="575.0" rx="2.0" ry="2.8" fill="#a83050"/><ellipse cx="195.2" cy="538.9" rx="2.4" ry="2.4" fill="#c44866"/><ellipse cx="174.1" cy="564.1" rx="1.3" ry="1.9" fill="#9c2c48"/><ellipse cx="219.0" cy="586.9" rx="2.1" ry="1.9" fill="#c44866"/><ellipse cx="209.5" cy="589.9" rx="2.0" ry="2.3" fill="#a83050"/><ellipse cx="209.6" cy="558.6" rx="1.5" ry="1.6" fill="#b83a58"/><ellipse cx="239.0" cy="528.9" rx="1.9" ry="2.0" fill="#b03454"/><ellipse cx="171.9" cy="575.5" rx="1.3" ry="1.7" fill="#a83050"/><ellipse cx="171.0" cy="565.8" rx="2.6" ry="2.4" fill="#a83050"/><ellipse cx="239.0" cy="540.3" rx="1.4" ry="1.8" fill="#a83050"/><ellipse cx="206.9" cy="547.5" rx="1.4" ry="1.9" fill="#cc5870"/><ellipse cx="177.3" cy="568.8" rx="2.4" ry="2.1" fill="#b03454"/><ellipse cx="216.3" cy="569.7" rx="1.9" ry="1.9" fill="#9c2c48"/><ellipse cx="243.3" cy="567.0" rx="1.9" ry="1.9" fill="#b83a58"/><ellipse cx="208.3" cy="560.9" rx="2.5" ry="2.5" fill="#9c2c48"/><ellipse cx="228.5" cy="558.9" rx="2.2" ry="2.3" fill="#b03454"/><ellipse cx="187.9" cy="528.4" rx="2.0" ry="2.1" fill="#b83a58"/><ellipse cx="189.4" cy="598.8" rx="1.7" ry="1.3" fill="#c44866"/><ellipse cx="220.1" cy="553.1" rx="1.8" ry="1.9" fill="#b03454"/><ellipse cx="234.2" cy="573.2" rx="2.3" ry="2.4" fill="#a83050"/><ellipse cx="182.7" cy="554.3" rx="2.9" ry="2.9" fill="#a83050"/><ellipse cx="182.0" cy="590.8" rx="2.7" ry="2.0" fill="#c44866"/><ellipse cx="241.6" cy="531.0" rx="2.8" ry="2.8" fill="#c44866"/><ellipse cx="225.2" cy="561.6" rx="1.4" ry="1.7" fill="#cc5870"/><ellipse cx="232.2" cy="591.4" rx="1.3" ry="1.3" fill="#cc5870"/><ellipse cx="216.5" cy="579.3" rx="2.0" ry="2.1" fill="#b03454"/><ellipse cx="241.5" cy="548.6" rx="1.9" ry="2.0" fill="#9c2c48"/><ellipse cx="237.5" cy="598.0" rx="1.9" ry="2.3" fill="#c44866"/><ellipse cx="217.0" cy="567.4" rx="1.7" ry="1.7" fill="#b83a58"/><ellipse cx="221.3" cy="562.4" rx="1.9" ry="1.9" fill="#a83050"/><ellipse cx="221.1" cy="599.1" rx="1.7" ry="2.2" fill="#b03454"/><ellipse cx="244.7" cy="595.2" rx="2.1" ry="2.4" fill="#b03454"/><ellipse cx="182.9" cy="535.9" rx="2.5" ry="2.6" fill="#b83a58"/><ellipse cx="202.3" cy="596.5" rx="1.7" ry="1.8" fill="#c44866"/><ellipse cx="230.6" cy="583.9" rx="1.8" ry="1.9" fill="#b03454"/><ellipse cx="239.3" cy="585.6" rx="2.4" ry="2.7" fill="#b83a58"/><ellipse cx="240.4" cy="585.3" rx="1.7" ry="1.8" fill="#9c2c48"/><ellipse cx="227.4" cy="536.4" rx="2.4" ry="1.8" fill="#c44866"/><ellipse cx="215.7" cy="554.5" rx="1.7" ry="2.1" fill="#b03454"/><ellipse cx="209.0" cy="572.7" rx="2.7" ry="2.2" fill="#9c2c48"/><ellipse cx="239.8" cy="597.7" rx="1.4" ry="1.7" fill="#b83a58"/><ellipse cx="190.5" cy="554.2" rx="1.9" ry="2.2" fill="#a83050"/><ellipse cx="199.4" cy="595.2" rx="2.1" ry="2.5" fill="#b03454"/><ellipse cx="218.4" cy="575.2" rx="2.1" ry="1.9" fill="#9c2c48"/><ellipse cx="174.9" cy="594.4" rx="1.6" ry="1.5" fill="#a83050"/><ellipse cx="208.8" cy="589.2" rx="1.4" ry="1.7" fill="#cc5870"/><ellipse cx="206.4" cy="563.0" rx="3.0" ry="2.0" fill="#cc5870"/><ellipse cx="205.5" cy="551.8" rx="1.5" ry="1.5" fill="#c44866"/><ellipse cx="205.3" cy="599.9" rx="1.7" ry="1.5" fill="#b83a58"/><ellipse cx="196.2" cy="589.5" rx="1.5" ry="1.3" fill="#c44866"/><ellipse cx="194.4" cy="548.5" rx="1.9" ry="1.4" fill="#b83a58"/><ellipse cx="232.7" cy="544.0" rx="1.3" ry="1.9" fill="#b03454"/><ellipse cx="184.4" cy="531.7" rx="2.2" ry="1.8" fill="#a83050"/><ellipse cx="214.1" cy="531.4" rx="2.2" ry="2.8" fill="#b83a58"/><ellipse cx="182.2" cy="561.7" rx="2.0" ry="1.5" fill="#9c2c48"/><ellipse cx="218.3" cy="561.4" rx="1.9" ry="1.6" fill="#b83a58"/><ellipse cx="208.9" cy="574.8" rx="1.5" ry="1.6" fill="#c44866"/><ellipse cx="216.6" cy="546.0" rx="1.8" ry="1.4" fill="#a83050"/><ellipse cx="184.4" cy="529.9" rx="2.2" ry="2.1" fill="#b03454"/><ellipse cx="227.8" cy="546.1" rx="2.6" ry="2.0" fill="#a83050"/><ellipse cx="202.5" cy="586.3" rx="1.4" ry="1.7" fill="#b83a58"/><ellipse cx="220.0" cy="576.8" rx="2.3" ry="2.2" fill="#b03454"/><ellipse cx="216.7" cy="530.0" rx="2.5" ry="3.0" fill="#b03454"/><ellipse cx="205.5" cy="582.3" rx="1.8" ry="2.2" fill="#b83a58"/><ellipse cx="219.6" cy="598.0" rx="2.4" ry="2.6" fill="#a83050"/><ellipse cx="234.5" cy="569.2" rx="2.3" ry="2.2" fill="#9c2c48"/><ellipse cx="188.0" cy="590.6" rx="2.2" ry="2.3" fill="#cc5870"/><ellipse cx="193.6" cy="571.0" rx="1.2" ry="1.7" fill="#a83050"/><ellipse cx="235.2" cy="584.2" rx="1.8" ry="2.3" fill="#c44866"/><ellipse cx="246.0" cy="588.1" rx="1.4" ry="1.2" fill="#9c2c48"/><ellipse cx="220.7" cy="577.7" rx="1.7" ry="1.8" fill="#9c2c48"/><ellipse cx="216.0" cy="593.1" rx="2.0" ry="2.7" fill="#c44866"/><ellipse cx="184.6" cy="589.6" rx="2.0" ry="2.0" fill="#b83a58"/><ellipse cx="221.9" cy="564.2" rx="1.8" ry="1.8" fill="#b03454"/><ellipse cx="214.3" cy="532.0" rx="1.4" ry="1.6" fill="#c44866"/><ellipse cx="238.0" cy="570.0" rx="2.3" ry="1.9" fill="#c44866"/><ellipse cx="176.9" cy="586.2" rx="2.1" ry="1.8" fill="#9c2c48"/><ellipse cx="197.3" cy="546.8" rx="3.0" ry="2.9" fill="#cc5870"/><ellipse cx="215.6" cy="560.3" rx="1.3" ry="1.3" fill="#cc5870"/><ellipse cx="173.2" cy="552.2" rx="2.9" ry="2.8" fill="#a83050"/><ellipse cx="226.0" cy="533.0" rx="1.6" ry="2.3" fill="#a83050"/><ellipse cx="230.0" cy="584.8" rx="2.2" ry="1.9" fill="#b83a58"/><ellipse cx="238.6" cy="560.8" rx="1.7" ry="1.9" fill="#c44866"/><ellipse cx="238.2" cy="599.3" rx="2.2" ry="2.3" fill="#a83050"/><ellipse cx="191.6" cy="577.0" rx="2.4" ry="1.9" fill="#c44866"/><ellipse cx="236.8" cy="592.0" rx="2.4" ry="1.6" fill="#b83a58"/><ellipse cx="214.9" cy="596.6" rx="1.7" ry="2.0" fill="#a83050"/><ellipse cx="230.1" cy="575.5" rx="1.8" ry="1.6" fill="#b03454"/><ellipse cx="211.8" cy="559.1" rx="1.9" ry="1.8" fill="#a83050"/><ellipse cx="176.8" cy="573.3" rx="1.3" ry="1.3" fill="#cc5870"/><ellipse cx="229.5" cy="577.0" rx="1.7" ry="1.8" fill="#9c2c48"/><ellipse cx="224.7" cy="533.5" rx="2.5" ry="2.3" fill="#cc5870"/><ellipse cx="227.2" cy="587.7" rx="1.8" ry="2.6" fill="#a83050"/><ellipse cx="207.6" cy="558.2" rx="1.7" ry="2.3" fill="#b83a58"/><ellipse cx="217.2" cy="565.0" rx="2.2" ry="2.4" fill="#b03454"/><ellipse cx="229.7" cy="589.1" rx="2.1" ry="1.5" fill="#c44866"/><ellipse cx="177.1" cy="531.7" rx="2.1" ry="1.7" fill="#9c2c48"/><ellipse cx="203.1" cy="576.0" rx="2.8" ry="2.3" fill="#a83050"/><ellipse cx="181.8" cy="594.0" rx="2.8" ry="2.2" fill="#c44866"/><ellipse cx="206.3" cy="550.4" rx="2.3" ry="2.6" fill="#cc5870"/><ellipse cx="199.0" cy="544.9" rx="2.2" ry="2.7" fill="#c44866"/><ellipse cx="197.2" cy="589.6" rx="2.3" ry="2.6" fill="#b83a58"/><ellipse cx="230.5" cy="585.3" rx="1.8" ry="1.9" fill="#b83a58"/><ellipse cx="239.0" cy="543.9" rx="2.0" ry="2.0" fill="#9c2c48"/><ellipse cx="173.7" cy="565.8" rx="1.8" ry="1.4" fill="#b83a58"/><ellipse cx="218.0" cy="592.8" rx="1.4" ry="1.9" fill="#c44866"/><ellipse cx="204.0" cy="586.9" rx="2.1" ry="1.6" fill="#b03454"/><ellipse cx="193.4" cy="564.7" rx="2.2" ry="1.8" fill="#cc5870"/></g>
<ellipse cx="199.5" cy="566" rx="2" ry="2.4" fill="#23304a"/>
<rect x="232" y="585.5" width="12.5" height="13" fill="#f8f2f2"/>
<text x="232.8" y="594.4" font-size="10" font-weight="bold" fill="#000">FL</text>
</g>
<g clip-path="url(#cda2)">
<rect x="436.2" y="443.2" width="71" height="70.3" fill="#f6eef0"/>
<path d="M437,513.5 L508,458 L508,514 Z" fill="#e4bac2"/>
<g opacity="1.0"><ellipse cx="472.3" cy="507.5" rx="0.6" ry="0.6" fill="#d098a6"/><ellipse cx="504.1" cy="496.4" rx="0.8" ry="0.7" fill="#d098a6"/><ellipse cx="507.5" cy="474.9" rx="0.6" ry="0.7" fill="#cc92a0"/><ellipse cx="489.5" cy="481.6" rx="0.5" ry="0.5" fill="#c08090"/><ellipse cx="466.2" cy="512.7" rx="0.7" ry="0.6" fill="#d6a2ae"/><ellipse cx="450.4" cy="513.0" rx="0.7" ry="1.0" fill="#d6a2ae"/><ellipse cx="490.0" cy="502.7" rx="0.6" ry="0.5" fill="#c08090"/><ellipse cx="503.1" cy="511.3" rx="0.7" ry="0.8" fill="#c08090"/><ellipse cx="506.2" cy="512.1" rx="0.9" ry="0.8" fill="#d098a6"/><ellipse cx="490.9" cy="480.2" rx="0.9" ry="0.9" fill="#c08090"/><ellipse cx="490.2" cy="474.4" rx="0.9" ry="0.7" fill="#c08090"/><ellipse cx="505.9" cy="471.2" rx="0.7" ry="0.8" fill="#d6a2ae"/><ellipse cx="488.8" cy="498.1" rx="0.6" ry="0.5" fill="#c08090"/><ellipse cx="505.6" cy="486.7" rx="0.5" ry="0.6" fill="#c08090"/><ellipse cx="450.8" cy="509.1" rx="0.5" ry="0.6" fill="#d098a6"/><ellipse cx="477.6" cy="494.1" rx="0.9" ry="1.2" fill="#cc92a0"/><ellipse cx="472.4" cy="496.2" rx="0.7" ry="0.6" fill="#cc92a0"/><ellipse cx="474.5" cy="499.5" rx="0.5" ry="0.5" fill="#cc92a0"/><ellipse cx="485.3" cy="489.9" rx="0.9" ry="0.9" fill="#d6a2ae"/><ellipse cx="507.6" cy="501.2" rx="0.5" ry="0.5" fill="#cc92a0"/><ellipse cx="449.9" cy="508.8" rx="1.0" ry="0.8" fill="#c08090"/><ellipse cx="484.7" cy="512.8" rx="0.8" ry="0.9" fill="#d098a6"/><ellipse cx="457.3" cy="508.8" rx="0.8" ry="0.7" fill="#c08090"/><ellipse cx="499.1" cy="471.5" rx="0.8" ry="0.7" fill="#d098a6"/><ellipse cx="445.3" cy="513.5" rx="0.6" ry="0.7" fill="#c08090"/><ellipse cx="492.6" cy="503.9" rx="1.0" ry="1.0" fill="#d098a6"/><ellipse cx="500.0" cy="512.1" rx="1.0" ry="1.0" fill="#d6a2ae"/><ellipse cx="491.4" cy="486.8" rx="0.6" ry="0.8" fill="#cc92a0"/><ellipse cx="487.2" cy="492.6" rx="0.6" ry="0.5" fill="#c08090"/><ellipse cx="485.7" cy="505.8" rx="0.8" ry="0.8" fill="#c08090"/><ellipse cx="498.3" cy="496.3" rx="0.5" ry="0.5" fill="#c08090"/><ellipse cx="485.1" cy="512.1" rx="0.9" ry="1.0" fill="#cc92a0"/><ellipse cx="474.9" cy="491.3" rx="0.9" ry="0.9" fill="#d6a2ae"/><ellipse cx="470.8" cy="493.1" rx="0.8" ry="0.8" fill="#c08090"/><ellipse cx="460.7" cy="506.7" rx="0.6" ry="0.8" fill="#cc92a0"/><ellipse cx="484.5" cy="490.8" rx="1.0" ry="0.7" fill="#d6a2ae"/><ellipse cx="501.0" cy="491.7" rx="0.9" ry="1.0" fill="#c08090"/><ellipse cx="478.1" cy="499.4" rx="0.8" ry="1.0" fill="#d6a2ae"/><ellipse cx="459.3" cy="506.1" rx="0.6" ry="0.7" fill="#cc92a0"/><ellipse cx="471.3" cy="511.6" rx="0.6" ry="0.8" fill="#d6a2ae"/><ellipse cx="470.1" cy="507.8" rx="0.8" ry="1.0" fill="#cc92a0"/><ellipse cx="502.7" cy="508.1" rx="0.5" ry="0.5" fill="#c08090"/><ellipse cx="450.9" cy="509.1" rx="1.0" ry="0.9" fill="#d6a2ae"/><ellipse cx="488.1" cy="499.1" rx="0.7" ry="0.6" fill="#cc92a0"/><ellipse cx="477.8" cy="486.8" rx="0.5" ry="0.5" fill="#c08090"/><ellipse cx="483.8" cy="495.8" rx="0.6" ry="0.7" fill="#c08090"/><ellipse cx="478.5" cy="494.5" rx="0.5" ry="0.8" fill="#d6a2ae"/><ellipse cx="483.0" cy="507.1" rx="0.4" ry="0.5" fill="#c08090"/><ellipse cx="467.4" cy="500.0" rx="1.0" ry="0.7" fill="#d6a2ae"/><ellipse cx="483.4" cy="508.8" rx="0.6" ry="0.4" fill="#d6a2ae"/><ellipse cx="506.7" cy="470.3" rx="0.8" ry="0.7" fill="#d098a6"/><ellipse cx="476.3" cy="506.5" rx="0.8" ry="0.9" fill="#d098a6"/><ellipse cx="472.5" cy="500.4" rx="0.7" ry="0.8" fill="#cc92a0"/><ellipse cx="502.5" cy="483.6" rx="0.6" ry="0.5" fill="#d6a2ae"/><ellipse cx="457.1" cy="513.0" rx="0.7" ry="0.6" fill="#c08090"/><ellipse cx="480.8" cy="509.0" rx="0.9" ry="0.7" fill="#cc92a0"/><ellipse cx="485.0" cy="498.9" rx="1.0" ry="0.9" fill="#d6a2ae"/><ellipse cx="493.2" cy="508.4" rx="0.5" ry="0.6" fill="#d098a6"/><ellipse cx="483.4" cy="494.9" rx="0.7" ry="0.7" fill="#c08090"/><ellipse cx="465.2" cy="504.0" rx="0.7" ry="0.9" fill="#cc92a0"/><ellipse cx="478.4" cy="501.9" rx="0.8" ry="1.0" fill="#c08090"/><ellipse cx="490.2" cy="475.2" rx="0.9" ry="0.8" fill="#cc92a0"/><ellipse cx="466.5" cy="491.2" rx="0.7" ry="0.7" fill="#d6a2ae"/><ellipse cx="452.1" cy="507.9" rx="0.6" ry="0.5" fill="#cc92a0"/><ellipse cx="480.7" cy="494.4" rx="0.8" ry="0.7" fill="#c08090"/><ellipse cx="479.6" cy="486.3" rx="0.4" ry="0.5" fill="#d098a6"/><ellipse cx="501.7" cy="505.2" rx="0.9" ry="1.0" fill="#c08090"/><ellipse cx="493.7" cy="498.8" rx="0.8" ry="0.6" fill="#cc92a0"/><ellipse cx="481.5" cy="509.2" rx="0.5" ry="0.4" fill="#d098a6"/><ellipse cx="485.2" cy="475.8" rx="0.7" ry="0.6" fill="#cc92a0"/><ellipse cx="484.4" cy="486.7" rx="1.0" ry="0.9" fill="#cc92a0"/><ellipse cx="496.0" cy="501.8" rx="0.7" ry="0.7" fill="#c08090"/><ellipse cx="506.5" cy="473.0" rx="1.1" ry="1.0" fill="#d098a6"/><ellipse cx="455.3" cy="507.6" rx="0.7" ry="0.9" fill="#cc92a0"/><ellipse cx="489.5" cy="489.3" rx="0.8" ry="0.7" fill="#c08090"/><ellipse cx="500.0" cy="502.4" rx="0.7" ry="0.8" fill="#cc92a0"/><ellipse cx="494.1" cy="472.3" rx="0.8" ry="0.8" fill="#cc92a0"/><ellipse cx="460.2" cy="496.9" rx="0.7" ry="0.8" fill="#cc92a0"/><ellipse cx="490.1" cy="473.2" rx="0.7" ry="0.8" fill="#cc92a0"/><ellipse cx="497.8" cy="494.5" rx="0.9" ry="0.7" fill="#d6a2ae"/><ellipse cx="499.2" cy="478.3" rx="1.0" ry="1.1" fill="#d098a6"/><ellipse cx="480.1" cy="494.5" rx="0.6" ry="0.5" fill="#d6a2ae"/><ellipse cx="477.3" cy="505.6" rx="0.9" ry="0.8" fill="#d098a6"/><ellipse cx="483.7" cy="497.9" rx="1.0" ry="0.7" fill="#d6a2ae"/><ellipse cx="485.2" cy="496.4" rx="0.5" ry="0.5" fill="#d098a6"/><ellipse cx="482.7" cy="509.3" rx="0.9" ry="1.0" fill="#d098a6"/><ellipse cx="460.6" cy="502.9" rx="0.6" ry="0.5" fill="#d6a2ae"/><ellipse cx="476.2" cy="506.0" rx="0.5" ry="0.7" fill="#c08090"/><ellipse cx="476.5" cy="511.2" rx="0.8" ry="0.7" fill="#cc92a0"/><ellipse cx="504.2" cy="485.3" rx="1.0" ry="0.9" fill="#c08090"/><ellipse cx="480.5" cy="512.8" rx="0.9" ry="0.8" fill="#d098a6"/><ellipse cx="494.6" cy="477.5" rx="0.5" ry="0.5" fill="#d098a6"/><ellipse cx="507.6" cy="491.1" rx="0.6" ry="0.5" fill="#d098a6"/><ellipse cx="501.7" cy="512.7" rx="0.7" ry="0.5" fill="#d6a2ae"/><ellipse cx="502.6" cy="469.8" rx="0.4" ry="0.5" fill="#d6a2ae"/><ellipse cx="502.0" cy="479.5" rx="0.7" ry="0.8" fill="#d6a2ae"/><ellipse cx="454.8" cy="506.7" rx="0.6" ry="0.5" fill="#d098a6"/><ellipse cx="499.2" cy="503.5" rx="0.8" ry="1.0" fill="#d6a2ae"/><ellipse cx="496.1" cy="471.6" rx="0.8" ry="0.8" fill="#d6a2ae"/><ellipse cx="505.1" cy="513.5" rx="0.9" ry="0.8" fill="#d098a6"/><ellipse cx="489.2" cy="511.3" rx="0.6" ry="0.6" fill="#d6a2ae"/><ellipse cx="503.7" cy="462.7" rx="0.5" ry="0.6" fill="#c08090"/><ellipse cx="487.8" cy="505.1" rx="0.5" ry="0.6" fill="#cc92a0"/><ellipse cx="449.3" cy="509.5" rx="0.5" ry="0.6" fill="#d6a2ae"/><ellipse cx="472.4" cy="489.1" rx="0.5" ry="0.4" fill="#cc92a0"/><ellipse cx="479.8" cy="484.6" rx="0.7" ry="0.9" fill="#d098a6"/><ellipse cx="504.6" cy="493.3" rx="0.5" ry="0.5" fill="#d098a6"/><ellipse cx="472.7" cy="499.1" rx="0.8" ry="0.6" fill="#c08090"/><ellipse cx="468.3" cy="510.9" rx="0.8" ry="0.8" fill="#d098a6"/><ellipse cx="465.3" cy="511.5" rx="0.6" ry="0.7" fill="#d6a2ae"/><ellipse cx="498.8" cy="513.2" rx="0.6" ry="0.9" fill="#cc92a0"/><ellipse cx="498.0" cy="480.1" rx="0.6" ry="0.8" fill="#d6a2ae"/><ellipse cx="471.7" cy="504.6" rx="0.9" ry="0.6" fill="#cc92a0"/><ellipse cx="461.9" cy="501.2" rx="0.7" ry="0.7" fill="#d6a2ae"/><ellipse cx="473.0" cy="503.3" rx="0.7" ry="0.9" fill="#d6a2ae"/><ellipse cx="504.5" cy="487.6" rx="0.6" ry="0.6" fill="#cc92a0"/><ellipse cx="506.2" cy="497.3" rx="0.8" ry="1.1" fill="#d6a2ae"/><ellipse cx="472.2" cy="494.5" rx="0.9" ry="0.9" fill="#d098a6"/><ellipse cx="455.6" cy="511.3" rx="0.7" ry="0.7" fill="#cc92a0"/><ellipse cx="461.7" cy="504.5" rx="0.8" ry="0.6" fill="#c08090"/><ellipse cx="502.6" cy="465.7" rx="0.8" ry="0.7" fill="#d098a6"/><ellipse cx="451.6" cy="507.2" rx="1.1" ry="0.9" fill="#d098a6"/><ellipse cx="493.7" cy="513.1" rx="0.9" ry="0.6" fill="#d6a2ae"/><ellipse cx="504.9" cy="487.0" rx="0.5" ry="0.5" fill="#cc92a0"/><ellipse cx="507.0" cy="465.8" rx="0.9" ry="0.7" fill="#c08090"/><ellipse cx="505.0" cy="495.3" rx="0.9" ry="0.8" fill="#d098a6"/><ellipse cx="478.2" cy="488.6" rx="0.7" ry="0.8" fill="#cc92a0"/><ellipse cx="495.3" cy="513.3" rx="0.5" ry="0.6" fill="#cc92a0"/><ellipse cx="504.6" cy="485.1" rx="0.9" ry="0.9" fill="#c08090"/><ellipse cx="499.4" cy="468.1" rx="0.5" ry="0.5" fill="#d098a6"/><ellipse cx="501.6" cy="484.1" rx="1.0" ry="1.0" fill="#d098a6"/><ellipse cx="506.9" cy="505.6" rx="0.6" ry="0.6" fill="#d6a2ae"/><ellipse cx="480.5" cy="494.8" rx="0.4" ry="0.4" fill="#cc92a0"/><ellipse cx="478.0" cy="499.7" rx="0.8" ry="0.8" fill="#d098a6"/><ellipse cx="505.1" cy="507.7" rx="0.5" ry="0.4" fill="#d6a2ae"/><ellipse cx="464.2" cy="511.4" rx="0.5" ry="0.6" fill="#d098a6"/><ellipse cx="507.7" cy="507.5" rx="0.9" ry="1.1" fill="#d098a6"/><ellipse cx="453.4" cy="507.5" rx="0.9" ry="0.7" fill="#d6a2ae"/><ellipse cx="456.4" cy="504.9" rx="0.9" ry="0.8" fill="#d098a6"/><ellipse cx="494.2" cy="494.8" rx="0.9" ry="0.8" fill="#c08090"/><ellipse cx="481.3" cy="503.8" rx="0.7" ry="0.8" fill="#c08090"/><ellipse cx="495.3" cy="478.3" rx="0.6" ry="0.6" fill="#d6a2ae"/><ellipse cx="499.1" cy="510.9" rx="0.6" ry="0.6" fill="#d6a2ae"/><ellipse cx="499.3" cy="468.0" rx="0.4" ry="0.6" fill="#c08090"/><ellipse cx="469.6" cy="502.7" rx="0.5" ry="0.6" fill="#cc92a0"/><ellipse cx="450.1" cy="511.0" rx="0.9" ry="0.8" fill="#c08090"/><ellipse cx="471.5" cy="511.6" rx="0.5" ry="0.5" fill="#d098a6"/><ellipse cx="507.4" cy="502.0" rx="0.6" ry="0.7" fill="#cc92a0"/><ellipse cx="489.2" cy="491.0" rx="0.6" ry="0.6" fill="#c08090"/><ellipse cx="504.9" cy="500.4" rx="0.7" ry="1.0" fill="#cc92a0"/><ellipse cx="501.7" cy="500.2" rx="0.9" ry="0.9" fill="#d6a2ae"/><ellipse cx="458.2" cy="499.5" rx="0.9" ry="0.6" fill="#c08090"/><ellipse cx="493.4" cy="471.7" rx="0.6" ry="0.4" fill="#d098a6"/><ellipse cx="488.2" cy="506.0" rx="0.4" ry="0.4" fill="#d098a6"/><ellipse cx="480.6" cy="481.0" rx="0.9" ry="1.1" fill="#cc92a0"/><ellipse cx="500.1" cy="479.7" rx="0.7" ry="0.5" fill="#d6a2ae"/><ellipse cx="488.5" cy="485.5" rx="0.9" ry="1.0" fill="#d098a6"/><ellipse cx="491.0" cy="486.0" rx="0.6" ry="0.5" fill="#c08090"/><ellipse cx="487.0" cy="494.0" rx="0.7" ry="0.6" fill="#cc92a0"/><ellipse cx="504.9" cy="486.6" rx="0.7" ry="0.5" fill="#d6a2ae"/><ellipse cx="460.5" cy="499.4" rx="0.9" ry="0.8" fill="#cc92a0"/><ellipse cx="463.7" cy="499.9" rx="0.6" ry="0.7" fill="#cc92a0"/><ellipse cx="477.1" cy="498.1" rx="0.8" ry="0.7" fill="#cc92a0"/><ellipse cx="488.4" cy="502.7" rx="1.0" ry="0.8" fill="#d098a6"/><ellipse cx="498.8" cy="473.2" rx="0.6" ry="0.6" fill="#cc92a0"/><ellipse cx="506.2" cy="511.7" rx="0.7" ry="0.7" fill="#d098a6"/><ellipse cx="481.6" cy="485.6" rx="0.7" ry="0.9" fill="#c08090"/><ellipse cx="497.7" cy="482.4" rx="0.8" ry="0.7" fill="#d6a2ae"/><ellipse cx="449.3" cy="508.8" rx="0.7" ry="0.9" fill="#d098a6"/><ellipse cx="497.8" cy="505.1" rx="0.7" ry="0.8" fill="#d098a6"/><ellipse cx="472.8" cy="510.5" rx="0.5" ry="0.7" fill="#c08090"/><ellipse cx="475.2" cy="508.9" rx="0.8" ry="0.9" fill="#d098a6"/><ellipse cx="482.9" cy="508.8" rx="0.5" ry="0.5" fill="#d098a6"/><ellipse cx="488.8" cy="495.9" rx="0.5" ry="0.5" fill="#cc92a0"/><ellipse cx="483.8" cy="501.3" rx="0.8" ry="0.6" fill="#c08090"/><ellipse cx="483.0" cy="505.0" rx="0.6" ry="0.5" fill="#d098a6"/><ellipse cx="482.5" cy="502.5" rx="0.7" ry="0.6" fill="#c08090"/><ellipse cx="480.6" cy="499.0" rx="0.8" ry="0.7" fill="#c08090"/><ellipse cx="493.2" cy="510.1" rx="0.7" ry="0.6" fill="#cc92a0"/><ellipse cx="489.7" cy="488.4" rx="0.8" ry="1.2" fill="#d6a2ae"/><ellipse cx="507.5" cy="502.9" rx="0.4" ry="0.4" fill="#d098a6"/><ellipse cx="505.5" cy="485.4" rx="0.7" ry="0.9" fill="#d098a6"/><ellipse cx="502.8" cy="513.1" rx="0.8" ry="1.0" fill="#d098a6"/><ellipse cx="491.2" cy="492.8" rx="0.9" ry="0.8" fill="#c08090"/><ellipse cx="460.2" cy="511.1" rx="0.9" ry="0.8" fill="#d6a2ae"/><ellipse cx="481.0" cy="512.9" rx="0.8" ry="0.7" fill="#d6a2ae"/><ellipse cx="491.1" cy="471.8" rx="0.6" ry="0.6" fill="#d6a2ae"/><ellipse cx="482.4" cy="501.0" rx="0.5" ry="0.5" fill="#c08090"/><ellipse cx="507.1" cy="480.6" rx="0.7" ry="0.7" fill="#d098a6"/><ellipse cx="507.1" cy="501.3" rx="0.8" ry="0.6" fill="#cc92a0"/><ellipse cx="478.2" cy="493.9" rx="0.6" ry="0.5" fill="#cc92a0"/><ellipse cx="482.9" cy="479.2" rx="0.5" ry="0.6" fill="#d098a6"/><ellipse cx="500.2" cy="507.5" rx="0.5" ry="0.6" fill="#d6a2ae"/><ellipse cx="469.4" cy="507.8" rx="0.6" ry="0.6" fill="#d6a2ae"/><ellipse cx="504.4" cy="511.1" rx="0.5" ry="0.7" fill="#d6a2ae"/><ellipse cx="469.1" cy="494.4" rx="0.7" ry="0.7" fill="#d6a2ae"/><ellipse cx="469.0" cy="502.5" rx="0.9" ry="0.9" fill="#d6a2ae"/><ellipse cx="489.3" cy="511.2" rx="0.7" ry="0.9" fill="#d6a2ae"/><ellipse cx="460.8" cy="512.6" rx="0.4" ry="0.5" fill="#d098a6"/><ellipse cx="506.0" cy="504.0" rx="0.7" ry="0.7" fill="#d098a6"/><ellipse cx="465.9" cy="503.6" rx="0.6" ry="0.7" fill="#cc92a0"/><ellipse cx="492.6" cy="499.2" rx="0.5" ry="0.5" fill="#cc92a0"/><ellipse cx="498.1" cy="479.7" rx="0.5" ry="0.5" fill="#c08090"/><ellipse cx="461.2" cy="497.4" rx="0.8" ry="1.1" fill="#cc92a0"/><ellipse cx="474.5" cy="505.0" rx="0.6" ry="0.7" fill="#d098a6"/><ellipse cx="497.7" cy="500.3" rx="0.9" ry="0.7" fill="#d6a2ae"/><ellipse cx="485.3" cy="497.4" rx="0.8" ry="0.8" fill="#d098a6"/><ellipse cx="489.5" cy="474.9" rx="0.7" ry="0.7" fill="#cc92a0"/><ellipse cx="472.1" cy="497.0" rx="0.6" ry="0.7" fill="#d6a2ae"/><ellipse cx="459.9" cy="508.8" rx="0.5" ry="0.5" fill="#cc92a0"/><ellipse cx="507.4" cy="475.3" rx="0.8" ry="0.9" fill="#cc92a0"/><ellipse cx="479.4" cy="505.8" rx="0.6" ry="0.8" fill="#d098a6"/><ellipse cx="484.5" cy="513.3" rx="0.8" ry="0.7" fill="#c08090"/><ellipse cx="487.8" cy="505.8" rx="0.7" ry="0.6" fill="#d6a2ae"/><ellipse cx="492.7" cy="482.3" rx="0.7" ry="0.9" fill="#cc92a0"/><ellipse cx="507.9" cy="461.3" rx="0.4" ry="0.4" fill="#d6a2ae"/><ellipse cx="458.2" cy="498.2" rx="0.8" ry="0.6" fill="#c08090"/><ellipse cx="485.1" cy="501.6" rx="0.6" ry="0.6" fill="#cc92a0"/><ellipse cx="504.0" cy="466.8" rx="1.0" ry="1.0" fill="#cc92a0"/><ellipse cx="468.3" cy="497.5" rx="0.9" ry="0.9" fill="#cc92a0"/><ellipse cx="495.5" cy="497.6" rx="1.0" ry="0.8" fill="#cc92a0"/><ellipse cx="488.0" cy="475.6" rx="0.6" ry="0.5" fill="#d6a2ae"/><ellipse cx="492.0" cy="501.9" rx="0.9" ry="0.8" fill="#cc92a0"/><ellipse cx="474.0" cy="504.2" rx="0.6" ry="0.6" fill="#d098a6"/><ellipse cx="489.3" cy="495.0" rx="1.0" ry="0.7" fill="#c08090"/><ellipse cx="501.4" cy="480.3" rx="0.7" ry="0.7" fill="#cc92a0"/><ellipse cx="475.4" cy="505.8" rx="0.8" ry="0.6" fill="#cc92a0"/><ellipse cx="503.3" cy="479.9" rx="0.4" ry="0.5" fill="#cc92a0"/><ellipse cx="500.4" cy="508.5" rx="0.7" ry="0.8" fill="#cc92a0"/><ellipse cx="479.0" cy="504.4" rx="0.8" ry="0.7" fill="#c08090"/><ellipse cx="475.1" cy="490.7" rx="0.7" ry="0.7" fill="#cc92a0"/><ellipse cx="494.6" cy="497.1" rx="1.0" ry="1.0" fill="#c08090"/><ellipse cx="472.7" cy="500.8" rx="1.0" ry="0.8" fill="#cc92a0"/><ellipse cx="502.9" cy="508.6" rx="0.5" ry="0.5" fill="#d098a6"/><ellipse cx="480.2" cy="504.8" rx="0.7" ry="0.5" fill="#d098a6"/><ellipse cx="438.6" cy="512.9" rx="1.0" ry="1.2" fill="#d6a2ae"/><ellipse cx="485.5" cy="501.1" rx="0.6" ry="0.7" fill="#cc92a0"/><ellipse cx="503.0" cy="509.2" rx="0.5" ry="0.6" fill="#cc92a0"/><ellipse cx="475.6" cy="498.8" rx="0.8" ry="0.8" fill="#c08090"/><ellipse cx="506.3" cy="466.3" rx="0.7" ry="0.9" fill="#cc92a0"/><ellipse cx="485.2" cy="497.5" rx="0.6" ry="0.6" fill="#d098a6"/><ellipse cx="489.5" cy="503.2" rx="0.7" ry="0.8" fill="#d6a2ae"/><ellipse cx="464.4" cy="497.6" rx="0.9" ry="0.9" fill="#d6a2ae"/><ellipse cx="502.5" cy="481.0" rx="0.7" ry="0.7" fill="#d6a2ae"/><ellipse cx="471.6" cy="506.0" rx="0.4" ry="0.4" fill="#c08090"/><ellipse cx="481.2" cy="498.4" rx="0.6" ry="0.5" fill="#cc92a0"/><ellipse cx="487.9" cy="505.3" rx="0.8" ry="0.6" fill="#c08090"/><ellipse cx="486.4" cy="502.8" rx="0.6" ry="0.6" fill="#d098a6"/><ellipse cx="504.2" cy="504.8" rx="0.9" ry="0.6" fill="#cc92a0"/><ellipse cx="494.7" cy="511.8" rx="0.5" ry="0.6" fill="#d6a2ae"/><ellipse cx="439.6" cy="511.7" rx="1.0" ry="0.8" fill="#c08090"/><ellipse cx="478.7" cy="487.8" rx="0.8" ry="0.8" fill="#d6a2ae"/><ellipse cx="481.1" cy="488.2" rx="0.9" ry="1.2" fill="#d098a6"/><ellipse cx="504.9" cy="511.2" rx="1.1" ry="0.8" fill="#d098a6"/><ellipse cx="493.4" cy="502.6" rx="0.5" ry="0.6" fill="#cc92a0"/><ellipse cx="490.7" cy="507.6" rx="0.8" ry="0.8" fill="#d098a6"/><ellipse cx="476.9" cy="507.4" rx="0.8" ry="0.9" fill="#cc92a0"/><ellipse cx="456.3" cy="500.8" rx="0.6" ry="0.5" fill="#cc92a0"/><ellipse cx="501.8" cy="476.1" rx="0.8" ry="0.8" fill="#cc92a0"/><ellipse cx="500.0" cy="505.0" rx="0.7" ry="0.8" fill="#d6a2ae"/><ellipse cx="479.1" cy="502.1" rx="0.8" ry="0.6" fill="#cc92a0"/><ellipse cx="486.5" cy="484.8" rx="0.8" ry="0.7" fill="#cc92a0"/><ellipse cx="476.5" cy="491.1" rx="0.5" ry="0.6" fill="#cc92a0"/><ellipse cx="500.6" cy="502.7" rx="0.8" ry="0.6" fill="#cc92a0"/><ellipse cx="481.3" cy="510.5" rx="1.0" ry="0.9" fill="#cc92a0"/><ellipse cx="488.8" cy="504.3" rx="1.0" ry="0.8" fill="#d6a2ae"/><ellipse cx="486.8" cy="480.8" rx="0.5" ry="0.7" fill="#d6a2ae"/><ellipse cx="462.3" cy="494.2" rx="0.5" ry="0.5" fill="#cc92a0"/><ellipse cx="501.5" cy="475.7" rx="0.8" ry="1.1" fill="#c08090"/><ellipse cx="450.1" cy="513.0" rx="1.0" ry="0.8" fill="#d098a6"/><ellipse cx="482.6" cy="490.9" rx="0.8" ry="1.0" fill="#d098a6"/><ellipse cx="500.1" cy="499.6" rx="0.5" ry="0.6" fill="#c08090"/><ellipse cx="443.8" cy="513.7" rx="0.8" ry="0.7" fill="#c08090"/><ellipse cx="484.5" cy="513.9" rx="0.7" ry="0.6" fill="#cc92a0"/><ellipse cx="450.9" cy="510.0" rx="0.8" ry="0.7" fill="#c08090"/><ellipse cx="484.6" cy="507.2" rx="0.9" ry="0.7" fill="#cc92a0"/><ellipse cx="504.7" cy="506.4" rx="0.7" ry="0.9" fill="#c08090"/><ellipse cx="466.6" cy="509.4" rx="0.5" ry="0.7" fill="#c08090"/><ellipse cx="471.4" cy="502.9" rx="1.0" ry="0.7" fill="#d098a6"/><ellipse cx="499.5" cy="509.4" rx="0.5" ry="0.5" fill="#c08090"/><ellipse cx="492.9" cy="486.8" rx="0.9" ry="0.6" fill="#cc92a0"/><ellipse cx="476.1" cy="507.4" rx="0.7" ry="0.8" fill="#d6a2ae"/><ellipse cx="471.4" cy="512.8" rx="0.7" ry="0.8" fill="#d098a6"/><ellipse cx="503.9" cy="463.5" rx="0.5" ry="0.6" fill="#d098a6"/><ellipse cx="453.5" cy="508.8" rx="0.5" ry="0.6" fill="#d6a2ae"/><ellipse cx="459.4" cy="500.4" rx="0.4" ry="0.4" fill="#d6a2ae"/><ellipse cx="500.5" cy="471.4" rx="0.8" ry="0.7" fill="#c08090"/><ellipse cx="505.1" cy="513.5" rx="1.1" ry="0.8" fill="#cc92a0"/><ellipse cx="485.9" cy="511.9" rx="0.8" ry="0.6" fill="#d098a6"/><ellipse cx="501.1" cy="483.4" rx="0.7" ry="0.8" fill="#cc92a0"/><ellipse cx="505.2" cy="507.3" rx="0.9" ry="1.1" fill="#c08090"/><ellipse cx="493.9" cy="485.6" rx="0.5" ry="0.6" fill="#c08090"/><ellipse cx="487.7" cy="476.3" rx="0.4" ry="0.6" fill="#cc92a0"/><ellipse cx="475.9" cy="511.6" rx="1.0" ry="0.9" fill="#d098a6"/><ellipse cx="496.7" cy="503.1" rx="0.9" ry="0.7" fill="#d098a6"/><ellipse cx="503.6" cy="481.1" rx="0.4" ry="0.5" fill="#d6a2ae"/><ellipse cx="494.6" cy="488.9" rx="0.8" ry="0.9" fill="#cc92a0"/><ellipse cx="478.9" cy="484.2" rx="0.8" ry="0.8" fill="#d098a6"/><ellipse cx="457.0" cy="512.7" rx="0.5" ry="0.5" fill="#c08090"/><ellipse cx="454.1" cy="511.5" rx="1.0" ry="0.8" fill="#cc92a0"/><ellipse cx="484.5" cy="481.6" rx="0.5" ry="0.5" fill="#cc92a0"/><ellipse cx="484.7" cy="497.6" rx="0.9" ry="0.8" fill="#d6a2ae"/><ellipse cx="472.9" cy="503.4" rx="0.4" ry="0.4" fill="#d6a2ae"/><ellipse cx="475.9" cy="483.9" rx="0.7" ry="0.8" fill="#cc92a0"/><ellipse cx="506.0" cy="486.0" rx="0.5" ry="0.5" fill="#d098a6"/><ellipse cx="462.1" cy="495.9" rx="0.8" ry="0.8" fill="#d6a2ae"/><ellipse cx="478.5" cy="512.1" rx="0.4" ry="0.6" fill="#d098a6"/><ellipse cx="467.0" cy="511.8" rx="0.5" ry="0.7" fill="#d6a2ae"/><ellipse cx="487.2" cy="477.8" rx="0.7" ry="0.9" fill="#d6a2ae"/><ellipse cx="469.3" cy="507.9" rx="0.8" ry="0.7" fill="#d098a6"/><ellipse cx="486.2" cy="486.5" rx="0.4" ry="0.6" fill="#cc92a0"/><ellipse cx="502.8" cy="476.8" rx="0.6" ry="0.6" fill="#cc92a0"/><ellipse cx="481.7" cy="509.0" rx="0.6" ry="0.6" fill="#c08090"/><ellipse cx="507.5" cy="468.6" rx="0.8" ry="0.9" fill="#d098a6"/><ellipse cx="493.9" cy="492.7" rx="0.7" ry="0.7" fill="#d098a6"/><ellipse cx="495.6" cy="472.0" rx="1.1" ry="1.0" fill="#d098a6"/><ellipse cx="496.5" cy="507.0" rx="0.7" ry="0.9" fill="#d6a2ae"/><ellipse cx="476.0" cy="512.6" rx="0.8" ry="0.9" fill="#d098a6"/><ellipse cx="504.8" cy="484.5" rx="0.8" ry="0.9" fill="#d098a6"/><ellipse cx="494.8" cy="484.4" rx="0.7" ry="0.7" fill="#cc92a0"/><ellipse cx="504.3" cy="498.7" rx="0.4" ry="0.4" fill="#c08090"/><ellipse cx="506.0" cy="482.2" rx="0.8" ry="0.8" fill="#d6a2ae"/><ellipse cx="472.3" cy="512.4" rx="0.9" ry="0.8" fill="#c08090"/><ellipse cx="454.3" cy="509.2" rx="0.7" ry="0.8" fill="#cc92a0"/><ellipse cx="483.0" cy="492.3" rx="0.8" ry="0.9" fill="#d098a6"/><ellipse cx="473.9" cy="486.0" rx="0.9" ry="0.7" fill="#d098a6"/><ellipse cx="478.9" cy="492.3" rx="0.7" ry="0.8" fill="#c08090"/><ellipse cx="495.8" cy="499.9" rx="0.9" ry="0.8" fill="#d6a2ae"/><ellipse cx="495.0" cy="484.3" rx="0.6" ry="0.5" fill="#d098a6"/><ellipse cx="498.9" cy="476.3" rx="1.0" ry="0.8" fill="#c08090"/><ellipse cx="465.8" cy="505.9" rx="0.5" ry="0.6" fill="#cc92a0"/><ellipse cx="477.8" cy="489.9" rx="0.7" ry="0.9" fill="#c08090"/><ellipse cx="502.8" cy="477.4" rx="0.7" ry="0.8" fill="#cc92a0"/><ellipse cx="489.6" cy="493.5" rx="0.7" ry="0.7" fill="#c08090"/><ellipse cx="480.8" cy="483.7" rx="0.6" ry="0.6" fill="#d098a6"/><ellipse cx="471.1" cy="497.7" rx="0.8" ry="0.8" fill="#d6a2ae"/><ellipse cx="498.5" cy="473.5" rx="0.6" ry="0.6" fill="#d098a6"/><ellipse cx="446.3" cy="506.4" rx="0.6" ry="0.4" fill="#c08090"/><ellipse cx="458.9" cy="499.5" rx="0.7" ry="0.7" fill="#d098a6"/><ellipse cx="461.3" cy="503.3" rx="0.6" ry="0.6" fill="#c08090"/><ellipse cx="506.4" cy="465.4" rx="1.1" ry="1.0" fill="#cc92a0"/><ellipse cx="489.2" cy="498.3" rx="0.5" ry="0.6" fill="#cc92a0"/><ellipse cx="487.2" cy="479.7" rx="0.8" ry="0.9" fill="#cc92a0"/><ellipse cx="492.9" cy="482.2" rx="0.9" ry="0.8" fill="#d098a6"/><ellipse cx="492.3" cy="498.2" rx="0.9" ry="0.8" fill="#d098a6"/><ellipse cx="472.7" cy="488.5" rx="0.5" ry="0.4" fill="#d098a6"/><ellipse cx="475.2" cy="508.1" rx="0.5" ry="0.4" fill="#d098a6"/><ellipse cx="504.7" cy="499.9" rx="0.6" ry="0.6" fill="#c08090"/><ellipse cx="496.5" cy="477.3" rx="0.5" ry="0.5" fill="#cc92a0"/><ellipse cx="507.8" cy="512.7" rx="0.5" ry="0.6" fill="#d6a2ae"/><ellipse cx="486.7" cy="495.1" rx="0.5" ry="0.6" fill="#d098a6"/><ellipse cx="461.6" cy="498.6" rx="0.9" ry="1.1" fill="#d6a2ae"/><ellipse cx="460.4" cy="499.7" rx="1.0" ry="0.8" fill="#cc92a0"/><ellipse cx="456.4" cy="500.2" rx="0.8" ry="1.0" fill="#d098a6"/><ellipse cx="481.3" cy="485.1" rx="1.0" ry="0.7" fill="#d098a6"/><ellipse cx="485.8" cy="503.9" rx="0.6" ry="0.7" fill="#cc92a0"/><ellipse cx="508.0" cy="466.7" rx="0.7" ry="0.7" fill="#c08090"/><ellipse cx="491.0" cy="511.3" rx="0.6" ry="0.6" fill="#d6a2ae"/><ellipse cx="467.3" cy="503.2" rx="0.5" ry="0.5" fill="#d098a6"/><ellipse cx="487.2" cy="508.9" rx="0.5" ry="0.6" fill="#c08090"/><ellipse cx="502.9" cy="493.3" rx="0.6" ry="0.7" fill="#c08090"/><ellipse cx="507.2" cy="474.5" rx="0.7" ry="0.6" fill="#cc92a0"/><ellipse cx="489.5" cy="513.1" rx="0.5" ry="0.7" fill="#cc92a0"/><ellipse cx="483.8" cy="494.1" rx="0.4" ry="0.6" fill="#c08090"/><ellipse cx="493.7" cy="474.5" rx="0.8" ry="0.7" fill="#d6a2ae"/><ellipse cx="443.5" cy="513.3" rx="0.7" ry="1.1" fill="#c08090"/><ellipse cx="473.3" cy="487.1" rx="0.5" ry="0.5" fill="#c08090"/><ellipse cx="466.8" cy="510.3" rx="0.7" ry="0.8" fill="#cc92a0"/><ellipse cx="501.4" cy="475.9" rx="0.7" ry="0.8" fill="#d6a2ae"/><ellipse cx="451.4" cy="509.4" rx="0.6" ry="0.5" fill="#c08090"/><ellipse cx="489.7" cy="507.1" rx="0.9" ry="0.9" fill="#d098a6"/><ellipse cx="481.0" cy="510.9" rx="0.9" ry="0.9" fill="#cc92a0"/><ellipse cx="468.4" cy="504.2" rx="0.7" ry="1.0" fill="#d098a6"/><ellipse cx="489.0" cy="481.6" rx="0.5" ry="0.5" fill="#d6a2ae"/><ellipse cx="493.2" cy="498.2" rx="0.6" ry="0.4" fill="#d098a6"/><ellipse cx="457.3" cy="504.0" rx="0.9" ry="1.0" fill="#d6a2ae"/><ellipse cx="496.1" cy="499.4" rx="0.6" ry="0.7" fill="#c08090"/><ellipse cx="465.0" cy="500.8" rx="0.8" ry="0.8" fill="#cc92a0"/><ellipse cx="499.4" cy="484.4" rx="1.0" ry="0.8" fill="#cc92a0"/><ellipse cx="483.4" cy="481.7" rx="1.0" ry="0.9" fill="#c08090"/><ellipse cx="456.3" cy="501.4" rx="0.8" ry="0.6" fill="#c08090"/><ellipse cx="455.7" cy="507.9" rx="1.1" ry="0.7" fill="#cc92a0"/><ellipse cx="473.0" cy="493.4" rx="0.5" ry="0.6" fill="#d098a6"/><ellipse cx="499.5" cy="475.4" rx="0.8" ry="1.0" fill="#c08090"/><ellipse cx="499.8" cy="509.2" rx="0.5" ry="0.8" fill="#d098a6"/><ellipse cx="498.9" cy="490.1" rx="0.6" ry="0.7" fill="#cc92a0"/><ellipse cx="497.3" cy="473.3" rx="0.9" ry="0.8" fill="#c08090"/><ellipse cx="478.2" cy="483.1" rx="0.7" ry="0.7" fill="#d098a6"/><ellipse cx="469.2" cy="500.1" rx="0.5" ry="0.5" fill="#d098a6"/><ellipse cx="492.7" cy="511.6" rx="0.7" ry="0.6" fill="#c08090"/><ellipse cx="474.5" cy="496.7" rx="1.1" ry="0.9" fill="#d098a6"/><ellipse cx="497.1" cy="479.1" rx="0.6" ry="0.6" fill="#d098a6"/><ellipse cx="470.4" cy="492.9" rx="0.7" ry="0.7" fill="#cc92a0"/><ellipse cx="482.2" cy="508.2" rx="0.7" ry="0.9" fill="#c08090"/><ellipse cx="502.3" cy="503.8" rx="0.5" ry="0.7" fill="#cc92a0"/><ellipse cx="482.5" cy="495.9" rx="0.7" ry="0.5" fill="#c08090"/><ellipse cx="464.0" cy="513.3" rx="0.9" ry="1.0" fill="#c08090"/><ellipse cx="496.3" cy="496.5" rx="0.6" ry="0.5" fill="#d098a6"/><ellipse cx="490.8" cy="511.9" rx="1.0" ry="0.9" fill="#cc92a0"/><ellipse cx="498.1" cy="480.4" rx="0.6" ry="0.8" fill="#c08090"/><ellipse cx="503.9" cy="468.6" rx="0.7" ry="0.5" fill="#d098a6"/><ellipse cx="495.8" cy="490.5" rx="0.4" ry="0.6" fill="#d098a6"/><ellipse cx="507.3" cy="461.1" rx="0.7" ry="0.7" fill="#d098a6"/><ellipse cx="491.2" cy="491.5" rx="0.9" ry="0.9" fill="#c08090"/><ellipse cx="449.8" cy="505.1" rx="0.4" ry="0.5" fill="#d098a6"/><ellipse cx="472.1" cy="488.9" rx="1.1" ry="1.0" fill="#cc92a0"/><ellipse cx="502.8" cy="503.7" rx="0.6" ry="0.6" fill="#d6a2ae"/><ellipse cx="504.1" cy="474.3" rx="0.9" ry="0.9" fill="#cc92a0"/><ellipse cx="487.0" cy="486.5" rx="0.9" ry="0.9" fill="#d6a2ae"/><ellipse cx="507.7" cy="490.9" rx="0.8" ry="0.9" fill="#d6a2ae"/><ellipse cx="449.0" cy="504.4" rx="0.7" ry="0.8" fill="#c08090"/><ellipse cx="490.7" cy="489.0" rx="0.8" ry="0.8" fill="#d098a6"/><ellipse cx="499.1" cy="469.0" rx="0.7" ry="0.6" fill="#c08090"/><ellipse cx="480.9" cy="501.2" rx="0.4" ry="0.6" fill="#c08090"/><ellipse cx="497.2" cy="506.8" rx="0.9" ry="1.0" fill="#cc92a0"/><ellipse cx="462.2" cy="495.6" rx="0.6" ry="0.7" fill="#d6a2ae"/><ellipse cx="506.3" cy="461.0" rx="0.5" ry="0.4" fill="#cc92a0"/><ellipse cx="499.9" cy="489.1" rx="0.8" ry="0.7" fill="#d6a2ae"/><ellipse cx="459.4" cy="496.4" rx="1.0" ry="1.0" fill="#cc92a0"/><ellipse cx="500.7" cy="485.0" rx="0.9" ry="0.9" fill="#d6a2ae"/></g>
<g opacity="1.0"><ellipse cx="476.6" cy="468.5" rx="1.1" ry="1.2" fill="#cc6880"/><ellipse cx="482.9" cy="451.9" rx="1.3" ry="1.2" fill="#b85270"/><ellipse cx="438.4" cy="484.7" rx="1.0" ry="1.1" fill="#b84a66"/><ellipse cx="457.2" cy="454.1" rx="1.0" ry="0.8" fill="#cc6880"/><ellipse cx="442.9" cy="451.3" rx="1.4" ry="1.3" fill="#b84a66"/><ellipse cx="461.7" cy="484.3" rx="1.5" ry="1.7" fill="#cc6880"/><ellipse cx="436.6" cy="495.9" rx="0.9" ry="1.1" fill="#cc6880"/><ellipse cx="475.2" cy="476.6" rx="1.6" ry="1.8" fill="#c45a74"/><ellipse cx="446.7" cy="490.2" rx="1.4" ry="1.4" fill="#b85270"/><ellipse cx="447.8" cy="501.7" rx="1.7" ry="1.4" fill="#a8405c"/><ellipse cx="443.0" cy="497.4" rx="1.3" ry="1.2" fill="#a8405c"/><ellipse cx="436.0" cy="498.2" rx="1.6" ry="1.2" fill="#b85270"/><ellipse cx="481.7" cy="474.4" rx="1.6" ry="1.4" fill="#c45a74"/><ellipse cx="492.0" cy="460.0" rx="0.8" ry="1.2" fill="#b84a66"/><ellipse cx="484.4" cy="453.8" rx="0.8" ry="1.1" fill="#b84a66"/><ellipse cx="438.6" cy="470.5" rx="1.1" ry="1.2" fill="#a8405c"/><ellipse cx="446.6" cy="453.7" rx="1.4" ry="1.4" fill="#cc6880"/><ellipse cx="461.9" cy="443.8" rx="1.1" ry="1.3" fill="#c45a74"/><ellipse cx="454.4" cy="460.3" rx="1.7" ry="1.6" fill="#c45a74"/><ellipse cx="449.3" cy="455.0" rx="1.5" ry="1.4" fill="#a8405c"/><ellipse cx="482.9" cy="444.2" rx="1.6" ry="1.2" fill="#c45a74"/><ellipse cx="443.6" cy="450.7" rx="0.9" ry="1.2" fill="#b84a66"/><ellipse cx="461.2" cy="449.7" rx="1.8" ry="1.3" fill="#b85270"/><ellipse cx="451.1" cy="490.9" rx="1.3" ry="1.1" fill="#c45a74"/><ellipse cx="488.3" cy="468.3" rx="1.3" ry="1.2" fill="#b84a66"/><ellipse cx="503.4" cy="443.7" rx="1.1" ry="1.2" fill="#b85270"/><ellipse cx="446.0" cy="498.8" rx="0.9" ry="1.2" fill="#b85270"/><ellipse cx="439.4" cy="452.4" rx="1.4" ry="1.1" fill="#cc6880"/><ellipse cx="496.4" cy="459.5" rx="1.0" ry="1.3" fill="#cc6880"/><ellipse cx="445.3" cy="489.3" rx="1.8" ry="1.3" fill="#cc6880"/><ellipse cx="486.4" cy="469.6" rx="1.1" ry="1.0" fill="#a8405c"/><ellipse cx="501.7" cy="458.7" rx="1.5" ry="1.1" fill="#a8405c"/><ellipse cx="460.2" cy="468.7" rx="1.4" ry="1.4" fill="#b85270"/><ellipse cx="458.5" cy="454.0" rx="1.1" ry="1.2" fill="#b85270"/><ellipse cx="472.5" cy="478.0" rx="1.2" ry="1.0" fill="#a8405c"/><ellipse cx="454.0" cy="466.6" rx="1.4" ry="1.5" fill="#cc6880"/><ellipse cx="466.1" cy="447.0" rx="1.1" ry="1.1" fill="#cc6880"/><ellipse cx="479.5" cy="471.5" rx="1.7" ry="1.6" fill="#c45a74"/><ellipse cx="465.8" cy="469.7" rx="1.4" ry="1.1" fill="#b85270"/><ellipse cx="437.5" cy="469.6" rx="1.6" ry="1.6" fill="#b84a66"/><ellipse cx="489.4" cy="448.1" rx="1.1" ry="1.1" fill="#cc6880"/><ellipse cx="480.2" cy="476.7" rx="1.2" ry="1.1" fill="#b85270"/><ellipse cx="499.6" cy="444.5" rx="1.3" ry="1.5" fill="#a8405c"/><ellipse cx="469.0" cy="453.6" rx="0.8" ry="1.1" fill="#c45a74"/><ellipse cx="469.9" cy="469.6" rx="1.1" ry="1.1" fill="#c45a74"/><ellipse cx="492.6" cy="450.8" rx="1.0" ry="0.8" fill="#a8405c"/><ellipse cx="443.0" cy="483.7" rx="1.6" ry="1.6" fill="#b85270"/><ellipse cx="486.7" cy="458.3" rx="1.1" ry="1.1" fill="#c45a74"/><ellipse cx="488.7" cy="467.2" rx="1.1" ry="1.3" fill="#b85270"/><ellipse cx="479.8" cy="469.5" rx="1.0" ry="1.0" fill="#c45a74"/><ellipse cx="450.6" cy="461.3" rx="0.9" ry="1.2" fill="#c45a74"/><ellipse cx="486.9" cy="458.9" rx="1.2" ry="1.5" fill="#cc6880"/><ellipse cx="438.3" cy="487.5" rx="1.2" ry="1.6" fill="#b85270"/><ellipse cx="491.7" cy="453.4" rx="1.3" ry="1.2" fill="#cc6880"/><ellipse cx="445.6" cy="446.2" rx="0.8" ry="1.0" fill="#b85270"/><ellipse cx="501.4" cy="457.3" rx="1.7" ry="1.8" fill="#a8405c"/><ellipse cx="450.5" cy="457.7" rx="1.0" ry="1.3" fill="#a8405c"/><ellipse cx="501.0" cy="450.9" rx="1.4" ry="1.2" fill="#a8405c"/><ellipse cx="470.8" cy="447.1" rx="1.1" ry="1.2" fill="#a8405c"/><ellipse cx="448.4" cy="450.6" rx="1.1" ry="1.0" fill="#cc6880"/><ellipse cx="443.3" cy="490.5" rx="1.5" ry="1.4" fill="#b85270"/><ellipse cx="486.4" cy="454.6" rx="1.5" ry="1.5" fill="#c45a74"/><ellipse cx="506.0" cy="446.2" rx="1.2" ry="1.0" fill="#b84a66"/><ellipse cx="439.5" cy="447.5" rx="1.3" ry="1.3" fill="#cc6880"/><ellipse cx="448.9" cy="492.8" rx="1.0" ry="1.2" fill="#cc6880"/><ellipse cx="466.3" cy="444.2" rx="1.3" ry="1.2" fill="#a8405c"/><ellipse cx="446.2" cy="501.0" rx="0.9" ry="0.7" fill="#c45a74"/><ellipse cx="467.3" cy="483.1" rx="1.1" ry="0.9" fill="#a8405c"/><ellipse cx="505.0" cy="454.8" rx="1.2" ry="1.4" fill="#c45a74"/><ellipse cx="451.4" cy="469.8" rx="1.0" ry="1.3" fill="#a8405c"/><ellipse cx="492.2" cy="461.6" rx="1.3" ry="1.3" fill="#cc6880"/><ellipse cx="461.8" cy="487.5" rx="0.9" ry="1.0" fill="#a8405c"/><ellipse cx="500.5" cy="446.0" rx="1.1" ry="1.4" fill="#c45a74"/><ellipse cx="466.1" cy="479.8" rx="1.6" ry="1.6" fill="#b85270"/><ellipse cx="497.9" cy="461.8" rx="1.0" ry="1.0" fill="#b84a66"/><ellipse cx="438.0" cy="448.8" rx="1.3" ry="0.9" fill="#a8405c"/><ellipse cx="438.8" cy="450.4" rx="1.1" ry="1.0" fill="#cc6880"/><ellipse cx="444.1" cy="477.6" rx="1.0" ry="1.0" fill="#a8405c"/><ellipse cx="498.8" cy="454.4" rx="1.4" ry="0.9" fill="#a8405c"/><ellipse cx="454.0" cy="453.9" rx="1.6" ry="1.3" fill="#c45a74"/><ellipse cx="439.5" cy="488.9" rx="1.0" ry="0.7" fill="#a8405c"/><ellipse cx="505.8" cy="455.8" rx="1.3" ry="1.1" fill="#b84a66"/><ellipse cx="469.1" cy="447.2" rx="1.4" ry="1.4" fill="#a8405c"/><ellipse cx="446.0" cy="452.3" rx="0.8" ry="1.0" fill="#c45a74"/><ellipse cx="442.6" cy="457.0" rx="1.6" ry="1.4" fill="#cc6880"/><ellipse cx="457.1" cy="478.6" rx="1.0" ry="1.1" fill="#cc6880"/><ellipse cx="480.5" cy="474.9" rx="1.1" ry="1.0" fill="#c45a74"/><ellipse cx="454.2" cy="465.3" rx="1.1" ry="1.1" fill="#b85270"/><ellipse cx="457.1" cy="446.1" rx="1.1" ry="1.3" fill="#a8405c"/><ellipse cx="481.9" cy="460.7" rx="1.0" ry="0.9" fill="#cc6880"/><ellipse cx="448.1" cy="495.5" rx="1.1" ry="0.9" fill="#b85270"/><ellipse cx="462.9" cy="472.1" rx="1.3" ry="1.2" fill="#b85270"/><ellipse cx="454.1" cy="472.3" rx="1.1" ry="0.8" fill="#cc6880"/><ellipse cx="443.0" cy="502.8" rx="1.2" ry="1.1" fill="#a8405c"/><ellipse cx="487.5" cy="452.7" rx="1.4" ry="1.4" fill="#b84a66"/><ellipse cx="460.6" cy="479.1" rx="1.2" ry="1.7" fill="#cc6880"/><ellipse cx="497.0" cy="460.4" rx="1.1" ry="0.9" fill="#b84a66"/><ellipse cx="444.0" cy="487.3" rx="1.1" ry="0.8" fill="#b85270"/><ellipse cx="463.3" cy="458.9" rx="1.1" ry="1.2" fill="#c45a74"/><ellipse cx="442.3" cy="453.2" rx="1.7" ry="1.5" fill="#cc6880"/><ellipse cx="448.9" cy="462.9" rx="1.6" ry="1.6" fill="#a8405c"/><ellipse cx="457.8" cy="472.5" rx="1.5" ry="1.6" fill="#a8405c"/><ellipse cx="441.4" cy="450.8" rx="1.2" ry="1.0" fill="#b84a66"/><ellipse cx="436.8" cy="445.5" rx="1.5" ry="1.2" fill="#b84a66"/><ellipse cx="445.6" cy="454.6" rx="1.1" ry="1.2" fill="#a8405c"/><ellipse cx="443.6" cy="452.6" rx="1.2" ry="1.0" fill="#cc6880"/><ellipse cx="442.1" cy="505.0" rx="1.0" ry="1.4" fill="#a8405c"/><ellipse cx="477.1" cy="467.9" rx="1.3" ry="1.3" fill="#b84a66"/><ellipse cx="483.3" cy="453.6" rx="1.3" ry="1.0" fill="#a8405c"/><ellipse cx="469.0" cy="474.7" rx="1.3" ry="1.0" fill="#b85270"/><ellipse cx="460.4" cy="450.5" rx="1.3" ry="1.3" fill="#b85270"/><ellipse cx="453.6" cy="469.0" rx="1.0" ry="1.1" fill="#a8405c"/><ellipse cx="448.0" cy="501.1" rx="1.2" ry="1.6" fill="#c45a74"/><ellipse cx="468.5" cy="483.2" rx="1.4" ry="1.6" fill="#b84a66"/><ellipse cx="499.1" cy="449.3" rx="1.2" ry="1.0" fill="#b85270"/><ellipse cx="442.5" cy="494.9" rx="0.9" ry="1.1" fill="#a8405c"/><ellipse cx="472.3" cy="481.4" rx="1.2" ry="1.3" fill="#b85270"/><ellipse cx="499.0" cy="447.5" rx="1.2" ry="0.9" fill="#b84a66"/><ellipse cx="469.8" cy="472.7" rx="1.1" ry="1.2" fill="#b84a66"/><ellipse cx="478.6" cy="451.1" rx="1.1" ry="0.9" fill="#a8405c"/><ellipse cx="465.7" cy="458.9" rx="1.1" ry="0.8" fill="#a8405c"/><ellipse cx="447.7" cy="491.1" rx="0.9" ry="0.9" fill="#b85270"/><ellipse cx="447.7" cy="485.2" rx="0.8" ry="1.0" fill="#c45a74"/><ellipse cx="484.4" cy="464.9" rx="1.1" ry="1.2" fill="#cc6880"/><ellipse cx="470.6" cy="479.8" rx="1.2" ry="1.3" fill="#a8405c"/><ellipse cx="483.2" cy="456.3" rx="1.4" ry="1.6" fill="#b85270"/><ellipse cx="485.7" cy="460.6" rx="1.0" ry="1.1" fill="#b84a66"/><ellipse cx="453.1" cy="491.1" rx="1.1" ry="1.5" fill="#cc6880"/><ellipse cx="439.0" cy="488.3" rx="1.5" ry="1.2" fill="#c45a74"/><ellipse cx="504.3" cy="452.0" rx="0.8" ry="1.1" fill="#b85270"/><ellipse cx="477.5" cy="476.3" rx="1.2" ry="0.9" fill="#cc6880"/><ellipse cx="485.8" cy="471.4" rx="1.1" ry="1.1" fill="#b85270"/><ellipse cx="442.5" cy="497.8" rx="1.4" ry="1.4" fill="#a8405c"/><ellipse cx="473.5" cy="447.3" rx="0.8" ry="0.9" fill="#cc6880"/><ellipse cx="468.5" cy="484.1" rx="1.3" ry="1.2" fill="#c45a74"/><ellipse cx="441.0" cy="448.4" rx="1.2" ry="1.3" fill="#cc6880"/><ellipse cx="474.8" cy="477.5" rx="1.2" ry="1.4" fill="#cc6880"/><ellipse cx="443.9" cy="496.2" rx="1.3" ry="0.9" fill="#b85270"/><ellipse cx="481.2" cy="468.9" rx="1.1" ry="1.2" fill="#c45a74"/><ellipse cx="496.2" cy="454.7" rx="0.9" ry="0.9" fill="#c45a74"/><ellipse cx="502.2" cy="445.7" rx="0.9" ry="1.0" fill="#b84a66"/><ellipse cx="439.2" cy="503.2" rx="1.0" ry="1.1" fill="#a8405c"/><ellipse cx="442.5" cy="505.2" rx="1.7" ry="1.8" fill="#a8405c"/><ellipse cx="460.6" cy="467.2" rx="1.7" ry="1.7" fill="#cc6880"/><ellipse cx="448.7" cy="455.9" rx="1.4" ry="1.2" fill="#c45a74"/><ellipse cx="436.9" cy="474.6" rx="1.3" ry="1.4" fill="#b84a66"/><ellipse cx="473.3" cy="453.4" rx="1.2" ry="1.0" fill="#b84a66"/><ellipse cx="485.2" cy="446.2" rx="0.8" ry="1.1" fill="#cc6880"/><ellipse cx="490.5" cy="466.2" rx="1.0" ry="0.9" fill="#b85270"/><ellipse cx="492.9" cy="456.7" rx="1.0" ry="1.4" fill="#a8405c"/><ellipse cx="436.9" cy="444.3" rx="1.0" ry="1.0" fill="#a8405c"/><ellipse cx="475.1" cy="469.2" rx="1.4" ry="1.6" fill="#c45a74"/><ellipse cx="444.2" cy="488.3" rx="1.2" ry="0.9" fill="#b85270"/><ellipse cx="436.2" cy="445.9" rx="1.4" ry="1.4" fill="#b85270"/><ellipse cx="453.7" cy="475.7" rx="1.0" ry="0.9" fill="#b85270"/><ellipse cx="446.5" cy="443.5" rx="1.3" ry="1.2" fill="#cc6880"/><ellipse cx="475.1" cy="476.7" rx="1.2" ry="0.8" fill="#b84a66"/><ellipse cx="454.7" cy="450.4" rx="1.0" ry="1.0" fill="#b85270"/><ellipse cx="454.3" cy="448.2" rx="1.3" ry="1.7" fill="#b84a66"/><ellipse cx="470.0" cy="480.2" rx="1.0" ry="0.9" fill="#c45a74"/><ellipse cx="459.3" cy="454.7" rx="0.9" ry="1.2" fill="#c45a74"/><ellipse cx="488.9" cy="469.7" rx="1.4" ry="1.3" fill="#c45a74"/><ellipse cx="456.0" cy="473.2" rx="1.5" ry="1.1" fill="#c45a74"/><ellipse cx="475.8" cy="455.3" rx="1.7" ry="1.5" fill="#cc6880"/><ellipse cx="455.4" cy="471.8" rx="1.0" ry="1.4" fill="#cc6880"/><ellipse cx="456.8" cy="465.5" rx="1.3" ry="1.7" fill="#b84a66"/><ellipse cx="468.4" cy="447.6" rx="1.0" ry="0.9" fill="#cc6880"/><ellipse cx="451.1" cy="455.5" rx="1.3" ry="1.2" fill="#cc6880"/><ellipse cx="464.3" cy="466.8" rx="0.9" ry="0.9" fill="#a8405c"/><ellipse cx="440.8" cy="472.8" rx="1.2" ry="1.4" fill="#c45a74"/><ellipse cx="476.4" cy="448.7" rx="1.2" ry="1.1" fill="#c45a74"/><ellipse cx="469.1" cy="459.8" rx="1.3" ry="1.4" fill="#a8405c"/><ellipse cx="469.1" cy="463.1" rx="1.3" ry="1.2" fill="#cc6880"/><ellipse cx="445.4" cy="503.7" rx="1.0" ry="1.0" fill="#b84a66"/><ellipse cx="447.9" cy="456.3" rx="1.3" ry="0.9" fill="#a8405c"/><ellipse cx="474.9" cy="479.3" rx="1.1" ry="1.1" fill="#a8405c"/><ellipse cx="463.7" cy="467.6" rx="1.6" ry="1.3" fill="#a8405c"/><ellipse cx="484.4" cy="472.1" rx="1.0" ry="1.3" fill="#cc6880"/><ellipse cx="482.1" cy="467.0" rx="1.3" ry="1.0" fill="#cc6880"/><ellipse cx="458.5" cy="464.8" rx="1.3" ry="1.6" fill="#a8405c"/><ellipse cx="445.5" cy="502.2" rx="1.7" ry="1.2" fill="#a8405c"/><ellipse cx="486.1" cy="460.8" rx="1.2" ry="1.3" fill="#c45a74"/><ellipse cx="454.4" cy="475.8" rx="1.2" ry="1.1" fill="#b84a66"/><ellipse cx="500.1" cy="459.3" rx="1.7" ry="1.4" fill="#cc6880"/><ellipse cx="462.1" cy="455.9" rx="1.3" ry="1.1" fill="#b84a66"/><ellipse cx="436.4" cy="510.1" rx="1.6" ry="1.6" fill="#b84a66"/><ellipse cx="479.3" cy="455.8" rx="1.4" ry="1.6" fill="#b84a66"/><ellipse cx="455.2" cy="454.9" rx="1.3" ry="1.3" fill="#b84a66"/><ellipse cx="462.8" cy="490.5" rx="1.6" ry="1.8" fill="#b84a66"/><ellipse cx="484.7" cy="466.6" rx="1.6" ry="1.3" fill="#b85270"/><ellipse cx="496.4" cy="460.0" rx="1.5" ry="1.3" fill="#c45a74"/><ellipse cx="437.7" cy="504.0" rx="1.0" ry="0.8" fill="#b84a66"/><ellipse cx="505.4" cy="452.6" rx="0.9" ry="1.0" fill="#b85270"/><ellipse cx="462.2" cy="443.3" rx="1.1" ry="1.1" fill="#b85270"/><ellipse cx="489.6" cy="454.2" rx="0.9" ry="1.1" fill="#b85270"/><ellipse cx="497.6" cy="451.6" rx="1.5" ry="1.4" fill="#c45a74"/><ellipse cx="487.2" cy="449.6" rx="0.9" ry="1.2" fill="#b84a66"/><ellipse cx="451.7" cy="448.0" rx="1.7" ry="1.4" fill="#b84a66"/><ellipse cx="465.2" cy="481.9" rx="1.6" ry="1.5" fill="#b85270"/><ellipse cx="439.1" cy="461.2" rx="1.5" ry="1.1" fill="#b84a66"/><ellipse cx="447.9" cy="458.1" rx="1.4" ry="1.4" fill="#b85270"/><ellipse cx="462.8" cy="470.7" rx="0.7" ry="0.9" fill="#b84a66"/><ellipse cx="451.0" cy="491.9" rx="1.0" ry="0.8" fill="#b85270"/><ellipse cx="446.8" cy="460.1" rx="1.3" ry="1.3" fill="#b84a66"/><ellipse cx="443.4" cy="494.2" rx="1.3" ry="1.0" fill="#c45a74"/><ellipse cx="476.6" cy="465.9" rx="1.1" ry="1.1" fill="#cc6880"/><ellipse cx="439.7" cy="480.5" rx="1.4" ry="1.4" fill="#b84a66"/><ellipse cx="459.2" cy="476.3" rx="0.9" ry="0.9" fill="#b85270"/><ellipse cx="479.9" cy="455.9" rx="1.1" ry="1.5" fill="#b85270"/><ellipse cx="489.0" cy="459.6" rx="1.1" ry="0.9" fill="#cc6880"/><ellipse cx="502.2" cy="457.4" rx="1.0" ry="1.0" fill="#b84a66"/><ellipse cx="471.4" cy="454.3" rx="1.1" ry="1.5" fill="#b84a66"/><ellipse cx="481.7" cy="470.8" rx="1.0" ry="1.0" fill="#a8405c"/><ellipse cx="486.1" cy="463.4" rx="1.5" ry="1.5" fill="#a8405c"/><ellipse cx="465.3" cy="448.9" rx="1.3" ry="1.1" fill="#b84a66"/><ellipse cx="457.3" cy="447.5" rx="1.1" ry="0.9" fill="#c45a74"/><ellipse cx="473.4" cy="466.5" rx="1.0" ry="1.2" fill="#a8405c"/><ellipse cx="480.7" cy="456.8" rx="0.8" ry="1.2" fill="#a8405c"/><ellipse cx="471.3" cy="464.5" rx="1.3" ry="1.1" fill="#c45a74"/><ellipse cx="448.8" cy="497.7" rx="1.3" ry="1.6" fill="#b85270"/><ellipse cx="436.6" cy="446.2" rx="1.7" ry="1.2" fill="#b84a66"/><ellipse cx="505.6" cy="444.4" rx="1.1" ry="1.0" fill="#b85270"/><ellipse cx="480.5" cy="456.2" rx="1.4" ry="1.1" fill="#cc6880"/><ellipse cx="498.3" cy="443.3" rx="1.5" ry="1.1" fill="#b84a66"/><ellipse cx="439.5" cy="445.6" rx="1.8" ry="1.3" fill="#cc6880"/><ellipse cx="466.1" cy="475.7" rx="1.5" ry="1.8" fill="#b85270"/><ellipse cx="467.1" cy="466.5" rx="1.3" ry="1.1" fill="#b85270"/><ellipse cx="470.5" cy="475.3" rx="1.1" ry="1.4" fill="#a8405c"/><ellipse cx="459.0" cy="454.3" rx="1.0" ry="0.9" fill="#b84a66"/><ellipse cx="451.3" cy="461.6" rx="1.3" ry="1.3" fill="#a8405c"/><ellipse cx="437.1" cy="495.1" rx="0.9" ry="0.9" fill="#b84a66"/><ellipse cx="439.7" cy="455.5" rx="1.1" ry="1.2" fill="#c45a74"/><ellipse cx="473.9" cy="461.9" rx="0.9" ry="1.2" fill="#b85270"/><ellipse cx="464.2" cy="460.6" rx="1.4" ry="1.7" fill="#cc6880"/><ellipse cx="474.0" cy="446.3" rx="1.5" ry="1.3" fill="#b85270"/><ellipse cx="490.0" cy="458.9" rx="1.2" ry="1.3" fill="#b84a66"/><ellipse cx="458.0" cy="448.8" rx="1.1" ry="0.9" fill="#cc6880"/><ellipse cx="455.4" cy="448.6" rx="0.9" ry="1.0" fill="#b84a66"/><ellipse cx="492.2" cy="463.7" rx="1.1" ry="1.0" fill="#b85270"/><ellipse cx="455.0" cy="475.5" rx="1.0" ry="1.0" fill="#b85270"/><ellipse cx="484.6" cy="462.4" rx="1.5" ry="1.1" fill="#a8405c"/><ellipse cx="459.9" cy="455.0" rx="1.2" ry="1.4" fill="#cc6880"/><ellipse cx="503.4" cy="451.1" rx="1.0" ry="1.4" fill="#a8405c"/><ellipse cx="438.6" cy="491.6" rx="1.2" ry="1.0" fill="#b84a66"/><ellipse cx="451.6" cy="474.3" rx="1.6" ry="1.7" fill="#b85270"/><ellipse cx="437.9" cy="510.0" rx="1.1" ry="1.2" fill="#a8405c"/><ellipse cx="449.6" cy="467.6" rx="0.9" ry="0.9" fill="#a8405c"/><ellipse cx="494.1" cy="464.5" rx="1.0" ry="1.2" fill="#a8405c"/><ellipse cx="473.1" cy="471.5" rx="1.2" ry="0.9" fill="#b84a66"/><ellipse cx="457.0" cy="446.7" rx="1.6" ry="1.5" fill="#b84a66"/><ellipse cx="492.1" cy="457.6" rx="1.2" ry="1.0" fill="#c45a74"/><ellipse cx="481.9" cy="464.2" rx="1.1" ry="1.6" fill="#cc6880"/><ellipse cx="450.1" cy="454.6" rx="0.8" ry="1.1" fill="#b84a66"/><ellipse cx="440.0" cy="494.7" rx="1.1" ry="0.9" fill="#c45a74"/><ellipse cx="495.5" cy="446.4" rx="1.7" ry="1.4" fill="#c45a74"/><ellipse cx="461.9" cy="460.4" rx="1.0" ry="1.1" fill="#b84a66"/><ellipse cx="484.4" cy="455.4" rx="1.1" ry="0.8" fill="#c45a74"/><ellipse cx="447.3" cy="493.7" rx="1.4" ry="1.4" fill="#cc6880"/><ellipse cx="480.4" cy="455.0" rx="1.0" ry="1.3" fill="#c45a74"/><ellipse cx="438.9" cy="495.3" rx="1.3" ry="1.3" fill="#c45a74"/><ellipse cx="495.9" cy="455.0" rx="1.1" ry="1.2" fill="#c45a74"/><ellipse cx="502.7" cy="459.1" rx="0.8" ry="0.8" fill="#b85270"/><ellipse cx="486.4" cy="446.1" rx="1.4" ry="1.2" fill="#a8405c"/><ellipse cx="494.9" cy="451.0" rx="1.0" ry="1.0" fill="#b85270"/><ellipse cx="447.2" cy="497.7" rx="1.1" ry="0.8" fill="#a8405c"/><ellipse cx="488.3" cy="455.6" rx="1.4" ry="1.4" fill="#b85270"/><ellipse cx="499.4" cy="449.1" rx="1.4" ry="1.3" fill="#a8405c"/><ellipse cx="441.2" cy="484.8" rx="1.1" ry="1.5" fill="#a8405c"/><ellipse cx="471.2" cy="481.7" rx="1.4" ry="1.3" fill="#b85270"/><ellipse cx="460.4" cy="456.9" rx="0.9" ry="1.1" fill="#c45a74"/><ellipse cx="450.6" cy="455.9" rx="1.8" ry="1.9" fill="#a8405c"/><ellipse cx="468.2" cy="462.8" rx="1.1" ry="0.7" fill="#c45a74"/><ellipse cx="440.7" cy="502.5" rx="1.2" ry="1.2" fill="#cc6880"/><ellipse cx="500.6" cy="448.6" rx="0.9" ry="1.0" fill="#cc6880"/><ellipse cx="454.5" cy="460.6" rx="1.1" ry="1.5" fill="#cc6880"/><ellipse cx="450.7" cy="462.2" rx="1.1" ry="1.0" fill="#b85270"/><ellipse cx="469.4" cy="474.5" rx="1.5" ry="1.3" fill="#b84a66"/><ellipse cx="477.0" cy="468.9" rx="1.4" ry="1.0" fill="#c45a74"/><ellipse cx="485.9" cy="454.0" rx="1.8" ry="1.7" fill="#cc6880"/><ellipse cx="438.0" cy="497.5" rx="1.1" ry="1.2" fill="#c45a74"/><ellipse cx="437.8" cy="476.7" rx="1.5" ry="1.2" fill="#c45a74"/><ellipse cx="455.5" cy="452.3" rx="1.3" ry="1.5" fill="#c45a74"/><ellipse cx="450.7" cy="494.0" rx="1.2" ry="1.2" fill="#c45a74"/><ellipse cx="463.6" cy="460.0" rx="0.8" ry="1.0" fill="#b85270"/><ellipse cx="459.6" cy="443.1" rx="1.0" ry="0.9" fill="#b84a66"/><ellipse cx="452.1" cy="459.0" rx="0.9" ry="1.2" fill="#b84a66"/><ellipse cx="467.5" cy="463.0" rx="1.5" ry="1.5" fill="#b85270"/><ellipse cx="468.1" cy="472.4" rx="1.4" ry="1.1" fill="#c45a74"/><ellipse cx="480.5" cy="474.3" rx="0.9" ry="1.2" fill="#b84a66"/><ellipse cx="471.1" cy="453.3" rx="0.8" ry="0.9" fill="#cc6880"/><ellipse cx="473.9" cy="445.9" rx="1.3" ry="1.2" fill="#c45a74"/><ellipse cx="440.0" cy="445.1" rx="1.2" ry="1.4" fill="#a8405c"/><ellipse cx="451.3" cy="471.4" rx="0.7" ry="0.8" fill="#b85270"/><ellipse cx="437.8" cy="459.1" rx="1.1" ry="1.0" fill="#b84a66"/><ellipse cx="438.1" cy="444.0" rx="1.4" ry="1.5" fill="#b84a66"/><ellipse cx="480.8" cy="462.3" rx="1.7" ry="1.4" fill="#cc6880"/><ellipse cx="442.2" cy="452.5" rx="1.3" ry="1.3" fill="#cc6880"/><ellipse cx="452.6" cy="497.4" rx="0.8" ry="1.1" fill="#a8405c"/><ellipse cx="490.0" cy="463.0" rx="1.0" ry="1.0" fill="#cc6880"/><ellipse cx="467.2" cy="477.8" rx="1.1" ry="1.3" fill="#b85270"/><ellipse cx="450.5" cy="492.9" rx="1.1" ry="1.5" fill="#b84a66"/><ellipse cx="436.8" cy="468.7" rx="1.0" ry="0.7" fill="#b84a66"/><ellipse cx="504.9" cy="453.7" rx="1.2" ry="0.9" fill="#b85270"/><ellipse cx="471.3" cy="443.8" rx="1.2" ry="1.6" fill="#b85270"/><ellipse cx="438.5" cy="478.8" rx="1.1" ry="1.0" fill="#b85270"/><ellipse cx="442.9" cy="456.3" rx="1.1" ry="0.9" fill="#c45a74"/><ellipse cx="442.4" cy="491.9" rx="1.3" ry="1.3" fill="#a8405c"/><ellipse cx="480.0" cy="451.4" rx="1.2" ry="1.5" fill="#c45a74"/><ellipse cx="458.3" cy="462.3" rx="1.6" ry="1.2" fill="#b85270"/><ellipse cx="444.2" cy="486.6" rx="1.1" ry="0.9" fill="#c45a74"/><ellipse cx="458.6" cy="465.5" rx="1.0" ry="1.2" fill="#b84a66"/><ellipse cx="450.2" cy="495.9" rx="1.3" ry="1.2" fill="#b84a66"/><ellipse cx="489.5" cy="460.1" rx="1.1" ry="1.1" fill="#b85270"/><ellipse cx="461.7" cy="489.4" rx="1.2" ry="1.4" fill="#cc6880"/><ellipse cx="475.0" cy="465.6" rx="0.9" ry="1.1" fill="#a8405c"/><ellipse cx="437.7" cy="500.5" rx="1.0" ry="1.0" fill="#a8405c"/><ellipse cx="440.3" cy="477.7" rx="1.3" ry="0.9" fill="#cc6880"/><ellipse cx="466.6" cy="462.9" rx="1.2" ry="1.1" fill="#b85270"/><ellipse cx="438.8" cy="494.8" rx="1.0" ry="1.0" fill="#b84a66"/><ellipse cx="443.2" cy="459.3" rx="0.9" ry="1.0" fill="#c45a74"/><ellipse cx="439.6" cy="459.7" rx="1.1" ry="1.0" fill="#b85270"/><ellipse cx="445.0" cy="463.2" rx="1.2" ry="1.4" fill="#b84a66"/><ellipse cx="488.9" cy="462.7" rx="1.2" ry="1.1" fill="#b85270"/><ellipse cx="490.0" cy="454.7" rx="1.3" ry="1.3" fill="#a8405c"/><ellipse cx="455.4" cy="447.0" rx="1.4" ry="1.5" fill="#a8405c"/><ellipse cx="482.0" cy="457.2" rx="1.1" ry="1.5" fill="#cc6880"/><ellipse cx="494.4" cy="455.0" rx="1.6" ry="1.1" fill="#cc6880"/><ellipse cx="505.4" cy="450.6" rx="1.2" ry="1.4" fill="#b85270"/><ellipse cx="446.2" cy="483.4" rx="0.8" ry="1.2" fill="#a8405c"/><ellipse cx="459.4" cy="458.7" rx="1.1" ry="1.1" fill="#c45a74"/><ellipse cx="465.3" cy="488.2" rx="1.1" ry="1.6" fill="#b84a66"/><ellipse cx="502.7" cy="455.9" rx="1.5" ry="1.3" fill="#c45a74"/><ellipse cx="444.9" cy="481.0" rx="1.0" ry="1.1" fill="#b85270"/><ellipse cx="456.5" cy="473.1" rx="1.0" ry="0.8" fill="#b85270"/><ellipse cx="476.2" cy="466.2" rx="1.5" ry="1.7" fill="#b85270"/><ellipse cx="438.8" cy="481.5" rx="1.4" ry="1.4" fill="#c45a74"/><ellipse cx="481.0" cy="473.1" rx="1.1" ry="1.0" fill="#a8405c"/><ellipse cx="487.9" cy="445.8" rx="1.1" ry="1.6" fill="#b85270"/><ellipse cx="438.4" cy="448.4" rx="1.5" ry="1.1" fill="#cc6880"/><ellipse cx="470.2" cy="465.2" rx="1.3" ry="1.0" fill="#c45a74"/><ellipse cx="480.0" cy="462.4" rx="1.1" ry="1.1" fill="#a8405c"/><ellipse cx="477.7" cy="443.7" rx="1.3" ry="1.7" fill="#b85270"/><ellipse cx="440.6" cy="484.1" rx="1.6" ry="1.7" fill="#c45a74"/><ellipse cx="450.9" cy="445.9" rx="1.6" ry="1.7" fill="#cc6880"/><ellipse cx="499.2" cy="447.7" rx="1.3" ry="1.4" fill="#cc6880"/><ellipse cx="452.3" cy="468.1" rx="1.3" ry="1.4" fill="#cc6880"/><ellipse cx="502.0" cy="456.9" rx="1.1" ry="1.1" fill="#cc6880"/><ellipse cx="454.8" cy="470.5" rx="1.0" ry="1.1" fill="#b85270"/><ellipse cx="482.3" cy="448.3" rx="1.0" ry="1.1" fill="#b84a66"/><ellipse cx="464.7" cy="468.9" rx="1.4" ry="1.3" fill="#cc6880"/><ellipse cx="470.8" cy="478.3" rx="1.2" ry="1.3" fill="#cc6880"/><ellipse cx="485.1" cy="450.4" rx="1.3" ry="0.9" fill="#b84a66"/><ellipse cx="451.8" cy="472.0" rx="1.0" ry="0.9" fill="#b84a66"/><ellipse cx="458.0" cy="460.2" rx="1.0" ry="1.3" fill="#a8405c"/><ellipse cx="438.9" cy="443.7" rx="1.3" ry="1.2" fill="#b84a66"/><ellipse cx="438.5" cy="447.8" rx="1.6" ry="1.4" fill="#c45a74"/><ellipse cx="483.3" cy="471.3" rx="1.5" ry="1.3" fill="#cc6880"/><ellipse cx="466.8" cy="483.6" rx="1.2" ry="0.9" fill="#cc6880"/><ellipse cx="454.1" cy="494.3" rx="1.2" ry="1.0" fill="#b84a66"/><ellipse cx="481.5" cy="459.7" rx="1.0" ry="1.2" fill="#cc6880"/><ellipse cx="484.7" cy="454.4" rx="1.3" ry="1.4" fill="#a8405c"/><ellipse cx="437.1" cy="444.8" rx="1.3" ry="1.6" fill="#cc6880"/><ellipse cx="491.2" cy="462.7" rx="0.7" ry="0.9" fill="#a8405c"/><ellipse cx="464.3" cy="466.9" rx="1.5" ry="1.2" fill="#b85270"/><ellipse cx="444.7" cy="444.1" rx="1.3" ry="1.4" fill="#c45a74"/><ellipse cx="488.9" cy="469.7" rx="1.5" ry="1.2" fill="#b85270"/><ellipse cx="472.4" cy="469.0" rx="1.5" ry="1.8" fill="#c45a74"/><ellipse cx="439.1" cy="447.4" rx="1.1" ry="1.0" fill="#a8405c"/><ellipse cx="481.1" cy="460.3" rx="0.9" ry="1.1" fill="#a8405c"/><ellipse cx="463.8" cy="459.5" rx="1.3" ry="1.3" fill="#b85270"/><ellipse cx="453.7" cy="497.3" rx="1.4" ry="1.3" fill="#b85270"/><ellipse cx="450.1" cy="467.7" rx="1.2" ry="1.4" fill="#cc6880"/><ellipse cx="457.9" cy="463.7" rx="1.5" ry="1.6" fill="#c45a74"/><ellipse cx="448.8" cy="465.6" rx="1.4" ry="1.4" fill="#b84a66"/><ellipse cx="436.9" cy="474.2" rx="1.6" ry="1.5" fill="#a8405c"/><ellipse cx="482.4" cy="462.4" rx="1.0" ry="1.0" fill="#b84a66"/><ellipse cx="474.0" cy="476.4" rx="1.7" ry="1.4" fill="#b84a66"/><ellipse cx="491.4" cy="456.1" rx="1.0" ry="1.1" fill="#b85270"/><ellipse cx="472.5" cy="474.0" rx="0.9" ry="1.1" fill="#c45a74"/><ellipse cx="459.8" cy="486.4" rx="1.4" ry="1.7" fill="#b84a66"/><ellipse cx="444.6" cy="504.1" rx="1.0" ry="0.9" fill="#c45a74"/><ellipse cx="482.2" cy="455.5" rx="1.3" ry="1.1" fill="#b84a66"/><ellipse cx="449.9" cy="498.2" rx="1.6" ry="1.5" fill="#b85270"/><ellipse cx="489.1" cy="465.4" rx="1.1" ry="0.9" fill="#c45a74"/><ellipse cx="455.2" cy="476.1" rx="1.4" ry="1.6" fill="#b85270"/><ellipse cx="463.4" cy="490.2" rx="1.2" ry="1.3" fill="#cc6880"/><ellipse cx="449.0" cy="491.1" rx="1.6" ry="1.2" fill="#a8405c"/><ellipse cx="460.8" cy="466.8" rx="1.2" ry="1.4" fill="#cc6880"/><ellipse cx="450.4" cy="488.0" rx="1.1" ry="1.4" fill="#b85270"/><ellipse cx="456.7" cy="454.3" rx="1.6" ry="1.2" fill="#b85270"/><ellipse cx="439.9" cy="458.8" rx="0.9" ry="1.2" fill="#b85270"/><ellipse cx="507.1" cy="450.6" rx="1.0" ry="1.2" fill="#c45a74"/><ellipse cx="448.3" cy="456.0" rx="1.4" ry="1.2" fill="#c45a74"/><ellipse cx="443.3" cy="450.0" rx="1.0" ry="1.0" fill="#a8405c"/><ellipse cx="448.7" cy="485.1" rx="1.3" ry="1.5" fill="#c45a74"/><ellipse cx="447.9" cy="489.0" rx="1.0" ry="0.8" fill="#b85270"/><ellipse cx="436.3" cy="488.4" rx="1.5" ry="1.5" fill="#b85270"/><ellipse cx="494.7" cy="461.6" rx="1.6" ry="1.4" fill="#a8405c"/><ellipse cx="457.4" cy="469.4" rx="1.2" ry="1.1" fill="#c45a74"/><ellipse cx="461.4" cy="482.1" rx="1.1" ry="0.9" fill="#c45a74"/></g>
<path d="M437,512 L507,459" stroke="#63709a" stroke-width="1.6" fill="none" opacity="0.8"/>
<path d="M440,510 L506,461" stroke="#8898b8" stroke-width="1" fill="none" opacity="0.5" stroke-dasharray="1 1"/>
<rect x="491" y="500" width="17" height="14" fill="#f4eaec"/>
<text x="491.8" y="509.4" font-size="10" font-weight="bold" fill="#000">DA</text>
</g>
<g clip-path="url(#cfl2)">
<rect x="436.2" y="525.7" width="71" height="70.3" fill="#f2e2e6"/>
<path d="M436,545 C452,560 474,580 494,597 L436,597 Z" fill="#e8b6c2"/>
<path d="M436,552 L466,578" stroke="#d0889c" stroke-width="1.6" opacity="0.6"/>
<path d="M436,560 L469,586" stroke="#d0889c" stroke-width="1.6" opacity="0.6"/>
<path d="M436,568 L472,594" stroke="#d0889c" stroke-width="1.6" opacity="0.6"/>
<path d="M436,576 L475,602" stroke="#d0889c" stroke-width="1.6" opacity="0.6"/>
<path d="M436,584 L478,610" stroke="#d0889c" stroke-width="1.6" opacity="0.6"/>
<g opacity="1.0"><ellipse cx="497.8" cy="555.0" rx="1.6" ry="1.5" fill="#c44a6c"/><ellipse cx="498.1" cy="532.9" rx="2.3" ry="2.0" fill="#b83c60"/><ellipse cx="499.8" cy="577.5" rx="1.6" ry="1.7" fill="#cc5878"/><ellipse cx="436.8" cy="531.2" rx="2.4" ry="2.0" fill="#a83458"/><ellipse cx="457.3" cy="559.6" rx="1.9" ry="1.9" fill="#cc5878"/><ellipse cx="490.4" cy="541.4" rx="1.4" ry="1.2" fill="#cc5878"/><ellipse cx="507.8" cy="532.6" rx="1.6" ry="1.9" fill="#b83c60"/><ellipse cx="488.2" cy="586.4" rx="2.0" ry="1.8" fill="#a83458"/><ellipse cx="473.3" cy="580.1" rx="1.9" ry="1.5" fill="#cc5878"/><ellipse cx="499.6" cy="571.3" rx="2.6" ry="2.6" fill="#a83458"/><ellipse cx="488.4" cy="541.5" rx="1.3" ry="1.7" fill="#a83458"/><ellipse cx="498.0" cy="592.8" rx="1.6" ry="1.9" fill="#cc5878"/><ellipse cx="442.2" cy="544.1" rx="1.3" ry="1.7" fill="#b83c60"/><ellipse cx="460.1" cy="536.3" rx="1.4" ry="1.8" fill="#c44a6c"/><ellipse cx="508.1" cy="526.3" rx="2.1" ry="2.3" fill="#be4466"/><ellipse cx="465.2" cy="530.1" rx="1.7" ry="1.3" fill="#b83c60"/><ellipse cx="503.0" cy="551.4" rx="2.6" ry="2.6" fill="#be4466"/><ellipse cx="448.1" cy="539.6" rx="1.3" ry="1.2" fill="#cc5878"/><ellipse cx="498.4" cy="588.2" rx="2.7" ry="2.4" fill="#b83c60"/><ellipse cx="501.7" cy="532.3" rx="1.6" ry="2.0" fill="#cc5878"/><ellipse cx="494.1" cy="579.5" rx="1.8" ry="1.6" fill="#cc5878"/><ellipse cx="502.1" cy="527.4" rx="1.9" ry="1.5" fill="#cc5878"/><ellipse cx="507.2" cy="530.3" rx="2.2" ry="2.2" fill="#be4466"/><ellipse cx="453.0" cy="524.9" rx="1.5" ry="1.6" fill="#cc5878"/><ellipse cx="496.1" cy="575.1" rx="1.4" ry="1.6" fill="#a83458"/><ellipse cx="489.7" cy="543.8" rx="1.8" ry="2.1" fill="#cc5878"/><ellipse cx="476.9" cy="574.2" rx="2.0" ry="1.6" fill="#cc5878"/><ellipse cx="459.3" cy="558.9" rx="1.9" ry="2.3" fill="#cc5878"/><ellipse cx="450.2" cy="535.8" rx="2.5" ry="1.8" fill="#cc5878"/><ellipse cx="504.2" cy="564.0" rx="2.0" ry="1.8" fill="#cc5878"/><ellipse cx="445.4" cy="539.0" rx="2.0" ry="2.1" fill="#b83c60"/><ellipse cx="491.4" cy="536.4" rx="1.5" ry="1.5" fill="#c44a6c"/><ellipse cx="476.7" cy="574.3" rx="2.1" ry="1.7" fill="#a83458"/><ellipse cx="501.3" cy="568.0" rx="2.6" ry="2.2" fill="#be4466"/><ellipse cx="504.8" cy="567.4" rx="1.3" ry="1.3" fill="#a83458"/><ellipse cx="500.0" cy="526.0" rx="1.5" ry="1.3" fill="#c44a6c"/><ellipse cx="505.1" cy="554.8" rx="2.4" ry="1.9" fill="#be4466"/><ellipse cx="469.7" cy="573.0" rx="1.4" ry="1.6" fill="#a83458"/><ellipse cx="448.9" cy="555.8" rx="1.6" ry="1.6" fill="#a83458"/><ellipse cx="468.4" cy="571.2" rx="1.6" ry="1.9" fill="#cc5878"/><ellipse cx="485.1" cy="527.5" rx="1.6" ry="1.5" fill="#b83c60"/><ellipse cx="476.5" cy="526.9" rx="1.6" ry="1.6" fill="#be4466"/><ellipse cx="492.4" cy="536.6" rx="1.9" ry="1.9" fill="#a83458"/><ellipse cx="497.2" cy="564.6" rx="2.1" ry="2.0" fill="#c44a6c"/><ellipse cx="481.0" cy="537.9" rx="1.4" ry="1.5" fill="#be4466"/><ellipse cx="494.2" cy="549.4" rx="1.8" ry="1.9" fill="#a83458"/><ellipse cx="494.6" cy="533.1" rx="1.7" ry="1.5" fill="#be4466"/><ellipse cx="500.7" cy="578.6" rx="2.7" ry="2.5" fill="#b83c60"/><ellipse cx="496.9" cy="550.9" rx="1.8" ry="2.4" fill="#a83458"/><ellipse cx="504.0" cy="548.9" rx="1.6" ry="1.7" fill="#c44a6c"/><ellipse cx="459.0" cy="533.3" rx="1.9" ry="2.0" fill="#be4466"/><ellipse cx="482.8" cy="530.4" rx="1.5" ry="1.2" fill="#a83458"/><ellipse cx="485.3" cy="582.2" rx="2.2" ry="1.7" fill="#be4466"/><ellipse cx="440.7" cy="543.8" rx="1.6" ry="1.4" fill="#cc5878"/><ellipse cx="502.2" cy="594.5" rx="1.7" ry="1.3" fill="#cc5878"/><ellipse cx="501.8" cy="528.2" rx="2.7" ry="2.6" fill="#be4466"/><ellipse cx="483.7" cy="576.6" rx="1.5" ry="1.3" fill="#cc5878"/><ellipse cx="472.1" cy="568.8" rx="1.7" ry="2.2" fill="#cc5878"/><ellipse cx="487.2" cy="575.6" rx="2.5" ry="2.5" fill="#b83c60"/><ellipse cx="457.4" cy="562.7" rx="2.8" ry="1.9" fill="#be4466"/><ellipse cx="504.3" cy="580.0" rx="1.5" ry="1.6" fill="#a83458"/><ellipse cx="447.8" cy="535.0" rx="1.7" ry="2.1" fill="#be4466"/><ellipse cx="506.7" cy="597.9" rx="1.7" ry="1.7" fill="#c44a6c"/><ellipse cx="471.1" cy="527.4" rx="1.5" ry="1.5" fill="#b83c60"/><ellipse cx="500.5" cy="554.6" rx="1.3" ry="1.3" fill="#cc5878"/><ellipse cx="493.0" cy="586.3" rx="2.1" ry="2.5" fill="#b83c60"/><ellipse cx="473.6" cy="541.1" rx="1.2" ry="1.2" fill="#c44a6c"/><ellipse cx="486.9" cy="573.7" rx="2.0" ry="1.5" fill="#c44a6c"/><ellipse cx="485.9" cy="535.8" rx="2.2" ry="1.6" fill="#be4466"/><ellipse cx="458.0" cy="527.6" rx="2.1" ry="1.6" fill="#cc5878"/><ellipse cx="449.5" cy="548.0" rx="2.3" ry="1.8" fill="#cc5878"/><ellipse cx="478.8" cy="569.1" rx="2.0" ry="1.4" fill="#c44a6c"/><ellipse cx="447.8" cy="535.5" rx="1.7" ry="1.5" fill="#cc5878"/><ellipse cx="465.3" cy="566.7" rx="2.1" ry="1.7" fill="#c44a6c"/><ellipse cx="475.3" cy="581.8" rx="1.7" ry="1.3" fill="#a83458"/><ellipse cx="437.5" cy="532.9" rx="1.5" ry="1.8" fill="#be4466"/><ellipse cx="484.7" cy="546.8" rx="2.3" ry="2.4" fill="#a83458"/><ellipse cx="502.1" cy="588.2" rx="1.6" ry="1.3" fill="#c44a6c"/><ellipse cx="501.1" cy="597.0" rx="1.3" ry="1.4" fill="#b83c60"/><ellipse cx="481.8" cy="577.1" rx="2.5" ry="2.1" fill="#b83c60"/><ellipse cx="501.2" cy="582.5" rx="1.7" ry="2.6" fill="#be4466"/><ellipse cx="446.3" cy="537.0" rx="1.8" ry="2.2" fill="#b83c60"/><ellipse cx="486.5" cy="542.7" rx="1.3" ry="1.4" fill="#cc5878"/><ellipse cx="458.2" cy="535.7" rx="1.8" ry="1.7" fill="#b83c60"/><ellipse cx="443.0" cy="545.1" rx="2.3" ry="2.4" fill="#b83c60"/><ellipse cx="462.8" cy="560.4" rx="1.8" ry="2.4" fill="#be4466"/><ellipse cx="451.6" cy="547.0" rx="2.4" ry="1.7" fill="#a83458"/><ellipse cx="500.9" cy="574.4" rx="2.0" ry="2.5" fill="#b83c60"/><ellipse cx="476.3" cy="530.9" rx="2.7" ry="2.3" fill="#cc5878"/><ellipse cx="500.5" cy="577.2" rx="1.3" ry="1.8" fill="#be4466"/><ellipse cx="452.9" cy="534.4" rx="1.6" ry="1.4" fill="#b83c60"/><ellipse cx="436.1" cy="534.4" rx="1.3" ry="1.4" fill="#cc5878"/><ellipse cx="504.4" cy="587.2" rx="2.0" ry="2.1" fill="#c44a6c"/><ellipse cx="499.2" cy="524.7" rx="2.2" ry="2.0" fill="#a83458"/><ellipse cx="472.6" cy="574.8" rx="1.8" ry="1.6" fill="#be4466"/><ellipse cx="474.2" cy="530.0" rx="1.8" ry="1.9" fill="#a83458"/><ellipse cx="446.6" cy="529.2" rx="2.0" ry="1.8" fill="#a83458"/><ellipse cx="499.5" cy="552.1" rx="2.3" ry="2.1" fill="#a83458"/><ellipse cx="502.3" cy="542.3" rx="2.3" ry="1.8" fill="#b83c60"/><ellipse cx="437.6" cy="530.1" rx="1.7" ry="2.1" fill="#b83c60"/><ellipse cx="466.6" cy="529.9" rx="2.5" ry="2.6" fill="#c44a6c"/><ellipse cx="508.0" cy="548.7" rx="2.0" ry="2.4" fill="#b83c60"/><ellipse cx="444.0" cy="528.9" rx="1.8" ry="2.1" fill="#cc5878"/><ellipse cx="484.6" cy="590.1" rx="2.1" ry="2.1" fill="#cc5878"/><ellipse cx="497.1" cy="585.3" rx="1.1" ry="1.3" fill="#a83458"/><ellipse cx="503.9" cy="564.6" rx="1.6" ry="1.9" fill="#be4466"/><ellipse cx="457.4" cy="536.8" rx="1.7" ry="1.7" fill="#a83458"/><ellipse cx="437.2" cy="528.9" rx="2.1" ry="2.1" fill="#b83c60"/><ellipse cx="462.5" cy="536.9" rx="1.8" ry="1.8" fill="#a83458"/><ellipse cx="469.5" cy="538.7" rx="1.8" ry="2.0" fill="#a83458"/><ellipse cx="506.9" cy="548.2" rx="1.6" ry="1.5" fill="#a83458"/><ellipse cx="476.0" cy="536.9" rx="1.3" ry="1.3" fill="#be4466"/><ellipse cx="506.6" cy="542.7" rx="2.0" ry="2.2" fill="#cc5878"/><ellipse cx="502.5" cy="558.6" rx="2.1" ry="2.0" fill="#b83c60"/><ellipse cx="454.8" cy="560.6" rx="2.4" ry="2.2" fill="#b83c60"/><ellipse cx="473.4" cy="535.6" rx="1.8" ry="2.5" fill="#b83c60"/><ellipse cx="452.4" cy="526.5" rx="2.8" ry="1.8" fill="#a83458"/><ellipse cx="503.6" cy="550.6" rx="2.2" ry="2.0" fill="#be4466"/><ellipse cx="501.2" cy="546.3" rx="1.4" ry="1.6" fill="#b83c60"/><ellipse cx="472.1" cy="576.3" rx="1.8" ry="1.8" fill="#be4466"/><ellipse cx="506.1" cy="558.6" rx="1.6" ry="1.5" fill="#a83458"/><ellipse cx="499.6" cy="579.5" rx="2.1" ry="2.5" fill="#b83c60"/><ellipse cx="483.5" cy="528.2" rx="2.4" ry="1.9" fill="#b83c60"/><ellipse cx="454.5" cy="562.3" rx="2.0" ry="1.6" fill="#b83c60"/><ellipse cx="508.8" cy="581.0" rx="1.7" ry="1.3" fill="#a83458"/><ellipse cx="483.7" cy="548.6" rx="2.3" ry="2.0" fill="#a83458"/><ellipse cx="500.9" cy="584.0" rx="2.2" ry="2.2" fill="#b83c60"/><ellipse cx="454.8" cy="534.6" rx="1.8" ry="1.6" fill="#be4466"/><ellipse cx="485.6" cy="546.5" rx="2.1" ry="2.3" fill="#cc5878"/><ellipse cx="493.4" cy="529.1" rx="1.9" ry="1.3" fill="#a83458"/><ellipse cx="467.4" cy="563.8" rx="1.4" ry="1.6" fill="#c44a6c"/><ellipse cx="491.8" cy="582.7" rx="1.7" ry="1.6" fill="#b83c60"/><ellipse cx="455.6" cy="539.0" rx="1.7" ry="1.8" fill="#c44a6c"/><ellipse cx="442.0" cy="543.0" rx="1.9" ry="1.4" fill="#c44a6c"/><ellipse cx="456.5" cy="529.6" rx="2.2" ry="1.9" fill="#b83c60"/><ellipse cx="504.8" cy="564.7" rx="2.0" ry="1.9" fill="#be4466"/><ellipse cx="444.5" cy="538.6" rx="2.8" ry="2.4" fill="#be4466"/><ellipse cx="484.8" cy="586.8" rx="2.1" ry="2.0" fill="#be4466"/><ellipse cx="488.3" cy="585.3" rx="2.2" ry="1.7" fill="#b83c60"/><ellipse cx="461.1" cy="565.8" rx="1.6" ry="1.4" fill="#c44a6c"/><ellipse cx="472.6" cy="561.7" rx="2.6" ry="2.3" fill="#a83458"/><ellipse cx="500.0" cy="531.0" rx="1.4" ry="1.5" fill="#be4466"/><ellipse cx="488.2" cy="525.1" rx="2.6" ry="2.4" fill="#a83458"/><ellipse cx="498.3" cy="524.7" rx="1.6" ry="2.3" fill="#c44a6c"/><ellipse cx="458.8" cy="564.1" rx="1.4" ry="2.1" fill="#be4466"/><ellipse cx="485.4" cy="539.9" rx="1.3" ry="1.7" fill="#c44a6c"/><ellipse cx="478.3" cy="539.3" rx="1.8" ry="1.4" fill="#cc5878"/><ellipse cx="448.7" cy="544.9" rx="2.2" ry="1.7" fill="#be4466"/><ellipse cx="483.2" cy="537.4" rx="2.6" ry="1.9" fill="#c44a6c"/><ellipse cx="488.2" cy="546.7" rx="1.2" ry="1.3" fill="#b83c60"/><ellipse cx="473.8" cy="530.1" rx="1.6" ry="1.8" fill="#be4466"/><ellipse cx="452.9" cy="544.8" rx="1.8" ry="1.7" fill="#be4466"/><ellipse cx="505.1" cy="567.6" rx="1.9" ry="2.0" fill="#cc5878"/><ellipse cx="491.4" cy="555.9" rx="2.0" ry="1.9" fill="#be4466"/><ellipse cx="484.1" cy="535.4" rx="1.6" ry="1.5" fill="#be4466"/><ellipse cx="459.2" cy="532.5" rx="1.8" ry="1.8" fill="#be4466"/><ellipse cx="450.5" cy="546.0" rx="1.8" ry="1.5" fill="#cc5878"/><ellipse cx="465.4" cy="566.8" rx="1.6" ry="2.0" fill="#b83c60"/><ellipse cx="485.4" cy="532.0" rx="1.5" ry="1.2" fill="#be4466"/><ellipse cx="491.7" cy="573.6" rx="1.5" ry="1.9" fill="#be4466"/><ellipse cx="466.8" cy="529.7" rx="2.0" ry="2.0" fill="#be4466"/><ellipse cx="441.1" cy="536.4" rx="2.2" ry="1.6" fill="#c44a6c"/><ellipse cx="455.6" cy="560.3" rx="1.5" ry="1.7" fill="#b83c60"/><ellipse cx="502.9" cy="587.6" rx="1.4" ry="1.2" fill="#c44a6c"/><ellipse cx="484.7" cy="553.4" rx="2.2" ry="1.9" fill="#a83458"/><ellipse cx="505.6" cy="526.2" rx="2.5" ry="1.8" fill="#b83c60"/><ellipse cx="475.5" cy="560.6" rx="1.8" ry="1.7" fill="#a83458"/><ellipse cx="501.4" cy="560.1" rx="1.6" ry="2.0" fill="#c44a6c"/><ellipse cx="506.8" cy="563.9" rx="1.3" ry="1.2" fill="#a83458"/><ellipse cx="478.6" cy="540.5" rx="2.2" ry="2.6" fill="#b83c60"/><ellipse cx="487.7" cy="528.9" rx="1.8" ry="2.0" fill="#a83458"/><ellipse cx="440.3" cy="537.1" rx="1.8" ry="2.0" fill="#c44a6c"/><ellipse cx="506.9" cy="589.5" rx="2.7" ry="1.8" fill="#a83458"/><ellipse cx="499.8" cy="572.7" rx="1.7" ry="1.3" fill="#b83c60"/><ellipse cx="456.2" cy="525.3" rx="2.2" ry="2.4" fill="#a83458"/><ellipse cx="455.5" cy="524.1" rx="1.5" ry="1.9" fill="#be4466"/><ellipse cx="501.9" cy="533.0" rx="2.1" ry="2.0" fill="#cc5878"/><ellipse cx="504.6" cy="594.3" rx="1.9" ry="2.3" fill="#a83458"/><ellipse cx="465.3" cy="530.1" rx="2.5" ry="2.5" fill="#be4466"/><ellipse cx="460.9" cy="561.3" rx="1.4" ry="1.9" fill="#b83c60"/><ellipse cx="492.0" cy="538.4" rx="1.8" ry="2.0" fill="#be4466"/><ellipse cx="464.7" cy="540.8" rx="1.7" ry="2.2" fill="#b83c60"/><ellipse cx="505.5" cy="527.7" rx="1.6" ry="1.4" fill="#b83c60"/><ellipse cx="476.5" cy="581.1" rx="1.7" ry="2.0" fill="#be4466"/><ellipse cx="491.2" cy="531.5" rx="1.5" ry="1.2" fill="#c44a6c"/><ellipse cx="496.5" cy="580.4" rx="2.2" ry="1.5" fill="#c44a6c"/><ellipse cx="448.8" cy="556.5" rx="1.7" ry="1.7" fill="#cc5878"/><ellipse cx="462.1" cy="531.8" rx="1.7" ry="1.8" fill="#be4466"/><ellipse cx="454.9" cy="546.6" rx="1.5" ry="1.5" fill="#c44a6c"/><ellipse cx="495.9" cy="562.8" rx="1.1" ry="1.1" fill="#cc5878"/><ellipse cx="508.5" cy="586.3" rx="1.7" ry="2.0" fill="#be4466"/><ellipse cx="507.9" cy="542.5" rx="2.1" ry="2.2" fill="#b83c60"/><ellipse cx="466.2" cy="536.7" rx="1.8" ry="2.2" fill="#a83458"/><ellipse cx="488.8" cy="583.4" rx="1.8" ry="1.3" fill="#cc5878"/><ellipse cx="489.8" cy="539.5" rx="1.7" ry="1.2" fill="#c44a6c"/><ellipse cx="496.7" cy="564.6" rx="1.2" ry="1.2" fill="#be4466"/><ellipse cx="468.9" cy="536.6" rx="1.7" ry="2.0" fill="#c44a6c"/><ellipse cx="465.1" cy="525.5" rx="2.0" ry="2.5" fill="#cc5878"/><ellipse cx="458.7" cy="538.5" rx="2.0" ry="1.8" fill="#c44a6c"/><ellipse cx="457.5" cy="559.6" rx="1.5" ry="1.6" fill="#a83458"/><ellipse cx="476.2" cy="561.7" rx="1.6" ry="2.2" fill="#cc5878"/><ellipse cx="442.7" cy="534.4" rx="2.2" ry="2.0" fill="#c44a6c"/><ellipse cx="454.0" cy="553.0" rx="1.3" ry="1.3" fill="#a83458"/><ellipse cx="473.2" cy="566.6" rx="2.1" ry="2.1" fill="#a83458"/><ellipse cx="470.7" cy="528.9" rx="2.2" ry="2.0" fill="#a83458"/><ellipse cx="479.6" cy="578.9" rx="1.8" ry="1.7" fill="#b83c60"/><ellipse cx="496.6" cy="579.1" rx="2.5" ry="1.8" fill="#c44a6c"/><ellipse cx="447.0" cy="539.9" rx="1.3" ry="1.8" fill="#a83458"/><ellipse cx="504.3" cy="529.4" rx="1.1" ry="1.6" fill="#cc5878"/><ellipse cx="502.0" cy="595.5" rx="1.1" ry="1.4" fill="#b83c60"/><ellipse cx="447.0" cy="528.8" rx="1.8" ry="2.1" fill="#c44a6c"/><ellipse cx="458.0" cy="533.8" rx="1.7" ry="1.5" fill="#b83c60"/><ellipse cx="502.9" cy="582.9" rx="1.6" ry="1.7" fill="#a83458"/><ellipse cx="507.2" cy="583.2" rx="2.0" ry="1.9" fill="#a83458"/><ellipse cx="494.1" cy="536.1" rx="2.4" ry="1.9" fill="#cc5878"/></g>
<g opacity="1.0"><ellipse cx="449.9" cy="568.7" rx="1.1" ry="1.5" fill="#d48ca0"/><ellipse cx="473.0" cy="594.0" rx="1.1" ry="1.4" fill="#cc7a90"/><ellipse cx="454.1" cy="572.0" rx="1.3" ry="1.2" fill="#cc7a90"/><ellipse cx="446.4" cy="558.7" rx="1.0" ry="1.3" fill="#d48ca0"/><ellipse cx="476.6" cy="586.9" rx="1.2" ry="1.4" fill="#c86e86"/><ellipse cx="461.0" cy="588.4" rx="0.9" ry="1.0" fill="#cc7a90"/><ellipse cx="448.6" cy="577.1" rx="1.5" ry="1.7" fill="#cc7a90"/><ellipse cx="471.1" cy="583.6" rx="1.0" ry="1.3" fill="#cc7a90"/><ellipse cx="440.6" cy="584.5" rx="1.1" ry="1.2" fill="#cc7a90"/><ellipse cx="442.2" cy="569.5" rx="1.1" ry="1.0" fill="#cc7a90"/><ellipse cx="455.6" cy="578.9" rx="1.0" ry="1.0" fill="#c86e86"/><ellipse cx="458.8" cy="582.0" rx="1.4" ry="1.3" fill="#cc7a90"/><ellipse cx="460.6" cy="594.2" rx="1.1" ry="1.6" fill="#cc7a90"/><ellipse cx="454.0" cy="572.3" rx="1.4" ry="1.3" fill="#d48ca0"/><ellipse cx="470.1" cy="590.2" rx="1.7" ry="1.4" fill="#d48ca0"/><ellipse cx="437.7" cy="549.4" rx="1.4" ry="1.2" fill="#cc7a90"/><ellipse cx="446.5" cy="591.4" rx="0.9" ry="0.9" fill="#d48ca0"/><ellipse cx="440.3" cy="578.7" rx="1.4" ry="0.9" fill="#c86e86"/><ellipse cx="442.6" cy="577.4" rx="0.9" ry="1.0" fill="#d48ca0"/><ellipse cx="442.0" cy="554.2" rx="1.3" ry="1.8" fill="#d48ca0"/><ellipse cx="473.7" cy="583.1" rx="1.1" ry="1.5" fill="#d48ca0"/><ellipse cx="465.6" cy="596.3" rx="1.1" ry="1.3" fill="#cc7a90"/><ellipse cx="446.9" cy="582.1" rx="1.0" ry="1.1" fill="#d48ca0"/><ellipse cx="441.8" cy="565.8" rx="1.4" ry="1.2" fill="#c86e86"/><ellipse cx="444.1" cy="591.0" rx="1.3" ry="0.9" fill="#c86e86"/><ellipse cx="445.0" cy="568.2" rx="1.5" ry="1.1" fill="#c86e86"/><ellipse cx="478.4" cy="595.6" rx="0.9" ry="0.8" fill="#cc7a90"/><ellipse cx="453.0" cy="597.6" rx="0.9" ry="0.8" fill="#d48ca0"/><ellipse cx="459.2" cy="573.9" rx="1.7" ry="1.2" fill="#d48ca0"/><ellipse cx="447.8" cy="569.5" rx="1.3" ry="1.1" fill="#d48ca0"/><ellipse cx="442.0" cy="555.5" rx="1.6" ry="1.4" fill="#c86e86"/><ellipse cx="458.1" cy="571.6" rx="1.5" ry="1.7" fill="#d48ca0"/><ellipse cx="464.2" cy="573.6" rx="1.5" ry="1.2" fill="#c86e86"/><ellipse cx="467.0" cy="588.1" rx="1.9" ry="1.4" fill="#c86e86"/><ellipse cx="448.9" cy="594.0" rx="1.3" ry="1.1" fill="#cc7a90"/><ellipse cx="446.4" cy="559.9" rx="1.0" ry="1.0" fill="#cc7a90"/><ellipse cx="443.8" cy="576.9" rx="1.0" ry="1.2" fill="#c86e86"/><ellipse cx="460.8" cy="586.6" rx="1.6" ry="1.4" fill="#d48ca0"/><ellipse cx="447.2" cy="567.5" rx="1.6" ry="1.6" fill="#c86e86"/><ellipse cx="449.4" cy="582.4" rx="1.1" ry="0.9" fill="#c86e86"/><ellipse cx="448.6" cy="578.5" rx="1.1" ry="1.3" fill="#d48ca0"/><ellipse cx="458.7" cy="586.6" rx="1.3" ry="1.5" fill="#c86e86"/><ellipse cx="439.6" cy="579.7" rx="1.3" ry="1.3" fill="#d48ca0"/><ellipse cx="469.3" cy="582.4" rx="1.2" ry="1.7" fill="#cc7a90"/><ellipse cx="444.9" cy="596.4" rx="1.0" ry="1.0" fill="#d48ca0"/><ellipse cx="458.8" cy="570.9" rx="1.4" ry="1.6" fill="#c86e86"/><ellipse cx="453.6" cy="580.7" rx="1.7" ry="1.8" fill="#c86e86"/><ellipse cx="474.9" cy="584.8" rx="1.1" ry="1.5" fill="#c86e86"/><ellipse cx="455.8" cy="596.4" rx="1.5" ry="1.8" fill="#cc7a90"/><ellipse cx="478.8" cy="588.3" rx="1.1" ry="1.5" fill="#c86e86"/><ellipse cx="454.6" cy="583.4" rx="0.7" ry="0.8" fill="#cc7a90"/><ellipse cx="458.4" cy="589.6" rx="1.0" ry="1.0" fill="#d48ca0"/><ellipse cx="441.1" cy="562.5" rx="1.5" ry="1.4" fill="#c86e86"/><ellipse cx="473.1" cy="590.6" rx="1.1" ry="1.3" fill="#c86e86"/><ellipse cx="441.3" cy="583.8" rx="0.8" ry="0.8" fill="#d48ca0"/><ellipse cx="454.6" cy="592.4" rx="1.4" ry="1.3" fill="#c86e86"/><ellipse cx="451.4" cy="559.8" rx="1.4" ry="1.1" fill="#cc7a90"/><ellipse cx="444.0" cy="567.8" rx="1.3" ry="1.1" fill="#c86e86"/><ellipse cx="474.3" cy="593.5" rx="1.2" ry="1.0" fill="#c86e86"/><ellipse cx="481.9" cy="591.4" rx="1.0" ry="1.2" fill="#c86e86"/></g>
<ellipse cx="464.7" cy="570.2" rx="2.4" ry="2.4" fill="#3a5a88"/>
<rect x="496" y="583" width="12" height="14" fill="#f4eaec"/>
<text x="496.6" y="591.9" font-size="10" font-weight="bold" fill="#000">FL</text>
</g>
</svg>
</body></html>
